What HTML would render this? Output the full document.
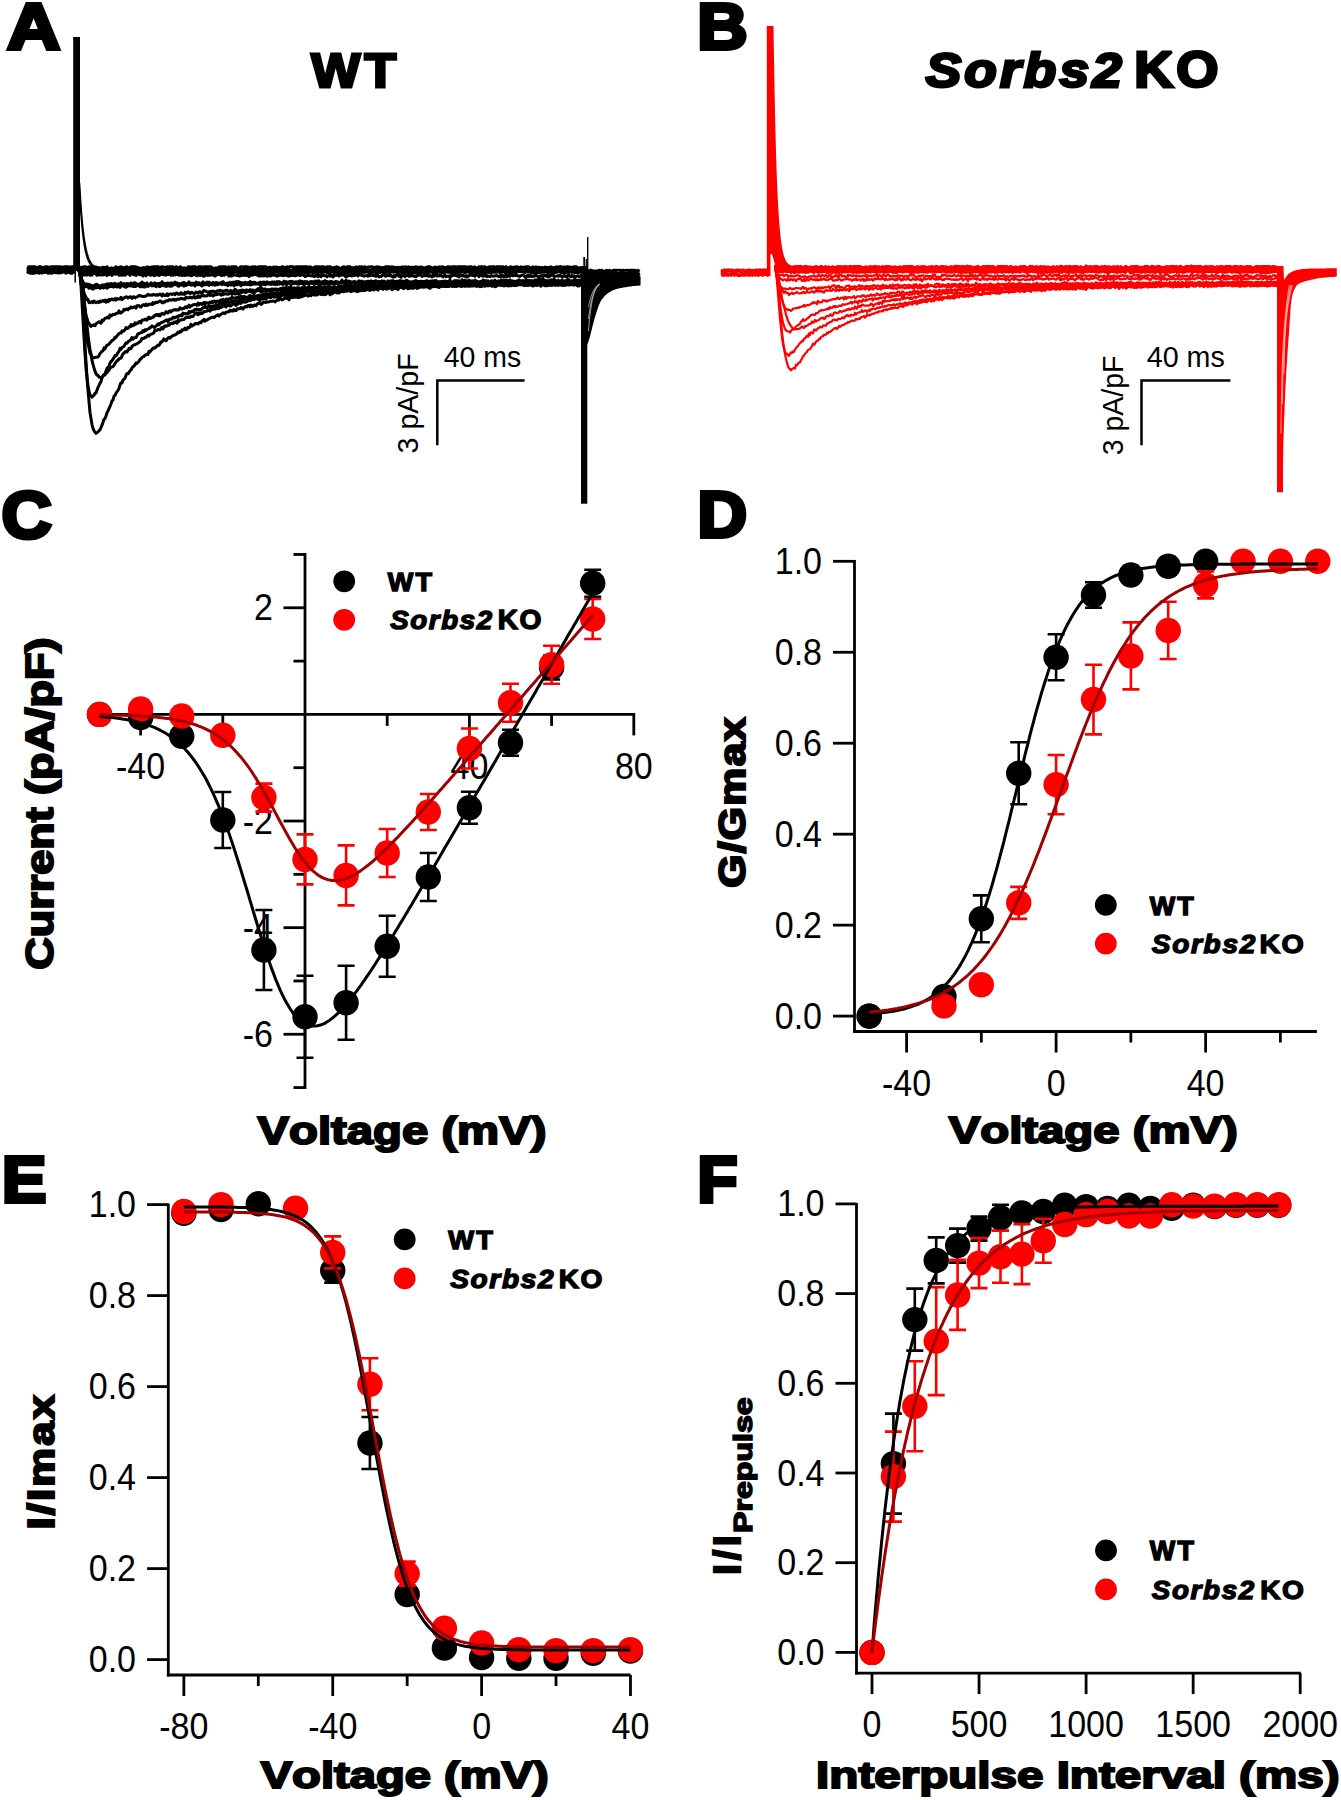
<!DOCTYPE html>
<html><head><meta charset="utf-8"><title>Figure</title>
<style>
html,body{margin:0;padding:0;background:#fff;}
svg{display:block;}
text{font-family:"Liberation Sans",sans-serif;font-kerning:none;font-feature-settings:"kern" 0;}
</style></head><body>
<svg width="1341" height="1800" viewBox="0 0 1341 1800">
<rect width="1341" height="1800" fill="#fff"/>
<text transform="matrix(0.7378,0.0000,0.0000,0.6555,6.9627,49.4000)" font-size="100" font-weight="bold" font-style="normal" fill="#000" stroke="#000" stroke-width="6.039" stroke-linejoin="miter" stroke-miterlimit="2.5">A</text>
<text transform="matrix(0.6969,0.0000,0.0000,0.6555,697.1383,49.4000)" font-size="100" font-weight="bold" font-style="normal" fill="#000" stroke="#000" stroke-width="6.214" stroke-linejoin="miter" stroke-miterlimit="2.5">B</text>
<text transform="matrix(0.6959,0.0000,0.0000,0.6723,1.4456,538.0434)" font-size="100" font-weight="bold" font-style="normal" fill="#000" stroke="#000" stroke-width="6.140" stroke-linejoin="miter" stroke-miterlimit="2.5">C</text>
<text transform="matrix(0.6865,0.0000,0.0000,0.6541,697.4079,537.4000)" font-size="100" font-weight="bold" font-style="normal" fill="#000" stroke="#000" stroke-width="6.268" stroke-linejoin="miter" stroke-miterlimit="2.5">D</text>
<text transform="matrix(0.6648,0.0000,0.0000,0.6541,1.9526,1201.9000)" font-size="100" font-weight="bold" font-style="normal" fill="#000" stroke="#000" stroke-width="6.369" stroke-linejoin="miter" stroke-miterlimit="2.5">E</text>
<text transform="matrix(0.6544,0.0000,0.0000,0.6541,697.6223,1201.9000)" font-size="100" font-weight="bold" font-style="normal" fill="#000" stroke="#000" stroke-width="6.420" stroke-linejoin="miter" stroke-miterlimit="2.5">F</text>
<text transform="matrix(0.5188,0.0000,0.0000,0.4898,311.3493,86.5000)" font-size="100" font-weight="bold" font-style="normal" fill="#000" stroke="#000" stroke-width="5.951" stroke-linejoin="miter" stroke-miterlimit="2.5" letter-spacing="8.00">WT</text>
<text transform="matrix(0.5317,0.0000,0.0000,0.4780,925.6510,87.0332)" font-size="100" font-weight="bold" font-style="italic" fill="#000" stroke="#000" stroke-width="5.951" stroke-linejoin="miter" stroke-miterlimit="2.5" letter-spacing="6.00">Sorbs2</text>
<text transform="matrix(0.5426,0.0000,0.0000,0.4958,1134.2701,87.0159)" font-size="100" font-weight="bold" font-style="normal" fill="#000" stroke="#000" stroke-width="5.784" stroke-linejoin="miter" stroke-miterlimit="2.5" letter-spacing="5.00">KO</text>
<path d="M27.0 266.8 L28.5 267.1 L30.0 266.6 L31.5 266.5 L33.0 266.5 L34.5 266.5 L36.0 266.9 L37.5 268.0 L39.0 266.5 L40.5 266.5 L42.0 267.2 L43.5 267.1 L45.0 266.9 L46.5 266.5 L48.0 266.8 L49.5 267.4 L51.0 266.5 L52.5 266.5 L54.0 266.5 L55.5 266.5 L57.0 266.5 L58.5 266.6 L60.0 266.5 L61.5 267.0 L63.0 266.9 L64.5 266.6 L66.0 266.5 L67.5 266.5 L69.0 266.8 L70.5 266.9 L72.0 266.5 L73.5 266.5 L75.0 266.5" fill="none" stroke="#000" stroke-width="2.6" stroke-linejoin="round"/>
<path d="M27.0 267.7 L28.5 269.4 L30.0 267.7 L31.5 268.4 L33.0 269.2 L34.5 267.9 L36.0 268.3 L37.5 268.5 L39.0 268.5 L40.5 267.3 L42.0 268.5 L43.5 269.6 L45.0 267.0 L46.5 269.2 L48.0 268.5 L49.5 267.8 L51.0 270.2 L52.5 269.1 L54.0 267.3 L55.5 268.5 L57.0 268.9 L58.5 268.2 L60.0 269.0 L61.5 268.3 L63.0 269.0 L64.5 269.7 L66.0 267.8 L67.5 268.6 L69.0 268.0 L70.5 268.5 L72.0 267.3 L73.5 267.9 L75.0 268.2" fill="none" stroke="#000" stroke-width="2.6" stroke-linejoin="round"/>
<path d="M27.0 270.8 L28.5 271.0 L30.0 268.8 L31.5 269.3 L33.0 270.6 L34.5 268.2 L36.0 269.6 L37.5 269.9 L39.0 271.1 L40.5 270.6 L42.0 269.7 L43.5 269.7 L45.0 269.8 L46.5 271.4 L48.0 269.6 L49.5 269.7 L51.0 270.3 L52.5 269.9 L54.0 269.8 L55.5 269.0 L57.0 270.0 L58.5 269.6 L60.0 271.0 L61.5 270.6 L63.0 270.0 L64.5 270.6 L66.0 269.7 L67.5 270.9 L69.0 270.0 L70.5 270.5 L72.0 268.8 L73.5 270.3 L75.0 268.5" fill="none" stroke="#000" stroke-width="2.6" stroke-linejoin="round"/>
<path d="M27.0 269.8 L28.5 271.3 L30.0 270.8 L31.5 271.7 L33.0 273.5 L34.5 270.9 L36.0 271.0 L37.5 271.8 L39.0 272.0 L40.5 271.4 L42.0 271.4 L43.5 272.2 L45.0 272.1 L46.5 270.7 L48.0 271.5 L49.5 271.6 L51.0 270.7 L52.5 271.8 L54.0 270.8 L55.5 272.5 L57.0 271.8 L58.5 271.7 L60.0 271.1 L61.5 271.5 L63.0 269.8 L64.5 270.6 L66.0 271.9 L67.5 269.7 L69.0 272.4 L70.5 270.0 L72.0 272.3 L73.5 270.8 L75.0 272.3" fill="none" stroke="#000" stroke-width="2.6" stroke-linejoin="round"/>
<path d="M27.0 273.3 L28.5 271.8 L30.0 273.5 L31.5 273.5 L33.0 273.1 L34.5 273.0 L36.0 273.1 L37.5 272.3 L39.0 273.5 L40.5 272.7 L42.0 273.2 L43.5 272.5 L45.0 272.6 L46.5 272.1 L48.0 273.5 L49.5 273.1 L51.0 273.5 L52.5 273.2 L54.0 272.6 L55.5 272.9 L57.0 272.7 L58.5 273.2 L60.0 272.9 L61.5 272.9 L63.0 272.0 L64.5 272.5 L66.0 273.5 L67.5 272.6 L69.0 272.3 L70.5 273.5 L72.0 273.5 L73.5 271.9 L75.0 273.0" fill="none" stroke="#000" stroke-width="2.6" stroke-linejoin="round"/>
<rect x="73.2" y="37" width="6.8" height="234" fill="#000"/>
<line x1="75.20" y1="265.00" x2="75.20" y2="282.50" stroke="#000" stroke-width="1.5" stroke-linecap="butt"/>
<path d="M79.5 183.0 L80.0 192.0 L80.5 200.0 L81.0 207.2 L81.5 213.7 L82.0 219.5 L82.5 224.7 L83.0 229.3 L83.5 233.5 L84.0 237.3 L84.5 240.7 L85.0 243.7 L85.5 246.4 L86.0 248.8 L86.5 251.0 L87.0 253.0 L87.5 254.7 L88.0 256.3 L88.5 257.7 L89.0 259.0 L89.5 260.1 L90.0 261.1 L90.5 262.0 L91.0 262.9 L91.5 263.6 L92.0 264.3 L92.5 264.8 L93.0 265.4 L93.5 265.9 L94.0 266.3 L94.5 266.7 L95.0 267.0 L95.5 267.3 L96.0 267.6 L96.5 267.8 L97.0 268.1 L97.5 268.3 L98.0 268.4 L98.5 268.6 L99.0 268.7 L99.5 268.9" fill="none" stroke="#000" stroke-width="1.6" stroke-linejoin="round"/>
<path d="M79.5 189.0 L80.0 198.3 L80.5 206.5 L81.0 213.8 L81.5 220.3 L82.0 226.0 L82.5 231.0 L83.0 235.5 L83.5 239.5 L84.0 243.0 L84.5 246.1 L85.0 248.8 L85.5 251.3 L86.0 253.4 L86.5 255.3 L87.0 257.0 L87.5 258.5 L88.0 259.8 L88.5 261.0 L89.0 262.0 L89.5 262.9 L90.0 263.7 L90.5 264.5 L91.0 265.1 L91.5 265.7 L92.0 266.2 L92.5 266.6 L93.0 267.0 L93.5 267.3 L94.0 267.6 L94.5 267.9 L95.0 268.2 L95.5 268.4 L96.0 268.6 L96.5 268.7 L97.0 268.9 L97.5 269.0 L98.0 269.1 L98.5 269.2 L99.0 269.3 L99.5 269.4" fill="none" stroke="#000" stroke-width="1.6" stroke-linejoin="round"/>
<path d="M79.0 269.6 L80.0 271.9 L81.0 281.2 L82.0 293.1 L83.0 309.1 L84.0 326.3 L85.0 345.1 L86.0 361.6 L87.0 377.3 L88.0 390.2 L89.0 401.5 L90.0 412.5 L91.0 418.5 L92.0 424.6 L93.0 428.3 L94.0 430.6 L95.0 432.1 L96.0 433.4 L97.0 432.6 L98.0 431.8 L99.0 430.7 L100.0 429.8 L101.0 427.5 L102.0 425.2 L103.0 422.2 L104.0 419.3 L105.0 418.5 L106.0 416.0 L107.0 412.8 L108.0 410.8 L109.0 408.6 L110.0 406.3 L111.0 404.0 L112.0 400.8 L113.0 400.1 L114.0 396.0 L115.0 395.4 L116.0 393.2 L117.0 391.6 L118.0 390.4 L119.0 388.3 L120.0 384.8 L121.0 382.7 L122.0 382.9 L123.0 380.0 L124.0 379.2 L125.0 378.3 L126.0 375.2 L127.0 373.5 L128.0 373.8 L129.0 372.4 L130.0 370.9 L131.0 369.9 L132.0 368.1 L133.0 366.4 L134.0 366.2 L135.0 364.6 L136.0 363.0 L137.0 363.5 L138.0 362.1 L139.0 361.4 L140.0 359.4 L141.0 358.7 L142.0 357.5 L143.0 356.7 L144.0 356.5 L145.0 355.0 L146.0 354.9 L147.0 354.0 L148.0 354.4 L149.0 351.2 L150.0 351.9 L151.0 350.5 L152.0 349.7 L153.0 347.9 L154.0 347.9 L155.0 348.0 L156.0 346.7 L157.0 346.1 L158.0 345.1 L159.0 345.4 L160.0 343.9 L161.0 341.7 L162.0 342.0 L163.0 340.5 L164.0 338.9 L165.0 340.2 L166.0 340.8 L167.0 339.3 L168.0 337.8 L169.0 337.4 L170.0 338.2 L171.0 336.9 L172.0 336.3 L173.0 335.6 L174.0 335.1 L175.0 335.1 L176.0 334.3 L177.0 333.5 L178.0 332.1 L179.0 332.6 L180.0 331.3 L181.0 332.0 L182.0 329.8 L183.0 330.1 L184.0 329.6 L185.0 328.2 L186.0 329.8 L187.0 329.2 L188.0 327.3 L189.0 327.7 L190.0 327.0 L191.0 324.4 L192.0 325.9 L193.0 325.2 L194.0 324.9 L195.0 323.6 L196.0 323.7 L197.0 323.4 L198.0 323.9 L199.0 322.8 L200.0 322.2 L201.0 322.8 L202.0 321.0 L203.0 320.7 L204.0 319.3 L205.0 321.2 L206.0 320.4 L207.0 320.0 L208.0 319.4 L209.0 318.6 L210.0 318.3 L211.0 317.6 L212.0 317.3 L213.0 317.1 L214.0 317.7 L215.0 316.7 L216.0 315.9 L217.0 315.2 L218.0 314.8 L219.0 316.0 L220.0 314.9 L221.0 314.3 L222.0 313.7 L223.0 312.8 L224.0 313.2 L225.0 313.5 L226.0 312.3 L227.0 312.1 L228.0 311.8 L229.0 311.7 L230.0 310.2 L231.0 310.9 L232.0 310.2 L233.0 311.1 L234.0 309.6 L235.0 310.3 L236.0 310.7 L237.0 309.1 L238.0 308.6 L239.0 308.9 L240.0 308.5 L241.0 307.5 L242.0 308.3 L243.0 309.1 L244.0 307.2 L245.0 307.0 L246.0 306.2 L247.0 306.9 L248.0 305.5 L249.0 305.4 L250.0 306.8 L251.0 305.0 L252.0 306.2 L253.0 306.3 L254.0 305.1 L255.0 305.1 L256.0 305.9 L257.0 304.1 L258.0 303.6 L259.0 302.9 L260.0 303.6 L261.0 304.4 L262.0 303.8 L263.0 302.3 L264.0 302.1 L265.0 302.2 L266.0 302.5 L267.0 302.0 L268.0 302.1 L269.0 301.9 L270.0 301.3 L271.0 301.3 L272.0 301.3 L273.0 300.9 L274.0 301.1 L275.0 301.9 L276.0 300.8 L277.0 300.3 L278.0 298.9 L279.0 300.1 L280.0 298.3 L281.0 298.5 L282.0 299.9 L283.0 299.7 L284.0 298.9 L285.0 297.6 L286.0 298.4 L287.0 298.0 L288.0 298.8 L289.0 299.8 L290.0 298.2 L291.0 297.3 L292.0 296.9 L293.0 297.5 L294.0 297.3 L295.0 296.5 L296.0 297.2 L297.0 296.2 L298.0 297.6 L299.0 297.5 L300.0 297.3 L301.0 296.1 L302.0 296.7 L303.0 296.1 L304.0 295.7 L305.0 295.6 L306.0 294.8 L307.0 294.6 L308.0 296.1 L309.0 295.2 L310.0 295.4 L311.0 295.8 L312.0 293.8 L313.0 294.3 L314.0 294.9 L315.0 294.9 L316.0 294.3 L317.0 295.1 L318.0 294.4 L319.0 293.3 L320.0 293.4 L321.0 294.5 L322.0 294.2 L323.0 292.4 L324.0 294.6 L325.0 293.9 L326.0 294.4 L327.0 293.0 L328.0 293.0 L329.0 292.3 L330.0 294.8 L331.0 292.8 L332.0 293.9 L333.0 292.3 L334.0 292.7 L335.0 291.3 L336.0 292.2 L337.0 293.0 L338.0 291.4 L339.0 292.9 L340.0 292.3 L341.0 291.2 L342.0 291.5 L343.0 291.5 L344.0 291.7 L345.0 291.2 L346.0 291.0 L347.0 291.2 L348.0 290.7 L349.0 290.4 L350.0 291.2 L351.0 291.7 L352.0 290.0 L353.0 291.0 L354.0 290.4 L355.0 290.1 L356.0 291.3 L357.0 290.3 L358.0 291.6 L359.0 290.0 L360.0 290.7 L361.0 290.2 L362.0 289.8 L363.0 290.7 L364.0 290.1 L365.0 290.5 L366.0 290.0 L367.0 289.2 L368.0 289.8 L369.0 289.9 L370.0 290.4 L371.0 289.1 L372.0 289.6 L373.0 288.4 L374.0 290.0 L375.0 288.7 L376.0 288.1 L377.0 289.3 L378.0 290.1 L379.0 288.2 L380.0 288.4 L381.0 288.6 L382.0 288.3 L383.0 289.3 L384.0 288.4 L385.0 288.4 L386.0 289.2 L387.0 288.3 L388.0 289.0 L389.0 288.0 L390.0 287.8 L391.0 287.3 L392.0 289.8 L393.0 288.2 L394.0 288.6 L395.0 288.4 L396.0 288.4 L397.0 288.3 L398.0 289.6 L399.0 287.5 L400.0 287.0 L401.0 287.4 L402.0 287.1 L403.0 288.5 L404.0 288.5 L405.0 287.2 L406.0 286.9 L407.0 287.6 L408.0 288.8 L409.0 285.8 L410.0 288.1 L411.0 286.9 L412.0 288.3 L413.0 286.8 L414.0 287.3 L415.0 286.4 L416.0 286.8 L417.0 288.4 L418.0 288.0 L419.0 287.1 L420.0 286.7 L421.0 286.0 L422.0 287.0 L423.0 287.2 L424.0 287.1 L425.0 287.1 L426.0 286.3 L427.0 287.0 L428.0 287.0 L429.0 287.9 L430.0 288.3 L431.0 286.8 L432.0 286.4 L433.0 286.8 L434.0 286.4 L435.0 286.3 L436.0 286.7 L437.0 286.0 L438.0 287.1 L439.0 286.6 L440.0 286.8 L441.0 286.5 L442.0 286.1 L443.0 285.9 L444.0 286.4 L445.0 286.1 L446.0 286.6 L447.0 286.5 L448.0 285.5 L449.0 286.4 L450.0 285.4 L451.0 285.9 L452.0 286.1 L453.0 284.8 L454.0 286.3 L455.0 286.4 L456.0 286.1 L457.0 285.9 L458.0 285.9 L459.0 285.5 L460.0 285.9 L461.0 285.7 L462.0 286.1 L463.0 285.2 L464.0 286.2 L465.0 286.1 L466.0 285.9 L467.0 285.7 L468.0 286.3 L469.0 284.8 L470.0 286.2 L471.0 286.0 L472.0 286.1 L473.0 286.1 L474.0 285.4 L475.0 285.6 L476.0 286.2 L477.0 286.1 L478.0 285.9 L479.0 284.7 L480.0 286.1 L481.0 286.5 L482.0 286.4 L483.0 285.8 L484.0 284.5 L485.0 286.3 L486.0 285.5 L487.0 283.8 L488.0 285.8 L489.0 284.5 L490.0 284.6 L491.0 285.1 L492.0 286.4 L493.0 285.2 L494.0 285.6 L495.0 286.7 L496.0 286.5 L497.0 285.3 L498.0 285.2 L499.0 284.5 L500.0 284.9 L501.0 285.6 L502.0 285.6 L503.0 285.4 L504.0 286.0 L505.0 284.7 L506.0 285.2 L507.0 285.8 L508.0 285.7 L509.0 286.0 L510.0 285.5 L511.0 285.0 L512.0 285.4 L513.0 284.5 L514.0 284.0 L515.0 285.6 L516.0 285.1 L517.0 285.3 L518.0 283.9 L519.0 284.8 L520.0 284.7 L521.0 284.5 L522.0 283.5 L523.0 284.8 L524.0 285.7 L525.0 285.3 L526.0 284.6 L527.0 285.0 L528.0 285.5 L529.0 283.1 L530.0 284.9 L531.0 285.3 L532.0 285.4 L533.0 286.1 L534.0 285.7 L535.0 285.1 L536.0 285.1 L537.0 285.5 L538.0 284.5 L539.0 284.9 L540.0 285.5 L541.0 286.2 L542.0 284.7 L543.0 284.8 L544.0 285.0 L545.0 285.8 L546.0 284.8 L547.0 285.8 L548.0 284.1 L549.0 284.7 L550.0 284.6 L551.0 285.3 L552.0 285.5 L553.0 283.7 L554.0 284.1 L555.0 285.0 L556.0 284.3 L557.0 283.7 L558.0 285.4 L559.0 285.1 L560.0 285.0 L561.0 284.4 L562.0 285.4 L563.0 284.5 L564.0 285.4 L565.0 284.0 L566.0 284.1 L567.0 284.8 L568.0 284.1 L569.0 285.1 L570.0 284.8 L571.0 284.0 L572.0 284.7 L573.0 284.4 L574.0 285.2 L575.0 284.1 L576.0 284.3 L577.0 285.4 L578.0 286.1 L579.0 286.0 L580.0 284.6 L581.0 284.7 L582.0 285.6" fill="none" stroke="#000" stroke-width="3" stroke-linejoin="round"/>
<path d="M79.0 269.9 L80.0 274.0 L81.0 285.8 L82.0 302.3 L83.0 319.9 L84.0 337.4 L85.0 353.6 L86.0 368.3 L87.0 377.6 L88.0 385.7 L89.0 391.2 L90.0 394.9 L91.0 396.0 L92.0 397.2 L93.0 395.9 L94.0 395.3 L95.0 393.3 L96.0 393.0 L97.0 390.1 L98.0 387.4 L99.0 385.4 L100.0 383.2 L101.0 381.6 L102.0 377.7 L103.0 375.9 L104.0 374.2 L105.0 374.2 L106.0 371.1 L107.0 368.4 L108.0 367.2 L109.0 366.4 L110.0 363.1 L111.0 361.4 L112.0 360.9 L113.0 359.0 L114.0 357.7 L115.0 355.5 L116.0 355.9 L117.0 354.5 L118.0 352.5 L119.0 351.4 L120.0 348.4 L121.0 349.2 L122.0 347.6 L123.0 347.0 L124.0 346.3 L125.0 344.6 L126.0 342.8 L127.0 343.3 L128.0 341.7 L129.0 341.2 L130.0 340.2 L131.0 339.6 L132.0 337.5 L133.0 339.2 L134.0 337.8 L135.0 337.7 L136.0 337.7 L137.0 335.6 L138.0 333.7 L139.0 333.7 L140.0 332.9 L141.0 332.7 L142.0 332.5 L143.0 330.5 L144.0 331.6 L145.0 329.7 L146.0 330.4 L147.0 329.6 L148.0 328.9 L149.0 328.6 L150.0 327.7 L151.0 327.2 L152.0 325.9 L153.0 326.6 L154.0 327.4 L155.0 327.0 L156.0 326.1 L157.0 325.2 L158.0 323.8 L159.0 324.8 L160.0 323.3 L161.0 322.9 L162.0 322.3 L163.0 322.1 L164.0 321.3 L165.0 321.1 L166.0 320.0 L167.0 320.1 L168.0 321.6 L169.0 319.5 L170.0 319.0 L171.0 319.2 L172.0 318.9 L173.0 317.3 L174.0 317.5 L175.0 318.0 L176.0 317.1 L177.0 316.7 L178.0 317.3 L179.0 315.4 L180.0 315.6 L181.0 314.8 L182.0 315.9 L183.0 313.1 L184.0 313.7 L185.0 313.5 L186.0 314.0 L187.0 313.6 L188.0 313.9 L189.0 311.5 L190.0 312.8 L191.0 311.7 L192.0 311.2 L193.0 311.7 L194.0 310.4 L195.0 309.3 L196.0 310.2 L197.0 309.1 L198.0 309.4 L199.0 309.9 L200.0 309.5 L201.0 310.2 L202.0 308.6 L203.0 307.4 L204.0 307.7 L205.0 307.3 L206.0 306.9 L207.0 307.8 L208.0 306.7 L209.0 305.6 L210.0 307.2 L211.0 306.4 L212.0 306.4 L213.0 306.0 L214.0 306.2 L215.0 305.5 L216.0 306.1 L217.0 305.3 L218.0 305.0 L219.0 304.8 L220.0 303.3 L221.0 304.0 L222.0 303.7 L223.0 303.8 L224.0 302.5 L225.0 304.4 L226.0 303.1 L227.0 302.0 L228.0 301.4 L229.0 302.2 L230.0 302.1 L231.0 301.5 L232.0 301.9 L233.0 301.1 L234.0 301.8 L235.0 300.7 L236.0 301.0 L237.0 301.5 L238.0 302.4 L239.0 299.7 L240.0 299.9 L241.0 299.5 L242.0 300.5 L243.0 298.9 L244.0 299.2 L245.0 299.4 L246.0 298.5 L247.0 298.4 L248.0 298.5 L249.0 297.2 L250.0 297.5 L251.0 298.1 L252.0 298.3 L253.0 297.9 L254.0 296.7 L255.0 297.4 L256.0 298.2 L257.0 297.8 L258.0 297.2 L259.0 296.5 L260.0 297.4 L261.0 296.4 L262.0 295.9 L263.0 296.0 L264.0 297.4 L265.0 296.4 L266.0 296.9 L267.0 295.7 L268.0 296.5 L269.0 295.3 L270.0 295.5 L271.0 297.2 L272.0 295.9 L273.0 294.9 L274.0 295.0 L275.0 295.2 L276.0 295.7 L277.0 294.4 L278.0 293.4 L279.0 294.3 L280.0 294.3 L281.0 294.3 L282.0 295.0 L283.0 294.2 L284.0 294.4 L285.0 293.0 L286.0 294.2 L287.0 295.0 L288.0 294.0 L289.0 293.5 L290.0 293.3 L291.0 294.3 L292.0 292.3 L293.0 292.8 L294.0 293.1 L295.0 293.2 L296.0 292.3 L297.0 292.7 L298.0 292.2 L299.0 292.4 L300.0 292.1 L301.0 291.3 L302.0 292.0 L303.0 292.5 L304.0 291.1 L305.0 291.5 L306.0 292.1 L307.0 290.8 L308.0 291.6 L309.0 290.6 L310.0 292.1 L311.0 292.8 L312.0 292.5 L313.0 290.9 L314.0 291.4 L315.0 290.9 L316.0 290.8 L317.0 291.8 L318.0 289.7 L319.0 291.3 L320.0 290.4 L321.0 291.3 L322.0 290.4 L323.0 289.7 L324.0 290.3 L325.0 290.6 L326.0 290.0 L327.0 290.3 L328.0 289.5 L329.0 288.3 L330.0 290.3 L331.0 290.1 L332.0 289.7 L333.0 289.5 L334.0 290.1 L335.0 289.0 L336.0 288.8 L337.0 289.1 L338.0 290.0 L339.0 288.1 L340.0 289.9 L341.0 288.5 L342.0 288.1 L343.0 289.7 L344.0 288.7 L345.0 287.8 L346.0 288.4 L347.0 289.3 L348.0 289.4 L349.0 288.2 L350.0 288.7 L351.0 288.9 L352.0 287.9 L353.0 288.5 L354.0 288.2 L355.0 287.8 L356.0 287.7 L357.0 288.1 L358.0 288.0 L359.0 287.5 L360.0 287.6 L361.0 288.6 L362.0 287.9 L363.0 288.4 L364.0 288.5 L365.0 288.0 L366.0 289.2 L367.0 287.0 L368.0 288.1 L369.0 287.2 L370.0 288.7 L371.0 288.5 L372.0 285.9 L373.0 286.6 L374.0 287.7 L375.0 287.7 L376.0 287.6 L377.0 287.0 L378.0 287.4 L379.0 287.5 L380.0 286.9 L381.0 287.6 L382.0 285.3 L383.0 287.3 L384.0 286.1 L385.0 287.4 L386.0 286.6 L387.0 286.1 L388.0 286.9 L389.0 286.0 L390.0 285.9 L391.0 285.4 L392.0 286.5 L393.0 286.8 L394.0 287.1 L395.0 286.3 L396.0 287.1 L397.0 286.3 L398.0 286.2 L399.0 286.6 L400.0 286.9 L401.0 285.9 L402.0 286.0 L403.0 286.0 L404.0 286.1 L405.0 285.4 L406.0 286.7 L407.0 285.7 L408.0 286.3 L409.0 285.3 L410.0 286.1 L411.0 286.1 L412.0 285.5 L413.0 287.2 L414.0 286.0 L415.0 287.0 L416.0 286.4 L417.0 285.2 L418.0 285.4 L419.0 285.9 L420.0 285.6 L421.0 285.6 L422.0 285.3 L423.0 284.3 L424.0 285.3 L425.0 283.9 L426.0 285.7 L427.0 284.9 L428.0 284.9 L429.0 285.2 L430.0 285.5 L431.0 284.3 L432.0 284.1 L433.0 284.5 L434.0 283.8 L435.0 284.5 L436.0 286.3 L437.0 284.4 L438.0 285.6 L439.0 284.2 L440.0 285.3 L441.0 284.9 L442.0 285.0 L443.0 285.4 L444.0 286.2 L445.0 285.1 L446.0 285.1 L447.0 284.3 L448.0 285.3 L449.0 284.7 L450.0 285.5 L451.0 284.8 L452.0 286.1 L453.0 283.4 L454.0 284.6 L455.0 285.4 L456.0 284.5 L457.0 284.2 L458.0 284.6 L459.0 283.8 L460.0 284.8 L461.0 286.4 L462.0 285.5 L463.0 283.9 L464.0 284.0 L465.0 284.3 L466.0 285.3 L467.0 284.0 L468.0 284.1 L469.0 285.2 L470.0 285.1 L471.0 284.3 L472.0 283.7 L473.0 283.4 L474.0 284.0 L475.0 282.9 L476.0 285.0 L477.0 284.0 L478.0 284.7 L479.0 285.7 L480.0 285.2 L481.0 283.6 L482.0 285.0 L483.0 285.1 L484.0 283.8 L485.0 283.6 L486.0 284.2 L487.0 283.2 L488.0 285.3 L489.0 282.6 L490.0 283.5 L491.0 284.0 L492.0 284.1 L493.0 284.3 L494.0 284.4 L495.0 284.0 L496.0 285.0 L497.0 282.7 L498.0 284.1 L499.0 283.6 L500.0 284.2 L501.0 284.3 L502.0 283.5 L503.0 283.6 L504.0 284.6 L505.0 284.3 L506.0 283.6 L507.0 285.5 L508.0 285.6 L509.0 283.0 L510.0 284.2 L511.0 285.8 L512.0 284.5 L513.0 284.1 L514.0 283.8 L515.0 283.6 L516.0 283.8 L517.0 283.5 L518.0 284.4 L519.0 283.6 L520.0 283.6 L521.0 283.1 L522.0 283.9 L523.0 283.3 L524.0 283.7 L525.0 284.6 L526.0 284.1 L527.0 284.2 L528.0 284.1 L529.0 283.9 L530.0 283.7 L531.0 283.6 L532.0 284.3 L533.0 283.0 L534.0 284.7 L535.0 283.8 L536.0 283.2 L537.0 283.4 L538.0 283.3 L539.0 283.9 L540.0 283.2 L541.0 284.5 L542.0 283.2 L543.0 282.1 L544.0 283.2 L545.0 282.3 L546.0 283.7 L547.0 284.4 L548.0 284.1 L549.0 282.7 L550.0 283.1 L551.0 284.9 L552.0 283.9 L553.0 283.6 L554.0 284.4 L555.0 285.3 L556.0 284.5 L557.0 283.7 L558.0 283.9 L559.0 284.0 L560.0 283.2 L561.0 282.8 L562.0 283.6 L563.0 282.9 L564.0 283.5 L565.0 283.6 L566.0 285.2 L567.0 283.0 L568.0 283.5 L569.0 283.4 L570.0 283.8 L571.0 284.3 L572.0 283.2 L573.0 282.9 L574.0 282.4 L575.0 282.9 L576.0 283.9 L577.0 283.5 L578.0 282.8 L579.0 283.2 L580.0 283.5 L581.0 283.8 L582.0 283.1" fill="none" stroke="#000" stroke-width="3" stroke-linejoin="round"/>
<path d="M79.0 269.8 L80.0 270.7 L81.0 274.8 L82.0 282.6 L83.0 287.5 L84.0 297.7 L85.0 307.6 L86.0 316.7 L87.0 325.6 L88.0 334.8 L89.0 342.6 L90.0 349.5 L91.0 354.2 L92.0 360.5 L93.0 364.3 L94.0 367.9 L95.0 371.2 L96.0 373.6 L97.0 375.3 L98.0 375.3 L99.0 377.0 L100.0 377.4 L101.0 377.4 L102.0 377.3 L103.0 375.7 L104.0 375.0 L105.0 375.0 L106.0 372.5 L107.0 372.7 L108.0 371.1 L109.0 370.1 L110.0 368.1 L111.0 367.5 L112.0 367.0 L113.0 366.4 L114.0 365.4 L115.0 363.5 L116.0 362.2 L117.0 360.7 L118.0 360.4 L119.0 358.9 L120.0 358.4 L121.0 358.2 L122.0 355.9 L123.0 353.9 L124.0 353.3 L125.0 351.9 L126.0 351.2 L127.0 352.0 L128.0 350.4 L129.0 348.3 L130.0 348.9 L131.0 348.5 L132.0 346.5 L133.0 345.5 L134.0 345.0 L135.0 344.6 L136.0 344.1 L137.0 343.8 L138.0 343.1 L139.0 342.3 L140.0 341.7 L141.0 340.6 L142.0 338.4 L143.0 338.7 L144.0 338.3 L145.0 337.2 L146.0 337.5 L147.0 336.0 L148.0 335.0 L149.0 336.1 L150.0 334.9 L151.0 334.0 L152.0 334.0 L153.0 333.5 L154.0 332.4 L155.0 329.9 L156.0 330.7 L157.0 330.3 L158.0 329.4 L159.0 329.7 L160.0 329.9 L161.0 328.2 L162.0 327.3 L163.0 329.0 L164.0 326.8 L165.0 325.8 L166.0 326.3 L167.0 326.0 L168.0 324.7 L169.0 325.3 L170.0 324.0 L171.0 323.2 L172.0 323.6 L173.0 323.6 L174.0 322.1 L175.0 322.4 L176.0 321.7 L177.0 323.3 L178.0 320.4 L179.0 321.5 L180.0 320.1 L181.0 319.7 L182.0 319.9 L183.0 319.6 L184.0 319.5 L185.0 318.4 L186.0 317.4 L187.0 317.1 L188.0 317.5 L189.0 317.2 L190.0 317.4 L191.0 316.3 L192.0 316.4 L193.0 316.4 L194.0 315.1 L195.0 313.6 L196.0 313.5 L197.0 313.0 L198.0 314.8 L199.0 312.8 L200.0 313.9 L201.0 313.1 L202.0 313.6 L203.0 312.8 L204.0 311.7 L205.0 311.4 L206.0 311.3 L207.0 311.0 L208.0 310.2 L209.0 310.3 L210.0 311.2 L211.0 308.6 L212.0 309.7 L213.0 308.6 L214.0 309.1 L215.0 309.2 L216.0 308.3 L217.0 308.7 L218.0 306.7 L219.0 308.4 L220.0 306.9 L221.0 307.5 L222.0 307.0 L223.0 304.8 L224.0 305.8 L225.0 306.2 L226.0 306.9 L227.0 305.8 L228.0 305.6 L229.0 304.1 L230.0 305.9 L231.0 305.9 L232.0 304.5 L233.0 304.1 L234.0 302.9 L235.0 304.4 L236.0 305.5 L237.0 303.9 L238.0 304.0 L239.0 303.3 L240.0 302.0 L241.0 303.4 L242.0 301.4 L243.0 302.0 L244.0 302.1 L245.0 302.3 L246.0 301.8 L247.0 301.6 L248.0 300.6 L249.0 300.0 L250.0 300.8 L251.0 300.1 L252.0 299.5 L253.0 299.3 L254.0 299.7 L255.0 298.5 L256.0 298.7 L257.0 298.3 L258.0 299.4 L259.0 299.4 L260.0 300.4 L261.0 297.8 L262.0 298.2 L263.0 299.1 L264.0 298.2 L265.0 297.9 L266.0 299.2 L267.0 297.6 L268.0 296.9 L269.0 296.6 L270.0 297.6 L271.0 297.4 L272.0 296.1 L273.0 296.2 L274.0 297.2 L275.0 297.0 L276.0 296.0 L277.0 296.8 L278.0 296.6 L279.0 294.8 L280.0 295.7 L281.0 296.1 L282.0 295.3 L283.0 294.0 L284.0 295.2 L285.0 295.8 L286.0 296.3 L287.0 293.5 L288.0 296.7 L289.0 294.0 L290.0 295.3 L291.0 295.4 L292.0 295.1 L293.0 294.4 L294.0 293.4 L295.0 294.5 L296.0 293.4 L297.0 292.1 L298.0 295.7 L299.0 294.1 L300.0 294.8 L301.0 292.7 L302.0 294.3 L303.0 294.3 L304.0 294.1 L305.0 292.9 L306.0 292.0 L307.0 292.6 L308.0 291.1 L309.0 291.3 L310.0 292.5 L311.0 291.6 L312.0 292.1 L313.0 292.1 L314.0 293.4 L315.0 292.9 L316.0 291.8 L317.0 292.6 L318.0 291.1 L319.0 291.3 L320.0 292.1 L321.0 290.5 L322.0 291.1 L323.0 290.3 L324.0 291.2 L325.0 292.2 L326.0 290.4 L327.0 291.0 L328.0 290.2 L329.0 289.9 L330.0 289.8 L331.0 291.6 L332.0 292.1 L333.0 290.7 L334.0 289.8 L335.0 290.7 L336.0 289.9 L337.0 290.7 L338.0 290.2 L339.0 290.2 L340.0 290.3 L341.0 289.4 L342.0 289.5 L343.0 288.5 L344.0 289.3 L345.0 288.5 L346.0 289.4 L347.0 288.7 L348.0 289.4 L349.0 289.6 L350.0 288.2 L351.0 288.6 L352.0 288.4 L353.0 289.5 L354.0 290.1 L355.0 289.5 L356.0 288.6 L357.0 289.8 L358.0 287.6 L359.0 289.7 L360.0 288.1 L361.0 286.6 L362.0 290.3 L363.0 289.5 L364.0 287.6 L365.0 288.4 L366.0 288.1 L367.0 288.3 L368.0 287.1 L369.0 287.6 L370.0 288.3 L371.0 288.1 L372.0 288.8 L373.0 287.9 L374.0 289.5 L375.0 287.3 L376.0 287.9 L377.0 286.3 L378.0 286.7 L379.0 288.5 L380.0 286.9 L381.0 287.8 L382.0 287.4 L383.0 286.6 L384.0 287.1 L385.0 286.9 L386.0 286.9 L387.0 287.7 L388.0 287.6 L389.0 286.7 L390.0 286.4 L391.0 287.2 L392.0 286.9 L393.0 287.7 L394.0 288.8 L395.0 287.4 L396.0 286.8 L397.0 286.7 L398.0 286.1 L399.0 286.1 L400.0 286.0 L401.0 286.3 L402.0 286.3 L403.0 287.1 L404.0 286.2 L405.0 286.3 L406.0 285.6 L407.0 287.6 L408.0 286.7 L409.0 287.6 L410.0 286.9 L411.0 287.3 L412.0 286.1 L413.0 286.7 L414.0 288.1 L415.0 285.3 L416.0 286.9 L417.0 287.2 L418.0 286.3 L419.0 286.5 L420.0 286.9 L421.0 285.5 L422.0 286.2 L423.0 285.3 L424.0 285.4 L425.0 285.4 L426.0 285.7 L427.0 285.9 L428.0 286.0 L429.0 284.7 L430.0 287.1 L431.0 286.5 L432.0 286.1 L433.0 285.3 L434.0 285.5 L435.0 285.9 L436.0 285.8 L437.0 284.3 L438.0 286.0 L439.0 287.5 L440.0 284.1 L441.0 286.1 L442.0 285.6 L443.0 285.2 L444.0 286.3 L445.0 284.4 L446.0 285.4 L447.0 286.3 L448.0 285.1 L449.0 284.9 L450.0 285.2 L451.0 284.8 L452.0 286.2 L453.0 284.4 L454.0 285.7 L455.0 284.2 L456.0 285.5 L457.0 284.9 L458.0 283.1 L459.0 285.0 L460.0 284.2 L461.0 284.6 L462.0 286.0 L463.0 284.1 L464.0 284.1 L465.0 285.9 L466.0 284.9 L467.0 285.9 L468.0 285.0 L469.0 284.1 L470.0 284.7 L471.0 285.6 L472.0 285.4 L473.0 284.7 L474.0 284.7 L475.0 284.6 L476.0 284.2 L477.0 286.0 L478.0 284.6 L479.0 283.8 L480.0 284.2 L481.0 285.1 L482.0 285.0 L483.0 284.4 L484.0 284.0 L485.0 284.5 L486.0 283.3 L487.0 283.5 L488.0 285.0 L489.0 284.1 L490.0 284.7 L491.0 285.3 L492.0 284.9 L493.0 284.4 L494.0 285.9 L495.0 284.8 L496.0 284.1 L497.0 284.8 L498.0 284.6 L499.0 283.7 L500.0 284.3 L501.0 284.1 L502.0 282.8 L503.0 284.1 L504.0 284.0 L505.0 283.9 L506.0 283.0 L507.0 283.9 L508.0 284.1 L509.0 284.2 L510.0 283.3 L511.0 284.6 L512.0 283.3 L513.0 284.0 L514.0 285.0 L515.0 283.6 L516.0 283.7 L517.0 284.8 L518.0 283.8 L519.0 283.8 L520.0 284.2 L521.0 284.8 L522.0 282.4 L523.0 283.4 L524.0 283.3 L525.0 283.2 L526.0 283.4 L527.0 283.4 L528.0 284.2 L529.0 283.3 L530.0 284.0 L531.0 284.2 L532.0 283.4 L533.0 284.0 L534.0 285.1 L535.0 284.1 L536.0 283.4 L537.0 283.8 L538.0 283.2 L539.0 284.0 L540.0 284.5 L541.0 283.2 L542.0 283.7 L543.0 284.6 L544.0 283.4 L545.0 283.9 L546.0 283.1 L547.0 283.2 L548.0 283.4 L549.0 285.3 L550.0 283.5 L551.0 283.4 L552.0 283.3 L553.0 283.6 L554.0 284.2 L555.0 283.8 L556.0 285.1 L557.0 283.9 L558.0 284.7 L559.0 283.9 L560.0 284.1 L561.0 282.7 L562.0 283.6 L563.0 283.6 L564.0 283.5 L565.0 282.1 L566.0 284.3 L567.0 283.4 L568.0 283.3 L569.0 283.4 L570.0 283.5 L571.0 283.9 L572.0 282.7 L573.0 282.9 L574.0 283.8 L575.0 283.7 L576.0 283.3 L577.0 283.2 L578.0 283.0 L579.0 283.5 L580.0 284.4 L581.0 282.8 L582.0 284.6" fill="none" stroke="#000" stroke-width="3" stroke-linejoin="round"/>
<path d="M79.0 270.6 L80.0 272.9 L81.0 280.0 L82.0 287.7 L83.0 298.4 L84.0 309.9 L85.0 321.0 L86.0 330.3 L87.0 337.9 L88.0 344.6 L89.0 347.9 L90.0 353.3 L91.0 354.5 L92.0 356.7 L93.0 357.8 L94.0 357.7 L95.0 357.4 L96.0 357.2 L97.0 357.2 L98.0 356.8 L99.0 355.7 L100.0 353.5 L101.0 352.5 L102.0 351.2 L103.0 350.9 L104.0 347.9 L105.0 349.0 L106.0 346.6 L107.0 345.2 L108.0 344.8 L109.0 344.2 L110.0 342.6 L111.0 342.0 L112.0 340.4 L113.0 340.1 L114.0 339.2 L115.0 337.3 L116.0 337.5 L117.0 335.8 L118.0 334.9 L119.0 333.4 L120.0 333.1 L121.0 333.1 L122.0 330.9 L123.0 331.5 L124.0 330.6 L125.0 329.9 L126.0 327.6 L127.0 328.4 L128.0 328.3 L129.0 326.8 L130.0 326.8 L131.0 324.5 L132.0 326.1 L133.0 324.7 L134.0 325.2 L135.0 322.8 L136.0 324.1 L137.0 323.0 L138.0 323.3 L139.0 321.6 L140.0 321.4 L141.0 322.9 L142.0 320.3 L143.0 320.0 L144.0 319.9 L145.0 319.0 L146.0 320.1 L147.0 320.1 L148.0 318.0 L149.0 317.0 L150.0 318.6 L151.0 318.2 L152.0 317.6 L153.0 317.5 L154.0 315.8 L155.0 315.9 L156.0 314.7 L157.0 314.4 L158.0 315.7 L159.0 314.3 L160.0 316.0 L161.0 314.1 L162.0 313.3 L163.0 314.0 L164.0 314.4 L165.0 313.2 L166.0 311.7 L167.0 312.6 L168.0 313.0 L169.0 311.4 L170.0 310.9 L171.0 311.9 L172.0 311.0 L173.0 309.9 L174.0 310.1 L175.0 309.6 L176.0 310.0 L177.0 309.7 L178.0 310.1 L179.0 309.6 L180.0 307.7 L181.0 308.9 L182.0 309.0 L183.0 308.4 L184.0 308.6 L185.0 307.2 L186.0 306.7 L187.0 307.8 L188.0 306.2 L189.0 305.2 L190.0 307.2 L191.0 305.7 L192.0 305.8 L193.0 304.8 L194.0 304.6 L195.0 304.5 L196.0 304.9 L197.0 305.2 L198.0 303.1 L199.0 305.0 L200.0 303.5 L201.0 303.4 L202.0 304.4 L203.0 303.7 L204.0 302.4 L205.0 304.6 L206.0 302.5 L207.0 303.1 L208.0 302.9 L209.0 303.5 L210.0 302.0 L211.0 302.9 L212.0 301.5 L213.0 302.6 L214.0 301.1 L215.0 301.2 L216.0 302.6 L217.0 301.3 L218.0 301.0 L219.0 302.3 L220.0 300.8 L221.0 299.8 L222.0 300.8 L223.0 299.3 L224.0 300.7 L225.0 300.6 L226.0 299.2 L227.0 299.0 L228.0 299.4 L229.0 299.1 L230.0 298.3 L231.0 299.2 L232.0 297.2 L233.0 298.2 L234.0 298.1 L235.0 298.0 L236.0 298.3 L237.0 297.1 L238.0 298.2 L239.0 297.5 L240.0 297.0 L241.0 296.4 L242.0 296.4 L243.0 297.3 L244.0 296.3 L245.0 296.8 L246.0 297.4 L247.0 297.3 L248.0 297.5 L249.0 296.1 L250.0 295.4 L251.0 296.7 L252.0 296.1 L253.0 296.6 L254.0 295.6 L255.0 296.4 L256.0 296.0 L257.0 295.8 L258.0 295.5 L259.0 295.3 L260.0 295.1 L261.0 295.0 L262.0 295.4 L263.0 294.2 L264.0 295.7 L265.0 294.3 L266.0 294.9 L267.0 294.1 L268.0 293.8 L269.0 295.3 L270.0 293.6 L271.0 292.8 L272.0 293.1 L273.0 293.3 L274.0 294.9 L275.0 293.4 L276.0 293.8 L277.0 292.4 L278.0 293.2 L279.0 293.3 L280.0 294.0 L281.0 292.2 L282.0 293.0 L283.0 292.7 L284.0 291.7 L285.0 292.3 L286.0 292.0 L287.0 290.5 L288.0 292.4 L289.0 292.3 L290.0 291.5 L291.0 290.8 L292.0 292.7 L293.0 291.8 L294.0 292.2 L295.0 292.4 L296.0 290.9 L297.0 291.8 L298.0 291.0 L299.0 291.0 L300.0 290.9 L301.0 290.9 L302.0 291.6 L303.0 290.8 L304.0 290.5 L305.0 290.4 L306.0 290.7 L307.0 289.8 L308.0 290.0 L309.0 290.2 L310.0 289.8 L311.0 290.0 L312.0 289.6 L313.0 291.4 L314.0 290.8 L315.0 290.1 L316.0 289.7 L317.0 291.2 L318.0 289.8 L319.0 289.5 L320.0 289.7 L321.0 289.6 L322.0 290.3 L323.0 289.3 L324.0 290.7 L325.0 288.5 L326.0 289.6 L327.0 288.3 L328.0 290.2 L329.0 288.7 L330.0 288.8 L331.0 289.4 L332.0 289.6 L333.0 287.9 L334.0 288.3 L335.0 287.6 L336.0 288.6 L337.0 288.3 L338.0 288.1 L339.0 287.8 L340.0 288.0 L341.0 287.7 L342.0 288.5 L343.0 289.1 L344.0 286.7 L345.0 287.9 L346.0 287.6 L347.0 288.2 L348.0 287.1 L349.0 287.6 L350.0 287.0 L351.0 288.1 L352.0 287.7 L353.0 287.4 L354.0 287.8 L355.0 287.3 L356.0 286.3 L357.0 287.8 L358.0 287.5 L359.0 287.1 L360.0 287.9 L361.0 288.0 L362.0 286.3 L363.0 286.5 L364.0 288.1 L365.0 288.0 L366.0 286.4 L367.0 286.1 L368.0 286.4 L369.0 286.4 L370.0 285.6 L371.0 286.7 L372.0 285.8 L373.0 285.8 L374.0 287.2 L375.0 286.1 L376.0 286.4 L377.0 286.9 L378.0 287.0 L379.0 286.1 L380.0 286.4 L381.0 285.7 L382.0 287.5 L383.0 286.7 L384.0 285.4 L385.0 286.1 L386.0 286.6 L387.0 286.4 L388.0 287.3 L389.0 287.0 L390.0 285.6 L391.0 285.9 L392.0 285.0 L393.0 286.0 L394.0 285.9 L395.0 287.7 L396.0 285.8 L397.0 284.3 L398.0 285.2 L399.0 285.7 L400.0 284.7 L401.0 285.0 L402.0 285.3 L403.0 285.8 L404.0 285.4 L405.0 284.8 L406.0 286.0 L407.0 285.0 L408.0 285.0 L409.0 284.4 L410.0 284.8 L411.0 285.7 L412.0 284.1 L413.0 285.2 L414.0 285.7 L415.0 284.9 L416.0 285.3 L417.0 284.3 L418.0 286.0 L419.0 285.8 L420.0 285.2 L421.0 283.8 L422.0 284.2 L423.0 285.6 L424.0 286.1 L425.0 285.1 L426.0 285.7 L427.0 284.4 L428.0 284.7 L429.0 284.8 L430.0 285.0 L431.0 283.7 L432.0 285.4 L433.0 285.6 L434.0 283.9 L435.0 283.7 L436.0 284.9 L437.0 284.1 L438.0 282.9 L439.0 285.1 L440.0 284.6 L441.0 284.2 L442.0 285.9 L443.0 284.5 L444.0 283.9 L445.0 284.5 L446.0 283.7 L447.0 283.8 L448.0 284.6 L449.0 283.9 L450.0 284.0 L451.0 285.4 L452.0 284.9 L453.0 284.8 L454.0 284.6 L455.0 284.5 L456.0 285.2 L457.0 284.1 L458.0 285.4 L459.0 283.4 L460.0 283.9 L461.0 283.1 L462.0 283.8 L463.0 284.4 L464.0 285.0 L465.0 283.5 L466.0 284.0 L467.0 283.7 L468.0 283.4 L469.0 283.1 L470.0 284.0 L471.0 282.7 L472.0 284.0 L473.0 283.9 L474.0 283.4 L475.0 283.1 L476.0 282.8 L477.0 285.1 L478.0 282.8 L479.0 284.9 L480.0 284.2 L481.0 283.5 L482.0 282.9 L483.0 284.4 L484.0 284.9 L485.0 283.0 L486.0 283.4 L487.0 284.4 L488.0 283.9 L489.0 285.0 L490.0 283.2 L491.0 284.0 L492.0 282.7 L493.0 285.0 L494.0 283.0 L495.0 282.0 L496.0 283.4 L497.0 283.4 L498.0 284.8 L499.0 283.2 L500.0 283.4 L501.0 283.9 L502.0 284.5 L503.0 283.4 L504.0 284.1 L505.0 283.8 L506.0 283.2 L507.0 283.4 L508.0 283.4 L509.0 282.7 L510.0 284.2 L511.0 282.3 L512.0 284.1 L513.0 284.0 L514.0 283.2 L515.0 282.7 L516.0 283.1 L517.0 283.6 L518.0 283.8 L519.0 283.4 L520.0 283.9 L521.0 282.8 L522.0 283.4 L523.0 282.1 L524.0 283.7 L525.0 283.3 L526.0 282.9 L527.0 284.0 L528.0 283.6 L529.0 281.1 L530.0 283.1 L531.0 282.1 L532.0 283.8 L533.0 284.8 L534.0 282.7 L535.0 283.1 L536.0 282.9 L537.0 283.3 L538.0 283.5 L539.0 283.9 L540.0 282.3 L541.0 284.1 L542.0 282.3 L543.0 283.2 L544.0 283.8 L545.0 283.5 L546.0 282.3 L547.0 282.5 L548.0 282.6 L549.0 282.9 L550.0 283.7 L551.0 282.0 L552.0 283.2 L553.0 283.3 L554.0 283.3 L555.0 283.2 L556.0 283.9 L557.0 283.2 L558.0 283.5 L559.0 283.2 L560.0 284.1 L561.0 281.5 L562.0 283.7 L563.0 282.6 L564.0 282.6 L565.0 282.1 L566.0 281.5 L567.0 282.5 L568.0 282.3 L569.0 283.1 L570.0 281.7 L571.0 283.8 L572.0 282.9 L573.0 282.6 L574.0 282.2 L575.0 282.2 L576.0 281.9 L577.0 282.3 L578.0 282.7 L579.0 282.6 L580.0 281.7 L581.0 282.5 L582.0 282.1" fill="none" stroke="#000" stroke-width="3" stroke-linejoin="round"/>
<path d="M79.0 270.1 L80.0 275.0 L81.0 280.3 L82.0 287.7 L83.0 295.1 L84.0 302.8 L85.0 309.0 L86.0 315.8 L87.0 318.5 L88.0 321.8 L89.0 323.2 L90.0 324.9 L91.0 326.4 L92.0 325.2 L93.0 325.5 L94.0 324.9 L95.0 325.7 L96.0 323.8 L97.0 323.2 L98.0 322.4 L99.0 321.8 L100.0 322.5 L101.0 323.3 L102.0 320.1 L103.0 320.9 L104.0 319.8 L105.0 318.2 L106.0 318.2 L107.0 317.7 L108.0 316.8 L109.0 318.1 L110.0 314.9 L111.0 316.0 L112.0 315.5 L113.0 314.3 L114.0 314.4 L115.0 314.5 L116.0 313.5 L117.0 313.3 L118.0 313.1 L119.0 310.8 L120.0 312.9 L121.0 313.0 L122.0 311.8 L123.0 311.4 L124.0 309.4 L125.0 310.0 L126.0 309.2 L127.0 309.0 L128.0 309.8 L129.0 308.2 L130.0 308.4 L131.0 306.9 L132.0 307.8 L133.0 307.7 L134.0 306.9 L135.0 306.7 L136.0 308.2 L137.0 305.8 L138.0 305.7 L139.0 305.6 L140.0 306.8 L141.0 307.2 L142.0 305.7 L143.0 304.8 L144.0 304.7 L145.0 305.6 L146.0 304.0 L147.0 305.4 L148.0 305.2 L149.0 304.1 L150.0 304.3 L151.0 304.1 L152.0 304.5 L153.0 302.5 L154.0 303.9 L155.0 302.6 L156.0 302.2 L157.0 302.6 L158.0 302.2 L159.0 301.5 L160.0 300.9 L161.0 301.2 L162.0 302.7 L163.0 302.9 L164.0 301.8 L165.0 302.0 L166.0 300.7 L167.0 300.8 L168.0 300.9 L169.0 299.8 L170.0 299.7 L171.0 300.3 L172.0 299.9 L173.0 299.2 L174.0 300.1 L175.0 299.5 L176.0 300.2 L177.0 299.4 L178.0 299.0 L179.0 299.2 L180.0 298.9 L181.0 298.4 L182.0 298.4 L183.0 299.1 L184.0 298.9 L185.0 299.2 L186.0 297.0 L187.0 297.8 L188.0 297.7 L189.0 297.9 L190.0 297.4 L191.0 297.2 L192.0 298.0 L193.0 297.5 L194.0 296.4 L195.0 298.0 L196.0 297.7 L197.0 296.5 L198.0 297.3 L199.0 296.1 L200.0 297.3 L201.0 296.3 L202.0 295.7 L203.0 295.9 L204.0 295.5 L205.0 296.1 L206.0 296.0 L207.0 295.8 L208.0 295.2 L209.0 293.0 L210.0 295.5 L211.0 294.0 L212.0 295.4 L213.0 295.9 L214.0 295.2 L215.0 294.6 L216.0 294.7 L217.0 294.6 L218.0 294.2 L219.0 294.1 L220.0 293.8 L221.0 295.2 L222.0 294.2 L223.0 294.8 L224.0 293.9 L225.0 294.0 L226.0 293.7 L227.0 294.1 L228.0 294.3 L229.0 293.8 L230.0 293.0 L231.0 292.9 L232.0 294.5 L233.0 293.0 L234.0 292.9 L235.0 294.1 L236.0 293.7 L237.0 293.3 L238.0 292.5 L239.0 294.4 L240.0 292.9 L241.0 292.9 L242.0 292.3 L243.0 291.4 L244.0 291.4 L245.0 292.5 L246.0 292.4 L247.0 291.9 L248.0 291.2 L249.0 290.9 L250.0 291.6 L251.0 290.7 L252.0 292.3 L253.0 292.4 L254.0 293.5 L255.0 292.1 L256.0 291.0 L257.0 290.7 L258.0 288.8 L259.0 290.7 L260.0 291.0 L261.0 291.7 L262.0 291.4 L263.0 291.3 L264.0 290.9 L265.0 291.2 L266.0 291.7 L267.0 289.8 L268.0 290.2 L269.0 289.5 L270.0 291.5 L271.0 291.2 L272.0 290.8 L273.0 289.3 L274.0 290.2 L275.0 289.9 L276.0 290.0 L277.0 289.8 L278.0 290.2 L279.0 289.5 L280.0 290.3 L281.0 289.8 L282.0 289.4 L283.0 289.5 L284.0 289.2 L285.0 290.0 L286.0 289.2 L287.0 289.5 L288.0 289.0 L289.0 288.2 L290.0 289.8 L291.0 288.3 L292.0 289.5 L293.0 289.3 L294.0 287.7 L295.0 288.2 L296.0 288.4 L297.0 288.2 L298.0 287.9 L299.0 289.1 L300.0 288.4 L301.0 288.8 L302.0 288.2 L303.0 288.6 L304.0 287.8 L305.0 288.3 L306.0 288.7 L307.0 288.2 L308.0 287.8 L309.0 287.3 L310.0 288.2 L311.0 288.2 L312.0 287.8 L313.0 287.4 L314.0 288.2 L315.0 289.5 L316.0 287.5 L317.0 287.9 L318.0 287.9 L319.0 285.8 L320.0 287.6 L321.0 287.0 L322.0 288.4 L323.0 287.2 L324.0 286.8 L325.0 287.2 L326.0 287.4 L327.0 286.9 L328.0 287.2 L329.0 286.2 L330.0 287.0 L331.0 287.6 L332.0 288.4 L333.0 287.5 L334.0 287.1 L335.0 287.7 L336.0 287.6 L337.0 288.0 L338.0 287.5 L339.0 286.6 L340.0 286.9 L341.0 286.8 L342.0 286.8 L343.0 286.7 L344.0 286.0 L345.0 285.0 L346.0 286.0 L347.0 285.0 L348.0 286.4 L349.0 286.3 L350.0 285.1 L351.0 286.7 L352.0 286.8 L353.0 286.3 L354.0 287.3 L355.0 287.4 L356.0 285.2 L357.0 286.8 L358.0 286.3 L359.0 286.3 L360.0 286.6 L361.0 285.4 L362.0 285.4 L363.0 285.2 L364.0 285.3 L365.0 285.7 L366.0 284.7 L367.0 285.0 L368.0 286.1 L369.0 285.6 L370.0 285.9 L371.0 284.2 L372.0 285.0 L373.0 285.1 L374.0 285.5 L375.0 285.0 L376.0 286.1 L377.0 285.3 L378.0 285.3 L379.0 285.3 L380.0 285.8 L381.0 284.9 L382.0 286.0 L383.0 285.5 L384.0 285.3 L385.0 285.2 L386.0 285.5 L387.0 285.8 L388.0 285.7 L389.0 285.3 L390.0 285.6 L391.0 285.0 L392.0 285.8 L393.0 284.9 L394.0 283.4 L395.0 285.8 L396.0 284.9 L397.0 284.0 L398.0 284.6 L399.0 284.1 L400.0 286.2 L401.0 285.0 L402.0 283.6 L403.0 285.0 L404.0 284.3 L405.0 285.9 L406.0 283.8 L407.0 283.0 L408.0 284.5 L409.0 284.2 L410.0 284.2 L411.0 282.9 L412.0 284.7 L413.0 285.5 L414.0 283.0 L415.0 285.1 L416.0 283.9 L417.0 285.9 L418.0 284.6 L419.0 284.1 L420.0 285.0 L421.0 284.6 L422.0 283.8 L423.0 284.6 L424.0 283.8 L425.0 282.8 L426.0 285.5 L427.0 283.8 L428.0 283.6 L429.0 284.3 L430.0 282.9 L431.0 283.0 L432.0 283.6 L433.0 283.6 L434.0 284.0 L435.0 284.7 L436.0 283.5 L437.0 284.2 L438.0 284.2 L439.0 283.0 L440.0 283.9 L441.0 283.1 L442.0 284.5 L443.0 284.0 L444.0 283.7 L445.0 282.7 L446.0 283.7 L447.0 283.1 L448.0 284.1 L449.0 283.5 L450.0 283.0 L451.0 284.2 L452.0 284.1 L453.0 283.1 L454.0 284.3 L455.0 283.3 L456.0 283.3 L457.0 283.6 L458.0 282.9 L459.0 283.1 L460.0 283.3 L461.0 284.5 L462.0 284.4 L463.0 283.2 L464.0 284.5 L465.0 283.3 L466.0 283.6 L467.0 283.9 L468.0 283.5 L469.0 285.0 L470.0 283.4 L471.0 282.4 L472.0 284.1 L473.0 282.9 L474.0 283.0 L475.0 281.1 L476.0 283.9 L477.0 283.7 L478.0 283.7 L479.0 283.8 L480.0 284.3 L481.0 283.0 L482.0 283.7 L483.0 282.5 L484.0 282.8 L485.0 283.8 L486.0 283.3 L487.0 282.1 L488.0 283.2 L489.0 282.8 L490.0 282.4 L491.0 283.2 L492.0 282.6 L493.0 281.8 L494.0 282.1 L495.0 284.1 L496.0 281.8 L497.0 283.0 L498.0 283.3 L499.0 283.3 L500.0 282.0 L501.0 282.6 L502.0 282.9 L503.0 283.3 L504.0 282.3 L505.0 281.9 L506.0 283.4 L507.0 283.5 L508.0 283.0 L509.0 282.3 L510.0 283.0 L511.0 282.8 L512.0 283.3 L513.0 281.8 L514.0 282.7 L515.0 282.5 L516.0 281.8 L517.0 282.8 L518.0 282.6 L519.0 282.3 L520.0 282.9 L521.0 281.6 L522.0 282.5 L523.0 282.8 L524.0 282.7 L525.0 283.3 L526.0 281.7 L527.0 281.4 L528.0 282.7 L529.0 282.8 L530.0 283.9 L531.0 282.9 L532.0 281.8 L533.0 283.0 L534.0 281.8 L535.0 281.4 L536.0 284.2 L537.0 282.6 L538.0 282.9 L539.0 282.8 L540.0 283.6 L541.0 282.6 L542.0 283.2 L543.0 281.6 L544.0 281.4 L545.0 283.3 L546.0 283.3 L547.0 282.7 L548.0 282.4 L549.0 282.4 L550.0 281.8 L551.0 283.3 L552.0 282.7 L553.0 282.6 L554.0 282.5 L555.0 283.0 L556.0 282.6 L557.0 282.7 L558.0 281.4 L559.0 282.5 L560.0 283.7 L561.0 281.8 L562.0 282.1 L563.0 282.8 L564.0 282.8 L565.0 282.6 L566.0 281.0 L567.0 282.5 L568.0 281.3 L569.0 281.5 L570.0 282.5 L571.0 281.9 L572.0 282.7 L573.0 284.3 L574.0 282.6 L575.0 282.6 L576.0 281.4 L577.0 281.6 L578.0 281.3 L579.0 281.7 L580.0 281.3 L581.0 281.6 L582.0 281.9" fill="none" stroke="#000" stroke-width="3" stroke-linejoin="round"/>
<path d="M79.0 269.3 L80.0 272.5 L81.0 277.0 L82.0 283.2 L83.0 287.7 L84.0 292.4 L85.0 295.6 L86.0 297.1 L87.0 299.6 L88.0 299.4 L89.0 302.8 L90.0 302.6 L91.0 302.0 L92.0 301.5 L93.0 302.7 L94.0 301.1 L95.0 301.8 L96.0 302.8 L97.0 302.2 L98.0 301.7 L99.0 302.5 L100.0 301.0 L101.0 301.7 L102.0 301.0 L103.0 300.6 L104.0 301.4 L105.0 300.2 L106.0 302.1 L107.0 300.2 L108.0 301.8 L109.0 299.5 L110.0 300.5 L111.0 299.1 L112.0 298.9 L113.0 299.8 L114.0 300.0 L115.0 298.5 L116.0 300.1 L117.0 298.5 L118.0 299.1 L119.0 299.1 L120.0 299.1 L121.0 297.3 L122.0 299.6 L123.0 298.7 L124.0 297.9 L125.0 297.4 L126.0 296.8 L127.0 296.9 L128.0 298.1 L129.0 297.4 L130.0 296.7 L131.0 297.0 L132.0 298.4 L133.0 297.0 L134.0 296.7 L135.0 297.9 L136.0 297.2 L137.0 296.8 L138.0 296.3 L139.0 295.5 L140.0 295.7 L141.0 296.1 L142.0 296.2 L143.0 296.5 L144.0 296.5 L145.0 296.2 L146.0 296.1 L147.0 295.2 L148.0 294.3 L149.0 295.3 L150.0 294.9 L151.0 295.1 L152.0 295.2 L153.0 294.5 L154.0 294.5 L155.0 295.1 L156.0 295.2 L157.0 294.6 L158.0 295.3 L159.0 294.7 L160.0 294.1 L161.0 294.8 L162.0 296.0 L163.0 294.1 L164.0 295.3 L165.0 295.4 L166.0 295.4 L167.0 293.7 L168.0 295.7 L169.0 294.3 L170.0 293.9 L171.0 293.9 L172.0 294.4 L173.0 294.0 L174.0 293.7 L175.0 294.7 L176.0 293.2 L177.0 292.9 L178.0 294.2 L179.0 294.0 L180.0 294.2 L181.0 292.7 L182.0 294.1 L183.0 293.6 L184.0 294.5 L185.0 292.3 L186.0 293.3 L187.0 292.9 L188.0 291.9 L189.0 292.5 L190.0 293.7 L191.0 292.5 L192.0 292.3 L193.0 293.3 L194.0 293.4 L195.0 293.3 L196.0 292.0 L197.0 292.5 L198.0 293.2 L199.0 292.0 L200.0 291.8 L201.0 292.9 L202.0 293.4 L203.0 291.4 L204.0 290.3 L205.0 291.1 L206.0 291.3 L207.0 291.9 L208.0 292.4 L209.0 291.8 L210.0 291.4 L211.0 291.9 L212.0 291.1 L213.0 291.7 L214.0 291.2 L215.0 293.5 L216.0 292.2 L217.0 290.9 L218.0 290.8 L219.0 291.1 L220.0 290.2 L221.0 290.8 L222.0 290.8 L223.0 291.9 L224.0 290.9 L225.0 290.6 L226.0 290.2 L227.0 290.3 L228.0 291.0 L229.0 290.9 L230.0 291.8 L231.0 290.5 L232.0 291.6 L233.0 291.0 L234.0 290.8 L235.0 289.3 L236.0 289.8 L237.0 291.2 L238.0 291.6 L239.0 290.7 L240.0 291.1 L241.0 290.2 L242.0 290.2 L243.0 290.0 L244.0 291.1 L245.0 290.6 L246.0 290.1 L247.0 290.0 L248.0 290.6 L249.0 290.4 L250.0 289.6 L251.0 291.3 L252.0 290.3 L253.0 290.0 L254.0 291.0 L255.0 290.7 L256.0 289.9 L257.0 290.3 L258.0 289.1 L259.0 289.4 L260.0 288.2 L261.0 290.6 L262.0 288.4 L263.0 290.1 L264.0 289.1 L265.0 288.9 L266.0 289.4 L267.0 289.7 L268.0 289.9 L269.0 290.7 L270.0 289.7 L271.0 290.0 L272.0 288.9 L273.0 289.8 L274.0 289.4 L275.0 288.9 L276.0 289.2 L277.0 289.1 L278.0 289.3 L279.0 289.4 L280.0 288.7 L281.0 288.5 L282.0 289.5 L283.0 287.8 L284.0 288.5 L285.0 290.0 L286.0 287.0 L287.0 288.4 L288.0 289.3 L289.0 287.6 L290.0 290.6 L291.0 286.9 L292.0 289.7 L293.0 289.8 L294.0 289.3 L295.0 288.4 L296.0 288.8 L297.0 287.9 L298.0 289.1 L299.0 287.7 L300.0 288.3 L301.0 289.1 L302.0 287.6 L303.0 288.1 L304.0 288.4 L305.0 287.4 L306.0 289.1 L307.0 288.5 L308.0 287.1 L309.0 288.1 L310.0 287.6 L311.0 287.7 L312.0 288.1 L313.0 287.6 L314.0 288.7 L315.0 287.5 L316.0 288.7 L317.0 287.9 L318.0 288.5 L319.0 287.5 L320.0 287.5 L321.0 287.0 L322.0 288.2 L323.0 288.4 L324.0 289.2 L325.0 288.6 L326.0 287.9 L327.0 287.5 L328.0 287.9 L329.0 287.6 L330.0 288.6 L331.0 288.2 L332.0 286.9 L333.0 287.0 L334.0 288.4 L335.0 287.7 L336.0 287.3 L337.0 288.2 L338.0 287.1 L339.0 287.1 L340.0 287.0 L341.0 285.9 L342.0 287.9 L343.0 286.4 L344.0 286.8 L345.0 286.7 L346.0 287.7 L347.0 287.1 L348.0 287.1 L349.0 285.9 L350.0 287.0 L351.0 286.0 L352.0 287.2 L353.0 287.2 L354.0 286.9 L355.0 288.4 L356.0 287.3 L357.0 287.3 L358.0 286.9 L359.0 286.7 L360.0 287.5 L361.0 287.5 L362.0 285.8 L363.0 287.5 L364.0 287.1 L365.0 287.4 L366.0 287.0 L367.0 285.8 L368.0 285.8 L369.0 287.9 L370.0 286.7 L371.0 285.5 L372.0 286.8 L373.0 286.2 L374.0 285.2 L375.0 284.8 L376.0 285.3 L377.0 286.6 L378.0 286.3 L379.0 286.2 L380.0 286.5 L381.0 286.7 L382.0 284.8 L383.0 286.1 L384.0 285.7 L385.0 285.4 L386.0 285.8 L387.0 286.1 L388.0 286.0 L389.0 285.1 L390.0 285.8 L391.0 287.5 L392.0 285.3 L393.0 284.9 L394.0 286.2 L395.0 286.4 L396.0 286.3 L397.0 285.2 L398.0 286.6 L399.0 285.4 L400.0 285.1 L401.0 285.4 L402.0 285.8 L403.0 286.3 L404.0 286.2 L405.0 285.8 L406.0 286.4 L407.0 285.8 L408.0 286.4 L409.0 284.7 L410.0 284.6 L411.0 286.2 L412.0 284.7 L413.0 285.4 L414.0 285.5 L415.0 285.2 L416.0 285.2 L417.0 286.5 L418.0 283.8 L419.0 286.1 L420.0 287.1 L421.0 285.5 L422.0 285.4 L423.0 285.9 L424.0 286.7 L425.0 284.6 L426.0 285.4 L427.0 285.2 L428.0 285.7 L429.0 285.4 L430.0 285.8 L431.0 285.0 L432.0 285.3 L433.0 284.8 L434.0 284.8 L435.0 285.1 L436.0 285.1 L437.0 284.3 L438.0 286.2 L439.0 285.0 L440.0 284.1 L441.0 285.9 L442.0 284.5 L443.0 285.4 L444.0 285.0 L445.0 285.2 L446.0 285.1 L447.0 284.6 L448.0 285.0 L449.0 286.4 L450.0 283.4 L451.0 285.0 L452.0 285.2 L453.0 284.1 L454.0 283.9 L455.0 286.4 L456.0 284.6 L457.0 286.3 L458.0 285.2 L459.0 284.8 L460.0 285.1 L461.0 285.2 L462.0 285.5 L463.0 285.0 L464.0 284.8 L465.0 284.8 L466.0 285.6 L467.0 285.2 L468.0 283.9 L469.0 284.2 L470.0 284.8 L471.0 284.1 L472.0 284.3 L473.0 283.9 L474.0 284.3 L475.0 284.8 L476.0 285.2 L477.0 284.5 L478.0 285.9 L479.0 284.4 L480.0 286.7 L481.0 285.1 L482.0 284.7 L483.0 284.0 L484.0 282.4 L485.0 284.2 L486.0 284.5 L487.0 285.7 L488.0 283.3 L489.0 285.6 L490.0 284.1 L491.0 284.8 L492.0 282.5 L493.0 284.3 L494.0 284.0 L495.0 284.7 L496.0 284.2 L497.0 283.4 L498.0 284.8 L499.0 284.6 L500.0 284.5 L501.0 284.8 L502.0 284.9 L503.0 284.1 L504.0 283.1 L505.0 283.1 L506.0 285.0 L507.0 284.5 L508.0 284.1 L509.0 283.7 L510.0 284.0 L511.0 284.0 L512.0 283.7 L513.0 283.4 L514.0 285.4 L515.0 284.1 L516.0 283.5 L517.0 283.0 L518.0 283.4 L519.0 284.4 L520.0 284.4 L521.0 283.7 L522.0 283.8 L523.0 283.6 L524.0 283.0 L525.0 284.7 L526.0 284.0 L527.0 285.5 L528.0 283.2 L529.0 283.6 L530.0 284.3 L531.0 283.5 L532.0 282.7 L533.0 283.0 L534.0 283.7 L535.0 283.9 L536.0 283.6 L537.0 284.3 L538.0 284.3 L539.0 283.8 L540.0 283.6 L541.0 283.4 L542.0 283.9 L543.0 284.2 L544.0 283.6 L545.0 283.8 L546.0 283.3 L547.0 282.5 L548.0 282.8 L549.0 284.0 L550.0 283.8 L551.0 284.5 L552.0 283.5 L553.0 284.0 L554.0 284.3 L555.0 284.1 L556.0 282.9 L557.0 283.2 L558.0 283.4 L559.0 282.6 L560.0 283.7 L561.0 284.0 L562.0 283.0 L563.0 284.7 L564.0 283.1 L565.0 283.1 L566.0 283.1 L567.0 282.7 L568.0 283.5 L569.0 283.2 L570.0 284.4 L571.0 283.6 L572.0 283.6 L573.0 283.0 L574.0 282.2 L575.0 283.1 L576.0 282.5 L577.0 283.8 L578.0 283.1 L579.0 284.3 L580.0 283.6 L581.0 283.7 L582.0 283.2" fill="none" stroke="#000" stroke-width="3" stroke-linejoin="round"/>
<path d="M79.0 270.1 L80.0 274.8 L81.0 279.0 L82.0 281.2 L83.0 284.3 L84.0 287.3 L85.0 286.3 L86.0 286.7 L87.0 286.7 L88.0 286.3 L89.0 288.3 L90.0 287.5 L91.0 287.7 L92.0 288.8 L93.0 289.2 L94.0 286.8 L95.0 288.1 L96.0 287.8 L97.0 287.6 L98.0 287.6 L99.0 287.2 L100.0 288.3 L101.0 287.6 L102.0 287.4 L103.0 288.0 L104.0 287.7 L105.0 287.4 L106.0 287.2 L107.0 288.2 L108.0 287.3 L109.0 286.8 L110.0 286.3 L111.0 286.6 L112.0 286.1 L113.0 286.9 L114.0 286.9 L115.0 285.3 L116.0 286.7 L117.0 287.1 L118.0 286.7 L119.0 285.9 L120.0 287.5 L121.0 286.1 L122.0 285.7 L123.0 285.7 L124.0 286.4 L125.0 287.1 L126.0 287.2 L127.0 286.5 L128.0 285.5 L129.0 285.9 L130.0 285.7 L131.0 286.1 L132.0 285.0 L133.0 286.3 L134.0 286.6 L135.0 286.1 L136.0 286.5 L137.0 285.5 L138.0 285.1 L139.0 285.6 L140.0 286.8 L141.0 286.7 L142.0 285.7 L143.0 286.8 L144.0 285.7 L145.0 287.0 L146.0 286.2 L147.0 285.6 L148.0 286.4 L149.0 285.3 L150.0 285.1 L151.0 284.8 L152.0 285.9 L153.0 285.7 L154.0 285.7 L155.0 285.4 L156.0 286.7 L157.0 285.4 L158.0 285.1 L159.0 286.5 L160.0 286.6 L161.0 285.8 L162.0 284.3 L163.0 285.1 L164.0 285.9 L165.0 285.5 L166.0 286.5 L167.0 284.5 L168.0 285.9 L169.0 285.0 L170.0 286.3 L171.0 285.3 L172.0 286.1 L173.0 284.9 L174.0 284.3 L175.0 284.5 L176.0 284.8 L177.0 284.5 L178.0 286.1 L179.0 286.2 L180.0 285.4 L181.0 284.5 L182.0 285.1 L183.0 284.7 L184.0 286.1 L185.0 285.3 L186.0 285.4 L187.0 284.8 L188.0 283.6 L189.0 284.5 L190.0 284.2 L191.0 285.3 L192.0 285.1 L193.0 284.4 L194.0 284.7 L195.0 286.0 L196.0 284.2 L197.0 284.3 L198.0 284.7 L199.0 284.4 L200.0 284.6 L201.0 285.2 L202.0 286.0 L203.0 283.6 L204.0 284.8 L205.0 284.8 L206.0 284.7 L207.0 284.6 L208.0 284.5 L209.0 285.4 L210.0 284.4 L211.0 284.6 L212.0 284.7 L213.0 284.7 L214.0 284.5 L215.0 285.3 L216.0 284.6 L217.0 284.7 L218.0 284.5 L219.0 283.9 L220.0 284.0 L221.0 283.8 L222.0 284.7 L223.0 284.0 L224.0 283.7 L225.0 284.6 L226.0 284.8 L227.0 283.2 L228.0 285.6 L229.0 284.4 L230.0 284.3 L231.0 285.1 L232.0 284.4 L233.0 283.9 L234.0 285.9 L235.0 283.6 L236.0 284.3 L237.0 284.9 L238.0 283.5 L239.0 284.2 L240.0 284.5 L241.0 285.9 L242.0 283.6 L243.0 284.2 L244.0 284.7 L245.0 284.3 L246.0 283.4 L247.0 284.5 L248.0 284.2 L249.0 284.5 L250.0 284.9 L251.0 284.8 L252.0 284.4 L253.0 284.3 L254.0 283.3 L255.0 284.0 L256.0 284.2 L257.0 283.8 L258.0 284.1 L259.0 283.5 L260.0 285.1 L261.0 285.5 L262.0 283.7 L263.0 284.3 L264.0 283.8 L265.0 284.8 L266.0 284.3 L267.0 284.0 L268.0 283.8 L269.0 284.0 L270.0 283.2 L271.0 284.4 L272.0 283.4 L273.0 284.2 L274.0 283.9 L275.0 284.6 L276.0 283.8 L277.0 284.5 L278.0 283.2 L279.0 284.2 L280.0 283.6 L281.0 283.9 L282.0 283.8 L283.0 284.4 L284.0 282.3 L285.0 284.0 L286.0 282.7 L287.0 284.6 L288.0 282.3 L289.0 283.0 L290.0 282.5 L291.0 284.8 L292.0 282.8 L293.0 283.7 L294.0 283.3 L295.0 282.4 L296.0 283.4 L297.0 284.1 L298.0 283.5 L299.0 284.2 L300.0 283.3 L301.0 283.6 L302.0 283.3 L303.0 283.8 L304.0 284.9 L305.0 283.8 L306.0 283.6 L307.0 283.1 L308.0 283.0 L309.0 284.5 L310.0 282.7 L311.0 282.8 L312.0 283.4 L313.0 283.1 L314.0 284.8 L315.0 281.8 L316.0 283.7 L317.0 283.9 L318.0 282.6 L319.0 282.9 L320.0 283.7 L321.0 284.5 L322.0 282.7 L323.0 282.2 L324.0 284.0 L325.0 284.4 L326.0 283.1 L327.0 281.7 L328.0 284.3 L329.0 283.1 L330.0 284.1 L331.0 283.2 L332.0 283.0 L333.0 282.9 L334.0 284.3 L335.0 284.2 L336.0 281.7 L337.0 282.5 L338.0 284.4 L339.0 282.9 L340.0 282.2 L341.0 283.2 L342.0 283.1 L343.0 283.1 L344.0 282.8 L345.0 282.9 L346.0 282.8 L347.0 283.3 L348.0 282.5 L349.0 282.9 L350.0 283.0 L351.0 284.0 L352.0 283.3 L353.0 283.0 L354.0 283.4 L355.0 283.3 L356.0 283.8 L357.0 283.4 L358.0 284.3 L359.0 283.9 L360.0 283.0 L361.0 282.7 L362.0 283.6 L363.0 283.3 L364.0 282.9 L365.0 281.9 L366.0 281.7 L367.0 283.2 L368.0 283.5 L369.0 283.5 L370.0 282.0 L371.0 283.6 L372.0 282.5 L373.0 283.2 L374.0 283.2 L375.0 282.3 L376.0 282.4 L377.0 281.4 L378.0 282.2 L379.0 281.6 L380.0 283.1 L381.0 282.9 L382.0 283.4 L383.0 283.0 L384.0 282.3 L385.0 283.0 L386.0 282.5 L387.0 283.2 L388.0 283.0 L389.0 282.1 L390.0 282.7 L391.0 282.8 L392.0 282.5 L393.0 283.3 L394.0 283.9 L395.0 282.4 L396.0 282.4 L397.0 281.1 L398.0 282.6 L399.0 282.4 L400.0 281.1 L401.0 282.9 L402.0 283.1 L403.0 282.1 L404.0 282.4 L405.0 281.9 L406.0 283.1 L407.0 281.5 L408.0 282.4 L409.0 284.0 L410.0 282.6 L411.0 282.9 L412.0 282.5 L413.0 281.7 L414.0 282.5 L415.0 282.8 L416.0 281.8 L417.0 282.8 L418.0 283.4 L419.0 283.3 L420.0 281.4 L421.0 281.8 L422.0 281.4 L423.0 283.2 L424.0 282.9 L425.0 283.0 L426.0 281.8 L427.0 281.6 L428.0 282.5 L429.0 282.5 L430.0 281.8 L431.0 282.5 L432.0 282.9 L433.0 282.6 L434.0 281.7 L435.0 280.9 L436.0 282.2 L437.0 282.5 L438.0 282.2 L439.0 282.1 L440.0 281.9 L441.0 282.9 L442.0 282.3 L443.0 282.4 L444.0 281.6 L445.0 281.9 L446.0 282.4 L447.0 281.6 L448.0 281.4 L449.0 282.1 L450.0 283.1 L451.0 282.4 L452.0 283.3 L453.0 282.2 L454.0 282.0 L455.0 281.3 L456.0 281.8 L457.0 283.2 L458.0 282.5 L459.0 282.7 L460.0 282.7 L461.0 282.2 L462.0 282.1 L463.0 282.3 L464.0 282.7 L465.0 282.5 L466.0 282.5 L467.0 282.3 L468.0 281.6 L469.0 282.0 L470.0 281.5 L471.0 282.8 L472.0 280.7 L473.0 282.0 L474.0 283.8 L475.0 281.9 L476.0 281.3 L477.0 282.1 L478.0 283.0 L479.0 282.0 L480.0 282.5 L481.0 282.1 L482.0 281.8 L483.0 284.3 L484.0 282.1 L485.0 281.7 L486.0 281.7 L487.0 282.3 L488.0 282.3 L489.0 282.6 L490.0 282.1 L491.0 281.0 L492.0 282.4 L493.0 281.8 L494.0 281.8 L495.0 280.9 L496.0 281.6 L497.0 281.5 L498.0 281.9 L499.0 280.9 L500.0 282.0 L501.0 282.0 L502.0 281.2 L503.0 281.5 L504.0 281.3 L505.0 282.6 L506.0 280.1 L507.0 281.7 L508.0 280.7 L509.0 281.6 L510.0 282.5 L511.0 281.4 L512.0 282.0 L513.0 281.3 L514.0 283.2 L515.0 282.5 L516.0 282.6 L517.0 280.9 L518.0 281.1 L519.0 282.6 L520.0 281.7 L521.0 281.6 L522.0 282.0 L523.0 280.9 L524.0 282.3 L525.0 281.8 L526.0 282.1 L527.0 281.3 L528.0 282.1 L529.0 281.3 L530.0 282.4 L531.0 282.6 L532.0 282.4 L533.0 282.1 L534.0 282.2 L535.0 279.8 L536.0 282.3 L537.0 281.5 L538.0 281.8 L539.0 281.5 L540.0 280.7 L541.0 281.3 L542.0 282.2 L543.0 282.7 L544.0 281.3 L545.0 281.0 L546.0 282.7 L547.0 281.1 L548.0 283.1 L549.0 281.7 L550.0 281.0 L551.0 282.3 L552.0 282.8 L553.0 280.6 L554.0 282.7 L555.0 281.4 L556.0 282.7 L557.0 281.3 L558.0 280.5 L559.0 282.0 L560.0 282.2 L561.0 283.1 L562.0 282.8 L563.0 282.1 L564.0 281.4 L565.0 281.2 L566.0 281.4 L567.0 281.0 L568.0 281.4 L569.0 279.8 L570.0 281.7 L571.0 281.5 L572.0 283.3 L573.0 282.1 L574.0 281.2 L575.0 281.9 L576.0 280.7 L577.0 281.1 L578.0 280.2 L579.0 282.5 L580.0 281.9 L581.0 280.7 L582.0 281.4" fill="none" stroke="#000" stroke-width="3" stroke-linejoin="round"/>
<path d="M79.0 270.7 L80.0 274.4 L81.0 277.9 L82.0 279.8 L83.0 281.8 L84.0 283.5 L85.0 284.8 L86.0 284.0 L87.0 284.0 L88.0 285.7 L89.0 284.3 L90.0 285.7 L91.0 285.2 L92.0 285.6 L93.0 286.2 L94.0 285.4 L95.0 285.5 L96.0 284.2 L97.0 284.4 L98.0 285.3 L99.0 285.9 L100.0 285.8 L101.0 286.4 L102.0 285.0 L103.0 284.9 L104.0 285.4 L105.0 284.7 L106.0 284.6 L107.0 283.9 L108.0 285.3 L109.0 283.8 L110.0 284.9 L111.0 283.5 L112.0 285.3 L113.0 283.8 L114.0 285.1 L115.0 283.3 L116.0 284.1 L117.0 285.2 L118.0 283.8 L119.0 284.4 L120.0 284.0 L121.0 282.7 L122.0 284.5 L123.0 284.6 L124.0 283.5 L125.0 284.6 L126.0 283.7 L127.0 283.5 L128.0 284.2 L129.0 283.7 L130.0 285.7 L131.0 283.0 L132.0 284.6 L133.0 284.8 L134.0 282.7 L135.0 282.8 L136.0 284.4 L137.0 283.7 L138.0 284.3 L139.0 284.8 L140.0 283.7 L141.0 283.2 L142.0 282.0 L143.0 284.0 L144.0 283.2 L145.0 284.1 L146.0 284.0 L147.0 282.9 L148.0 285.0 L149.0 284.6 L150.0 284.4 L151.0 282.9 L152.0 283.5 L153.0 283.4 L154.0 283.4 L155.0 282.9 L156.0 284.0 L157.0 283.8 L158.0 283.9 L159.0 283.3 L160.0 284.5 L161.0 283.7 L162.0 281.7 L163.0 283.1 L164.0 283.5 L165.0 284.2 L166.0 283.3 L167.0 283.4 L168.0 283.0 L169.0 284.0 L170.0 283.2 L171.0 283.0 L172.0 282.9 L173.0 283.8 L174.0 283.1 L175.0 282.2 L176.0 283.8 L177.0 282.9 L178.0 283.6 L179.0 283.6 L180.0 284.2 L181.0 284.1 L182.0 282.9 L183.0 283.2 L184.0 282.4 L185.0 284.5 L186.0 283.6 L187.0 284.2 L188.0 283.0 L189.0 281.8 L190.0 284.3 L191.0 283.3 L192.0 283.3 L193.0 283.2 L194.0 283.6 L195.0 283.5 L196.0 282.0 L197.0 283.9 L198.0 282.7 L199.0 282.8 L200.0 284.3 L201.0 283.7 L202.0 282.8 L203.0 281.8 L204.0 283.2 L205.0 283.4 L206.0 283.0 L207.0 282.1 L208.0 282.4 L209.0 282.1 L210.0 283.1 L211.0 283.5 L212.0 283.7 L213.0 282.4 L214.0 283.1 L215.0 283.3 L216.0 282.6 L217.0 282.8 L218.0 284.4 L219.0 283.0 L220.0 283.5 L221.0 282.6 L222.0 282.9 L223.0 281.6 L224.0 282.8 L225.0 283.7 L226.0 284.3 L227.0 283.6 L228.0 283.3 L229.0 282.8 L230.0 282.3 L231.0 282.6 L232.0 283.2 L233.0 282.2 L234.0 283.4 L235.0 282.0 L236.0 281.5 L237.0 282.0 L238.0 281.5 L239.0 281.7 L240.0 283.5 L241.0 282.5 L242.0 282.8 L243.0 283.4 L244.0 283.5 L245.0 282.3 L246.0 283.5 L247.0 282.9 L248.0 282.6 L249.0 282.9 L250.0 281.6 L251.0 282.0 L252.0 282.5 L253.0 283.0 L254.0 282.3 L255.0 282.4 L256.0 283.2 L257.0 283.5 L258.0 283.0 L259.0 283.4 L260.0 282.2 L261.0 282.3 L262.0 282.7 L263.0 282.2 L264.0 282.1 L265.0 283.6 L266.0 282.3 L267.0 281.7 L268.0 282.8 L269.0 283.7 L270.0 282.4 L271.0 283.2 L272.0 282.1 L273.0 282.0 L274.0 281.9 L275.0 282.3 L276.0 283.6 L277.0 281.5 L278.0 283.5 L279.0 281.6 L280.0 282.1 L281.0 282.9 L282.0 282.7 L283.0 282.5 L284.0 281.1 L285.0 282.5 L286.0 281.5 L287.0 284.0 L288.0 282.1 L289.0 282.4 L290.0 281.4 L291.0 281.9 L292.0 281.3 L293.0 282.9 L294.0 282.0 L295.0 282.6 L296.0 281.7 L297.0 281.8 L298.0 283.1 L299.0 281.5 L300.0 280.9 L301.0 282.4 L302.0 281.3 L303.0 281.8 L304.0 282.8 L305.0 281.5 L306.0 282.7 L307.0 281.6 L308.0 283.1 L309.0 283.0 L310.0 281.7 L311.0 281.9 L312.0 281.5 L313.0 282.2 L314.0 282.8 L315.0 281.0 L316.0 282.7 L317.0 281.1 L318.0 281.4 L319.0 280.8 L320.0 283.5 L321.0 282.0 L322.0 282.2 L323.0 281.5 L324.0 282.7 L325.0 280.5 L326.0 282.0 L327.0 283.5 L328.0 281.7 L329.0 281.9 L330.0 282.4 L331.0 281.4 L332.0 281.9 L333.0 282.6 L334.0 282.0 L335.0 282.2 L336.0 281.6 L337.0 282.1 L338.0 281.9 L339.0 282.9 L340.0 282.4 L341.0 281.7 L342.0 280.1 L343.0 282.3 L344.0 282.4 L345.0 281.2 L346.0 280.4 L347.0 281.0 L348.0 282.5 L349.0 281.1 L350.0 281.5 L351.0 281.9 L352.0 282.6 L353.0 281.8 L354.0 281.7 L355.0 281.4 L356.0 282.9 L357.0 282.5 L358.0 281.7 L359.0 280.8 L360.0 281.2 L361.0 282.1 L362.0 281.2 L363.0 282.3 L364.0 282.0 L365.0 281.9 L366.0 282.1 L367.0 282.0 L368.0 281.1 L369.0 281.4 L370.0 283.3 L371.0 280.8 L372.0 281.3 L373.0 282.4 L374.0 281.5 L375.0 281.1 L376.0 280.7 L377.0 282.0 L378.0 282.3 L379.0 282.6 L380.0 281.6 L381.0 282.3 L382.0 280.9 L383.0 281.7 L384.0 281.1 L385.0 281.7 L386.0 282.1 L387.0 282.3 L388.0 280.9 L389.0 282.4 L390.0 281.2 L391.0 280.8 L392.0 281.4 L393.0 280.5 L394.0 281.5 L395.0 281.7 L396.0 281.4 L397.0 281.9 L398.0 281.3 L399.0 281.5 L400.0 280.5 L401.0 281.5 L402.0 280.9 L403.0 281.1 L404.0 281.4 L405.0 281.6 L406.0 280.3 L407.0 280.3 L408.0 281.2 L409.0 281.8 L410.0 281.7 L411.0 282.0 L412.0 282.3 L413.0 281.7 L414.0 281.4 L415.0 280.7 L416.0 280.7 L417.0 281.1 L418.0 281.6 L419.0 281.5 L420.0 281.4 L421.0 281.2 L422.0 281.8 L423.0 281.5 L424.0 281.5 L425.0 281.5 L426.0 280.9 L427.0 280.6 L428.0 281.7 L429.0 281.6 L430.0 281.2 L431.0 281.0 L432.0 282.9 L433.0 280.8 L434.0 281.1 L435.0 281.5 L436.0 280.5 L437.0 281.3 L438.0 282.5 L439.0 281.9 L440.0 281.7 L441.0 281.7 L442.0 281.3 L443.0 281.9 L444.0 281.1 L445.0 280.9 L446.0 281.3 L447.0 281.8 L448.0 281.4 L449.0 281.7 L450.0 279.8 L451.0 282.0 L452.0 282.8 L453.0 282.1 L454.0 281.0 L455.0 280.6 L456.0 281.4 L457.0 280.5 L458.0 281.7 L459.0 280.8 L460.0 281.8 L461.0 282.1 L462.0 279.7 L463.0 281.3 L464.0 280.6 L465.0 280.1 L466.0 280.7 L467.0 281.0 L468.0 281.8 L469.0 280.0 L470.0 281.8 L471.0 282.5 L472.0 281.5 L473.0 281.5 L474.0 281.1 L475.0 280.2 L476.0 281.4 L477.0 281.3 L478.0 281.6 L479.0 282.8 L480.0 281.6 L481.0 281.3 L482.0 282.1 L483.0 280.1 L484.0 280.2 L485.0 280.8 L486.0 280.6 L487.0 281.5 L488.0 280.8 L489.0 282.2 L490.0 282.1 L491.0 281.5 L492.0 280.7 L493.0 281.4 L494.0 281.5 L495.0 280.2 L496.0 281.2 L497.0 281.5 L498.0 281.1 L499.0 282.1 L500.0 281.8 L501.0 280.4 L502.0 281.0 L503.0 280.3 L504.0 281.3 L505.0 280.3 L506.0 281.6 L507.0 281.2 L508.0 281.6 L509.0 280.8 L510.0 279.9 L511.0 282.1 L512.0 280.8 L513.0 281.8 L514.0 281.2 L515.0 281.3 L516.0 282.2 L517.0 281.1 L518.0 281.8 L519.0 279.8 L520.0 281.5 L521.0 280.7 L522.0 280.8 L523.0 280.8 L524.0 281.1 L525.0 282.0 L526.0 279.5 L527.0 280.9 L528.0 280.3 L529.0 281.6 L530.0 280.5 L531.0 281.1 L532.0 280.5 L533.0 281.3 L534.0 281.5 L535.0 280.5 L536.0 280.8 L537.0 279.8 L538.0 281.0 L539.0 281.4 L540.0 280.4 L541.0 281.5 L542.0 279.3 L543.0 279.5 L544.0 279.8 L545.0 280.4 L546.0 280.8 L547.0 280.7 L548.0 280.7 L549.0 281.2 L550.0 280.4 L551.0 279.8 L552.0 279.8 L553.0 282.2 L554.0 279.1 L555.0 280.6 L556.0 281.7 L557.0 281.0 L558.0 280.1 L559.0 280.7 L560.0 281.3 L561.0 281.5 L562.0 280.0 L563.0 281.2 L564.0 280.8 L565.0 281.4 L566.0 281.6 L567.0 280.4 L568.0 279.6 L569.0 280.9 L570.0 281.9 L571.0 281.1 L572.0 280.8 L573.0 282.3 L574.0 279.9 L575.0 281.2 L576.0 280.2 L577.0 280.6 L578.0 280.7 L579.0 281.7 L580.0 279.9 L581.0 280.2 L582.0 279.5" fill="none" stroke="#000" stroke-width="3" stroke-linejoin="round"/>
<path d="M79.0 270.3 L80.0 273.2 L81.0 274.7 L82.0 273.7 L83.0 274.2 L84.0 275.2 L85.0 274.4 L86.0 274.9 L87.0 274.9 L88.0 274.2 L89.0 273.4 L90.0 275.2 L91.0 274.6 L92.0 275.2 L93.0 273.1 L94.0 273.4 L95.0 273.0 L96.0 273.9 L97.0 275.3 L98.0 275.0 L99.0 274.5 L100.0 274.7 L101.0 275.1 L102.0 274.4 L103.0 274.9 L104.0 274.7 L105.0 273.1 L106.0 274.3 L107.0 275.6 L108.0 274.3 L109.0 274.5 L110.0 274.2 L111.0 274.3 L112.0 275.4 L113.0 274.5 L114.0 273.9 L115.0 272.5 L116.0 274.3 L117.0 273.3 L118.0 273.4 L119.0 275.2 L120.0 275.2 L121.0 273.3 L122.0 275.3 L123.0 275.0 L124.0 274.2 L125.0 275.2 L126.0 273.6 L127.0 273.9 L128.0 273.7 L129.0 274.0 L130.0 275.3 L131.0 273.8 L132.0 273.9 L133.0 274.1 L134.0 274.9 L135.0 274.5 L136.0 275.4 L137.0 274.3 L138.0 273.9 L139.0 274.4 L140.0 274.8 L141.0 274.1 L142.0 275.0 L143.0 276.1 L144.0 274.4 L145.0 274.8 L146.0 275.8 L147.0 274.4 L148.0 274.2 L149.0 274.1 L150.0 275.1 L151.0 275.2 L152.0 274.7 L153.0 274.9 L154.0 275.7 L155.0 275.5 L156.0 273.9 L157.0 274.8 L158.0 274.9 L159.0 275.4 L160.0 274.7 L161.0 274.4 L162.0 274.6 L163.0 273.6 L164.0 274.9 L165.0 274.5 L166.0 275.2 L167.0 274.2 L168.0 274.6 L169.0 274.2 L170.0 274.2 L171.0 275.4 L172.0 274.6 L173.0 275.2 L174.0 274.1 L175.0 275.0 L176.0 273.7 L177.0 274.6 L178.0 274.6 L179.0 275.3 L180.0 275.1 L181.0 274.8 L182.0 275.5 L183.0 275.1 L184.0 275.3 L185.0 275.5 L186.0 274.9 L187.0 274.8 L188.0 275.2 L189.0 274.7 L190.0 275.2 L191.0 275.8 L192.0 275.6 L193.0 274.7 L194.0 274.1 L195.0 275.0 L196.0 274.9 L197.0 275.8 L198.0 274.7 L199.0 274.9 L200.0 275.5 L201.0 274.7 L202.0 274.9 L203.0 276.2 L204.0 276.1 L205.0 275.5 L206.0 275.2 L207.0 274.4 L208.0 275.4 L209.0 275.1 L210.0 275.2 L211.0 274.7 L212.0 275.1 L213.0 274.9 L214.0 275.3 L215.0 276.1 L216.0 275.3 L217.0 273.9 L218.0 274.4 L219.0 274.0 L220.0 274.5 L221.0 275.5 L222.0 275.4 L223.0 274.7 L224.0 275.3 L225.0 274.6 L226.0 274.1 L227.0 274.1 L228.0 274.5 L229.0 276.1 L230.0 274.2 L231.0 276.0 L232.0 276.1 L233.0 275.0 L234.0 275.1 L235.0 274.7 L236.0 275.1 L237.0 275.6 L238.0 275.2 L239.0 275.9 L240.0 276.0 L241.0 275.4 L242.0 275.4 L243.0 275.1 L244.0 275.4 L245.0 274.4 L246.0 275.5 L247.0 275.3 L248.0 274.6 L249.0 276.7 L250.0 274.5 L251.0 274.6 L252.0 275.4 L253.0 273.9 L254.0 274.7 L255.0 274.1 L256.0 274.5 L257.0 275.1 L258.0 275.4 L259.0 276.0 L260.0 275.8 L261.0 276.1 L262.0 275.6 L263.0 274.9 L264.0 276.0 L265.0 274.9 L266.0 274.8 L267.0 276.3 L268.0 275.8 L269.0 275.4 L270.0 275.8 L271.0 275.9 L272.0 274.3 L273.0 275.2 L274.0 274.4 L275.0 275.4 L276.0 274.8 L277.0 276.2 L278.0 275.6 L279.0 274.7 L280.0 275.3 L281.0 274.4 L282.0 275.3 L283.0 275.7 L284.0 275.5 L285.0 274.0 L286.0 275.1 L287.0 275.7 L288.0 275.5 L289.0 276.1 L290.0 274.4 L291.0 275.7 L292.0 274.9 L293.0 275.5 L294.0 275.6 L295.0 275.8 L296.0 274.9 L297.0 275.5 L298.0 274.5 L299.0 274.4 L300.0 275.7 L301.0 275.3 L302.0 274.2 L303.0 274.8 L304.0 275.4 L305.0 276.5 L306.0 276.1 L307.0 275.9 L308.0 274.1 L309.0 275.3 L310.0 275.7 L311.0 275.7 L312.0 275.7 L313.0 275.2 L314.0 276.6 L315.0 276.4 L316.0 275.3 L317.0 274.7 L318.0 276.8 L319.0 275.0 L320.0 276.2 L321.0 276.7 L322.0 274.8 L323.0 275.6 L324.0 275.2 L325.0 275.8 L326.0 275.6 L327.0 276.8 L328.0 275.8 L329.0 275.4 L330.0 276.2 L331.0 275.2 L332.0 275.2 L333.0 277.0 L334.0 274.9 L335.0 275.1 L336.0 275.5 L337.0 274.7 L338.0 274.0 L339.0 276.2 L340.0 274.9 L341.0 275.1 L342.0 275.2 L343.0 274.8 L344.0 274.7 L345.0 275.6 L346.0 277.2 L347.0 276.0 L348.0 276.0 L349.0 274.4 L350.0 275.5 L351.0 274.7 L352.0 276.0 L353.0 275.3 L354.0 275.5 L355.0 275.4 L356.0 275.1 L357.0 274.4 L358.0 275.9 L359.0 274.5 L360.0 274.7 L361.0 275.3 L362.0 275.0 L363.0 275.7 L364.0 276.2 L365.0 275.7 L366.0 275.7 L367.0 275.6 L368.0 276.1 L369.0 274.2 L370.0 275.8 L371.0 274.9 L372.0 274.7 L373.0 275.6 L374.0 275.3 L375.0 276.0 L376.0 276.3 L377.0 273.9 L378.0 275.5 L379.0 276.9 L380.0 276.2 L381.0 276.6 L382.0 275.6 L383.0 274.6 L384.0 274.8 L385.0 276.1 L386.0 276.3 L387.0 275.1 L388.0 275.4 L389.0 275.8 L390.0 274.4 L391.0 275.4 L392.0 276.7 L393.0 277.1 L394.0 275.5 L395.0 276.9 L396.0 275.2 L397.0 275.0 L398.0 274.0 L399.0 276.3 L400.0 275.4 L401.0 277.3 L402.0 275.9 L403.0 275.8 L404.0 274.4 L405.0 276.7 L406.0 275.4 L407.0 275.5 L408.0 274.1 L409.0 276.3 L410.0 276.3 L411.0 275.2 L412.0 275.7 L413.0 275.9 L414.0 276.3 L415.0 275.7 L416.0 276.9 L417.0 275.5 L418.0 275.2 L419.0 275.3 L420.0 273.9 L421.0 275.1 L422.0 276.4 L423.0 275.9 L424.0 275.1 L425.0 275.9 L426.0 274.3 L427.0 275.5 L428.0 276.1 L429.0 276.2 L430.0 275.1 L431.0 276.3 L432.0 277.0 L433.0 275.4 L434.0 276.2 L435.0 274.6 L436.0 274.3 L437.0 276.1 L438.0 275.7 L439.0 275.9 L440.0 275.3 L441.0 275.5 L442.0 276.3 L443.0 276.9 L444.0 275.6 L445.0 274.6 L446.0 276.6 L447.0 276.2 L448.0 276.2 L449.0 275.9 L450.0 277.4 L451.0 275.8 L452.0 276.1 L453.0 274.4 L454.0 275.3 L455.0 275.3 L456.0 275.7 L457.0 276.0 L458.0 275.2 L459.0 277.0 L460.0 275.0 L461.0 275.4 L462.0 275.9 L463.0 274.9 L464.0 276.2 L465.0 276.2 L466.0 275.6 L467.0 277.1 L468.0 275.8 L469.0 276.0 L470.0 275.1 L471.0 274.6 L472.0 275.3 L473.0 275.6 L474.0 275.5 L475.0 276.3 L476.0 274.1 L477.0 275.0 L478.0 274.5 L479.0 276.7 L480.0 275.4 L481.0 275.4 L482.0 275.0 L483.0 276.4 L484.0 275.5 L485.0 276.0 L486.0 274.4 L487.0 276.6 L488.0 276.1 L489.0 276.2 L490.0 276.7 L491.0 275.7 L492.0 275.7 L493.0 276.3 L494.0 276.1 L495.0 275.7 L496.0 275.9 L497.0 275.5 L498.0 276.3 L499.0 276.5 L500.0 275.9 L501.0 277.2 L502.0 274.8 L503.0 275.7 L504.0 277.1 L505.0 275.6 L506.0 274.7 L507.0 276.8 L508.0 276.2 L509.0 275.0 L510.0 276.4 L511.0 275.2 L512.0 274.9 L513.0 275.8 L514.0 275.5 L515.0 275.1 L516.0 275.6 L517.0 275.2 L518.0 275.9 L519.0 275.9 L520.0 276.4 L521.0 275.6 L522.0 275.0 L523.0 275.0 L524.0 275.7 L525.0 277.0 L526.0 276.5 L527.0 275.5 L528.0 276.6 L529.0 275.1 L530.0 276.6 L531.0 275.6 L532.0 276.5 L533.0 276.4 L534.0 275.7 L535.0 276.1 L536.0 275.2 L537.0 275.9 L538.0 276.7 L539.0 278.8 L540.0 276.4 L541.0 276.0 L542.0 275.2 L543.0 276.7 L544.0 274.8 L545.0 275.4 L546.0 276.2 L547.0 275.1 L548.0 277.0 L549.0 276.7 L550.0 275.6 L551.0 275.6 L552.0 275.0 L553.0 275.0 L554.0 276.3 L555.0 276.4 L556.0 276.2 L557.0 276.1 L558.0 275.6 L559.0 276.2 L560.0 274.9 L561.0 276.0 L562.0 277.0 L563.0 276.9 L564.0 275.7 L565.0 275.7 L566.0 276.9 L567.0 277.2 L568.0 274.9 L569.0 275.7 L570.0 276.2 L571.0 276.8 L572.0 275.4 L573.0 276.4 L574.0 275.8 L575.0 277.7 L576.0 276.3 L577.0 275.9 L578.0 275.8 L579.0 276.7 L580.0 276.5 L581.0 275.2 L582.0 276.2" fill="none" stroke="#000" stroke-width="3" stroke-linejoin="round"/>
<path d="M79.0 269.0 L80.0 270.4 L81.0 270.8 L82.0 271.2 L83.0 271.8 L84.0 271.7 L85.0 272.8 L86.0 273.0 L87.0 272.3 L88.0 271.7 L89.0 273.0 L90.0 271.0 L91.0 271.1 L92.0 273.0 L93.0 272.9 L94.0 273.1 L95.0 272.3 L96.0 271.6 L97.0 272.1 L98.0 272.9 L99.0 271.9 L100.0 272.0 L101.0 271.5 L102.0 271.6 L103.0 273.0 L104.0 272.8 L105.0 271.6 L106.0 271.7 L107.0 272.0 L108.0 272.8 L109.0 271.6 L110.0 272.3 L111.0 270.9 L112.0 271.5 L113.0 272.7 L114.0 273.1 L115.0 271.6 L116.0 271.9 L117.0 273.0 L118.0 272.1 L119.0 272.0 L120.0 272.8 L121.0 272.6 L122.0 273.2 L123.0 273.0 L124.0 272.0 L125.0 272.3 L126.0 272.4 L127.0 271.5 L128.0 271.7 L129.0 273.1 L130.0 271.3 L131.0 273.1 L132.0 272.6 L133.0 272.3 L134.0 272.8 L135.0 272.7 L136.0 273.2 L137.0 272.1 L138.0 272.2 L139.0 272.2 L140.0 273.7 L141.0 273.1 L142.0 271.7 L143.0 272.2 L144.0 271.9 L145.0 272.4 L146.0 272.5 L147.0 274.0 L148.0 271.1 L149.0 273.1 L150.0 272.7 L151.0 271.9 L152.0 272.3 L153.0 272.0 L154.0 272.4 L155.0 273.1 L156.0 271.3 L157.0 273.3 L158.0 272.1 L159.0 273.4 L160.0 272.7 L161.0 273.2 L162.0 272.8 L163.0 273.1 L164.0 272.4 L165.0 271.8 L166.0 272.8 L167.0 272.9 L168.0 273.8 L169.0 270.9 L170.0 272.2 L171.0 273.1 L172.0 271.5 L173.0 272.2 L174.0 273.8 L175.0 273.3 L176.0 271.7 L177.0 273.3 L178.0 273.2 L179.0 272.9 L180.0 272.6 L181.0 272.5 L182.0 271.7 L183.0 272.0 L184.0 272.9 L185.0 272.4 L186.0 273.6 L187.0 272.1 L188.0 270.6 L189.0 272.1 L190.0 272.5 L191.0 272.6 L192.0 272.4 L193.0 271.8 L194.0 273.4 L195.0 271.9 L196.0 272.8 L197.0 272.1 L198.0 271.5 L199.0 273.3 L200.0 270.6 L201.0 271.7 L202.0 272.6 L203.0 272.1 L204.0 272.8 L205.0 272.2 L206.0 272.0 L207.0 273.8 L208.0 272.2 L209.0 272.2 L210.0 271.6 L211.0 271.8 L212.0 272.8 L213.0 272.7 L214.0 272.3 L215.0 271.8 L216.0 272.8 L217.0 271.1 L218.0 272.1 L219.0 272.1 L220.0 271.7 L221.0 272.4 L222.0 271.8 L223.0 271.7 L224.0 273.6 L225.0 272.8 L226.0 273.1 L227.0 272.3 L228.0 273.0 L229.0 272.8 L230.0 273.1 L231.0 274.0 L232.0 272.1 L233.0 272.5 L234.0 272.3 L235.0 269.8 L236.0 271.3 L237.0 272.3 L238.0 272.7 L239.0 271.9 L240.0 273.1 L241.0 273.2 L242.0 272.0 L243.0 273.3 L244.0 273.5 L245.0 272.6 L246.0 271.6 L247.0 273.3 L248.0 272.2 L249.0 272.0 L250.0 272.4 L251.0 271.9 L252.0 273.0 L253.0 272.8 L254.0 273.1 L255.0 272.7 L256.0 271.7 L257.0 272.2 L258.0 272.9 L259.0 272.0 L260.0 274.3 L261.0 272.1 L262.0 271.9 L263.0 273.1 L264.0 272.8 L265.0 272.2 L266.0 272.1 L267.0 272.6 L268.0 272.8 L269.0 272.8 L270.0 272.1 L271.0 272.6 L272.0 272.9 L273.0 272.8 L274.0 270.1 L275.0 271.6 L276.0 271.7 L277.0 272.1 L278.0 272.4 L279.0 272.9 L280.0 272.7 L281.0 272.2 L282.0 272.3 L283.0 273.5 L284.0 271.8 L285.0 272.5 L286.0 273.3 L287.0 272.5 L288.0 270.8 L289.0 272.5 L290.0 272.0 L291.0 272.2 L292.0 273.0 L293.0 272.6 L294.0 272.1 L295.0 272.9 L296.0 272.5 L297.0 272.3 L298.0 272.4 L299.0 272.4 L300.0 272.0 L301.0 271.9 L302.0 272.2 L303.0 271.6 L304.0 271.3 L305.0 273.1 L306.0 272.1 L307.0 272.2 L308.0 272.1 L309.0 272.2 L310.0 272.2 L311.0 272.3 L312.0 271.7 L313.0 272.9 L314.0 271.7 L315.0 272.9 L316.0 270.9 L317.0 271.5 L318.0 272.9 L319.0 272.1 L320.0 271.7 L321.0 272.5 L322.0 271.5 L323.0 272.3 L324.0 270.7 L325.0 271.9 L326.0 271.8 L327.0 272.6 L328.0 272.8 L329.0 271.6 L330.0 273.3 L331.0 271.8 L332.0 270.8 L333.0 270.5 L334.0 273.3 L335.0 272.1 L336.0 271.7 L337.0 271.7 L338.0 271.4 L339.0 273.1 L340.0 272.1 L341.0 273.5 L342.0 272.1 L343.0 270.6 L344.0 272.8 L345.0 271.9 L346.0 272.0 L347.0 273.3 L348.0 272.0 L349.0 273.0 L350.0 272.2 L351.0 271.7 L352.0 272.5 L353.0 271.8 L354.0 273.0 L355.0 272.9 L356.0 272.2 L357.0 272.6 L358.0 272.6 L359.0 272.0 L360.0 272.8 L361.0 272.0 L362.0 272.6 L363.0 271.5 L364.0 272.2 L365.0 272.5 L366.0 271.6 L367.0 271.9 L368.0 271.8 L369.0 272.7 L370.0 271.7 L371.0 272.5 L372.0 273.2 L373.0 272.4 L374.0 271.0 L375.0 272.3 L376.0 272.9 L377.0 272.0 L378.0 272.9 L379.0 272.6 L380.0 272.5 L381.0 272.0 L382.0 271.8 L383.0 272.0 L384.0 272.2 L385.0 272.5 L386.0 272.5 L387.0 272.0 L388.0 272.2 L389.0 272.4 L390.0 271.0 L391.0 271.6 L392.0 271.6 L393.0 272.0 L394.0 272.0 L395.0 272.0 L396.0 271.6 L397.0 272.6 L398.0 272.4 L399.0 271.0 L400.0 272.2 L401.0 271.4 L402.0 273.3 L403.0 271.8 L404.0 271.9 L405.0 272.2 L406.0 272.0 L407.0 272.1 L408.0 273.2 L409.0 272.3 L410.0 272.7 L411.0 272.9 L412.0 271.5 L413.0 273.3 L414.0 272.6 L415.0 272.8 L416.0 271.5 L417.0 272.7 L418.0 272.4 L419.0 271.8 L420.0 273.7 L421.0 272.5 L422.0 272.0 L423.0 272.3 L424.0 272.8 L425.0 272.9 L426.0 272.5 L427.0 273.0 L428.0 273.2 L429.0 271.3 L430.0 271.8 L431.0 271.5 L432.0 272.2 L433.0 273.1 L434.0 272.6 L435.0 271.4 L436.0 271.9 L437.0 272.9 L438.0 271.8 L439.0 272.1 L440.0 272.3 L441.0 270.9 L442.0 272.7 L443.0 272.4 L444.0 272.5 L445.0 271.4 L446.0 271.6 L447.0 271.7 L448.0 272.3 L449.0 272.2 L450.0 272.2 L451.0 273.4 L452.0 273.0 L453.0 271.6 L454.0 271.7 L455.0 273.3 L456.0 271.9 L457.0 273.1 L458.0 273.2 L459.0 271.7 L460.0 271.9 L461.0 272.2 L462.0 271.5 L463.0 271.4 L464.0 271.8 L465.0 272.7 L466.0 271.8 L467.0 272.0 L468.0 271.8 L469.0 271.2 L470.0 273.2 L471.0 270.5 L472.0 271.7 L473.0 272.5 L474.0 271.1 L475.0 272.5 L476.0 273.0 L477.0 271.5 L478.0 272.3 L479.0 271.3 L480.0 272.5 L481.0 272.2 L482.0 272.3 L483.0 273.1 L484.0 272.4 L485.0 273.0 L486.0 272.5 L487.0 271.3 L488.0 272.3 L489.0 272.4 L490.0 271.1 L491.0 273.0 L492.0 272.1 L493.0 272.4 L494.0 271.5 L495.0 272.1 L496.0 272.3 L497.0 271.9 L498.0 272.1 L499.0 270.6 L500.0 273.0 L501.0 271.3 L502.0 270.6 L503.0 271.4 L504.0 271.5 L505.0 272.5 L506.0 271.4 L507.0 272.3 L508.0 271.4 L509.0 273.6 L510.0 272.5 L511.0 273.5 L512.0 271.4 L513.0 272.5 L514.0 271.4 L515.0 272.5 L516.0 272.6 L517.0 271.0 L518.0 271.3 L519.0 271.3 L520.0 271.0 L521.0 271.6 L522.0 271.4 L523.0 271.1 L524.0 272.1 L525.0 272.5 L526.0 271.2 L527.0 271.7 L528.0 272.1 L529.0 271.9 L530.0 271.6 L531.0 272.6 L532.0 272.7 L533.0 272.5 L534.0 271.9 L535.0 273.5 L536.0 273.3 L537.0 271.8 L538.0 272.0 L539.0 272.9 L540.0 271.5 L541.0 272.3 L542.0 272.1 L543.0 271.6 L544.0 271.9 L545.0 271.0 L546.0 271.7 L547.0 270.7 L548.0 273.6 L549.0 273.1 L550.0 272.9 L551.0 272.3 L552.0 272.7 L553.0 272.9 L554.0 272.8 L555.0 272.7 L556.0 271.4 L557.0 272.3 L558.0 271.7 L559.0 271.2 L560.0 271.2 L561.0 272.3 L562.0 272.8 L563.0 271.1 L564.0 273.3 L565.0 273.1 L566.0 271.8 L567.0 271.7 L568.0 272.0 L569.0 272.7 L570.0 271.8 L571.0 271.3 L572.0 272.3 L573.0 270.6 L574.0 272.1 L575.0 272.8 L576.0 272.2 L577.0 272.6 L578.0 272.4 L579.0 272.5 L580.0 272.1 L581.0 271.4 L582.0 271.9" fill="none" stroke="#000" stroke-width="3" stroke-linejoin="round"/>
<path d="M79.0 269.9 L80.0 271.0 L81.0 271.4 L82.0 270.7 L83.0 269.9 L84.0 270.0 L85.0 270.4 L86.0 271.5 L87.0 270.7 L88.0 270.5 L89.0 270.0 L90.0 271.1 L91.0 270.7 L92.0 270.5 L93.0 270.6 L94.0 271.7 L95.0 270.4 L96.0 271.7 L97.0 271.4 L98.0 270.5 L99.0 271.1 L100.0 270.4 L101.0 269.9 L102.0 270.3 L103.0 269.9 L104.0 270.8 L105.0 270.5 L106.0 270.9 L107.0 271.1 L108.0 268.3 L109.0 270.7 L110.0 269.2 L111.0 270.6 L112.0 269.9 L113.0 270.6 L114.0 271.4 L115.0 269.3 L116.0 270.6 L117.0 270.4 L118.0 269.2 L119.0 270.9 L120.0 270.5 L121.0 270.1 L122.0 270.0 L123.0 272.7 L124.0 270.2 L125.0 269.2 L126.0 269.8 L127.0 270.2 L128.0 270.2 L129.0 270.4 L130.0 269.7 L131.0 270.8 L132.0 270.1 L133.0 269.5 L134.0 269.9 L135.0 270.2 L136.0 271.1 L137.0 270.8 L138.0 270.2 L139.0 270.5 L140.0 270.6 L141.0 271.9 L142.0 270.0 L143.0 270.8 L144.0 271.0 L145.0 269.8 L146.0 270.6 L147.0 270.6 L148.0 270.1 L149.0 270.8 L150.0 271.2 L151.0 271.2 L152.0 270.3 L153.0 270.6 L154.0 272.1 L155.0 269.7 L156.0 270.6 L157.0 271.1 L158.0 270.6 L159.0 270.9 L160.0 270.6 L161.0 271.0 L162.0 271.3 L163.0 270.3 L164.0 270.6 L165.0 270.4 L166.0 270.2 L167.0 270.4 L168.0 269.6 L169.0 271.0 L170.0 271.6 L171.0 271.6 L172.0 271.3 L173.0 269.8 L174.0 271.5 L175.0 269.9 L176.0 270.4 L177.0 271.7 L178.0 269.7 L179.0 271.0 L180.0 270.6 L181.0 270.3 L182.0 269.8 L183.0 270.7 L184.0 270.1 L185.0 271.2 L186.0 271.3 L187.0 269.5 L188.0 270.1 L189.0 270.2 L190.0 269.6 L191.0 269.6 L192.0 270.5 L193.0 270.3 L194.0 269.3 L195.0 270.0 L196.0 270.8 L197.0 269.6 L198.0 269.8 L199.0 271.5 L200.0 271.3 L201.0 269.3 L202.0 269.5 L203.0 270.7 L204.0 269.6 L205.0 270.2 L206.0 270.1 L207.0 270.8 L208.0 268.6 L209.0 268.9 L210.0 269.6 L211.0 271.1 L212.0 270.3 L213.0 269.2 L214.0 270.8 L215.0 270.9 L216.0 270.2 L217.0 270.2 L218.0 270.7 L219.0 271.3 L220.0 270.5 L221.0 270.8 L222.0 270.4 L223.0 270.1 L224.0 269.8 L225.0 270.6 L226.0 270.2 L227.0 270.2 L228.0 271.1 L229.0 270.7 L230.0 271.0 L231.0 269.3 L232.0 270.8 L233.0 270.0 L234.0 269.8 L235.0 269.8 L236.0 271.2 L237.0 271.0 L238.0 269.9 L239.0 269.6 L240.0 270.4 L241.0 270.1 L242.0 271.6 L243.0 269.4 L244.0 269.1 L245.0 270.2 L246.0 270.4 L247.0 270.5 L248.0 270.9 L249.0 271.8 L250.0 270.2 L251.0 270.0 L252.0 269.2 L253.0 270.6 L254.0 271.0 L255.0 270.2 L256.0 271.2 L257.0 270.4 L258.0 271.4 L259.0 270.6 L260.0 269.6 L261.0 269.9 L262.0 269.3 L263.0 269.2 L264.0 270.6 L265.0 271.0 L266.0 271.8 L267.0 270.3 L268.0 270.2 L269.0 269.6 L270.0 271.1 L271.0 270.7 L272.0 270.0 L273.0 270.9 L274.0 270.8 L275.0 269.1 L276.0 270.9 L277.0 270.5 L278.0 270.1 L279.0 270.1 L280.0 271.6 L281.0 271.5 L282.0 271.7 L283.0 269.6 L284.0 269.9 L285.0 271.0 L286.0 269.5 L287.0 269.9 L288.0 269.1 L289.0 271.7 L290.0 271.1 L291.0 270.7 L292.0 270.5 L293.0 270.1 L294.0 270.1 L295.0 270.8 L296.0 269.9 L297.0 271.2 L298.0 270.0 L299.0 269.8 L300.0 271.3 L301.0 270.3 L302.0 270.8 L303.0 270.1 L304.0 268.8 L305.0 270.7 L306.0 269.4 L307.0 271.1 L308.0 269.3 L309.0 269.1 L310.0 270.6 L311.0 270.7 L312.0 270.4 L313.0 269.5 L314.0 271.0 L315.0 269.3 L316.0 270.0 L317.0 269.8 L318.0 270.1 L319.0 271.0 L320.0 269.9 L321.0 270.8 L322.0 270.8 L323.0 269.2 L324.0 269.5 L325.0 270.1 L326.0 269.9 L327.0 270.6 L328.0 269.0 L329.0 270.9 L330.0 270.9 L331.0 270.2 L332.0 269.4 L333.0 270.4 L334.0 270.0 L335.0 270.7 L336.0 270.3 L337.0 270.9 L338.0 270.0 L339.0 271.4 L340.0 268.7 L341.0 269.6 L342.0 270.7 L343.0 269.3 L344.0 270.9 L345.0 269.5 L346.0 270.4 L347.0 269.7 L348.0 270.0 L349.0 270.5 L350.0 270.3 L351.0 270.1 L352.0 271.9 L353.0 270.3 L354.0 269.7 L355.0 271.0 L356.0 270.9 L357.0 271.2 L358.0 271.6 L359.0 269.7 L360.0 271.1 L361.0 271.1 L362.0 270.3 L363.0 270.5 L364.0 268.2 L365.0 269.9 L366.0 271.6 L367.0 269.1 L368.0 270.0 L369.0 270.5 L370.0 270.7 L371.0 271.5 L372.0 269.1 L373.0 270.4 L374.0 270.9 L375.0 269.4 L376.0 270.3 L377.0 271.7 L378.0 271.3 L379.0 270.7 L380.0 268.5 L381.0 270.2 L382.0 270.6 L383.0 270.1 L384.0 270.3 L385.0 272.5 L386.0 270.2 L387.0 269.7 L388.0 270.5 L389.0 270.1 L390.0 270.1 L391.0 270.3 L392.0 270.9 L393.0 270.5 L394.0 269.5 L395.0 270.2 L396.0 270.7 L397.0 270.0 L398.0 271.1 L399.0 270.9 L400.0 269.6 L401.0 270.5 L402.0 271.7 L403.0 271.4 L404.0 270.3 L405.0 271.0 L406.0 269.9 L407.0 269.3 L408.0 270.7 L409.0 270.5 L410.0 270.7 L411.0 270.3 L412.0 270.5 L413.0 270.0 L414.0 270.7 L415.0 270.9 L416.0 270.3 L417.0 270.9 L418.0 269.1 L419.0 269.8 L420.0 271.3 L421.0 271.5 L422.0 270.5 L423.0 270.2 L424.0 269.4 L425.0 270.6 L426.0 270.9 L427.0 269.3 L428.0 270.7 L429.0 270.7 L430.0 270.6 L431.0 269.5 L432.0 270.7 L433.0 269.3 L434.0 271.4 L435.0 270.4 L436.0 269.5 L437.0 271.3 L438.0 271.1 L439.0 269.9 L440.0 271.9 L441.0 269.6 L442.0 270.5 L443.0 271.1 L444.0 268.7 L445.0 271.0 L446.0 270.3 L447.0 270.3 L448.0 269.6 L449.0 270.5 L450.0 269.5 L451.0 269.6 L452.0 270.0 L453.0 269.4 L454.0 271.4 L455.0 269.4 L456.0 269.8 L457.0 270.1 L458.0 270.3 L459.0 270.9 L460.0 270.9 L461.0 270.1 L462.0 270.0 L463.0 270.3 L464.0 270.9 L465.0 270.8 L466.0 269.9 L467.0 268.9 L468.0 271.8 L469.0 271.0 L470.0 270.5 L471.0 270.5 L472.0 269.9 L473.0 269.6 L474.0 270.1 L475.0 270.1 L476.0 269.9 L477.0 269.3 L478.0 270.1 L479.0 270.7 L480.0 269.9 L481.0 270.3 L482.0 268.8 L483.0 270.1 L484.0 270.2 L485.0 269.4 L486.0 269.1 L487.0 270.6 L488.0 269.7 L489.0 270.6 L490.0 270.0 L491.0 270.7 L492.0 270.1 L493.0 269.2 L494.0 270.2 L495.0 270.1 L496.0 270.8 L497.0 270.0 L498.0 270.0 L499.0 270.9 L500.0 271.1 L501.0 270.8 L502.0 271.0 L503.0 270.6 L504.0 270.8 L505.0 270.9 L506.0 270.6 L507.0 270.3 L508.0 270.4 L509.0 272.0 L510.0 270.3 L511.0 270.1 L512.0 270.0 L513.0 270.3 L514.0 270.5 L515.0 269.5 L516.0 268.9 L517.0 270.5 L518.0 269.2 L519.0 270.5 L520.0 270.4 L521.0 271.1 L522.0 271.5 L523.0 270.5 L524.0 269.9 L525.0 269.5 L526.0 269.7 L527.0 270.3 L528.0 268.8 L529.0 270.3 L530.0 270.3 L531.0 270.7 L532.0 270.0 L533.0 270.3 L534.0 269.8 L535.0 270.0 L536.0 269.0 L537.0 270.4 L538.0 271.4 L539.0 270.4 L540.0 270.5 L541.0 269.6 L542.0 271.3 L543.0 269.7 L544.0 270.8 L545.0 270.3 L546.0 269.6 L547.0 271.0 L548.0 270.3 L549.0 270.4 L550.0 270.6 L551.0 270.3 L552.0 270.0 L553.0 270.6 L554.0 270.0 L555.0 270.3 L556.0 269.8 L557.0 269.2 L558.0 269.8 L559.0 269.9 L560.0 270.3 L561.0 271.1 L562.0 269.1 L563.0 270.4 L564.0 268.7 L565.0 269.5 L566.0 269.9 L567.0 268.7 L568.0 269.0 L569.0 270.4 L570.0 270.3 L571.0 270.2 L572.0 269.7 L573.0 271.8 L574.0 270.2 L575.0 269.7 L576.0 271.4 L577.0 270.7 L578.0 270.0 L579.0 271.1 L580.0 270.4 L581.0 270.7 L582.0 270.4" fill="none" stroke="#000" stroke-width="3" stroke-linejoin="round"/>
<path d="M80.0 266.5 L81.5 267.7 L83.0 266.9 L84.5 266.5 L86.0 266.5 L87.5 267.7 L89.0 266.5 L90.5 266.8 L92.0 267.4 L93.5 266.9 L95.0 266.5 L96.5 267.4 L98.0 267.6 L99.5 267.6 L101.0 268.3 L102.5 267.1 L104.0 267.5 L105.5 268.2 L107.0 266.5 L108.5 268.4 L110.0 268.4 L111.5 267.5 L113.0 268.5 L114.5 267.6 L116.0 266.5 L117.5 267.8 L119.0 267.1 L120.5 267.2 L122.0 266.9 L123.5 268.0 L125.0 267.3 L126.5 266.5 L128.0 267.2 L129.5 267.5 L131.0 266.5 L132.5 266.5 L134.0 266.5 L135.5 266.5 L137.0 267.1 L138.5 267.7 L140.0 268.5 L141.5 267.9 L143.0 267.7 L144.5 267.8 L146.0 268.0 L147.5 266.5 L149.0 267.4 L150.5 267.1 L152.0 266.7 L153.5 266.5 L155.0 266.5 L156.5 266.6 L158.0 266.5 L159.5 267.3 L161.0 266.8 L162.5 266.9 L164.0 267.1 L165.5 267.5 L167.0 266.5 L168.5 266.7 L170.0 266.5 L171.5 266.5 L173.0 266.5 L174.5 268.2 L176.0 266.5 L177.5 267.2 L179.0 268.1 L180.5 266.5 L182.0 268.3 L183.5 268.5 L185.0 267.7 L186.5 268.9 L188.0 267.4 L189.5 266.5 L191.0 267.3 L192.5 266.5 L194.0 266.5 L195.5 266.5 L197.0 268.9 L198.5 266.5 L200.0 266.8 L201.5 266.5 L203.0 266.9 L204.5 266.6 L206.0 266.5 L207.5 266.5 L209.0 266.5 L210.5 266.5 L212.0 267.1 L213.5 268.7 L215.0 267.8 L216.5 268.5 L218.0 267.2 L219.5 266.7 L221.0 266.5 L222.5 266.8 L224.0 266.5 L225.5 266.5 L227.0 268.3 L228.5 267.1 L230.0 267.8 L231.5 266.5 L233.0 266.5 L234.5 266.5 L236.0 266.5 L237.5 267.9 L239.0 268.6 L240.5 266.5 L242.0 266.5 L243.5 266.7 L245.0 266.5 L246.5 266.5 L248.0 266.9 L249.5 267.1 L251.0 267.2 L252.5 266.5 L254.0 266.7 L255.5 266.5 L257.0 267.6 L258.5 266.5 L260.0 266.6 L261.5 266.5 L263.0 266.5 L264.5 266.5 L266.0 266.5 L267.5 268.4 L269.0 267.1 L270.5 267.1 L272.0 268.7 L273.5 266.7 L275.0 267.3 L276.5 266.8 L278.0 267.9 L279.5 267.3 L281.0 267.1 L282.5 266.6 L284.0 267.1 L285.5 267.9 L287.0 266.5 L288.5 266.7 L290.0 266.5 L291.5 266.6 L293.0 266.5 L294.5 267.5 L296.0 266.5 L297.5 266.6 L299.0 266.5 L300.5 266.5 L302.0 266.5 L303.5 266.5 L305.0 266.5 L306.5 266.5 L308.0 266.8 L309.5 266.9 L311.0 266.7 L312.5 268.8 L314.0 267.2 L315.5 266.5 L317.0 266.5 L318.5 266.5 L320.0 266.7 L321.5 266.5 L323.0 266.5 L324.5 268.3 L326.0 266.9 L327.5 266.5 L329.0 266.6 L330.5 266.6 L332.0 268.1 L333.5 267.3 L335.0 267.8 L336.5 266.5 L338.0 267.1 L339.5 267.8 L341.0 268.6 L342.5 266.9 L344.0 266.5 L345.5 267.4 L347.0 266.5 L348.5 266.5 L350.0 266.5 L351.5 267.8 L353.0 267.9 L354.5 267.5 L356.0 266.5 L357.5 269.1 L359.0 266.5 L360.5 266.8 L362.0 266.5 L363.5 268.0 L365.0 267.2 L366.5 267.6 L368.0 266.9 L369.5 266.8 L371.0 267.0 L372.5 266.5 L374.0 267.7 L375.5 267.7 L377.0 266.5 L378.5 266.8 L380.0 267.1 L381.5 268.2 L383.0 267.2 L384.5 266.9 L386.0 266.5 L387.5 266.5 L389.0 266.5 L390.5 266.9 L392.0 266.6 L393.5 266.9 L395.0 267.5 L396.5 267.2 L398.0 267.1 L399.5 267.4 L401.0 267.0 L402.5 266.8 L404.0 267.3 L405.5 266.5 L407.0 268.0 L408.5 266.5 L410.0 267.6 L411.5 266.9 L413.0 267.8 L414.5 266.9 L416.0 266.5 L417.5 267.8 L419.0 267.0 L420.5 267.0 L422.0 266.9 L423.5 267.7 L425.0 267.6 L426.5 267.1 L428.0 266.5 L429.5 266.5 L431.0 266.9 L432.5 268.5 L434.0 267.2 L435.5 266.8 L437.0 267.9 L438.5 266.7 L440.0 266.8 L441.5 267.0 L443.0 266.5 L444.5 267.7 L446.0 267.2 L447.5 266.6 L449.0 266.5 L450.5 267.0 L452.0 268.1 L453.5 266.5 L455.0 266.5 L456.5 267.2 L458.0 266.5 L459.5 266.5 L461.0 266.5 L462.5 266.5 L464.0 266.6 L465.5 266.5 L467.0 267.1 L468.5 266.7 L470.0 266.5 L471.5 266.5 L473.0 267.4 L474.5 267.7 L476.0 267.7 L477.5 267.5 L479.0 266.5 L480.5 266.5 L482.0 266.6 L483.5 267.0 L485.0 266.5 L486.5 268.1 L488.0 267.1 L489.5 266.5 L491.0 267.0 L492.5 266.5 L494.0 266.5 L495.5 267.3 L497.0 266.5 L498.5 266.5 L500.0 266.5 L501.5 266.8 L503.0 266.5 L504.5 268.0 L506.0 266.5 L507.5 268.4 L509.0 267.7 L510.5 266.5 L512.0 267.0 L513.5 267.9 L515.0 266.7 L516.5 266.5 L518.0 267.0 L519.5 268.6 L521.0 266.5 L522.5 267.4 L524.0 266.9 L525.5 266.8 L527.0 266.5 L528.5 266.6 L530.0 267.8 L531.5 267.4 L533.0 266.5 L534.5 268.3 L536.0 266.5 L537.5 267.5 L539.0 267.0 L540.5 267.9 L542.0 267.2 L543.5 267.8 L545.0 266.8 L546.5 267.7 L548.0 267.2 L549.5 268.8 L551.0 266.5 L552.5 267.9 L554.0 267.3 L555.5 267.0 L557.0 266.5 L558.5 267.3 L560.0 266.5 L561.5 266.5 L563.0 267.5 L564.5 266.5 L566.0 268.2 L567.5 266.6 L569.0 267.1 L570.5 266.9 L572.0 267.2 L573.5 266.6 L575.0 266.5 L576.5 266.8 L578.0 267.8 L579.5 267.9 L581.0 268.0" fill="none" stroke="#000" stroke-width="2.6" stroke-linejoin="round"/>
<path d="M80.0 268.8 L81.5 268.3 L83.0 267.0 L84.5 269.1 L86.0 269.3 L87.5 268.1 L89.0 269.2 L90.5 269.7 L92.0 268.6 L93.5 269.5 L95.0 268.8 L96.5 266.9 L98.0 268.1 L99.5 268.1 L101.0 269.0 L102.5 267.7 L104.0 268.1 L105.5 267.6 L107.0 268.5 L108.5 268.6 L110.0 269.4 L111.5 269.2 L113.0 268.7 L114.5 268.7 L116.0 268.6 L117.5 268.6 L119.0 269.9 L120.5 266.5 L122.0 268.3 L123.5 268.8 L125.0 269.5 L126.5 267.5 L128.0 268.8 L129.5 269.3 L131.0 268.1 L132.5 266.8 L134.0 268.2 L135.5 267.4 L137.0 269.1 L138.5 267.7 L140.0 270.1 L141.5 268.6 L143.0 267.8 L144.5 268.0 L146.0 267.5 L147.5 268.9 L149.0 269.8 L150.5 268.3 L152.0 269.3 L153.5 267.7 L155.0 268.8 L156.5 270.6 L158.0 267.2 L159.5 269.6 L161.0 269.6 L162.5 266.8 L164.0 267.2 L165.5 267.6 L167.0 269.4 L168.5 268.1 L170.0 268.4 L171.5 269.1 L173.0 268.6 L174.5 268.7 L176.0 268.2 L177.5 269.5 L179.0 267.8 L180.5 270.0 L182.0 268.2 L183.5 267.8 L185.0 269.1 L186.5 268.9 L188.0 266.7 L189.5 268.7 L191.0 267.3 L192.5 267.8 L194.0 269.2 L195.5 267.7 L197.0 268.8 L198.5 268.2 L200.0 270.2 L201.5 268.4 L203.0 267.4 L204.5 267.5 L206.0 267.7 L207.5 268.6 L209.0 268.5 L210.5 269.4 L212.0 268.6 L213.5 268.6 L215.0 268.8 L216.5 268.4 L218.0 268.8 L219.5 269.2 L221.0 269.2 L222.5 268.0 L224.0 266.9 L225.5 267.8 L227.0 268.7 L228.5 266.5 L230.0 268.1 L231.5 268.9 L233.0 268.0 L234.5 267.5 L236.0 270.1 L237.5 269.7 L239.0 268.3 L240.5 269.7 L242.0 269.7 L243.5 267.5 L245.0 270.9 L246.5 267.6 L248.0 268.2 L249.5 267.5 L251.0 268.6 L252.5 267.3 L254.0 268.5 L255.5 269.5 L257.0 268.7 L258.5 268.2 L260.0 269.9 L261.5 267.7 L263.0 269.4 L264.5 268.2 L266.0 268.7 L267.5 268.5 L269.0 268.6 L270.5 268.4 L272.0 267.8 L273.5 268.0 L275.0 268.9 L276.5 268.4 L278.0 267.4 L279.5 267.8 L281.0 267.9 L282.5 268.4 L284.0 268.6 L285.5 268.6 L287.0 267.9 L288.5 268.5 L290.0 267.2 L291.5 266.5 L293.0 268.4 L294.5 267.0 L296.0 267.6 L297.5 267.4 L299.0 269.0 L300.5 267.4 L302.0 268.7 L303.5 268.0 L305.0 267.4 L306.5 267.0 L308.0 268.9 L309.5 268.8 L311.0 269.2 L312.5 270.1 L314.0 268.7 L315.5 268.7 L317.0 268.3 L318.5 268.5 L320.0 268.1 L321.5 267.6 L323.0 270.2 L324.5 266.8 L326.0 268.7 L327.5 268.8 L329.0 268.6 L330.5 267.6 L332.0 268.3 L333.5 268.0 L335.0 267.5 L336.5 268.4 L338.0 268.1 L339.5 267.9 L341.0 269.1 L342.5 267.5 L344.0 268.8 L345.5 267.9 L347.0 268.8 L348.5 268.5 L350.0 268.7 L351.5 267.6 L353.0 267.7 L354.5 267.7 L356.0 268.6 L357.5 269.1 L359.0 269.4 L360.5 268.0 L362.0 268.5 L363.5 267.0 L365.0 266.5 L366.5 267.6 L368.0 267.8 L369.5 267.0 L371.0 266.8 L372.5 268.9 L374.0 267.7 L375.5 266.9 L377.0 270.5 L378.5 268.6 L380.0 268.1 L381.5 269.0 L383.0 267.7 L384.5 269.8 L386.0 267.0 L387.5 267.2 L389.0 268.3 L390.5 267.7 L392.0 269.7 L393.5 267.0 L395.0 267.8 L396.5 268.6 L398.0 268.9 L399.5 269.3 L401.0 268.7 L402.5 270.4 L404.0 268.0 L405.5 268.6 L407.0 269.2 L408.5 268.1 L410.0 268.1 L411.5 268.0 L413.0 267.8 L414.5 267.4 L416.0 267.9 L417.5 267.0 L419.0 268.7 L420.5 267.0 L422.0 270.3 L423.5 269.9 L425.0 269.4 L426.5 268.2 L428.0 267.9 L429.5 269.5 L431.0 268.6 L432.5 268.9 L434.0 267.7 L435.5 269.3 L437.0 267.7 L438.5 268.5 L440.0 266.8 L441.5 267.8 L443.0 268.8 L444.5 268.0 L446.0 268.0 L447.5 269.1 L449.0 268.3 L450.5 269.5 L452.0 266.5 L453.5 268.9 L455.0 268.8 L456.5 267.0 L458.0 267.2 L459.5 269.2 L461.0 267.4 L462.5 267.8 L464.0 268.9 L465.5 268.1 L467.0 268.8 L468.5 267.6 L470.0 268.7 L471.5 269.4 L473.0 268.7 L474.5 266.5 L476.0 269.0 L477.5 268.4 L479.0 267.6 L480.5 269.6 L482.0 266.8 L483.5 270.1 L485.0 267.8 L486.5 269.8 L488.0 268.3 L489.5 267.2 L491.0 268.5 L492.5 268.7 L494.0 268.9 L495.5 269.3 L497.0 267.6 L498.5 268.8 L500.0 269.0 L501.5 268.1 L503.0 267.5 L504.5 267.5 L506.0 269.1 L507.5 269.1 L509.0 267.6 L510.5 267.2 L512.0 269.5 L513.5 267.0 L515.0 268.5 L516.5 267.7 L518.0 266.8 L519.5 268.5 L521.0 268.2 L522.5 269.7 L524.0 270.4 L525.5 268.2 L527.0 269.3 L528.5 269.3 L530.0 267.9 L531.5 267.6 L533.0 269.8 L534.5 268.1 L536.0 268.4 L537.5 268.1 L539.0 268.3 L540.5 267.8 L542.0 269.1 L543.5 269.5 L545.0 268.0 L546.5 267.1 L548.0 268.4 L549.5 267.1 L551.0 267.8 L552.5 269.5 L554.0 270.5 L555.5 268.7 L557.0 267.4 L558.5 269.1 L560.0 266.5 L561.5 267.8 L563.0 269.7 L564.5 269.1 L566.0 267.1 L567.5 266.9 L569.0 269.1 L570.5 268.3 L572.0 267.9 L573.5 268.8 L575.0 267.9 L576.5 266.7 L578.0 269.1 L579.5 267.8 L581.0 267.5" fill="none" stroke="#000" stroke-width="2.6" stroke-linejoin="round"/>
<path d="M80.0 268.8 L81.5 270.2 L83.0 269.3 L84.5 270.6 L86.0 269.8 L87.5 271.0 L89.0 269.7 L90.5 269.4 L92.0 268.3 L93.5 269.0 L95.0 270.7 L96.5 272.0 L98.0 268.9 L99.5 269.1 L101.0 270.3 L102.5 270.4 L104.0 269.4 L105.5 270.1 L107.0 268.6 L108.5 269.8 L110.0 270.8 L111.5 271.5 L113.0 269.9 L114.5 269.8 L116.0 270.4 L117.5 271.0 L119.0 270.5 L120.5 269.3 L122.0 270.3 L123.5 270.9 L125.0 269.4 L126.5 268.8 L128.0 270.5 L129.5 270.3 L131.0 270.9 L132.5 270.1 L134.0 269.4 L135.5 269.6 L137.0 269.1 L138.5 269.2 L140.0 269.5 L141.5 269.6 L143.0 271.0 L144.5 268.9 L146.0 270.0 L147.5 269.5 L149.0 271.4 L150.5 270.3 L152.0 269.7 L153.5 270.8 L155.0 270.1 L156.5 269.6 L158.0 271.4 L159.5 270.7 L161.0 271.6 L162.5 271.1 L164.0 270.7 L165.5 270.1 L167.0 269.1 L168.5 270.7 L170.0 270.1 L171.5 270.6 L173.0 270.0 L174.5 269.4 L176.0 269.1 L177.5 270.7 L179.0 271.2 L180.5 269.8 L182.0 270.4 L183.5 271.3 L185.0 269.3 L186.5 269.7 L188.0 269.0 L189.5 271.1 L191.0 270.3 L192.5 269.6 L194.0 268.5 L195.5 269.9 L197.0 270.9 L198.5 269.8 L200.0 269.7 L201.5 270.6 L203.0 268.9 L204.5 270.1 L206.0 270.6 L207.5 269.3 L209.0 269.3 L210.5 270.3 L212.0 269.9 L213.5 269.8 L215.0 270.2 L216.5 270.2 L218.0 269.2 L219.5 269.4 L221.0 270.4 L222.5 271.0 L224.0 271.2 L225.5 269.3 L227.0 271.0 L228.5 270.7 L230.0 270.0 L231.5 270.5 L233.0 270.8 L234.5 271.6 L236.0 269.1 L237.5 270.6 L239.0 269.9 L240.5 269.9 L242.0 271.1 L243.5 270.8 L245.0 269.1 L246.5 269.8 L248.0 270.2 L249.5 268.8 L251.0 270.8 L252.5 270.0 L254.0 270.2 L255.5 270.3 L257.0 271.6 L258.5 270.1 L260.0 269.7 L261.5 271.6 L263.0 269.6 L264.5 269.6 L266.0 268.8 L267.5 271.0 L269.0 270.3 L270.5 270.5 L272.0 270.2 L273.5 269.9 L275.0 269.3 L276.5 269.3 L278.0 270.4 L279.5 270.2 L281.0 271.5 L282.5 269.4 L284.0 269.6 L285.5 269.1 L287.0 271.3 L288.5 268.9 L290.0 270.7 L291.5 271.3 L293.0 269.9 L294.5 270.7 L296.0 268.1 L297.5 269.7 L299.0 268.6 L300.5 270.2 L302.0 270.1 L303.5 269.4 L305.0 270.9 L306.5 270.4 L308.0 269.6 L309.5 269.6 L311.0 268.7 L312.5 269.9 L314.0 271.9 L315.5 269.4 L317.0 270.4 L318.5 269.6 L320.0 270.8 L321.5 270.4 L323.0 269.8 L324.5 268.5 L326.0 269.6 L327.5 271.1 L329.0 269.8 L330.5 270.6 L332.0 269.6 L333.5 268.4 L335.0 270.4 L336.5 270.3 L338.0 269.5 L339.5 269.7 L341.0 270.3 L342.5 269.5 L344.0 270.4 L345.5 269.9 L347.0 267.9 L348.5 269.9 L350.0 269.5 L351.5 269.3 L353.0 270.4 L354.5 269.6 L356.0 270.5 L357.5 271.0 L359.0 270.2 L360.5 268.7 L362.0 269.4 L363.5 270.9 L365.0 269.8 L366.5 269.3 L368.0 270.0 L369.5 270.5 L371.0 270.3 L372.5 270.6 L374.0 269.3 L375.5 269.8 L377.0 269.8 L378.5 270.0 L380.0 268.2 L381.5 269.8 L383.0 268.9 L384.5 271.3 L386.0 271.4 L387.5 271.5 L389.0 270.8 L390.5 269.6 L392.0 270.9 L393.5 269.9 L395.0 270.6 L396.5 269.2 L398.0 269.5 L399.5 270.5 L401.0 271.6 L402.5 270.0 L404.0 272.0 L405.5 272.0 L407.0 268.9 L408.5 270.0 L410.0 269.2 L411.5 269.9 L413.0 269.6 L414.5 270.0 L416.0 270.9 L417.5 270.9 L419.0 270.3 L420.5 270.1 L422.0 270.2 L423.5 270.2 L425.0 270.6 L426.5 270.1 L428.0 270.5 L429.5 268.9 L431.0 270.8 L432.5 271.6 L434.0 270.2 L435.5 268.8 L437.0 271.3 L438.5 269.8 L440.0 267.4 L441.5 269.9 L443.0 270.6 L444.5 270.4 L446.0 271.2 L447.5 270.6 L449.0 270.2 L450.5 268.3 L452.0 269.1 L453.5 270.2 L455.0 270.7 L456.5 269.1 L458.0 269.5 L459.5 270.5 L461.0 268.4 L462.5 268.3 L464.0 269.9 L465.5 270.3 L467.0 269.6 L468.5 268.0 L470.0 270.1 L471.5 268.9 L473.0 270.6 L474.5 270.0 L476.0 270.3 L477.5 270.6 L479.0 269.6 L480.5 270.8 L482.0 271.2 L483.5 270.4 L485.0 271.2 L486.5 269.5 L488.0 270.9 L489.5 270.3 L491.0 269.2 L492.5 270.0 L494.0 269.6 L495.5 269.6 L497.0 270.1 L498.5 271.0 L500.0 269.8 L501.5 270.2 L503.0 268.7 L504.5 270.2 L506.0 271.1 L507.5 270.8 L509.0 270.5 L510.5 269.6 L512.0 269.2 L513.5 270.0 L515.0 268.9 L516.5 269.0 L518.0 270.9 L519.5 269.2 L521.0 271.7 L522.5 268.8 L524.0 270.4 L525.5 269.0 L527.0 270.2 L528.5 269.1 L530.0 270.1 L531.5 269.9 L533.0 269.7 L534.5 270.5 L536.0 271.4 L537.5 269.5 L539.0 270.8 L540.5 270.1 L542.0 270.0 L543.5 272.0 L545.0 268.1 L546.5 269.4 L548.0 268.4 L549.5 269.8 L551.0 269.9 L552.5 272.0 L554.0 270.4 L555.5 271.7 L557.0 271.2 L558.5 269.7 L560.0 270.5 L561.5 271.5 L563.0 270.2 L564.5 270.2 L566.0 270.5 L567.5 268.7 L569.0 269.3 L570.5 270.4 L572.0 270.5 L573.5 269.2 L575.0 269.8 L576.5 269.9 L578.0 269.9 L579.5 270.7 L581.0 270.2" fill="none" stroke="#000" stroke-width="2.6" stroke-linejoin="round"/>
<path d="M80.0 271.8 L81.5 270.4 L83.0 270.7 L84.5 272.0 L86.0 270.3 L87.5 271.9 L89.0 271.1 L90.5 271.0 L92.0 272.0 L93.5 271.1 L95.0 270.9 L96.5 271.1 L98.0 271.7 L99.5 272.0 L101.0 269.8 L102.5 271.7 L104.0 271.5 L105.5 272.0 L107.0 271.4 L108.5 269.5 L110.0 272.0 L111.5 270.7 L113.0 271.6 L114.5 270.5 L116.0 270.7 L117.5 271.2 L119.0 272.0 L120.5 272.0 L122.0 271.1 L123.5 272.0 L125.0 271.3 L126.5 271.8 L128.0 271.8 L129.5 272.0 L131.0 271.1 L132.5 271.6 L134.0 271.9 L135.5 271.8 L137.0 271.0 L138.5 272.0 L140.0 271.3 L141.5 272.0 L143.0 271.9 L144.5 272.0 L146.0 269.7 L147.5 272.0 L149.0 271.5 L150.5 270.6 L152.0 271.8 L153.5 272.0 L155.0 272.0 L156.5 270.6 L158.0 271.3 L159.5 272.0 L161.0 270.4 L162.5 271.5 L164.0 271.4 L165.5 272.0 L167.0 271.4 L168.5 272.0 L170.0 271.1 L171.5 271.0 L173.0 272.0 L174.5 272.0 L176.0 270.1 L177.5 272.0 L179.0 272.0 L180.5 271.1 L182.0 271.9 L183.5 271.9 L185.0 271.2 L186.5 271.1 L188.0 271.1 L189.5 271.4 L191.0 270.5 L192.5 271.6 L194.0 270.3 L195.5 271.7 L197.0 271.6 L198.5 270.7 L200.0 272.0 L201.5 272.0 L203.0 272.0 L204.5 270.4 L206.0 272.0 L207.5 271.9 L209.0 271.6 L210.5 271.1 L212.0 271.7 L213.5 272.0 L215.0 272.0 L216.5 271.3 L218.0 271.1 L219.5 271.3 L221.0 272.0 L222.5 272.0 L224.0 270.7 L225.5 271.7 L227.0 271.3 L228.5 271.0 L230.0 272.0 L231.5 272.0 L233.0 270.4 L234.5 270.7 L236.0 272.0 L237.5 272.0 L239.0 272.0 L240.5 271.2 L242.0 271.3 L243.5 272.0 L245.0 271.2 L246.5 270.7 L248.0 271.7 L249.5 272.0 L251.0 270.7 L252.5 272.0 L254.0 272.0 L255.5 270.9 L257.0 271.7 L258.5 271.6 L260.0 272.0 L261.5 272.0 L263.0 270.5 L264.5 270.5 L266.0 272.0 L267.5 271.8 L269.0 272.0 L270.5 272.0 L272.0 272.0 L273.5 270.6 L275.0 272.0 L276.5 270.9 L278.0 272.0 L279.5 272.0 L281.0 270.4 L282.5 272.0 L284.0 271.4 L285.5 271.4 L287.0 271.7 L288.5 270.7 L290.0 270.8 L291.5 272.0 L293.0 272.0 L294.5 271.2 L296.0 270.4 L297.5 272.0 L299.0 272.0 L300.5 272.0 L302.0 270.8 L303.5 271.2 L305.0 271.9 L306.5 270.8 L308.0 272.0 L309.5 271.8 L311.0 272.0 L312.5 270.8 L314.0 270.9 L315.5 271.0 L317.0 271.9 L318.5 271.4 L320.0 271.4 L321.5 271.9 L323.0 271.9 L324.5 272.0 L326.0 271.5 L327.5 270.8 L329.0 271.7 L330.5 272.0 L332.0 271.2 L333.5 271.7 L335.0 271.4 L336.5 272.0 L338.0 271.9 L339.5 271.0 L341.0 271.5 L342.5 272.0 L344.0 272.0 L345.5 272.0 L347.0 272.0 L348.5 271.4 L350.0 271.3 L351.5 272.0 L353.0 270.6 L354.5 271.6 L356.0 270.0 L357.5 271.3 L359.0 271.0 L360.5 270.6 L362.0 272.0 L363.5 271.0 L365.0 271.3 L366.5 271.4 L368.0 271.0 L369.5 272.0 L371.0 271.2 L372.5 271.8 L374.0 270.5 L375.5 271.3 L377.0 271.4 L378.5 271.4 L380.0 271.2 L381.5 271.8 L383.0 272.0 L384.5 271.6 L386.0 271.5 L387.5 271.3 L389.0 272.0 L390.5 272.0 L392.0 272.0 L393.5 272.0 L395.0 271.0 L396.5 271.5 L398.0 271.9 L399.5 271.8 L401.0 270.9 L402.5 271.0 L404.0 272.0 L405.5 271.9 L407.0 269.8 L408.5 271.8 L410.0 272.0 L411.5 271.1 L413.0 271.9 L414.5 270.4 L416.0 272.0 L417.5 270.7 L419.0 270.6 L420.5 271.4 L422.0 272.0 L423.5 271.1 L425.0 270.6 L426.5 272.0 L428.0 271.9 L429.5 272.0 L431.0 270.6 L432.5 270.3 L434.0 271.4 L435.5 272.0 L437.0 272.0 L438.5 272.0 L440.0 270.4 L441.5 270.9 L443.0 271.6 L444.5 272.0 L446.0 272.0 L447.5 271.3 L449.0 270.8 L450.5 272.0 L452.0 272.0 L453.5 272.0 L455.0 271.5 L456.5 272.0 L458.0 270.6 L459.5 271.2 L461.0 271.1 L462.5 271.3 L464.0 270.9 L465.5 271.2 L467.0 271.6 L468.5 271.3 L470.0 272.0 L471.5 271.6 L473.0 271.7 L474.5 272.0 L476.0 272.0 L477.5 271.8 L479.0 271.7 L480.5 271.7 L482.0 272.0 L483.5 271.0 L485.0 272.0 L486.5 272.0 L488.0 272.0 L489.5 271.2 L491.0 270.3 L492.5 271.3 L494.0 271.8 L495.5 272.0 L497.0 271.5 L498.5 271.4 L500.0 272.0 L501.5 271.1 L503.0 272.0 L504.5 272.0 L506.0 270.5 L507.5 271.9 L509.0 271.2 L510.5 270.8 L512.0 270.0 L513.5 270.3 L515.0 272.0 L516.5 271.3 L518.0 271.9 L519.5 270.7 L521.0 271.4 L522.5 271.4 L524.0 270.3 L525.5 270.2 L527.0 272.0 L528.5 271.8 L530.0 270.9 L531.5 271.6 L533.0 272.0 L534.5 272.0 L536.0 270.9 L537.5 272.0 L539.0 272.0 L540.5 271.7 L542.0 272.0 L543.5 269.4 L545.0 272.0 L546.5 271.7 L548.0 270.0 L549.5 272.0 L551.0 272.0 L552.5 272.0 L554.0 272.0 L555.5 271.6 L557.0 271.0 L558.5 271.3 L560.0 271.6 L561.5 272.0 L563.0 271.2 L564.5 271.7 L566.0 272.0 L567.5 272.0 L569.0 272.0 L570.5 272.0 L572.0 270.7 L573.5 271.2 L575.0 270.5 L576.5 270.6 L578.0 272.0 L579.5 270.8 L581.0 270.7" fill="none" stroke="#000" stroke-width="2.6" stroke-linejoin="round"/>
<rect x="581" y="266" width="6.3" height="237.7" fill="#000"/>
<line x1="587.70" y1="237.00" x2="587.70" y2="270.00" stroke="#000" stroke-width="1.4" stroke-linecap="butt"/>
<line x1="584.20" y1="257.00" x2="584.20" y2="270.00" stroke="#000" stroke-width="1.8" stroke-linecap="butt"/>
<line x1="586.30" y1="259.00" x2="586.30" y2="270.00" stroke="#000" stroke-width="1.2" stroke-linecap="butt"/>
<path d="M587.0 270.0 L588.5 271.0 L590.0 270.0 L591.5 270.0 L593.0 271.1 L594.5 270.7 L596.0 270.7 L597.5 271.1 L599.0 270.0 L600.5 270.5 L602.0 270.0 L603.5 271.2 L605.0 271.0 L606.5 270.0 L608.0 271.5 L609.5 270.0 L611.0 271.3 L612.5 270.5 L614.0 270.0 L615.5 270.0 L617.0 270.0 L618.5 270.3 L620.0 270.0 L621.5 270.8 L623.0 270.0 L624.5 270.3 L626.0 270.3 L627.5 270.0 L629.0 270.5 L630.5 270.0 L632.0 270.0 L633.5 270.0 L635.0 270.1 L636.5 271.1 L638.0 270.0 L639.5 271.6" fill="none" stroke="#000" stroke-width="2.6" stroke-linejoin="round"/>
<path d="M587.0 273.4 L588.5 273.1 L590.0 273.3 L591.5 272.4 L593.0 271.6 L594.5 272.7 L596.0 273.0 L597.5 272.3 L599.0 271.9 L600.5 270.7 L602.0 272.7 L603.5 272.4 L605.0 271.0 L606.5 272.2 L608.0 272.8 L609.5 272.0 L611.0 272.8 L612.5 272.8 L614.0 270.8 L615.5 271.8 L617.0 272.5 L618.5 272.9 L620.0 273.4 L621.5 270.4 L623.0 272.1 L624.5 272.8 L626.0 273.2 L627.5 273.6 L629.0 271.3 L630.5 271.8 L632.0 271.2 L633.5 272.8 L635.0 270.9 L636.5 273.2 L638.0 272.9 L639.5 272.5" fill="none" stroke="#000" stroke-width="2.6" stroke-linejoin="round"/>
<path d="M587.0 272.0 L588.5 273.4 L590.0 274.6 L591.5 272.7 L593.0 273.7 L594.5 273.9 L596.0 274.7 L597.5 274.2 L599.0 274.2 L600.5 273.6 L602.0 274.0 L603.5 273.8 L605.0 274.6 L606.5 273.8 L608.0 274.9 L609.5 272.4 L611.0 275.0 L612.5 273.8 L614.0 275.0 L615.5 274.0 L617.0 274.7 L618.5 275.3 L620.0 273.5 L621.5 274.0 L623.0 273.8 L624.5 274.1 L626.0 272.5 L627.5 273.8 L629.0 273.7 L630.5 273.3 L632.0 273.8 L633.5 272.6 L635.0 275.2 L636.5 274.4 L638.0 275.6 L639.5 273.2" fill="none" stroke="#000" stroke-width="2.6" stroke-linejoin="round"/>
<path d="M587.0 274.8 L588.5 276.1 L590.0 274.3 L591.5 276.0 L593.0 275.2 L594.5 275.5 L596.0 276.0 L597.5 275.8 L599.0 277.5 L600.5 276.4 L602.0 274.6 L603.5 276.7 L605.0 274.6 L606.5 275.9 L608.0 274.7 L609.5 275.1 L611.0 277.0 L612.5 275.3 L614.0 275.2 L615.5 275.3 L617.0 275.5 L618.5 277.1 L620.0 274.7 L621.5 274.7 L623.0 276.3 L624.5 274.4 L626.0 275.5 L627.5 276.8 L629.0 275.8 L630.5 275.4 L632.0 275.2 L633.5 275.0 L635.0 275.3 L636.5 275.9 L638.0 276.9 L639.5 276.7" fill="none" stroke="#000" stroke-width="2.6" stroke-linejoin="round"/>
<path d="M587.0 277.1 L588.5 277.0 L590.0 278.3 L591.5 276.0 L593.0 277.2 L594.5 277.3 L596.0 276.6 L597.5 276.7 L599.0 277.9 L600.5 276.2 L602.0 276.8 L603.5 277.1 L605.0 277.7 L606.5 276.4 L608.0 278.6 L609.5 277.3 L611.0 277.4 L612.5 277.3 L614.0 277.0 L615.5 276.7 L617.0 278.6 L618.5 277.8 L620.0 277.5 L621.5 278.5 L623.0 277.0 L624.5 278.2 L626.0 277.6 L627.5 276.8 L629.0 278.3 L630.5 276.3 L632.0 278.2 L633.5 276.8 L635.0 278.0 L636.5 278.8 L638.0 278.1 L639.5 277.1" fill="none" stroke="#000" stroke-width="2.6" stroke-linejoin="round"/>
<path d="M587.0 279.4 L588.5 279.1 L590.0 278.4 L591.5 278.5 L593.0 279.5 L594.5 279.9 L596.0 277.9 L597.5 279.4 L599.0 279.9 L600.5 279.5 L602.0 278.6 L603.5 280.4 L605.0 278.4 L606.5 280.0 L608.0 280.9 L609.5 277.6 L611.0 279.7 L612.5 279.7 L614.0 279.6 L615.5 278.8 L617.0 279.2 L618.5 278.2 L620.0 279.6 L621.5 279.9 L623.0 278.8 L624.5 278.6 L626.0 279.0 L627.5 279.4 L629.0 279.5 L630.5 279.3 L632.0 279.5 L633.5 278.3 L635.0 277.0 L636.5 280.0 L638.0 280.7 L639.5 278.2" fill="none" stroke="#000" stroke-width="2.6" stroke-linejoin="round"/>
<path d="M587.0 280.7 L588.5 281.5 L590.0 282.1 L591.5 281.8 L593.0 282.4 L594.5 281.2 L596.0 281.6 L597.5 281.6 L599.0 280.9 L600.5 282.3 L602.0 281.8 L603.5 282.1 L605.0 280.9 L606.5 282.2 L608.0 280.3 L609.5 281.6 L611.0 279.0 L612.5 280.4 L614.0 281.9 L615.5 280.9 L617.0 281.4 L618.5 279.8 L620.0 282.6 L621.5 281.8 L623.0 281.2 L624.5 281.6 L626.0 281.6 L627.5 282.5 L629.0 281.5 L630.5 280.0 L632.0 281.0 L633.5 282.4 L635.0 281.8 L636.5 280.9 L638.0 281.8 L639.5 281.4" fill="none" stroke="#000" stroke-width="2.6" stroke-linejoin="round"/>
<path d="M587.0 283.5 L588.5 281.7 L590.0 282.3 L591.5 283.5 L593.0 282.9 L594.5 283.4 L596.0 283.5 L597.5 282.8 L599.0 283.3 L600.5 282.6 L602.0 282.6 L603.5 283.0 L605.0 281.8 L606.5 281.3 L608.0 283.5 L609.5 283.0 L611.0 283.5 L612.5 283.2 L614.0 283.2 L615.5 283.5 L617.0 283.5 L618.5 282.1 L620.0 283.5 L621.5 282.3 L623.0 283.3 L624.5 283.5 L626.0 283.2 L627.5 283.5 L629.0 282.8 L630.5 283.5 L632.0 283.2 L633.5 283.5 L635.0 282.4 L636.5 282.3 L638.0 283.4 L639.5 281.7" fill="none" stroke="#000" stroke-width="2.6" stroke-linejoin="round"/>
<path d="M587 270 L587 341 L587.3 345.0 L587.5 344.5 L587.7 343.9 L587.9 343.2 L588.2 342.4 L588.5 341.3 L588.9 340.1 L589.3 338.7 L589.8 336.9 L590.4 334.7 L591.1 332.1 L591.8 329.2 L592.6 326.1 L593.4 323.0 L594.2 319.9 L595.0 317.0 L595.8 314.5 L596.5 312.2 L597.2 310.1 L597.9 308.1 L598.5 306.2 L599.2 304.4 L600.0 302.7 L600.8 301.1 L601.8 299.6 L602.9 298.2 L604.0 296.8 L605.2 295.6 L606.4 294.4 L607.8 293.3 L609.2 292.3 L610.7 291.4 L612.2 290.6 L613.9 289.9 L615.6 289.2 L617.5 288.7 L619.5 288.3 L621.4 287.9 L623.4 287.5 L625.3 287.2 L627.1 286.9 L628.9 286.6 L630.9 286.4 L632.8 286.1 L634.7 286.0 L636.5 285.8 L638.1 285.7 L639.5 285.6 L640.5 285.5 L640.5 276 Z" fill="#000"/>
<path d="M588.5 331.0 L589.0 325.1 L589.5 319.9 L590.0 315.4 L590.5 311.3 L591.0 307.8 L591.5 304.6 L592.0 301.8 L592.5 299.4 L593.0 297.2 L593.5 295.3 L594.0 293.6 L594.5 292.2 L595.0 290.8 L595.5 289.7 L596.0 288.7 L596.5 287.8 L597.0 287.0 L597.5 286.3 L598.0 285.7 L598.5 285.1 L599.0 284.6 L599.5 284.2" fill="none" stroke="#fff" stroke-width="0.6" stroke-linejoin="round"/>
<path d="M588.5 319.0 L589.0 315.0 L589.5 311.4 L590.0 308.2 L590.5 305.4 L591.0 302.8 L591.5 300.5 L592.0 298.5 L592.5 296.6 L593.0 295.0 L593.5 293.5 L594.0 292.2 L594.5 291.0 L595.0 290.0 L595.5 289.0 L596.0 288.2 L596.5 287.4 L597.0 286.7 L597.5 286.1 L598.0 285.6 L598.5 285.1 L599.0 284.7 L599.5 284.3" fill="none" stroke="#fff" stroke-width="0.6" stroke-linejoin="round"/>
<path d="M588.5 307.0 L589.0 304.5 L589.5 302.3 L590.0 300.3 L590.5 298.4 L591.0 296.8 L591.5 295.3 L592.0 293.9 L592.5 292.7 L593.0 291.6 L593.5 290.6 L594.0 289.7 L594.5 288.8 L595.0 288.1 L595.5 287.4 L596.0 286.8 L596.5 286.2 L597.0 285.7 L597.5 285.3 L598.0 284.9 L598.5 284.5 L599.0 284.2 L599.5 283.9" fill="none" stroke="#fff" stroke-width="0.6" stroke-linejoin="round"/>
<path d="M721.0 269.8 L722.5 270.6 L724.0 269.8 L725.5 269.8 L727.0 269.8 L728.5 270.1 L730.0 269.8 L731.5 270.1 L733.0 269.8 L734.5 271.6 L736.0 269.8 L737.5 269.8 L739.0 270.1 L740.5 270.0 L742.0 270.1 L743.5 269.8 L745.0 271.0 L746.5 270.0 L748.0 270.0 L749.5 269.8 L751.0 270.4 L752.5 270.0 L754.0 271.2 L755.5 269.8 L757.0 269.8 L758.5 270.1 L760.0 269.8 L761.5 270.4 L763.0 269.8 L764.5 269.9 L766.0 269.8 L767.5 270.0 L769.0 269.8" fill="none" stroke="#ff0000" stroke-width="2.6" stroke-linejoin="round"/>
<path d="M721.0 271.0 L722.5 271.7 L724.0 271.2 L725.5 271.9 L727.0 271.5 L728.5 269.8 L730.0 271.7 L731.5 273.0 L733.0 272.0 L734.5 272.3 L736.0 272.1 L737.5 271.3 L739.0 270.6 L740.5 272.5 L742.0 272.7 L743.5 272.2 L745.0 272.1 L746.5 272.1 L748.0 271.7 L749.5 272.0 L751.0 271.8 L752.5 272.0 L754.0 270.9 L755.5 271.2 L757.0 272.2 L758.5 271.5 L760.0 269.8 L761.5 271.9 L763.0 269.8 L764.5 273.4 L766.0 272.4 L767.5 272.3 L769.0 271.2" fill="none" stroke="#ff0000" stroke-width="2.6" stroke-linejoin="round"/>
<path d="M721.0 272.5 L722.5 273.3 L724.0 273.5 L725.5 272.8 L727.0 273.6 L728.5 274.1 L730.0 274.0 L731.5 272.6 L733.0 271.6 L734.5 273.5 L736.0 272.9 L737.5 273.9 L739.0 274.9 L740.5 274.9 L742.0 273.7 L743.5 274.4 L745.0 274.9 L746.5 273.5 L748.0 273.7 L749.5 274.2 L751.0 273.5 L752.5 273.1 L754.0 272.8 L755.5 273.5 L757.0 273.0 L758.5 274.2 L760.0 273.2 L761.5 274.8 L763.0 274.5 L764.5 272.4 L766.0 274.4 L767.5 273.1 L769.0 274.7" fill="none" stroke="#ff0000" stroke-width="2.6" stroke-linejoin="round"/>
<path d="M721.0 275.6 L722.5 275.2 L724.0 275.6 L725.5 274.7 L727.0 275.5 L728.5 275.6 L730.0 275.1 L731.5 275.6 L733.0 274.4 L734.5 275.6 L736.0 274.2 L737.5 275.6 L739.0 275.6 L740.5 275.6 L742.0 274.8 L743.5 275.6 L745.0 275.0 L746.5 275.4 L748.0 274.6 L749.5 275.6 L751.0 274.8 L752.5 275.6 L754.0 274.4 L755.5 275.5 L757.0 274.9 L758.5 275.6 L760.0 275.0 L761.5 274.5 L763.0 275.6 L764.5 274.2 L766.0 274.4 L767.5 275.6 L769.0 273.7" fill="none" stroke="#ff0000" stroke-width="2.6" stroke-linejoin="round"/>
<path d="M766.8 276 L766.8 26 L773.5 26 L773.5 26.0 L773.9 52.7 L774.3 76.5 L774.7 97.7 L775.1 116.5 L775.5 133.2 L775.9 148.0 L776.3 161.2 L776.7 173.0 L777.1 183.4 L777.5 192.7 L777.9 200.9 L778.3 208.3 L778.7 214.8 L779.1 220.6 L779.5 225.7 L779.9 230.3 L780.3 234.4 L780.7 238.0 L781.1 241.2 L781.5 244.1 L781.9 246.6 L782.3 248.9 L782.7 250.9 L783.1 252.7 L783.5 254.3 L783.9 255.7 L784.3 256.9 L784.7 258.1 L785.1 259.1 L785.5 259.9 L785.9 260.7 L786.3 261.4 L786.7 262.0 L787.1 262.6 L787.5 263.1 L787.9 263.5 L788.3 263.9 L788.7 264.2 L789.1 264.5 L789.5 264.8 L789.9 265.1 L790.3 265.3 L790.7 265.5 L791.1 265.6 L791.5 265.8 L791.9 265.9 L792.3 266.0 L792.7 266.1 L793.1 266.2 L793.5 266.3 L793.9 266.4 L794.3 266.5 L794.7 266.5 L795.1 266.6 L795.5 266.6 L795.9 266.7 L796.3 266.7 L796.7 266.7 L797.1 266.8 L797.5 266.8 L797.9 266.8 L798.3 266.8 L798.7 266.9 L799.1 266.9 L799.5 266.9 L799.9 266.9 L800 268 L776 268 L772 254 L770.5 254 L770.5 276 Z" fill="#ff0000"/>
<path d="M775.0 267.0 L776.0 270.0 L777.0 276.2 L778.0 286.3 L779.0 297.8 L780.0 308.9 L781.0 320.6 L782.0 331.8 L783.0 341.0 L784.0 348.3 L785.0 354.1 L786.0 358.9 L787.0 362.9 L788.0 366.4 L789.0 368.2 L790.0 369.0 L791.0 370.2 L792.0 369.0 L793.0 368.6 L794.0 367.9 L795.0 368.5 L796.0 364.7 L797.0 365.1 L798.0 363.9 L799.0 362.3 L800.0 362.4 L801.0 360.2 L802.0 358.6 L803.0 356.1 L804.0 355.7 L805.0 353.8 L806.0 352.8 L807.0 351.7 L808.0 350.0 L809.0 349.6 L810.0 349.1 L811.0 347.6 L812.0 346.0 L813.0 343.6 L814.0 344.6 L815.0 343.6 L816.0 341.8 L817.0 340.8 L818.0 340.6 L819.0 338.8 L820.0 339.1 L821.0 337.1 L822.0 336.4 L823.0 336.3 L824.0 334.6 L825.0 334.9 L826.0 334.6 L827.0 332.7 L828.0 333.5 L829.0 331.9 L830.0 332.0 L831.0 331.2 L832.0 330.2 L833.0 329.6 L834.0 328.3 L835.0 328.4 L836.0 327.8 L837.0 328.9 L838.0 327.9 L839.0 325.9 L840.0 326.8 L841.0 326.0 L842.0 325.1 L843.0 325.2 L844.0 324.9 L845.0 323.6 L846.0 323.3 L847.0 323.2 L848.0 322.0 L849.0 322.4 L850.0 321.8 L851.0 321.0 L852.0 320.5 L853.0 320.8 L854.0 320.8 L855.0 320.1 L856.0 318.9 L857.0 319.6 L858.0 318.8 L859.0 318.7 L860.0 318.8 L861.0 317.0 L862.0 317.2 L863.0 316.6 L864.0 316.0 L865.0 317.6 L866.0 316.5 L867.0 314.4 L868.0 315.5 L869.0 314.6 L870.0 315.4 L871.0 314.4 L872.0 313.9 L873.0 313.8 L874.0 313.6 L875.0 313.1 L876.0 312.6 L877.0 312.4 L878.0 312.5 L879.0 311.2 L880.0 311.6 L881.0 311.3 L882.0 310.8 L883.0 311.3 L884.0 309.7 L885.0 310.0 L886.0 309.4 L887.0 310.1 L888.0 309.2 L889.0 309.2 L890.0 309.2 L891.0 307.7 L892.0 308.8 L893.0 307.7 L894.0 307.8 L895.0 307.7 L896.0 308.0 L897.0 307.7 L898.0 308.2 L899.0 306.9 L900.0 306.2 L901.0 306.0 L902.0 306.5 L903.0 306.9 L904.0 305.9 L905.0 305.1 L906.0 305.4 L907.0 305.2 L908.0 304.8 L909.0 304.1 L910.0 302.7 L911.0 303.8 L912.0 304.7 L913.0 303.9 L914.0 302.2 L915.0 303.4 L916.0 302.0 L917.0 304.3 L918.0 303.0 L919.0 301.9 L920.0 303.0 L921.0 301.8 L922.0 302.5 L923.0 301.9 L924.0 301.0 L925.0 302.0 L926.0 300.5 L927.0 302.1 L928.0 301.1 L929.0 300.2 L930.0 299.5 L931.0 301.6 L932.0 301.3 L933.0 299.4 L934.0 301.1 L935.0 300.0 L936.0 299.6 L937.0 299.5 L938.0 299.3 L939.0 300.2 L940.0 299.2 L941.0 297.8 L942.0 300.2 L943.0 299.3 L944.0 297.9 L945.0 298.2 L946.0 297.7 L947.0 298.2 L948.0 298.3 L949.0 298.0 L950.0 297.3 L951.0 297.1 L952.0 298.0 L953.0 297.3 L954.0 298.7 L955.0 296.6 L956.0 297.5 L957.0 296.9 L958.0 296.2 L959.0 297.5 L960.0 296.5 L961.0 295.8 L962.0 296.0 L963.0 296.8 L964.0 295.2 L965.0 296.8 L966.0 296.2 L967.0 295.5 L968.0 296.4 L969.0 296.6 L970.0 295.7 L971.0 295.3 L972.0 296.3 L973.0 296.0 L974.0 294.3 L975.0 294.7 L976.0 294.5 L977.0 294.3 L978.0 293.5 L979.0 295.0 L980.0 294.3 L981.0 294.3 L982.0 295.0 L983.0 293.6 L984.0 293.9 L985.0 294.0 L986.0 293.4 L987.0 293.6 L988.0 294.0 L989.0 293.4 L990.0 294.2 L991.0 292.8 L992.0 293.3 L993.0 292.2 L994.0 292.9 L995.0 292.5 L996.0 293.7 L997.0 293.3 L998.0 293.0 L999.0 293.8 L1000.0 293.5 L1001.0 292.9 L1002.0 291.9 L1003.0 291.3 L1004.0 292.2 L1005.0 291.9 L1006.0 291.6 L1007.0 291.8 L1008.0 290.8 L1009.0 292.8 L1010.0 291.0 L1011.0 291.3 L1012.0 292.0 L1013.0 290.5 L1014.0 292.1 L1015.0 292.0 L1016.0 291.2 L1017.0 290.6 L1018.0 290.9 L1019.0 289.9 L1020.0 292.0 L1021.0 291.1 L1022.0 290.5 L1023.0 290.3 L1024.0 291.2 L1025.0 291.8 L1026.0 289.9 L1027.0 290.3 L1028.0 289.4 L1029.0 291.0 L1030.0 290.6 L1031.0 291.9 L1032.0 290.3 L1033.0 290.0 L1034.0 289.8 L1035.0 290.8 L1036.0 289.1 L1037.0 290.6 L1038.0 290.2 L1039.0 289.7 L1040.0 289.3 L1041.0 290.6 L1042.0 291.1 L1043.0 289.5 L1044.0 290.1 L1045.0 290.8 L1046.0 289.2 L1047.0 289.4 L1048.0 288.7 L1049.0 289.4 L1050.0 289.4 L1051.0 289.1 L1052.0 288.9 L1053.0 288.3 L1054.0 288.4 L1055.0 288.6 L1056.0 289.6 L1057.0 288.8 L1058.0 288.5 L1059.0 289.5 L1060.0 289.4 L1061.0 288.5 L1062.0 288.5 L1063.0 289.3 L1064.0 289.1 L1065.0 288.2 L1066.0 288.9 L1067.0 288.7 L1068.0 289.4 L1069.0 288.1 L1070.0 289.2 L1071.0 288.9 L1072.0 287.9 L1073.0 289.2 L1074.0 289.1 L1075.0 287.5 L1076.0 289.7 L1077.0 287.6 L1078.0 287.7 L1079.0 288.1 L1080.0 288.8 L1081.0 288.6 L1082.0 288.1 L1083.0 289.1 L1084.0 288.4 L1085.0 289.0 L1086.0 289.9 L1087.0 288.1 L1088.0 286.3 L1089.0 287.6 L1090.0 287.2 L1091.0 287.9 L1092.0 287.9 L1093.0 287.0 L1094.0 287.0 L1095.0 287.6 L1096.0 287.6 L1097.0 286.0 L1098.0 288.3 L1099.0 287.7 L1100.0 287.6 L1101.0 287.8 L1102.0 286.9 L1103.0 287.5 L1104.0 288.2 L1105.0 288.2 L1106.0 287.8 L1107.0 287.3 L1108.0 286.9 L1109.0 288.3 L1110.0 287.7 L1111.0 287.1 L1112.0 285.8 L1113.0 286.7 L1114.0 286.0 L1115.0 288.1 L1116.0 287.3 L1117.0 286.7 L1118.0 287.0 L1119.0 288.9 L1120.0 288.0 L1121.0 286.2 L1122.0 287.0 L1123.0 286.2 L1124.0 285.9 L1125.0 287.1 L1126.0 288.6 L1127.0 288.0 L1128.0 287.0 L1129.0 286.7 L1130.0 287.1 L1131.0 287.6 L1132.0 285.9 L1133.0 285.6 L1134.0 288.1 L1135.0 287.0 L1136.0 287.9 L1137.0 286.9 L1138.0 287.8 L1139.0 286.3 L1140.0 287.1 L1141.0 287.8 L1142.0 287.4 L1143.0 286.4 L1144.0 287.3 L1145.0 286.2 L1146.0 285.6 L1147.0 287.0 L1148.0 287.6 L1149.0 287.2 L1150.0 285.7 L1151.0 287.1 L1152.0 287.0 L1153.0 286.2 L1154.0 284.8 L1155.0 287.2 L1156.0 287.1 L1157.0 286.8 L1158.0 285.2 L1159.0 285.4 L1160.0 287.1 L1161.0 286.9 L1162.0 286.7 L1163.0 286.2 L1164.0 286.6 L1165.0 285.9 L1166.0 286.1 L1167.0 285.7 L1168.0 286.5 L1169.0 286.0 L1170.0 286.9 L1171.0 286.7 L1172.0 285.7 L1173.0 287.5 L1174.0 285.4 L1175.0 286.5 L1176.0 286.9 L1177.0 287.1 L1178.0 284.6 L1179.0 286.8 L1180.0 287.0 L1181.0 287.1 L1182.0 284.6 L1183.0 285.6 L1184.0 286.0 L1185.0 285.8 L1186.0 287.0 L1187.0 285.6 L1188.0 286.9 L1189.0 286.4 L1190.0 285.0 L1191.0 285.3 L1192.0 285.7 L1193.0 286.1 L1194.0 286.7 L1195.0 285.8 L1196.0 286.6 L1197.0 284.8 L1198.0 283.8 L1199.0 285.7 L1200.0 286.2 L1201.0 285.7 L1202.0 285.2 L1203.0 286.2 L1204.0 287.2 L1205.0 285.8 L1206.0 285.4 L1207.0 285.3 L1208.0 287.2 L1209.0 285.8 L1210.0 286.3 L1211.0 286.7 L1212.0 286.6 L1213.0 285.2 L1214.0 286.5 L1215.0 286.4 L1216.0 286.1 L1217.0 286.5 L1218.0 285.4 L1219.0 285.7 L1220.0 285.4 L1221.0 286.3 L1222.0 285.3 L1223.0 286.0 L1224.0 284.9 L1225.0 285.6 L1226.0 285.4 L1227.0 285.6 L1228.0 285.8 L1229.0 285.5 L1230.0 285.5 L1231.0 284.2 L1232.0 286.4 L1233.0 285.2 L1234.0 285.5 L1235.0 285.1 L1236.0 286.3 L1237.0 285.0 L1238.0 286.0 L1239.0 286.4 L1240.0 286.8 L1241.0 286.4 L1242.0 286.0 L1243.0 284.7 L1244.0 286.5 L1245.0 286.4 L1246.0 286.2 L1247.0 286.1 L1248.0 285.6 L1249.0 285.2 L1250.0 286.3 L1251.0 286.4 L1252.0 284.8 L1253.0 286.2 L1254.0 285.7 L1255.0 286.1 L1256.0 285.7 L1257.0 286.3 L1258.0 286.2 L1259.0 286.1 L1260.0 284.5 L1261.0 286.1 L1262.0 285.5 L1263.0 284.7 L1264.0 286.0 L1265.0 284.5 L1266.0 286.1 L1267.0 286.6 L1268.0 285.1 L1269.0 286.1 L1270.0 285.8 L1271.0 285.9 L1272.0 284.5 L1273.0 285.9 L1274.0 285.5 L1275.0 285.9 L1276.0 285.4 L1277.0 286.2 L1278.0 285.6" fill="none" stroke="#ff0000" stroke-width="2.2" stroke-linejoin="round"/>
<path d="M775.0 267.0 L776.0 272.8 L777.0 281.1 L778.0 293.8 L779.0 306.1 L780.0 318.4 L781.0 328.0 L782.0 337.3 L783.0 344.1 L784.0 347.9 L785.0 351.8 L786.0 353.6 L787.0 353.7 L788.0 355.2 L789.0 355.8 L790.0 354.1 L791.0 352.4 L792.0 352.9 L793.0 351.3 L794.0 351.9 L795.0 349.4 L796.0 348.2 L797.0 346.6 L798.0 346.0 L799.0 344.3 L800.0 342.9 L801.0 342.4 L802.0 340.8 L803.0 341.3 L804.0 338.6 L805.0 338.3 L806.0 337.0 L807.0 335.6 L808.0 336.9 L809.0 333.4 L810.0 335.1 L811.0 332.3 L812.0 332.6 L813.0 333.4 L814.0 329.7 L815.0 329.5 L816.0 330.7 L817.0 329.3 L818.0 328.2 L819.0 328.0 L820.0 326.8 L821.0 327.0 L822.0 327.4 L823.0 325.5 L824.0 325.4 L825.0 325.6 L826.0 325.7 L827.0 323.4 L828.0 323.6 L829.0 322.5 L830.0 322.0 L831.0 321.8 L832.0 321.2 L833.0 320.0 L834.0 319.4 L835.0 319.9 L836.0 320.1 L837.0 320.5 L838.0 318.9 L839.0 318.8 L840.0 319.0 L841.0 318.7 L842.0 317.7 L843.0 317.4 L844.0 318.4 L845.0 316.6 L846.0 316.1 L847.0 315.0 L848.0 316.1 L849.0 315.3 L850.0 316.5 L851.0 314.7 L852.0 315.2 L853.0 315.0 L854.0 315.2 L855.0 312.8 L856.0 314.5 L857.0 313.2 L858.0 312.8 L859.0 312.4 L860.0 312.1 L861.0 311.8 L862.0 310.2 L863.0 311.9 L864.0 311.3 L865.0 310.4 L866.0 310.7 L867.0 312.1 L868.0 310.6 L869.0 309.8 L870.0 311.0 L871.0 309.0 L872.0 309.2 L873.0 308.7 L874.0 308.7 L875.0 309.1 L876.0 308.8 L877.0 307.7 L878.0 307.9 L879.0 307.8 L880.0 307.2 L881.0 307.3 L882.0 306.6 L883.0 306.4 L884.0 306.7 L885.0 305.8 L886.0 306.5 L887.0 305.9 L888.0 305.2 L889.0 305.2 L890.0 305.1 L891.0 305.2 L892.0 305.2 L893.0 304.7 L894.0 304.1 L895.0 305.5 L896.0 304.9 L897.0 304.2 L898.0 304.6 L899.0 304.0 L900.0 303.4 L901.0 303.5 L902.0 305.0 L903.0 303.7 L904.0 303.6 L905.0 302.4 L906.0 303.0 L907.0 303.9 L908.0 302.5 L909.0 302.8 L910.0 302.7 L911.0 302.2 L912.0 302.6 L913.0 301.6 L914.0 301.6 L915.0 300.7 L916.0 302.7 L917.0 301.0 L918.0 300.7 L919.0 301.4 L920.0 300.0 L921.0 300.2 L922.0 299.5 L923.0 299.9 L924.0 299.5 L925.0 300.0 L926.0 299.4 L927.0 298.9 L928.0 299.0 L929.0 299.0 L930.0 298.6 L931.0 299.4 L932.0 299.1 L933.0 298.6 L934.0 297.6 L935.0 298.6 L936.0 297.2 L937.0 298.1 L938.0 297.9 L939.0 297.3 L940.0 297.1 L941.0 297.0 L942.0 298.8 L943.0 297.1 L944.0 297.0 L945.0 297.7 L946.0 297.2 L947.0 297.5 L948.0 295.8 L949.0 295.8 L950.0 298.7 L951.0 296.3 L952.0 296.0 L953.0 296.2 L954.0 296.7 L955.0 295.1 L956.0 296.0 L957.0 295.6 L958.0 296.0 L959.0 295.6 L960.0 295.0 L961.0 294.7 L962.0 293.5 L963.0 295.7 L964.0 294.0 L965.0 294.6 L966.0 295.9 L967.0 294.4 L968.0 295.0 L969.0 294.3 L970.0 294.8 L971.0 294.3 L972.0 293.8 L973.0 295.0 L974.0 293.8 L975.0 293.0 L976.0 293.6 L977.0 294.1 L978.0 292.9 L979.0 294.1 L980.0 294.0 L981.0 294.8 L982.0 292.9 L983.0 293.7 L984.0 292.0 L985.0 292.8 L986.0 293.0 L987.0 293.2 L988.0 292.8 L989.0 292.7 L990.0 292.2 L991.0 292.3 L992.0 292.7 L993.0 292.8 L994.0 292.8 L995.0 292.9 L996.0 293.0 L997.0 290.9 L998.0 291.7 L999.0 291.9 L1000.0 291.5 L1001.0 292.5 L1002.0 292.3 L1003.0 291.6 L1004.0 291.7 L1005.0 292.4 L1006.0 291.2 L1007.0 291.2 L1008.0 292.0 L1009.0 291.6 L1010.0 292.2 L1011.0 291.4 L1012.0 291.6 L1013.0 290.7 L1014.0 290.3 L1015.0 290.9 L1016.0 289.0 L1017.0 291.0 L1018.0 291.4 L1019.0 290.7 L1020.0 290.4 L1021.0 291.3 L1022.0 290.4 L1023.0 291.1 L1024.0 291.8 L1025.0 290.8 L1026.0 290.9 L1027.0 290.5 L1028.0 290.3 L1029.0 290.3 L1030.0 290.1 L1031.0 290.7 L1032.0 288.8 L1033.0 289.7 L1034.0 290.2 L1035.0 289.2 L1036.0 289.6 L1037.0 289.2 L1038.0 289.9 L1039.0 290.1 L1040.0 290.5 L1041.0 289.8 L1042.0 288.9 L1043.0 289.5 L1044.0 289.7 L1045.0 290.2 L1046.0 287.8 L1047.0 289.4 L1048.0 287.9 L1049.0 289.5 L1050.0 289.3 L1051.0 289.3 L1052.0 289.5 L1053.0 289.1 L1054.0 288.4 L1055.0 289.0 L1056.0 289.6 L1057.0 288.6 L1058.0 288.7 L1059.0 287.8 L1060.0 289.4 L1061.0 288.2 L1062.0 288.0 L1063.0 288.2 L1064.0 287.8 L1065.0 288.2 L1066.0 289.2 L1067.0 288.8 L1068.0 289.2 L1069.0 289.2 L1070.0 287.6 L1071.0 288.5 L1072.0 289.1 L1073.0 289.6 L1074.0 287.1 L1075.0 287.0 L1076.0 288.3 L1077.0 287.7 L1078.0 287.2 L1079.0 288.1 L1080.0 287.3 L1081.0 286.3 L1082.0 287.7 L1083.0 287.8 L1084.0 288.1 L1085.0 288.3 L1086.0 287.7 L1087.0 287.4 L1088.0 287.1 L1089.0 286.4 L1090.0 287.2 L1091.0 288.1 L1092.0 287.9 L1093.0 288.8 L1094.0 287.3 L1095.0 286.1 L1096.0 287.9 L1097.0 288.0 L1098.0 286.5 L1099.0 286.1 L1100.0 287.3 L1101.0 287.6 L1102.0 286.4 L1103.0 286.9 L1104.0 286.6 L1105.0 286.3 L1106.0 286.1 L1107.0 287.1 L1108.0 286.7 L1109.0 286.5 L1110.0 285.2 L1111.0 288.1 L1112.0 286.2 L1113.0 286.7 L1114.0 286.0 L1115.0 287.0 L1116.0 285.7 L1117.0 286.8 L1118.0 286.6 L1119.0 287.3 L1120.0 285.9 L1121.0 286.2 L1122.0 286.5 L1123.0 288.0 L1124.0 285.6 L1125.0 286.7 L1126.0 286.1 L1127.0 286.7 L1128.0 286.9 L1129.0 286.5 L1130.0 286.6 L1131.0 286.6 L1132.0 286.0 L1133.0 286.2 L1134.0 285.2 L1135.0 286.1 L1136.0 285.8 L1137.0 286.1 L1138.0 286.7 L1139.0 286.5 L1140.0 286.5 L1141.0 286.9 L1142.0 284.6 L1143.0 286.4 L1144.0 286.1 L1145.0 286.0 L1146.0 285.2 L1147.0 286.4 L1148.0 286.8 L1149.0 286.7 L1150.0 286.0 L1151.0 286.4 L1152.0 286.6 L1153.0 287.2 L1154.0 286.8 L1155.0 286.0 L1156.0 286.0 L1157.0 286.0 L1158.0 286.0 L1159.0 285.5 L1160.0 286.4 L1161.0 285.4 L1162.0 285.3 L1163.0 286.0 L1164.0 285.4 L1165.0 285.6 L1166.0 284.4 L1167.0 286.3 L1168.0 285.7 L1169.0 285.6 L1170.0 286.0 L1171.0 285.8 L1172.0 285.2 L1173.0 287.0 L1174.0 285.3 L1175.0 286.3 L1176.0 286.8 L1177.0 285.2 L1178.0 285.6 L1179.0 285.0 L1180.0 286.2 L1181.0 285.3 L1182.0 284.8 L1183.0 286.4 L1184.0 286.1 L1185.0 284.9 L1186.0 286.2 L1187.0 285.6 L1188.0 287.2 L1189.0 286.6 L1190.0 285.0 L1191.0 285.2 L1192.0 284.8 L1193.0 285.5 L1194.0 285.4 L1195.0 285.8 L1196.0 285.4 L1197.0 284.3 L1198.0 284.8 L1199.0 286.2 L1200.0 286.1 L1201.0 285.2 L1202.0 285.2 L1203.0 285.1 L1204.0 285.2 L1205.0 284.1 L1206.0 285.8 L1207.0 284.8 L1208.0 285.3 L1209.0 283.5 L1210.0 285.3 L1211.0 286.1 L1212.0 283.7 L1213.0 286.2 L1214.0 285.4 L1215.0 284.6 L1216.0 284.0 L1217.0 285.9 L1218.0 285.3 L1219.0 285.5 L1220.0 284.9 L1221.0 284.5 L1222.0 285.6 L1223.0 284.4 L1224.0 285.6 L1225.0 283.9 L1226.0 284.4 L1227.0 284.0 L1228.0 285.9 L1229.0 283.8 L1230.0 284.2 L1231.0 285.4 L1232.0 285.1 L1233.0 286.4 L1234.0 286.2 L1235.0 285.3 L1236.0 285.4 L1237.0 283.7 L1238.0 284.3 L1239.0 284.7 L1240.0 284.8 L1241.0 284.0 L1242.0 284.2 L1243.0 284.3 L1244.0 285.6 L1245.0 285.1 L1246.0 284.6 L1247.0 284.6 L1248.0 285.0 L1249.0 284.4 L1250.0 284.6 L1251.0 283.7 L1252.0 285.2 L1253.0 285.4 L1254.0 285.0 L1255.0 285.1 L1256.0 285.0 L1257.0 286.1 L1258.0 284.9 L1259.0 283.9 L1260.0 284.0 L1261.0 285.2 L1262.0 285.4 L1263.0 285.2 L1264.0 285.3 L1265.0 284.8 L1266.0 283.7 L1267.0 284.2 L1268.0 283.5 L1269.0 284.4 L1270.0 283.8 L1271.0 284.7 L1272.0 284.5 L1273.0 283.4 L1274.0 285.1 L1275.0 285.2 L1276.0 283.7 L1277.0 284.7 L1278.0 285.1" fill="none" stroke="#ff0000" stroke-width="2.2" stroke-linejoin="round"/>
<path d="M775.0 266.3 L776.0 269.6 L777.0 272.3 L778.0 277.0 L779.0 281.2 L780.0 286.3 L781.0 292.3 L782.0 297.8 L783.0 302.5 L784.0 306.7 L785.0 310.6 L786.0 314.6 L787.0 317.6 L788.0 320.8 L789.0 322.9 L790.0 324.6 L791.0 326.1 L792.0 327.3 L793.0 329.0 L794.0 329.4 L795.0 328.5 L796.0 329.4 L797.0 329.0 L798.0 329.0 L799.0 328.8 L800.0 328.3 L801.0 327.5 L802.0 326.3 L803.0 327.7 L804.0 327.9 L805.0 326.1 L806.0 326.5 L807.0 325.4 L808.0 325.4 L809.0 324.1 L810.0 324.0 L811.0 323.6 L812.0 321.5 L813.0 322.8 L814.0 322.0 L815.0 320.0 L816.0 321.6 L817.0 320.6 L818.0 320.3 L819.0 320.0 L820.0 319.0 L821.0 318.1 L822.0 318.1 L823.0 317.7 L824.0 319.1 L825.0 318.4 L826.0 316.5 L827.0 316.1 L828.0 316.2 L829.0 316.0 L830.0 314.8 L831.0 314.3 L832.0 315.9 L833.0 314.9 L834.0 312.8 L835.0 312.4 L836.0 312.7 L837.0 313.1 L838.0 313.0 L839.0 312.1 L840.0 310.9 L841.0 311.8 L842.0 311.8 L843.0 311.1 L844.0 310.5 L845.0 310.9 L846.0 310.2 L847.0 309.2 L848.0 309.8 L849.0 308.6 L850.0 309.8 L851.0 309.2 L852.0 308.0 L853.0 308.6 L854.0 309.0 L855.0 306.5 L856.0 307.6 L857.0 308.6 L858.0 306.1 L859.0 306.9 L860.0 305.8 L861.0 306.5 L862.0 304.6 L863.0 305.0 L864.0 305.5 L865.0 305.7 L866.0 305.7 L867.0 305.5 L868.0 305.8 L869.0 305.3 L870.0 305.1 L871.0 303.7 L872.0 304.1 L873.0 306.1 L874.0 305.3 L875.0 304.1 L876.0 303.9 L877.0 303.9 L878.0 302.7 L879.0 304.2 L880.0 302.4 L881.0 302.4 L882.0 303.8 L883.0 300.7 L884.0 302.2 L885.0 300.5 L886.0 301.1 L887.0 301.3 L888.0 301.0 L889.0 301.2 L890.0 300.3 L891.0 300.6 L892.0 299.7 L893.0 300.1 L894.0 299.3 L895.0 300.5 L896.0 299.0 L897.0 300.2 L898.0 299.3 L899.0 299.2 L900.0 300.1 L901.0 299.2 L902.0 297.7 L903.0 299.2 L904.0 296.7 L905.0 298.7 L906.0 298.1 L907.0 297.3 L908.0 298.2 L909.0 297.8 L910.0 299.2 L911.0 297.4 L912.0 298.9 L913.0 298.4 L914.0 296.9 L915.0 296.6 L916.0 298.0 L917.0 296.8 L918.0 296.9 L919.0 296.5 L920.0 295.7 L921.0 296.2 L922.0 295.6 L923.0 295.1 L924.0 295.8 L925.0 297.2 L926.0 296.9 L927.0 295.7 L928.0 295.7 L929.0 295.8 L930.0 296.3 L931.0 295.5 L932.0 294.8 L933.0 294.7 L934.0 295.7 L935.0 296.6 L936.0 294.3 L937.0 293.2 L938.0 295.0 L939.0 294.3 L940.0 294.4 L941.0 295.0 L942.0 294.1 L943.0 293.0 L944.0 292.5 L945.0 293.7 L946.0 292.9 L947.0 293.8 L948.0 292.6 L949.0 293.1 L950.0 292.3 L951.0 292.9 L952.0 292.8 L953.0 293.4 L954.0 293.9 L955.0 292.7 L956.0 292.1 L957.0 294.0 L958.0 292.8 L959.0 292.9 L960.0 292.8 L961.0 293.3 L962.0 292.9 L963.0 292.6 L964.0 292.6 L965.0 291.4 L966.0 291.5 L967.0 291.8 L968.0 291.8 L969.0 291.7 L970.0 291.8 L971.0 291.5 L972.0 291.1 L973.0 290.2 L974.0 291.9 L975.0 291.6 L976.0 290.5 L977.0 291.4 L978.0 291.3 L979.0 291.0 L980.0 289.6 L981.0 289.9 L982.0 290.3 L983.0 291.8 L984.0 290.0 L985.0 290.3 L986.0 289.7 L987.0 290.0 L988.0 290.6 L989.0 288.8 L990.0 288.2 L991.0 290.6 L992.0 290.1 L993.0 289.6 L994.0 290.6 L995.0 290.6 L996.0 288.4 L997.0 289.6 L998.0 290.5 L999.0 289.2 L1000.0 289.4 L1001.0 290.2 L1002.0 289.3 L1003.0 288.6 L1004.0 288.9 L1005.0 288.4 L1006.0 289.6 L1007.0 288.0 L1008.0 289.8 L1009.0 287.9 L1010.0 289.1 L1011.0 287.9 L1012.0 288.7 L1013.0 289.6 L1014.0 289.6 L1015.0 289.7 L1016.0 288.7 L1017.0 288.7 L1018.0 288.8 L1019.0 289.0 L1020.0 288.2 L1021.0 289.2 L1022.0 288.7 L1023.0 289.2 L1024.0 288.7 L1025.0 288.8 L1026.0 287.7 L1027.0 287.9 L1028.0 287.2 L1029.0 287.9 L1030.0 287.9 L1031.0 288.6 L1032.0 287.1 L1033.0 290.2 L1034.0 287.8 L1035.0 288.7 L1036.0 288.5 L1037.0 286.0 L1038.0 287.5 L1039.0 288.7 L1040.0 285.9 L1041.0 288.1 L1042.0 286.9 L1043.0 287.2 L1044.0 287.6 L1045.0 286.1 L1046.0 287.6 L1047.0 286.9 L1048.0 286.8 L1049.0 287.8 L1050.0 289.7 L1051.0 287.5 L1052.0 287.6 L1053.0 287.1 L1054.0 286.6 L1055.0 287.3 L1056.0 288.1 L1057.0 287.2 L1058.0 287.6 L1059.0 286.8 L1060.0 288.7 L1061.0 285.7 L1062.0 287.3 L1063.0 287.2 L1064.0 287.0 L1065.0 286.0 L1066.0 285.9 L1067.0 286.5 L1068.0 286.7 L1069.0 285.8 L1070.0 285.9 L1071.0 287.0 L1072.0 287.3 L1073.0 286.1 L1074.0 286.0 L1075.0 286.0 L1076.0 288.2 L1077.0 286.7 L1078.0 286.3 L1079.0 287.1 L1080.0 287.9 L1081.0 287.1 L1082.0 285.3 L1083.0 286.2 L1084.0 285.9 L1085.0 285.9 L1086.0 285.3 L1087.0 285.9 L1088.0 285.4 L1089.0 286.3 L1090.0 286.1 L1091.0 285.0 L1092.0 284.8 L1093.0 285.7 L1094.0 286.4 L1095.0 286.3 L1096.0 285.9 L1097.0 283.6 L1098.0 285.5 L1099.0 285.3 L1100.0 285.6 L1101.0 284.9 L1102.0 285.5 L1103.0 285.3 L1104.0 287.6 L1105.0 286.2 L1106.0 285.6 L1107.0 285.6 L1108.0 285.6 L1109.0 285.8 L1110.0 285.3 L1111.0 285.6 L1112.0 286.3 L1113.0 286.1 L1114.0 285.7 L1115.0 286.4 L1116.0 285.6 L1117.0 284.8 L1118.0 284.2 L1119.0 284.9 L1120.0 285.4 L1121.0 285.7 L1122.0 286.1 L1123.0 285.0 L1124.0 284.8 L1125.0 285.9 L1126.0 286.1 L1127.0 285.0 L1128.0 285.5 L1129.0 286.2 L1130.0 285.5 L1131.0 285.2 L1132.0 283.7 L1133.0 286.1 L1134.0 285.6 L1135.0 285.2 L1136.0 284.8 L1137.0 284.3 L1138.0 285.0 L1139.0 285.0 L1140.0 285.8 L1141.0 284.2 L1142.0 286.1 L1143.0 285.1 L1144.0 285.9 L1145.0 284.3 L1146.0 285.2 L1147.0 285.8 L1148.0 285.0 L1149.0 283.9 L1150.0 284.7 L1151.0 285.3 L1152.0 283.9 L1153.0 283.9 L1154.0 285.0 L1155.0 284.2 L1156.0 285.3 L1157.0 284.0 L1158.0 283.5 L1159.0 284.3 L1160.0 285.8 L1161.0 284.2 L1162.0 284.8 L1163.0 284.9 L1164.0 284.1 L1165.0 285.5 L1166.0 284.9 L1167.0 285.0 L1168.0 283.5 L1169.0 283.5 L1170.0 282.7 L1171.0 284.5 L1172.0 284.5 L1173.0 285.2 L1174.0 285.7 L1175.0 284.4 L1176.0 284.4 L1177.0 284.9 L1178.0 285.7 L1179.0 284.0 L1180.0 285.0 L1181.0 284.4 L1182.0 284.3 L1183.0 285.1 L1184.0 284.0 L1185.0 283.8 L1186.0 285.0 L1187.0 284.5 L1188.0 284.3 L1189.0 284.4 L1190.0 284.8 L1191.0 284.2 L1192.0 285.0 L1193.0 284.7 L1194.0 285.5 L1195.0 285.3 L1196.0 285.0 L1197.0 284.3 L1198.0 284.5 L1199.0 284.0 L1200.0 286.4 L1201.0 284.2 L1202.0 284.8 L1203.0 285.3 L1204.0 283.4 L1205.0 283.8 L1206.0 284.1 L1207.0 283.6 L1208.0 283.4 L1209.0 283.9 L1210.0 285.2 L1211.0 284.8 L1212.0 284.3 L1213.0 284.3 L1214.0 283.1 L1215.0 284.8 L1216.0 284.6 L1217.0 283.5 L1218.0 284.4 L1219.0 284.1 L1220.0 283.9 L1221.0 283.5 L1222.0 283.7 L1223.0 283.5 L1224.0 284.5 L1225.0 284.4 L1226.0 284.4 L1227.0 284.1 L1228.0 283.9 L1229.0 285.6 L1230.0 282.9 L1231.0 285.0 L1232.0 284.4 L1233.0 284.2 L1234.0 283.8 L1235.0 284.0 L1236.0 283.3 L1237.0 283.1 L1238.0 284.0 L1239.0 282.9 L1240.0 284.7 L1241.0 284.9 L1242.0 281.7 L1243.0 283.0 L1244.0 284.3 L1245.0 284.2 L1246.0 284.1 L1247.0 284.4 L1248.0 284.6 L1249.0 284.7 L1250.0 285.3 L1251.0 284.1 L1252.0 284.6 L1253.0 282.9 L1254.0 283.9 L1255.0 283.2 L1256.0 285.0 L1257.0 285.6 L1258.0 284.4 L1259.0 283.1 L1260.0 283.9 L1261.0 284.0 L1262.0 284.1 L1263.0 284.7 L1264.0 284.6 L1265.0 282.1 L1266.0 284.9 L1267.0 283.6 L1268.0 283.6 L1269.0 284.9 L1270.0 283.8 L1271.0 283.0 L1272.0 283.0 L1273.0 284.0 L1274.0 284.6 L1275.0 285.0 L1276.0 283.8 L1277.0 283.6 L1278.0 285.1" fill="none" stroke="#ff0000" stroke-width="2.2" stroke-linejoin="round"/>
<path d="M775.0 266.2 L776.0 272.1 L777.0 278.0 L778.0 286.6 L779.0 295.5 L780.0 304.5 L781.0 311.5 L782.0 317.5 L783.0 322.6 L784.0 325.8 L785.0 328.9 L786.0 330.4 L787.0 331.1 L788.0 331.5 L789.0 331.5 L790.0 332.6 L791.0 330.8 L792.0 329.8 L793.0 329.2 L794.0 329.1 L795.0 327.6 L796.0 326.7 L797.0 325.8 L798.0 325.2 L799.0 324.5 L800.0 323.7 L801.0 321.4 L802.0 321.0 L803.0 319.2 L804.0 320.8 L805.0 320.4 L806.0 319.8 L807.0 318.4 L808.0 318.4 L809.0 317.0 L810.0 316.4 L811.0 314.8 L812.0 314.8 L813.0 314.4 L814.0 315.0 L815.0 315.0 L816.0 313.1 L817.0 313.2 L818.0 312.7 L819.0 311.6 L820.0 310.5 L821.0 310.8 L822.0 309.9 L823.0 310.3 L824.0 310.1 L825.0 309.7 L826.0 309.4 L827.0 309.5 L828.0 308.2 L829.0 309.2 L830.0 307.1 L831.0 308.0 L832.0 307.9 L833.0 306.8 L834.0 306.0 L835.0 307.3 L836.0 306.1 L837.0 306.8 L838.0 306.6 L839.0 305.8 L840.0 305.5 L841.0 306.0 L842.0 305.3 L843.0 304.1 L844.0 304.7 L845.0 304.7 L846.0 304.3 L847.0 304.0 L848.0 303.6 L849.0 303.4 L850.0 302.6 L851.0 302.0 L852.0 303.6 L853.0 302.2 L854.0 302.6 L855.0 301.2 L856.0 302.1 L857.0 301.3 L858.0 303.7 L859.0 300.8 L860.0 300.6 L861.0 301.8 L862.0 301.7 L863.0 299.3 L864.0 300.7 L865.0 301.0 L866.0 299.4 L867.0 300.5 L868.0 299.5 L869.0 299.0 L870.0 299.3 L871.0 299.1 L872.0 298.3 L873.0 300.6 L874.0 298.6 L875.0 298.2 L876.0 299.2 L877.0 298.4 L878.0 299.2 L879.0 298.0 L880.0 298.2 L881.0 297.9 L882.0 297.8 L883.0 297.4 L884.0 297.4 L885.0 298.5 L886.0 296.7 L887.0 296.6 L888.0 296.6 L889.0 297.1 L890.0 296.9 L891.0 297.1 L892.0 295.4 L893.0 296.4 L894.0 296.0 L895.0 295.8 L896.0 296.0 L897.0 294.4 L898.0 295.8 L899.0 295.6 L900.0 294.4 L901.0 295.2 L902.0 296.2 L903.0 294.7 L904.0 295.3 L905.0 294.6 L906.0 294.1 L907.0 293.9 L908.0 294.2 L909.0 295.2 L910.0 294.8 L911.0 293.6 L912.0 294.7 L913.0 293.8 L914.0 293.3 L915.0 294.0 L916.0 293.0 L917.0 292.4 L918.0 294.3 L919.0 292.0 L920.0 293.6 L921.0 292.0 L922.0 293.0 L923.0 292.8 L924.0 292.5 L925.0 291.2 L926.0 292.6 L927.0 292.5 L928.0 291.8 L929.0 292.3 L930.0 293.0 L931.0 291.7 L932.0 292.3 L933.0 291.2 L934.0 292.2 L935.0 292.3 L936.0 293.5 L937.0 292.3 L938.0 291.9 L939.0 292.5 L940.0 290.8 L941.0 292.1 L942.0 290.9 L943.0 290.8 L944.0 291.9 L945.0 291.2 L946.0 291.9 L947.0 289.9 L948.0 291.0 L949.0 290.4 L950.0 290.5 L951.0 289.3 L952.0 291.2 L953.0 290.6 L954.0 289.7 L955.0 289.4 L956.0 289.7 L957.0 291.2 L958.0 290.1 L959.0 289.8 L960.0 290.3 L961.0 289.9 L962.0 290.0 L963.0 290.3 L964.0 290.0 L965.0 290.3 L966.0 288.8 L967.0 289.6 L968.0 289.3 L969.0 289.5 L970.0 289.4 L971.0 288.9 L972.0 289.0 L973.0 289.9 L974.0 288.8 L975.0 288.2 L976.0 289.5 L977.0 289.7 L978.0 288.7 L979.0 289.0 L980.0 288.3 L981.0 288.6 L982.0 289.5 L983.0 289.2 L984.0 288.7 L985.0 288.4 L986.0 287.4 L987.0 288.7 L988.0 288.7 L989.0 289.1 L990.0 289.7 L991.0 288.5 L992.0 288.9 L993.0 287.4 L994.0 289.0 L995.0 288.7 L996.0 289.0 L997.0 288.5 L998.0 288.3 L999.0 288.9 L1000.0 287.4 L1001.0 288.3 L1002.0 288.5 L1003.0 287.2 L1004.0 286.9 L1005.0 288.0 L1006.0 287.7 L1007.0 288.0 L1008.0 288.0 L1009.0 287.0 L1010.0 287.7 L1011.0 288.2 L1012.0 287.1 L1013.0 287.1 L1014.0 286.5 L1015.0 287.8 L1016.0 288.6 L1017.0 286.3 L1018.0 287.7 L1019.0 287.7 L1020.0 286.7 L1021.0 286.8 L1022.0 286.3 L1023.0 286.4 L1024.0 287.1 L1025.0 287.4 L1026.0 287.0 L1027.0 287.4 L1028.0 287.0 L1029.0 286.0 L1030.0 287.7 L1031.0 287.5 L1032.0 286.2 L1033.0 287.9 L1034.0 286.9 L1035.0 286.7 L1036.0 287.9 L1037.0 284.8 L1038.0 285.4 L1039.0 287.0 L1040.0 286.3 L1041.0 285.8 L1042.0 287.4 L1043.0 286.7 L1044.0 285.5 L1045.0 285.8 L1046.0 286.8 L1047.0 287.5 L1048.0 284.9 L1049.0 286.4 L1050.0 285.9 L1051.0 284.9 L1052.0 286.0 L1053.0 285.0 L1054.0 285.7 L1055.0 287.1 L1056.0 286.4 L1057.0 286.5 L1058.0 286.4 L1059.0 286.2 L1060.0 286.6 L1061.0 285.1 L1062.0 285.6 L1063.0 286.4 L1064.0 285.3 L1065.0 285.5 L1066.0 286.6 L1067.0 286.8 L1068.0 285.3 L1069.0 285.2 L1070.0 286.1 L1071.0 285.9 L1072.0 285.2 L1073.0 286.0 L1074.0 286.0 L1075.0 285.6 L1076.0 287.6 L1077.0 286.5 L1078.0 286.1 L1079.0 286.2 L1080.0 287.5 L1081.0 286.2 L1082.0 285.0 L1083.0 285.7 L1084.0 285.5 L1085.0 285.0 L1086.0 285.6 L1087.0 285.5 L1088.0 285.3 L1089.0 285.0 L1090.0 285.9 L1091.0 284.2 L1092.0 285.8 L1093.0 285.3 L1094.0 285.4 L1095.0 283.6 L1096.0 286.4 L1097.0 284.0 L1098.0 284.6 L1099.0 285.6 L1100.0 284.7 L1101.0 284.8 L1102.0 283.6 L1103.0 284.8 L1104.0 285.2 L1105.0 285.5 L1106.0 284.8 L1107.0 285.2 L1108.0 285.3 L1109.0 284.5 L1110.0 284.5 L1111.0 286.3 L1112.0 284.4 L1113.0 285.8 L1114.0 285.0 L1115.0 285.9 L1116.0 284.5 L1117.0 285.2 L1118.0 285.1 L1119.0 284.7 L1120.0 285.1 L1121.0 284.3 L1122.0 284.8 L1123.0 284.5 L1124.0 285.3 L1125.0 284.7 L1126.0 283.8 L1127.0 284.5 L1128.0 284.7 L1129.0 284.1 L1130.0 285.6 L1131.0 285.0 L1132.0 285.3 L1133.0 284.2 L1134.0 284.4 L1135.0 285.4 L1136.0 283.7 L1137.0 284.9 L1138.0 284.7 L1139.0 284.3 L1140.0 284.7 L1141.0 283.9 L1142.0 284.7 L1143.0 283.7 L1144.0 283.7 L1145.0 285.5 L1146.0 284.1 L1147.0 283.1 L1148.0 285.2 L1149.0 284.0 L1150.0 282.1 L1151.0 284.5 L1152.0 285.1 L1153.0 284.7 L1154.0 285.7 L1155.0 284.4 L1156.0 284.9 L1157.0 283.7 L1158.0 284.5 L1159.0 285.5 L1160.0 284.8 L1161.0 284.5 L1162.0 283.0 L1163.0 284.1 L1164.0 283.5 L1165.0 284.9 L1166.0 283.9 L1167.0 284.6 L1168.0 283.7 L1169.0 285.6 L1170.0 283.5 L1171.0 284.4 L1172.0 286.1 L1173.0 284.5 L1174.0 283.7 L1175.0 284.7 L1176.0 285.0 L1177.0 284.9 L1178.0 282.9 L1179.0 284.4 L1180.0 282.8 L1181.0 285.6 L1182.0 284.3 L1183.0 283.9 L1184.0 284.7 L1185.0 284.6 L1186.0 283.4 L1187.0 285.3 L1188.0 284.0 L1189.0 283.0 L1190.0 285.2 L1191.0 285.2 L1192.0 285.0 L1193.0 284.5 L1194.0 283.5 L1195.0 284.8 L1196.0 285.4 L1197.0 284.7 L1198.0 285.2 L1199.0 283.6 L1200.0 284.8 L1201.0 284.8 L1202.0 283.1 L1203.0 283.0 L1204.0 283.6 L1205.0 284.2 L1206.0 284.4 L1207.0 283.9 L1208.0 284.0 L1209.0 284.0 L1210.0 284.1 L1211.0 284.5 L1212.0 284.4 L1213.0 284.0 L1214.0 284.2 L1215.0 283.7 L1216.0 284.6 L1217.0 283.7 L1218.0 285.2 L1219.0 284.0 L1220.0 284.2 L1221.0 283.5 L1222.0 283.8 L1223.0 284.1 L1224.0 284.0 L1225.0 283.6 L1226.0 283.2 L1227.0 284.0 L1228.0 284.1 L1229.0 284.4 L1230.0 284.8 L1231.0 283.8 L1232.0 282.6 L1233.0 283.9 L1234.0 282.7 L1235.0 283.1 L1236.0 284.7 L1237.0 284.3 L1238.0 283.5 L1239.0 283.5 L1240.0 283.9 L1241.0 282.7 L1242.0 284.3 L1243.0 283.7 L1244.0 285.2 L1245.0 283.2 L1246.0 284.6 L1247.0 283.4 L1248.0 284.6 L1249.0 283.2 L1250.0 284.4 L1251.0 283.6 L1252.0 283.3 L1253.0 283.8 L1254.0 284.2 L1255.0 284.2 L1256.0 285.0 L1257.0 284.4 L1258.0 282.0 L1259.0 283.6 L1260.0 282.5 L1261.0 283.6 L1262.0 284.3 L1263.0 282.9 L1264.0 283.0 L1265.0 283.9 L1266.0 283.6 L1267.0 284.9 L1268.0 284.1 L1269.0 284.2 L1270.0 285.1 L1271.0 283.5 L1272.0 283.8 L1273.0 283.1 L1274.0 284.0 L1275.0 284.5 L1276.0 284.8 L1277.0 283.8 L1278.0 283.3" fill="none" stroke="#ff0000" stroke-width="2.2" stroke-linejoin="round"/>
<path d="M775.0 266.0 L776.0 269.9 L777.0 276.1 L778.0 282.8 L779.0 286.0 L780.0 291.4 L781.0 298.3 L782.0 299.8 L783.0 304.0 L784.0 305.0 L785.0 307.9 L786.0 309.0 L787.0 309.2 L788.0 310.1 L789.0 309.7 L790.0 310.1 L791.0 310.9 L792.0 310.2 L793.0 308.8 L794.0 308.4 L795.0 308.5 L796.0 308.2 L797.0 308.1 L798.0 307.3 L799.0 307.8 L800.0 307.1 L801.0 306.9 L802.0 306.4 L803.0 306.5 L804.0 304.9 L805.0 306.5 L806.0 305.4 L807.0 305.2 L808.0 305.0 L809.0 305.1 L810.0 304.6 L811.0 304.0 L812.0 303.4 L813.0 302.1 L814.0 303.2 L815.0 302.6 L816.0 302.4 L817.0 304.1 L818.0 300.9 L819.0 302.0 L820.0 302.6 L821.0 302.2 L822.0 302.2 L823.0 300.3 L824.0 300.3 L825.0 301.2 L826.0 300.4 L827.0 301.7 L828.0 300.5 L829.0 300.3 L830.0 300.3 L831.0 299.6 L832.0 299.7 L833.0 299.0 L834.0 299.3 L835.0 298.9 L836.0 299.2 L837.0 297.9 L838.0 297.7 L839.0 299.0 L840.0 298.7 L841.0 297.7 L842.0 298.1 L843.0 297.4 L844.0 299.4 L845.0 296.8 L846.0 298.9 L847.0 297.1 L848.0 297.8 L849.0 297.2 L850.0 297.0 L851.0 297.8 L852.0 297.6 L853.0 296.7 L854.0 296.2 L855.0 298.2 L856.0 297.6 L857.0 296.6 L858.0 296.2 L859.0 296.5 L860.0 296.3 L861.0 296.9 L862.0 295.3 L863.0 295.9 L864.0 295.3 L865.0 296.6 L866.0 296.9 L867.0 295.5 L868.0 295.8 L869.0 296.3 L870.0 295.0 L871.0 294.5 L872.0 295.8 L873.0 295.3 L874.0 294.7 L875.0 295.8 L876.0 294.9 L877.0 293.4 L878.0 294.8 L879.0 294.4 L880.0 295.7 L881.0 294.3 L882.0 294.1 L883.0 294.4 L884.0 294.2 L885.0 293.0 L886.0 294.0 L887.0 293.6 L888.0 294.7 L889.0 295.3 L890.0 292.8 L891.0 292.8 L892.0 292.9 L893.0 292.9 L894.0 292.8 L895.0 293.3 L896.0 293.9 L897.0 292.2 L898.0 291.9 L899.0 291.6 L900.0 293.6 L901.0 293.7 L902.0 291.7 L903.0 291.5 L904.0 292.7 L905.0 293.3 L906.0 293.2 L907.0 292.5 L908.0 292.8 L909.0 292.5 L910.0 291.8 L911.0 293.5 L912.0 292.1 L913.0 291.2 L914.0 291.6 L915.0 290.8 L916.0 291.8 L917.0 292.5 L918.0 290.8 L919.0 292.4 L920.0 293.0 L921.0 291.8 L922.0 290.6 L923.0 290.8 L924.0 291.1 L925.0 290.4 L926.0 290.3 L927.0 291.0 L928.0 291.0 L929.0 291.5 L930.0 290.1 L931.0 292.2 L932.0 291.6 L933.0 291.4 L934.0 290.3 L935.0 291.9 L936.0 290.4 L937.0 291.9 L938.0 291.3 L939.0 289.9 L940.0 290.1 L941.0 291.7 L942.0 291.0 L943.0 290.2 L944.0 290.4 L945.0 290.3 L946.0 289.6 L947.0 289.9 L948.0 289.6 L949.0 289.7 L950.0 290.3 L951.0 289.2 L952.0 290.3 L953.0 289.9 L954.0 290.3 L955.0 290.3 L956.0 290.5 L957.0 290.0 L958.0 290.0 L959.0 289.4 L960.0 289.8 L961.0 288.8 L962.0 289.2 L963.0 289.8 L964.0 289.2 L965.0 289.5 L966.0 288.4 L967.0 290.1 L968.0 288.7 L969.0 289.3 L970.0 289.0 L971.0 289.6 L972.0 288.7 L973.0 288.2 L974.0 287.5 L975.0 288.6 L976.0 287.9 L977.0 289.1 L978.0 289.7 L979.0 287.1 L980.0 287.7 L981.0 288.8 L982.0 289.4 L983.0 288.7 L984.0 288.7 L985.0 288.7 L986.0 288.8 L987.0 289.5 L988.0 288.7 L989.0 287.4 L990.0 287.9 L991.0 288.3 L992.0 287.6 L993.0 287.9 L994.0 287.7 L995.0 287.5 L996.0 288.5 L997.0 287.7 L998.0 287.1 L999.0 287.4 L1000.0 287.9 L1001.0 289.3 L1002.0 287.9 L1003.0 288.8 L1004.0 288.0 L1005.0 286.2 L1006.0 287.9 L1007.0 287.0 L1008.0 286.6 L1009.0 286.8 L1010.0 288.8 L1011.0 286.4 L1012.0 287.0 L1013.0 288.2 L1014.0 287.8 L1015.0 286.1 L1016.0 287.2 L1017.0 286.9 L1018.0 287.1 L1019.0 287.7 L1020.0 286.8 L1021.0 286.9 L1022.0 288.1 L1023.0 285.8 L1024.0 286.8 L1025.0 287.4 L1026.0 286.1 L1027.0 286.5 L1028.0 286.0 L1029.0 287.0 L1030.0 286.4 L1031.0 287.4 L1032.0 287.5 L1033.0 286.8 L1034.0 286.5 L1035.0 286.9 L1036.0 286.8 L1037.0 285.8 L1038.0 287.4 L1039.0 286.8 L1040.0 287.2 L1041.0 285.6 L1042.0 287.2 L1043.0 288.0 L1044.0 286.9 L1045.0 285.4 L1046.0 286.5 L1047.0 286.4 L1048.0 286.5 L1049.0 286.2 L1050.0 286.7 L1051.0 286.0 L1052.0 286.5 L1053.0 285.8 L1054.0 286.3 L1055.0 286.9 L1056.0 285.8 L1057.0 286.6 L1058.0 285.5 L1059.0 285.9 L1060.0 285.9 L1061.0 287.0 L1062.0 285.5 L1063.0 286.9 L1064.0 285.0 L1065.0 285.9 L1066.0 286.6 L1067.0 286.4 L1068.0 285.2 L1069.0 285.0 L1070.0 286.5 L1071.0 285.0 L1072.0 286.2 L1073.0 285.4 L1074.0 285.8 L1075.0 287.4 L1076.0 286.8 L1077.0 286.3 L1078.0 284.7 L1079.0 285.9 L1080.0 285.7 L1081.0 285.6 L1082.0 286.6 L1083.0 284.4 L1084.0 285.8 L1085.0 285.6 L1086.0 285.0 L1087.0 286.7 L1088.0 284.6 L1089.0 285.5 L1090.0 285.5 L1091.0 283.9 L1092.0 284.4 L1093.0 284.7 L1094.0 285.9 L1095.0 286.0 L1096.0 285.8 L1097.0 285.5 L1098.0 283.7 L1099.0 285.4 L1100.0 284.9 L1101.0 286.1 L1102.0 286.2 L1103.0 286.8 L1104.0 285.7 L1105.0 285.8 L1106.0 284.4 L1107.0 285.2 L1108.0 284.2 L1109.0 285.7 L1110.0 284.2 L1111.0 284.9 L1112.0 284.5 L1113.0 284.7 L1114.0 285.3 L1115.0 284.6 L1116.0 285.1 L1117.0 284.3 L1118.0 285.9 L1119.0 284.5 L1120.0 285.6 L1121.0 286.4 L1122.0 283.2 L1123.0 284.2 L1124.0 284.7 L1125.0 285.7 L1126.0 284.5 L1127.0 285.1 L1128.0 284.3 L1129.0 285.2 L1130.0 283.9 L1131.0 285.3 L1132.0 282.6 L1133.0 283.4 L1134.0 286.0 L1135.0 284.8 L1136.0 284.0 L1137.0 286.2 L1138.0 285.4 L1139.0 285.4 L1140.0 284.3 L1141.0 285.1 L1142.0 285.0 L1143.0 283.4 L1144.0 285.0 L1145.0 284.4 L1146.0 285.5 L1147.0 285.5 L1148.0 284.1 L1149.0 284.1 L1150.0 284.6 L1151.0 284.9 L1152.0 284.2 L1153.0 284.4 L1154.0 284.9 L1155.0 284.7 L1156.0 285.2 L1157.0 284.6 L1158.0 283.8 L1159.0 283.1 L1160.0 284.9 L1161.0 284.1 L1162.0 284.1 L1163.0 284.1 L1164.0 283.2 L1165.0 284.0 L1166.0 282.4 L1167.0 284.0 L1168.0 283.6 L1169.0 285.6 L1170.0 284.6 L1171.0 284.1 L1172.0 284.3 L1173.0 284.7 L1174.0 283.7 L1175.0 284.0 L1176.0 283.9 L1177.0 285.9 L1178.0 284.2 L1179.0 282.7 L1180.0 284.7 L1181.0 286.0 L1182.0 283.4 L1183.0 286.6 L1184.0 284.0 L1185.0 284.8 L1186.0 283.7 L1187.0 283.9 L1188.0 283.2 L1189.0 283.3 L1190.0 282.5 L1191.0 284.8 L1192.0 283.2 L1193.0 284.3 L1194.0 284.2 L1195.0 283.5 L1196.0 284.0 L1197.0 283.9 L1198.0 283.6 L1199.0 284.0 L1200.0 284.0 L1201.0 283.2 L1202.0 283.0 L1203.0 283.3 L1204.0 284.0 L1205.0 284.9 L1206.0 284.9 L1207.0 284.1 L1208.0 284.5 L1209.0 283.9 L1210.0 284.6 L1211.0 283.9 L1212.0 284.1 L1213.0 283.6 L1214.0 283.8 L1215.0 285.2 L1216.0 282.9 L1217.0 283.8 L1218.0 283.3 L1219.0 284.5 L1220.0 285.1 L1221.0 283.5 L1222.0 281.7 L1223.0 284.2 L1224.0 284.2 L1225.0 282.5 L1226.0 283.5 L1227.0 283.7 L1228.0 282.0 L1229.0 284.2 L1230.0 284.0 L1231.0 283.8 L1232.0 282.9 L1233.0 283.1 L1234.0 283.2 L1235.0 284.0 L1236.0 282.9 L1237.0 284.7 L1238.0 283.9 L1239.0 282.0 L1240.0 284.8 L1241.0 283.7 L1242.0 283.2 L1243.0 283.7 L1244.0 282.2 L1245.0 283.7 L1246.0 281.8 L1247.0 282.8 L1248.0 284.5 L1249.0 284.5 L1250.0 283.3 L1251.0 282.8 L1252.0 284.2 L1253.0 283.5 L1254.0 283.7 L1255.0 284.0 L1256.0 282.7 L1257.0 284.1 L1258.0 281.9 L1259.0 284.5 L1260.0 282.3 L1261.0 283.0 L1262.0 283.0 L1263.0 284.0 L1264.0 284.0 L1265.0 283.7 L1266.0 283.8 L1267.0 283.8 L1268.0 283.4 L1269.0 282.0 L1270.0 281.7 L1271.0 281.7 L1272.0 283.4 L1273.0 283.2 L1274.0 283.3 L1275.0 283.5 L1276.0 283.2 L1277.0 282.6 L1278.0 282.3" fill="none" stroke="#ff0000" stroke-width="2.2" stroke-linejoin="round"/>
<path d="M775.0 265.1 L776.0 272.0 L777.0 276.0 L778.0 278.5 L779.0 282.8 L780.0 286.2 L781.0 289.3 L782.0 289.4 L783.0 291.2 L784.0 292.8 L785.0 291.3 L786.0 292.4 L787.0 293.2 L788.0 292.9 L789.0 295.0 L790.0 294.1 L791.0 293.6 L792.0 292.7 L793.0 294.0 L794.0 293.8 L795.0 292.8 L796.0 292.8 L797.0 292.0 L798.0 292.9 L799.0 293.5 L800.0 293.5 L801.0 293.1 L802.0 293.2 L803.0 292.1 L804.0 292.0 L805.0 293.2 L806.0 292.5 L807.0 291.5 L808.0 292.4 L809.0 292.6 L810.0 292.4 L811.0 291.9 L812.0 291.3 L813.0 291.9 L814.0 292.8 L815.0 291.6 L816.0 290.9 L817.0 291.6 L818.0 290.4 L819.0 291.4 L820.0 290.9 L821.0 291.8 L822.0 291.1 L823.0 291.7 L824.0 292.6 L825.0 290.7 L826.0 290.1 L827.0 291.0 L828.0 290.6 L829.0 290.7 L830.0 290.1 L831.0 290.9 L832.0 290.4 L833.0 288.8 L834.0 290.1 L835.0 290.5 L836.0 291.0 L837.0 289.7 L838.0 289.5 L839.0 290.9 L840.0 289.5 L841.0 290.0 L842.0 290.2 L843.0 290.4 L844.0 289.8 L845.0 288.9 L846.0 290.4 L847.0 289.3 L848.0 289.2 L849.0 291.0 L850.0 290.1 L851.0 288.7 L852.0 289.1 L853.0 289.2 L854.0 288.8 L855.0 287.9 L856.0 289.8 L857.0 289.8 L858.0 289.3 L859.0 288.8 L860.0 289.2 L861.0 289.5 L862.0 288.2 L863.0 288.7 L864.0 288.5 L865.0 289.4 L866.0 289.0 L867.0 287.9 L868.0 288.3 L869.0 290.0 L870.0 288.0 L871.0 288.8 L872.0 288.2 L873.0 289.5 L874.0 288.5 L875.0 288.2 L876.0 287.7 L877.0 288.3 L878.0 289.0 L879.0 288.9 L880.0 287.4 L881.0 289.5 L882.0 288.1 L883.0 287.5 L884.0 288.3 L885.0 287.8 L886.0 287.8 L887.0 287.7 L888.0 288.1 L889.0 287.7 L890.0 286.8 L891.0 288.4 L892.0 287.6 L893.0 288.8 L894.0 288.3 L895.0 288.4 L896.0 288.0 L897.0 288.8 L898.0 287.6 L899.0 287.1 L900.0 288.0 L901.0 285.8 L902.0 287.4 L903.0 287.8 L904.0 287.4 L905.0 288.5 L906.0 288.1 L907.0 287.7 L908.0 287.3 L909.0 288.3 L910.0 287.0 L911.0 287.2 L912.0 288.0 L913.0 287.9 L914.0 288.9 L915.0 287.2 L916.0 286.0 L917.0 287.8 L918.0 288.2 L919.0 287.1 L920.0 288.4 L921.0 288.5 L922.0 286.7 L923.0 286.8 L924.0 286.2 L925.0 287.5 L926.0 287.6 L927.0 287.5 L928.0 286.2 L929.0 286.5 L930.0 286.0 L931.0 285.8 L932.0 286.0 L933.0 285.8 L934.0 286.8 L935.0 287.2 L936.0 287.3 L937.0 286.8 L938.0 286.3 L939.0 286.8 L940.0 287.2 L941.0 286.5 L942.0 286.8 L943.0 286.5 L944.0 286.3 L945.0 286.7 L946.0 285.8 L947.0 287.4 L948.0 285.5 L949.0 286.9 L950.0 285.6 L951.0 287.6 L952.0 287.1 L953.0 285.9 L954.0 286.2 L955.0 285.6 L956.0 286.4 L957.0 286.7 L958.0 288.2 L959.0 285.4 L960.0 287.3 L961.0 285.9 L962.0 286.5 L963.0 286.9 L964.0 286.7 L965.0 286.6 L966.0 286.1 L967.0 286.2 L968.0 286.3 L969.0 287.0 L970.0 285.1 L971.0 285.8 L972.0 285.2 L973.0 285.4 L974.0 285.5 L975.0 286.9 L976.0 287.6 L977.0 287.0 L978.0 285.2 L979.0 286.0 L980.0 285.2 L981.0 286.3 L982.0 286.9 L983.0 286.3 L984.0 286.5 L985.0 285.8 L986.0 284.5 L987.0 284.4 L988.0 285.8 L989.0 286.2 L990.0 286.7 L991.0 285.5 L992.0 285.8 L993.0 285.9 L994.0 286.5 L995.0 285.7 L996.0 284.9 L997.0 286.5 L998.0 286.0 L999.0 285.9 L1000.0 284.7 L1001.0 285.6 L1002.0 284.4 L1003.0 284.1 L1004.0 285.4 L1005.0 285.2 L1006.0 285.9 L1007.0 286.6 L1008.0 285.5 L1009.0 286.8 L1010.0 285.0 L1011.0 286.0 L1012.0 284.5 L1013.0 285.5 L1014.0 285.2 L1015.0 285.2 L1016.0 285.8 L1017.0 284.0 L1018.0 285.4 L1019.0 284.7 L1020.0 285.4 L1021.0 285.6 L1022.0 285.0 L1023.0 285.0 L1024.0 284.4 L1025.0 285.6 L1026.0 284.7 L1027.0 285.5 L1028.0 284.2 L1029.0 286.2 L1030.0 284.4 L1031.0 286.0 L1032.0 284.8 L1033.0 285.5 L1034.0 285.0 L1035.0 285.6 L1036.0 285.1 L1037.0 286.0 L1038.0 285.5 L1039.0 285.5 L1040.0 286.2 L1041.0 284.5 L1042.0 285.9 L1043.0 285.0 L1044.0 283.9 L1045.0 285.3 L1046.0 284.8 L1047.0 286.1 L1048.0 284.6 L1049.0 284.9 L1050.0 285.0 L1051.0 283.5 L1052.0 285.2 L1053.0 284.1 L1054.0 285.8 L1055.0 286.0 L1056.0 284.8 L1057.0 283.6 L1058.0 284.9 L1059.0 284.9 L1060.0 285.3 L1061.0 284.5 L1062.0 283.9 L1063.0 284.6 L1064.0 284.0 L1065.0 286.0 L1066.0 284.2 L1067.0 284.2 L1068.0 284.6 L1069.0 283.7 L1070.0 284.3 L1071.0 284.5 L1072.0 284.2 L1073.0 284.4 L1074.0 285.5 L1075.0 284.9 L1076.0 283.6 L1077.0 284.2 L1078.0 285.1 L1079.0 284.0 L1080.0 284.6 L1081.0 284.5 L1082.0 284.9 L1083.0 284.3 L1084.0 284.3 L1085.0 283.8 L1086.0 284.7 L1087.0 283.7 L1088.0 285.6 L1089.0 284.4 L1090.0 284.2 L1091.0 284.9 L1092.0 284.3 L1093.0 284.4 L1094.0 284.3 L1095.0 283.8 L1096.0 283.6 L1097.0 283.8 L1098.0 285.1 L1099.0 283.8 L1100.0 284.0 L1101.0 283.9 L1102.0 284.7 L1103.0 285.7 L1104.0 283.6 L1105.0 284.6 L1106.0 284.3 L1107.0 284.0 L1108.0 284.5 L1109.0 283.3 L1110.0 284.8 L1111.0 284.3 L1112.0 283.4 L1113.0 285.3 L1114.0 284.7 L1115.0 284.9 L1116.0 283.1 L1117.0 283.9 L1118.0 283.7 L1119.0 284.5 L1120.0 285.0 L1121.0 282.7 L1122.0 284.0 L1123.0 283.9 L1124.0 284.7 L1125.0 284.0 L1126.0 283.1 L1127.0 283.8 L1128.0 283.2 L1129.0 283.4 L1130.0 284.0 L1131.0 283.6 L1132.0 284.1 L1133.0 282.8 L1134.0 285.6 L1135.0 284.8 L1136.0 284.4 L1137.0 283.0 L1138.0 282.3 L1139.0 283.2 L1140.0 283.7 L1141.0 285.4 L1142.0 284.8 L1143.0 283.5 L1144.0 284.7 L1145.0 284.7 L1146.0 283.8 L1147.0 284.7 L1148.0 284.0 L1149.0 283.3 L1150.0 282.9 L1151.0 283.7 L1152.0 284.5 L1153.0 282.8 L1154.0 282.6 L1155.0 284.1 L1156.0 281.8 L1157.0 285.0 L1158.0 283.4 L1159.0 284.2 L1160.0 285.0 L1161.0 282.6 L1162.0 282.9 L1163.0 285.3 L1164.0 283.4 L1165.0 283.5 L1166.0 283.8 L1167.0 284.4 L1168.0 284.6 L1169.0 283.7 L1170.0 283.3 L1171.0 283.6 L1172.0 283.8 L1173.0 284.5 L1174.0 283.7 L1175.0 284.9 L1176.0 282.9 L1177.0 283.9 L1178.0 284.8 L1179.0 284.4 L1180.0 283.7 L1181.0 282.9 L1182.0 283.0 L1183.0 283.4 L1184.0 283.7 L1185.0 283.3 L1186.0 282.4 L1187.0 282.9 L1188.0 283.8 L1189.0 284.0 L1190.0 282.4 L1191.0 283.2 L1192.0 282.2 L1193.0 283.0 L1194.0 285.9 L1195.0 283.4 L1196.0 283.1 L1197.0 283.0 L1198.0 282.5 L1199.0 282.0 L1200.0 283.3 L1201.0 283.1 L1202.0 284.4 L1203.0 282.2 L1204.0 283.6 L1205.0 284.3 L1206.0 281.9 L1207.0 283.8 L1208.0 282.1 L1209.0 283.7 L1210.0 284.3 L1211.0 283.3 L1212.0 283.5 L1213.0 282.8 L1214.0 283.5 L1215.0 284.1 L1216.0 283.1 L1217.0 283.1 L1218.0 283.5 L1219.0 283.8 L1220.0 282.0 L1221.0 283.2 L1222.0 282.7 L1223.0 283.5 L1224.0 283.9 L1225.0 283.4 L1226.0 284.1 L1227.0 282.5 L1228.0 282.9 L1229.0 282.4 L1230.0 283.2 L1231.0 283.2 L1232.0 283.0 L1233.0 282.3 L1234.0 283.1 L1235.0 282.8 L1236.0 283.5 L1237.0 282.9 L1238.0 283.9 L1239.0 283.3 L1240.0 281.7 L1241.0 282.9 L1242.0 282.0 L1243.0 283.8 L1244.0 284.1 L1245.0 283.0 L1246.0 283.4 L1247.0 282.0 L1248.0 281.4 L1249.0 282.6 L1250.0 282.8 L1251.0 281.9 L1252.0 283.1 L1253.0 283.2 L1254.0 283.5 L1255.0 284.1 L1256.0 283.6 L1257.0 282.7 L1258.0 283.0 L1259.0 283.4 L1260.0 282.2 L1261.0 283.9 L1262.0 283.6 L1263.0 282.8 L1264.0 282.5 L1265.0 285.7 L1266.0 283.5 L1267.0 283.6 L1268.0 284.2 L1269.0 283.6 L1270.0 283.1 L1271.0 283.4 L1272.0 282.2 L1273.0 283.4 L1274.0 281.8 L1275.0 283.2 L1276.0 283.3 L1277.0 281.7 L1278.0 284.2" fill="none" stroke="#ff0000" stroke-width="2.2" stroke-linejoin="round"/>
<path d="M775.0 265.7 L776.0 272.2 L777.0 275.3 L778.0 279.6 L779.0 281.7 L780.0 286.2 L781.0 286.7 L782.0 288.3 L783.0 288.3 L784.0 288.7 L785.0 288.7 L786.0 288.6 L787.0 289.3 L788.0 289.0 L789.0 288.8 L790.0 287.9 L791.0 288.7 L792.0 289.3 L793.0 288.5 L794.0 289.0 L795.0 288.6 L796.0 288.0 L797.0 288.0 L798.0 288.1 L799.0 288.3 L800.0 288.3 L801.0 289.2 L802.0 287.6 L803.0 286.9 L804.0 288.8 L805.0 287.9 L806.0 288.1 L807.0 290.0 L808.0 289.2 L809.0 288.5 L810.0 288.7 L811.0 288.1 L812.0 288.6 L813.0 287.5 L814.0 287.3 L815.0 287.5 L816.0 288.9 L817.0 288.9 L818.0 287.3 L819.0 288.5 L820.0 287.5 L821.0 288.4 L822.0 287.3 L823.0 288.2 L824.0 287.4 L825.0 287.2 L826.0 287.4 L827.0 287.5 L828.0 286.9 L829.0 286.3 L830.0 288.5 L831.0 287.0 L832.0 285.9 L833.0 285.5 L834.0 285.1 L835.0 286.7 L836.0 288.1 L837.0 285.9 L838.0 286.8 L839.0 285.7 L840.0 287.8 L841.0 287.2 L842.0 287.1 L843.0 287.8 L844.0 288.0 L845.0 287.6 L846.0 286.4 L847.0 285.8 L848.0 286.0 L849.0 285.4 L850.0 288.0 L851.0 286.5 L852.0 286.7 L853.0 286.7 L854.0 288.0 L855.0 286.1 L856.0 287.4 L857.0 286.7 L858.0 286.4 L859.0 285.1 L860.0 287.1 L861.0 285.9 L862.0 286.1 L863.0 286.5 L864.0 286.4 L865.0 287.1 L866.0 285.8 L867.0 286.4 L868.0 286.4 L869.0 286.2 L870.0 286.7 L871.0 286.0 L872.0 287.0 L873.0 285.6 L874.0 285.1 L875.0 286.1 L876.0 286.9 L877.0 285.7 L878.0 285.6 L879.0 285.8 L880.0 286.1 L881.0 285.8 L882.0 286.2 L883.0 284.7 L884.0 287.0 L885.0 286.3 L886.0 285.3 L887.0 286.8 L888.0 286.2 L889.0 286.9 L890.0 285.0 L891.0 287.0 L892.0 285.8 L893.0 284.3 L894.0 286.3 L895.0 285.5 L896.0 285.0 L897.0 285.5 L898.0 284.3 L899.0 286.1 L900.0 285.5 L901.0 285.4 L902.0 286.6 L903.0 285.6 L904.0 285.1 L905.0 284.8 L906.0 285.5 L907.0 286.3 L908.0 285.1 L909.0 284.7 L910.0 286.1 L911.0 285.5 L912.0 285.4 L913.0 286.9 L914.0 284.5 L915.0 285.5 L916.0 284.1 L917.0 285.1 L918.0 285.7 L919.0 286.1 L920.0 284.4 L921.0 285.9 L922.0 285.8 L923.0 285.2 L924.0 287.0 L925.0 285.2 L926.0 284.6 L927.0 285.5 L928.0 283.8 L929.0 286.3 L930.0 285.8 L931.0 284.8 L932.0 285.5 L933.0 285.5 L934.0 286.5 L935.0 284.6 L936.0 284.1 L937.0 283.6 L938.0 284.8 L939.0 283.9 L940.0 284.9 L941.0 285.3 L942.0 284.6 L943.0 284.3 L944.0 285.8 L945.0 284.8 L946.0 285.1 L947.0 285.6 L948.0 283.9 L949.0 284.2 L950.0 286.7 L951.0 284.7 L952.0 284.1 L953.0 284.6 L954.0 284.4 L955.0 283.9 L956.0 284.5 L957.0 284.7 L958.0 284.7 L959.0 285.1 L960.0 283.5 L961.0 283.6 L962.0 285.3 L963.0 284.4 L964.0 285.5 L965.0 284.9 L966.0 283.6 L967.0 285.0 L968.0 283.9 L969.0 284.8 L970.0 285.5 L971.0 286.1 L972.0 284.5 L973.0 285.1 L974.0 284.8 L975.0 285.1 L976.0 282.7 L977.0 284.2 L978.0 284.7 L979.0 284.8 L980.0 283.9 L981.0 285.1 L982.0 285.2 L983.0 284.5 L984.0 284.3 L985.0 284.2 L986.0 284.5 L987.0 285.2 L988.0 285.5 L989.0 284.0 L990.0 283.7 L991.0 283.8 L992.0 285.0 L993.0 284.5 L994.0 284.5 L995.0 284.7 L996.0 284.6 L997.0 284.2 L998.0 283.5 L999.0 283.8 L1000.0 284.3 L1001.0 284.5 L1002.0 284.0 L1003.0 283.9 L1004.0 285.2 L1005.0 283.9 L1006.0 284.3 L1007.0 283.9 L1008.0 283.5 L1009.0 283.1 L1010.0 283.8 L1011.0 283.5 L1012.0 284.7 L1013.0 283.3 L1014.0 283.8 L1015.0 284.6 L1016.0 284.0 L1017.0 284.4 L1018.0 284.7 L1019.0 282.9 L1020.0 283.7 L1021.0 283.3 L1022.0 285.0 L1023.0 283.9 L1024.0 284.4 L1025.0 285.2 L1026.0 283.7 L1027.0 284.0 L1028.0 284.3 L1029.0 283.8 L1030.0 284.8 L1031.0 284.5 L1032.0 284.6 L1033.0 283.9 L1034.0 283.7 L1035.0 283.6 L1036.0 283.6 L1037.0 282.7 L1038.0 284.1 L1039.0 284.4 L1040.0 283.8 L1041.0 283.5 L1042.0 283.9 L1043.0 284.0 L1044.0 284.0 L1045.0 285.1 L1046.0 283.2 L1047.0 284.0 L1048.0 284.3 L1049.0 283.8 L1050.0 283.6 L1051.0 283.0 L1052.0 283.3 L1053.0 284.2 L1054.0 284.7 L1055.0 283.2 L1056.0 284.0 L1057.0 284.1 L1058.0 284.4 L1059.0 283.8 L1060.0 284.0 L1061.0 284.3 L1062.0 282.8 L1063.0 283.7 L1064.0 282.4 L1065.0 282.2 L1066.0 283.0 L1067.0 282.5 L1068.0 283.9 L1069.0 284.3 L1070.0 283.4 L1071.0 283.5 L1072.0 283.4 L1073.0 283.4 L1074.0 283.6 L1075.0 283.8 L1076.0 283.2 L1077.0 283.0 L1078.0 283.1 L1079.0 284.1 L1080.0 283.2 L1081.0 284.5 L1082.0 283.3 L1083.0 284.4 L1084.0 282.6 L1085.0 283.0 L1086.0 283.8 L1087.0 283.8 L1088.0 283.3 L1089.0 284.9 L1090.0 283.5 L1091.0 283.6 L1092.0 283.0 L1093.0 284.6 L1094.0 284.0 L1095.0 283.7 L1096.0 282.2 L1097.0 283.6 L1098.0 283.0 L1099.0 283.6 L1100.0 284.0 L1101.0 282.8 L1102.0 283.5 L1103.0 283.9 L1104.0 283.4 L1105.0 283.1 L1106.0 282.5 L1107.0 282.8 L1108.0 282.4 L1109.0 284.0 L1110.0 283.3 L1111.0 282.4 L1112.0 283.2 L1113.0 282.3 L1114.0 280.9 L1115.0 284.1 L1116.0 284.0 L1117.0 282.2 L1118.0 282.7 L1119.0 283.3 L1120.0 282.9 L1121.0 282.6 L1122.0 282.8 L1123.0 283.0 L1124.0 282.8 L1125.0 283.3 L1126.0 283.0 L1127.0 282.6 L1128.0 283.1 L1129.0 281.9 L1130.0 284.1 L1131.0 281.9 L1132.0 283.0 L1133.0 283.3 L1134.0 283.4 L1135.0 283.3 L1136.0 283.9 L1137.0 282.3 L1138.0 283.0 L1139.0 283.1 L1140.0 282.7 L1141.0 282.6 L1142.0 283.9 L1143.0 282.5 L1144.0 282.7 L1145.0 282.8 L1146.0 282.8 L1147.0 283.1 L1148.0 282.8 L1149.0 283.2 L1150.0 283.1 L1151.0 283.3 L1152.0 283.9 L1153.0 282.4 L1154.0 284.1 L1155.0 282.6 L1156.0 283.4 L1157.0 283.0 L1158.0 282.7 L1159.0 281.5 L1160.0 284.0 L1161.0 282.4 L1162.0 282.3 L1163.0 283.6 L1164.0 282.9 L1165.0 284.2 L1166.0 284.0 L1167.0 283.4 L1168.0 283.0 L1169.0 283.4 L1170.0 281.9 L1171.0 283.0 L1172.0 282.9 L1173.0 282.5 L1174.0 283.0 L1175.0 281.8 L1176.0 283.4 L1177.0 283.7 L1178.0 281.9 L1179.0 282.9 L1180.0 283.9 L1181.0 283.1 L1182.0 282.0 L1183.0 282.1 L1184.0 283.3 L1185.0 284.0 L1186.0 282.0 L1187.0 282.8 L1188.0 282.2 L1189.0 282.5 L1190.0 282.9 L1191.0 282.7 L1192.0 282.2 L1193.0 284.2 L1194.0 282.6 L1195.0 282.6 L1196.0 283.5 L1197.0 282.7 L1198.0 282.5 L1199.0 283.3 L1200.0 281.9 L1201.0 283.2 L1202.0 283.4 L1203.0 283.1 L1204.0 282.5 L1205.0 282.6 L1206.0 281.4 L1207.0 282.5 L1208.0 282.8 L1209.0 283.2 L1210.0 282.7 L1211.0 282.3 L1212.0 282.0 L1213.0 282.6 L1214.0 282.7 L1215.0 283.4 L1216.0 282.6 L1217.0 282.2 L1218.0 282.5 L1219.0 282.2 L1220.0 282.4 L1221.0 281.0 L1222.0 281.4 L1223.0 281.7 L1224.0 282.9 L1225.0 282.5 L1226.0 282.6 L1227.0 283.3 L1228.0 281.8 L1229.0 283.3 L1230.0 282.8 L1231.0 282.0 L1232.0 283.5 L1233.0 281.5 L1234.0 281.7 L1235.0 282.3 L1236.0 282.8 L1237.0 282.3 L1238.0 281.0 L1239.0 282.3 L1240.0 282.4 L1241.0 284.2 L1242.0 283.4 L1243.0 282.5 L1244.0 281.7 L1245.0 282.7 L1246.0 281.6 L1247.0 282.6 L1248.0 282.7 L1249.0 282.1 L1250.0 282.6 L1251.0 282.2 L1252.0 282.0 L1253.0 283.5 L1254.0 282.8 L1255.0 282.2 L1256.0 281.8 L1257.0 282.5 L1258.0 282.8 L1259.0 283.0 L1260.0 283.4 L1261.0 282.7 L1262.0 281.6 L1263.0 283.8 L1264.0 283.1 L1265.0 282.9 L1266.0 283.3 L1267.0 281.3 L1268.0 282.1 L1269.0 282.0 L1270.0 283.1 L1271.0 281.5 L1272.0 282.1 L1273.0 283.4 L1274.0 282.7 L1275.0 282.0 L1276.0 283.6 L1277.0 281.4 L1278.0 282.6" fill="none" stroke="#ff0000" stroke-width="2.2" stroke-linejoin="round"/>
<path d="M775.0 266.4 L776.0 271.5 L777.0 274.0 L778.0 275.8 L779.0 277.9 L780.0 277.7 L781.0 279.5 L782.0 279.3 L783.0 280.4 L784.0 279.5 L785.0 279.4 L786.0 280.2 L787.0 280.8 L788.0 278.6 L789.0 280.1 L790.0 280.4 L791.0 279.0 L792.0 279.4 L793.0 280.4 L794.0 279.4 L795.0 279.5 L796.0 281.1 L797.0 279.3 L798.0 279.3 L799.0 278.3 L800.0 279.2 L801.0 279.1 L802.0 281.1 L803.0 280.7 L804.0 279.0 L805.0 281.2 L806.0 280.4 L807.0 279.7 L808.0 280.4 L809.0 280.1 L810.0 279.3 L811.0 278.6 L812.0 279.2 L813.0 279.8 L814.0 279.6 L815.0 279.3 L816.0 280.5 L817.0 279.1 L818.0 280.4 L819.0 279.5 L820.0 279.9 L821.0 279.0 L822.0 279.8 L823.0 279.2 L824.0 278.5 L825.0 279.7 L826.0 279.7 L827.0 280.3 L828.0 279.9 L829.0 279.0 L830.0 279.3 L831.0 278.0 L832.0 278.9 L833.0 280.6 L834.0 280.7 L835.0 280.2 L836.0 279.9 L837.0 280.1 L838.0 280.0 L839.0 278.5 L840.0 279.1 L841.0 280.5 L842.0 280.5 L843.0 279.8 L844.0 279.4 L845.0 279.4 L846.0 279.3 L847.0 279.0 L848.0 278.3 L849.0 279.7 L850.0 279.3 L851.0 279.5 L852.0 280.8 L853.0 280.0 L854.0 279.1 L855.0 280.0 L856.0 278.5 L857.0 280.3 L858.0 279.8 L859.0 279.4 L860.0 280.0 L861.0 280.6 L862.0 279.2 L863.0 278.9 L864.0 281.0 L865.0 279.5 L866.0 280.6 L867.0 279.1 L868.0 279.8 L869.0 279.1 L870.0 280.0 L871.0 279.3 L872.0 279.0 L873.0 280.6 L874.0 279.7 L875.0 278.1 L876.0 279.3 L877.0 278.8 L878.0 278.6 L879.0 279.1 L880.0 279.1 L881.0 279.5 L882.0 278.9 L883.0 278.2 L884.0 279.1 L885.0 280.1 L886.0 278.5 L887.0 279.9 L888.0 279.8 L889.0 279.1 L890.0 279.6 L891.0 278.9 L892.0 279.1 L893.0 278.7 L894.0 279.7 L895.0 280.4 L896.0 278.9 L897.0 280.2 L898.0 277.9 L899.0 278.8 L900.0 278.7 L901.0 280.6 L902.0 279.0 L903.0 279.9 L904.0 278.0 L905.0 279.5 L906.0 279.8 L907.0 279.3 L908.0 277.5 L909.0 279.5 L910.0 279.9 L911.0 280.3 L912.0 279.6 L913.0 278.2 L914.0 279.2 L915.0 280.0 L916.0 278.8 L917.0 279.7 L918.0 279.0 L919.0 279.4 L920.0 279.9 L921.0 278.8 L922.0 281.3 L923.0 279.4 L924.0 279.5 L925.0 278.8 L926.0 279.3 L927.0 279.1 L928.0 278.3 L929.0 278.2 L930.0 279.5 L931.0 279.2 L932.0 277.4 L933.0 277.8 L934.0 279.1 L935.0 279.2 L936.0 279.7 L937.0 278.4 L938.0 279.7 L939.0 279.0 L940.0 278.9 L941.0 279.2 L942.0 279.9 L943.0 279.6 L944.0 279.9 L945.0 278.8 L946.0 279.0 L947.0 278.4 L948.0 278.8 L949.0 279.0 L950.0 278.9 L951.0 279.7 L952.0 279.5 L953.0 279.8 L954.0 279.3 L955.0 280.0 L956.0 279.3 L957.0 279.9 L958.0 279.6 L959.0 279.7 L960.0 279.2 L961.0 278.3 L962.0 278.2 L963.0 280.6 L964.0 279.5 L965.0 279.5 L966.0 279.1 L967.0 278.9 L968.0 281.2 L969.0 278.4 L970.0 279.1 L971.0 279.1 L972.0 278.4 L973.0 278.3 L974.0 278.7 L975.0 278.9 L976.0 278.8 L977.0 279.7 L978.0 278.3 L979.0 279.4 L980.0 280.2 L981.0 279.8 L982.0 278.3 L983.0 277.1 L984.0 279.7 L985.0 279.5 L986.0 278.7 L987.0 280.0 L988.0 278.8 L989.0 279.2 L990.0 278.4 L991.0 279.3 L992.0 278.8 L993.0 278.8 L994.0 279.9 L995.0 279.3 L996.0 278.1 L997.0 279.6 L998.0 279.7 L999.0 278.5 L1000.0 278.8 L1001.0 279.1 L1002.0 278.9 L1003.0 279.2 L1004.0 279.5 L1005.0 278.7 L1006.0 280.5 L1007.0 278.6 L1008.0 278.7 L1009.0 280.5 L1010.0 280.7 L1011.0 279.1 L1012.0 278.9 L1013.0 278.3 L1014.0 279.9 L1015.0 279.2 L1016.0 278.5 L1017.0 279.3 L1018.0 280.0 L1019.0 279.5 L1020.0 280.6 L1021.0 279.9 L1022.0 279.4 L1023.0 279.0 L1024.0 279.4 L1025.0 279.9 L1026.0 279.6 L1027.0 279.8 L1028.0 279.2 L1029.0 279.6 L1030.0 279.9 L1031.0 278.9 L1032.0 278.1 L1033.0 280.2 L1034.0 279.4 L1035.0 278.7 L1036.0 279.2 L1037.0 278.8 L1038.0 277.8 L1039.0 278.9 L1040.0 278.0 L1041.0 279.1 L1042.0 278.9 L1043.0 279.8 L1044.0 278.9 L1045.0 279.3 L1046.0 278.8 L1047.0 278.7 L1048.0 278.0 L1049.0 279.7 L1050.0 279.1 L1051.0 278.6 L1052.0 279.1 L1053.0 278.7 L1054.0 278.5 L1055.0 279.2 L1056.0 279.8 L1057.0 278.8 L1058.0 278.0 L1059.0 278.5 L1060.0 280.2 L1061.0 278.4 L1062.0 279.8 L1063.0 278.8 L1064.0 279.5 L1065.0 278.9 L1066.0 277.9 L1067.0 278.7 L1068.0 280.4 L1069.0 278.9 L1070.0 279.3 L1071.0 278.7 L1072.0 278.9 L1073.0 279.2 L1074.0 279.3 L1075.0 280.5 L1076.0 278.9 L1077.0 278.8 L1078.0 278.5 L1079.0 278.0 L1080.0 277.8 L1081.0 279.4 L1082.0 277.6 L1083.0 279.9 L1084.0 279.5 L1085.0 278.7 L1086.0 278.1 L1087.0 278.9 L1088.0 278.9 L1089.0 279.7 L1090.0 278.4 L1091.0 278.6 L1092.0 278.9 L1093.0 278.7 L1094.0 278.5 L1095.0 277.7 L1096.0 277.8 L1097.0 278.4 L1098.0 278.7 L1099.0 279.6 L1100.0 280.5 L1101.0 280.1 L1102.0 279.2 L1103.0 280.2 L1104.0 278.8 L1105.0 278.5 L1106.0 280.5 L1107.0 278.1 L1108.0 278.6 L1109.0 278.7 L1110.0 279.9 L1111.0 278.5 L1112.0 279.4 L1113.0 278.6 L1114.0 278.0 L1115.0 279.0 L1116.0 279.0 L1117.0 278.1 L1118.0 278.3 L1119.0 278.3 L1120.0 279.5 L1121.0 279.2 L1122.0 279.0 L1123.0 279.2 L1124.0 278.5 L1125.0 279.2 L1126.0 278.4 L1127.0 277.9 L1128.0 278.4 L1129.0 279.0 L1130.0 278.9 L1131.0 279.6 L1132.0 277.7 L1133.0 278.7 L1134.0 279.1 L1135.0 278.2 L1136.0 279.0 L1137.0 278.5 L1138.0 278.0 L1139.0 279.6 L1140.0 277.9 L1141.0 279.5 L1142.0 278.5 L1143.0 278.2 L1144.0 278.2 L1145.0 278.3 L1146.0 278.2 L1147.0 279.0 L1148.0 277.5 L1149.0 279.7 L1150.0 279.4 L1151.0 279.8 L1152.0 278.1 L1153.0 277.2 L1154.0 278.4 L1155.0 278.7 L1156.0 279.0 L1157.0 278.4 L1158.0 278.7 L1159.0 278.9 L1160.0 277.7 L1161.0 280.1 L1162.0 278.0 L1163.0 279.0 L1164.0 279.5 L1165.0 278.2 L1166.0 278.8 L1167.0 279.9 L1168.0 278.6 L1169.0 279.5 L1170.0 279.0 L1171.0 278.9 L1172.0 279.3 L1173.0 278.6 L1174.0 278.6 L1175.0 279.4 L1176.0 279.0 L1177.0 279.1 L1178.0 277.9 L1179.0 278.8 L1180.0 279.6 L1181.0 279.4 L1182.0 279.0 L1183.0 278.4 L1184.0 278.3 L1185.0 279.1 L1186.0 279.8 L1187.0 278.8 L1188.0 279.7 L1189.0 278.5 L1190.0 279.6 L1191.0 278.1 L1192.0 278.9 L1193.0 278.0 L1194.0 279.2 L1195.0 279.1 L1196.0 278.1 L1197.0 278.2 L1198.0 278.4 L1199.0 277.7 L1200.0 278.1 L1201.0 278.1 L1202.0 279.3 L1203.0 279.7 L1204.0 278.4 L1205.0 278.5 L1206.0 278.9 L1207.0 278.4 L1208.0 278.5 L1209.0 279.3 L1210.0 278.9 L1211.0 278.7 L1212.0 278.3 L1213.0 279.7 L1214.0 278.3 L1215.0 278.8 L1216.0 278.0 L1217.0 278.3 L1218.0 278.8 L1219.0 278.4 L1220.0 279.1 L1221.0 278.8 L1222.0 277.7 L1223.0 277.1 L1224.0 279.4 L1225.0 278.3 L1226.0 279.7 L1227.0 278.7 L1228.0 278.2 L1229.0 279.1 L1230.0 278.5 L1231.0 278.7 L1232.0 278.0 L1233.0 279.1 L1234.0 279.5 L1235.0 278.3 L1236.0 279.9 L1237.0 278.3 L1238.0 278.9 L1239.0 277.5 L1240.0 277.3 L1241.0 280.1 L1242.0 279.7 L1243.0 279.5 L1244.0 277.5 L1245.0 278.8 L1246.0 279.0 L1247.0 278.7 L1248.0 278.9 L1249.0 278.0 L1250.0 278.6 L1251.0 277.9 L1252.0 278.4 L1253.0 278.9 L1254.0 278.1 L1255.0 278.5 L1256.0 278.4 L1257.0 278.7 L1258.0 279.3 L1259.0 278.8 L1260.0 278.9 L1261.0 277.6 L1262.0 278.4 L1263.0 279.2 L1264.0 278.0 L1265.0 278.3 L1266.0 278.0 L1267.0 279.6 L1268.0 278.3 L1269.0 278.1 L1270.0 279.1 L1271.0 279.4 L1272.0 279.0 L1273.0 279.3 L1274.0 278.8 L1275.0 278.5 L1276.0 278.3 L1277.0 278.3 L1278.0 278.2" fill="none" stroke="#ff0000" stroke-width="2.2" stroke-linejoin="round"/>
<path d="M775.0 266.8 L776.0 270.8 L777.0 273.3 L778.0 274.9 L779.0 275.1 L780.0 274.6 L781.0 275.2 L782.0 275.1 L783.0 274.6 L784.0 276.0 L785.0 275.1 L786.0 275.1 L787.0 275.2 L788.0 276.6 L789.0 275.8 L790.0 276.7 L791.0 275.9 L792.0 275.7 L793.0 276.4 L794.0 276.4 L795.0 276.1 L796.0 275.3 L797.0 275.7 L798.0 275.2 L799.0 275.8 L800.0 276.1 L801.0 277.0 L802.0 277.0 L803.0 276.5 L804.0 276.7 L805.0 276.2 L806.0 277.9 L807.0 277.1 L808.0 277.9 L809.0 276.3 L810.0 276.3 L811.0 276.7 L812.0 276.1 L813.0 276.2 L814.0 275.3 L815.0 276.7 L816.0 276.1 L817.0 276.6 L818.0 275.8 L819.0 274.8 L820.0 276.4 L821.0 276.8 L822.0 275.1 L823.0 275.3 L824.0 275.8 L825.0 275.8 L826.0 274.8 L827.0 277.2 L828.0 276.7 L829.0 275.6 L830.0 274.7 L831.0 276.3 L832.0 277.4 L833.0 276.6 L834.0 276.8 L835.0 275.3 L836.0 276.2 L837.0 275.0 L838.0 277.4 L839.0 276.4 L840.0 274.5 L841.0 274.7 L842.0 276.3 L843.0 276.1 L844.0 275.8 L845.0 276.4 L846.0 277.4 L847.0 276.3 L848.0 274.7 L849.0 275.9 L850.0 275.1 L851.0 275.4 L852.0 276.2 L853.0 275.9 L854.0 275.3 L855.0 276.0 L856.0 275.4 L857.0 276.4 L858.0 275.8 L859.0 276.3 L860.0 275.8 L861.0 276.5 L862.0 275.9 L863.0 276.0 L864.0 275.6 L865.0 276.1 L866.0 274.8 L867.0 277.9 L868.0 275.5 L869.0 276.1 L870.0 275.7 L871.0 275.7 L872.0 276.3 L873.0 275.6 L874.0 275.7 L875.0 275.0 L876.0 275.3 L877.0 275.2 L878.0 277.3 L879.0 275.1 L880.0 275.2 L881.0 276.1 L882.0 277.0 L883.0 274.8 L884.0 274.9 L885.0 276.1 L886.0 276.2 L887.0 275.0 L888.0 274.7 L889.0 275.3 L890.0 276.5 L891.0 276.0 L892.0 276.5 L893.0 275.9 L894.0 276.0 L895.0 276.4 L896.0 275.9 L897.0 276.2 L898.0 275.3 L899.0 275.6 L900.0 276.3 L901.0 275.8 L902.0 275.5 L903.0 276.4 L904.0 276.4 L905.0 276.0 L906.0 275.5 L907.0 276.6 L908.0 277.7 L909.0 275.4 L910.0 274.9 L911.0 275.4 L912.0 275.3 L913.0 275.1 L914.0 275.2 L915.0 276.6 L916.0 276.6 L917.0 277.0 L918.0 276.5 L919.0 275.6 L920.0 276.7 L921.0 275.6 L922.0 275.7 L923.0 275.2 L924.0 276.8 L925.0 276.7 L926.0 275.7 L927.0 275.8 L928.0 276.0 L929.0 276.1 L930.0 276.6 L931.0 276.0 L932.0 276.3 L933.0 274.9 L934.0 275.8 L935.0 274.7 L936.0 277.2 L937.0 277.0 L938.0 276.5 L939.0 276.8 L940.0 277.4 L941.0 276.6 L942.0 274.9 L943.0 275.8 L944.0 274.3 L945.0 275.4 L946.0 275.1 L947.0 276.0 L948.0 276.3 L949.0 275.3 L950.0 275.8 L951.0 276.2 L952.0 275.9 L953.0 275.9 L954.0 274.3 L955.0 275.7 L956.0 276.5 L957.0 276.2 L958.0 274.9 L959.0 275.8 L960.0 276.2 L961.0 275.3 L962.0 276.4 L963.0 275.4 L964.0 275.7 L965.0 275.9 L966.0 277.5 L967.0 275.8 L968.0 275.6 L969.0 276.5 L970.0 275.6 L971.0 276.1 L972.0 274.4 L973.0 276.2 L974.0 276.0 L975.0 275.1 L976.0 276.9 L977.0 275.8 L978.0 275.8 L979.0 275.1 L980.0 274.8 L981.0 275.6 L982.0 274.9 L983.0 276.3 L984.0 276.6 L985.0 275.5 L986.0 274.8 L987.0 275.7 L988.0 275.2 L989.0 276.1 L990.0 276.1 L991.0 275.7 L992.0 276.0 L993.0 276.7 L994.0 277.2 L995.0 275.6 L996.0 276.5 L997.0 275.8 L998.0 275.2 L999.0 276.9 L1000.0 276.2 L1001.0 276.1 L1002.0 276.2 L1003.0 275.9 L1004.0 275.2 L1005.0 277.2 L1006.0 276.6 L1007.0 276.2 L1008.0 276.6 L1009.0 276.9 L1010.0 275.8 L1011.0 276.4 L1012.0 275.7 L1013.0 276.4 L1014.0 275.8 L1015.0 277.7 L1016.0 275.7 L1017.0 276.3 L1018.0 276.3 L1019.0 275.7 L1020.0 276.6 L1021.0 275.9 L1022.0 275.7 L1023.0 276.0 L1024.0 275.4 L1025.0 276.8 L1026.0 276.4 L1027.0 276.7 L1028.0 275.0 L1029.0 276.2 L1030.0 275.4 L1031.0 276.0 L1032.0 276.9 L1033.0 276.2 L1034.0 275.8 L1035.0 276.8 L1036.0 276.7 L1037.0 277.3 L1038.0 274.7 L1039.0 276.2 L1040.0 275.7 L1041.0 275.4 L1042.0 276.1 L1043.0 275.2 L1044.0 274.4 L1045.0 275.3 L1046.0 275.8 L1047.0 277.3 L1048.0 275.5 L1049.0 275.2 L1050.0 274.6 L1051.0 275.7 L1052.0 275.8 L1053.0 276.1 L1054.0 275.0 L1055.0 275.4 L1056.0 274.4 L1057.0 276.1 L1058.0 274.9 L1059.0 274.0 L1060.0 276.8 L1061.0 276.3 L1062.0 276.2 L1063.0 276.2 L1064.0 275.2 L1065.0 276.7 L1066.0 275.2 L1067.0 277.3 L1068.0 276.1 L1069.0 274.7 L1070.0 276.6 L1071.0 277.4 L1072.0 275.8 L1073.0 276.7 L1074.0 275.8 L1075.0 275.5 L1076.0 274.2 L1077.0 276.8 L1078.0 275.7 L1079.0 276.2 L1080.0 275.2 L1081.0 275.3 L1082.0 276.8 L1083.0 275.7 L1084.0 275.7 L1085.0 275.1 L1086.0 276.1 L1087.0 276.5 L1088.0 275.7 L1089.0 275.8 L1090.0 275.1 L1091.0 277.0 L1092.0 275.5 L1093.0 275.9 L1094.0 277.2 L1095.0 275.8 L1096.0 274.9 L1097.0 275.3 L1098.0 275.7 L1099.0 277.2 L1100.0 276.1 L1101.0 275.8 L1102.0 276.6 L1103.0 276.9 L1104.0 275.4 L1105.0 277.0 L1106.0 276.6 L1107.0 276.3 L1108.0 274.3 L1109.0 276.1 L1110.0 277.0 L1111.0 275.8 L1112.0 277.6 L1113.0 276.0 L1114.0 275.3 L1115.0 276.4 L1116.0 276.2 L1117.0 276.6 L1118.0 275.8 L1119.0 276.9 L1120.0 275.6 L1121.0 276.1 L1122.0 275.1 L1123.0 275.4 L1124.0 276.1 L1125.0 275.5 L1126.0 275.7 L1127.0 275.8 L1128.0 276.2 L1129.0 276.5 L1130.0 276.5 L1131.0 276.7 L1132.0 276.1 L1133.0 275.6 L1134.0 274.9 L1135.0 275.7 L1136.0 275.4 L1137.0 274.7 L1138.0 277.1 L1139.0 274.7 L1140.0 276.2 L1141.0 276.4 L1142.0 275.8 L1143.0 277.8 L1144.0 276.0 L1145.0 275.4 L1146.0 277.2 L1147.0 275.4 L1148.0 275.0 L1149.0 275.3 L1150.0 275.5 L1151.0 276.0 L1152.0 276.2 L1153.0 274.9 L1154.0 276.2 L1155.0 277.6 L1156.0 275.5 L1157.0 275.9 L1158.0 276.5 L1159.0 276.8 L1160.0 275.5 L1161.0 275.3 L1162.0 275.3 L1163.0 276.8 L1164.0 276.6 L1165.0 274.4 L1166.0 274.5 L1167.0 275.1 L1168.0 274.9 L1169.0 276.3 L1170.0 276.1 L1171.0 277.4 L1172.0 276.5 L1173.0 276.1 L1174.0 276.8 L1175.0 275.4 L1176.0 275.0 L1177.0 276.0 L1178.0 276.7 L1179.0 274.8 L1180.0 276.6 L1181.0 276.6 L1182.0 275.6 L1183.0 276.1 L1184.0 275.8 L1185.0 276.0 L1186.0 276.6 L1187.0 275.4 L1188.0 276.7 L1189.0 276.6 L1190.0 276.6 L1191.0 274.6 L1192.0 274.7 L1193.0 276.5 L1194.0 275.6 L1195.0 275.5 L1196.0 275.4 L1197.0 275.0 L1198.0 275.8 L1199.0 275.5 L1200.0 275.5 L1201.0 276.3 L1202.0 275.1 L1203.0 276.8 L1204.0 274.4 L1205.0 277.8 L1206.0 275.0 L1207.0 276.4 L1208.0 276.6 L1209.0 276.0 L1210.0 276.5 L1211.0 275.9 L1212.0 274.7 L1213.0 276.2 L1214.0 276.8 L1215.0 275.6 L1216.0 274.8 L1217.0 275.6 L1218.0 276.2 L1219.0 276.2 L1220.0 276.8 L1221.0 276.4 L1222.0 276.3 L1223.0 274.6 L1224.0 277.6 L1225.0 276.0 L1226.0 276.6 L1227.0 275.7 L1228.0 275.9 L1229.0 276.0 L1230.0 277.1 L1231.0 277.1 L1232.0 276.4 L1233.0 277.4 L1234.0 275.7 L1235.0 276.4 L1236.0 275.7 L1237.0 276.9 L1238.0 276.0 L1239.0 276.7 L1240.0 277.2 L1241.0 274.5 L1242.0 277.5 L1243.0 276.2 L1244.0 275.8 L1245.0 274.6 L1246.0 275.8 L1247.0 274.3 L1248.0 276.1 L1249.0 275.9 L1250.0 277.3 L1251.0 275.8 L1252.0 276.8 L1253.0 276.8 L1254.0 277.5 L1255.0 275.8 L1256.0 276.5 L1257.0 274.9 L1258.0 275.2 L1259.0 275.8 L1260.0 276.0 L1261.0 275.1 L1262.0 275.7 L1263.0 276.5 L1264.0 275.7 L1265.0 275.9 L1266.0 275.4 L1267.0 277.0 L1268.0 277.3 L1269.0 276.1 L1270.0 275.9 L1271.0 277.2 L1272.0 276.3 L1273.0 275.5 L1274.0 275.0 L1275.0 275.6 L1276.0 277.6 L1277.0 275.6 L1278.0 278.1" fill="none" stroke="#ff0000" stroke-width="2.2" stroke-linejoin="round"/>
<path d="M775.0 266.5 L776.0 269.2 L777.0 271.6 L778.0 271.2 L779.0 272.0 L780.0 271.1 L781.0 271.0 L782.0 271.4 L783.0 272.1 L784.0 271.5 L785.0 270.6 L786.0 272.3 L787.0 271.9 L788.0 271.8 L789.0 271.6 L790.0 270.4 L791.0 273.1 L792.0 271.7 L793.0 272.4 L794.0 273.0 L795.0 272.8 L796.0 272.1 L797.0 272.0 L798.0 272.2 L799.0 272.6 L800.0 272.4 L801.0 271.7 L802.0 272.3 L803.0 272.3 L804.0 272.5 L805.0 272.1 L806.0 273.0 L807.0 272.1 L808.0 272.6 L809.0 272.0 L810.0 271.6 L811.0 271.3 L812.0 271.9 L813.0 272.4 L814.0 272.9 L815.0 271.9 L816.0 271.6 L817.0 271.6 L818.0 272.9 L819.0 272.1 L820.0 271.6 L821.0 272.5 L822.0 271.1 L823.0 272.1 L824.0 272.0 L825.0 271.9 L826.0 271.2 L827.0 272.7 L828.0 273.2 L829.0 271.0 L830.0 272.1 L831.0 272.5 L832.0 273.6 L833.0 271.7 L834.0 271.3 L835.0 272.0 L836.0 273.4 L837.0 272.0 L838.0 272.2 L839.0 273.3 L840.0 270.5 L841.0 270.4 L842.0 272.7 L843.0 272.6 L844.0 271.0 L845.0 272.4 L846.0 272.0 L847.0 272.2 L848.0 271.4 L849.0 271.7 L850.0 271.4 L851.0 272.0 L852.0 271.8 L853.0 273.2 L854.0 272.5 L855.0 270.9 L856.0 272.3 L857.0 273.0 L858.0 272.2 L859.0 272.8 L860.0 272.0 L861.0 272.5 L862.0 271.3 L863.0 272.6 L864.0 271.0 L865.0 272.9 L866.0 270.9 L867.0 270.5 L868.0 272.4 L869.0 271.9 L870.0 272.1 L871.0 272.3 L872.0 272.0 L873.0 271.4 L874.0 272.2 L875.0 272.2 L876.0 272.4 L877.0 273.4 L878.0 271.5 L879.0 272.0 L880.0 272.4 L881.0 271.7 L882.0 271.1 L883.0 271.6 L884.0 272.8 L885.0 271.8 L886.0 272.4 L887.0 271.5 L888.0 272.3 L889.0 271.5 L890.0 271.4 L891.0 272.1 L892.0 272.0 L893.0 273.1 L894.0 270.8 L895.0 272.4 L896.0 273.2 L897.0 273.0 L898.0 271.7 L899.0 271.5 L900.0 271.6 L901.0 272.2 L902.0 272.1 L903.0 272.3 L904.0 272.4 L905.0 271.2 L906.0 271.2 L907.0 271.1 L908.0 271.0 L909.0 271.9 L910.0 272.2 L911.0 273.8 L912.0 272.4 L913.0 272.0 L914.0 273.0 L915.0 271.5 L916.0 272.2 L917.0 272.7 L918.0 272.6 L919.0 272.3 L920.0 271.7 L921.0 271.1 L922.0 271.9 L923.0 271.6 L924.0 272.5 L925.0 271.9 L926.0 272.4 L927.0 270.8 L928.0 272.7 L929.0 271.4 L930.0 270.9 L931.0 271.0 L932.0 271.5 L933.0 272.8 L934.0 272.5 L935.0 271.2 L936.0 272.1 L937.0 271.9 L938.0 270.9 L939.0 271.3 L940.0 270.5 L941.0 271.4 L942.0 270.1 L943.0 271.4 L944.0 271.3 L945.0 271.4 L946.0 271.4 L947.0 272.8 L948.0 271.8 L949.0 272.2 L950.0 272.5 L951.0 272.6 L952.0 272.5 L953.0 271.6 L954.0 271.2 L955.0 271.4 L956.0 271.7 L957.0 272.0 L958.0 271.9 L959.0 272.8 L960.0 271.9 L961.0 273.3 L962.0 272.7 L963.0 271.7 L964.0 272.6 L965.0 269.9 L966.0 273.0 L967.0 272.3 L968.0 272.3 L969.0 270.8 L970.0 273.8 L971.0 271.8 L972.0 271.9 L973.0 272.8 L974.0 271.9 L975.0 271.4 L976.0 272.5 L977.0 271.3 L978.0 272.5 L979.0 272.1 L980.0 272.8 L981.0 271.1 L982.0 272.9 L983.0 272.2 L984.0 273.4 L985.0 271.5 L986.0 273.3 L987.0 272.5 L988.0 272.6 L989.0 271.5 L990.0 272.4 L991.0 272.5 L992.0 271.4 L993.0 271.2 L994.0 271.4 L995.0 273.0 L996.0 272.1 L997.0 272.7 L998.0 272.2 L999.0 272.1 L1000.0 272.2 L1001.0 271.7 L1002.0 272.9 L1003.0 272.1 L1004.0 272.2 L1005.0 271.0 L1006.0 272.2 L1007.0 271.5 L1008.0 271.6 L1009.0 272.7 L1010.0 271.2 L1011.0 271.9 L1012.0 272.4 L1013.0 272.8 L1014.0 271.6 L1015.0 272.2 L1016.0 272.2 L1017.0 271.2 L1018.0 270.5 L1019.0 270.6 L1020.0 272.4 L1021.0 272.1 L1022.0 271.0 L1023.0 271.5 L1024.0 271.7 L1025.0 271.7 L1026.0 272.0 L1027.0 273.6 L1028.0 271.4 L1029.0 272.1 L1030.0 271.4 L1031.0 271.5 L1032.0 271.4 L1033.0 271.8 L1034.0 271.6 L1035.0 272.2 L1036.0 272.2 L1037.0 271.4 L1038.0 273.4 L1039.0 271.2 L1040.0 272.3 L1041.0 273.6 L1042.0 271.5 L1043.0 272.9 L1044.0 273.0 L1045.0 272.2 L1046.0 270.7 L1047.0 273.0 L1048.0 272.1 L1049.0 271.6 L1050.0 272.9 L1051.0 271.5 L1052.0 272.8 L1053.0 271.6 L1054.0 272.4 L1055.0 271.2 L1056.0 271.7 L1057.0 271.3 L1058.0 271.5 L1059.0 272.1 L1060.0 271.9 L1061.0 272.1 L1062.0 272.9 L1063.0 271.9 L1064.0 270.7 L1065.0 271.8 L1066.0 272.1 L1067.0 272.7 L1068.0 272.7 L1069.0 272.7 L1070.0 271.8 L1071.0 272.5 L1072.0 271.0 L1073.0 272.9 L1074.0 272.3 L1075.0 272.4 L1076.0 271.7 L1077.0 272.0 L1078.0 271.5 L1079.0 272.4 L1080.0 271.0 L1081.0 272.7 L1082.0 272.4 L1083.0 273.4 L1084.0 272.0 L1085.0 271.9 L1086.0 272.1 L1087.0 272.0 L1088.0 271.9 L1089.0 271.2 L1090.0 271.2 L1091.0 271.6 L1092.0 271.8 L1093.0 271.2 L1094.0 271.2 L1095.0 271.8 L1096.0 272.5 L1097.0 271.9 L1098.0 272.5 L1099.0 272.7 L1100.0 272.5 L1101.0 271.7 L1102.0 271.7 L1103.0 270.7 L1104.0 271.5 L1105.0 272.3 L1106.0 271.2 L1107.0 273.0 L1108.0 273.0 L1109.0 271.7 L1110.0 272.7 L1111.0 271.0 L1112.0 271.3 L1113.0 271.7 L1114.0 272.0 L1115.0 271.9 L1116.0 271.4 L1117.0 273.4 L1118.0 272.2 L1119.0 272.2 L1120.0 272.5 L1121.0 272.1 L1122.0 271.8 L1123.0 271.6 L1124.0 270.8 L1125.0 273.1 L1126.0 271.3 L1127.0 270.8 L1128.0 271.4 L1129.0 270.9 L1130.0 273.4 L1131.0 272.3 L1132.0 273.0 L1133.0 273.0 L1134.0 272.4 L1135.0 272.4 L1136.0 271.5 L1137.0 271.9 L1138.0 271.6 L1139.0 272.0 L1140.0 271.5 L1141.0 272.9 L1142.0 272.5 L1143.0 271.9 L1144.0 270.8 L1145.0 272.5 L1146.0 272.6 L1147.0 272.0 L1148.0 271.1 L1149.0 272.3 L1150.0 272.8 L1151.0 270.6 L1152.0 272.4 L1153.0 270.7 L1154.0 272.1 L1155.0 273.2 L1156.0 272.1 L1157.0 272.3 L1158.0 271.8 L1159.0 272.0 L1160.0 273.7 L1161.0 273.0 L1162.0 271.8 L1163.0 271.7 L1164.0 272.0 L1165.0 273.6 L1166.0 272.1 L1167.0 272.8 L1168.0 271.7 L1169.0 271.1 L1170.0 272.9 L1171.0 271.9 L1172.0 271.4 L1173.0 271.5 L1174.0 271.5 L1175.0 271.6 L1176.0 270.9 L1177.0 272.9 L1178.0 272.3 L1179.0 272.7 L1180.0 271.8 L1181.0 272.2 L1182.0 272.1 L1183.0 272.8 L1184.0 272.6 L1185.0 272.3 L1186.0 271.5 L1187.0 271.1 L1188.0 271.4 L1189.0 271.5 L1190.0 271.6 L1191.0 271.1 L1192.0 273.2 L1193.0 272.2 L1194.0 270.6 L1195.0 271.2 L1196.0 271.0 L1197.0 272.2 L1198.0 272.8 L1199.0 271.3 L1200.0 272.4 L1201.0 271.8 L1202.0 272.8 L1203.0 273.0 L1204.0 272.2 L1205.0 272.5 L1206.0 272.0 L1207.0 271.7 L1208.0 271.2 L1209.0 272.2 L1210.0 272.0 L1211.0 271.7 L1212.0 271.9 L1213.0 271.9 L1214.0 271.3 L1215.0 271.6 L1216.0 272.8 L1217.0 271.8 L1218.0 273.0 L1219.0 271.2 L1220.0 271.0 L1221.0 272.1 L1222.0 272.6 L1223.0 271.5 L1224.0 272.4 L1225.0 272.7 L1226.0 272.8 L1227.0 271.9 L1228.0 272.0 L1229.0 270.8 L1230.0 272.0 L1231.0 272.2 L1232.0 273.0 L1233.0 271.1 L1234.0 271.4 L1235.0 271.3 L1236.0 272.6 L1237.0 270.2 L1238.0 271.2 L1239.0 273.5 L1240.0 272.5 L1241.0 271.1 L1242.0 272.0 L1243.0 272.6 L1244.0 272.4 L1245.0 271.8 L1246.0 271.4 L1247.0 272.6 L1248.0 272.0 L1249.0 272.6 L1250.0 272.3 L1251.0 271.7 L1252.0 273.0 L1253.0 271.6 L1254.0 272.3 L1255.0 271.6 L1256.0 271.8 L1257.0 271.8 L1258.0 271.5 L1259.0 272.2 L1260.0 272.9 L1261.0 273.3 L1262.0 273.0 L1263.0 271.9 L1264.0 273.0 L1265.0 272.3 L1266.0 273.3 L1267.0 271.1 L1268.0 273.0 L1269.0 271.6 L1270.0 272.8 L1271.0 271.7 L1272.0 272.6 L1273.0 271.8 L1274.0 270.7 L1275.0 271.3 L1276.0 271.8 L1277.0 272.0 L1278.0 270.4" fill="none" stroke="#ff0000" stroke-width="2.2" stroke-linejoin="round"/>
<path d="M775.0 265.7 L776.0 267.7 L777.0 268.8 L778.0 269.4 L779.0 268.8 L780.0 268.4 L781.0 269.7 L782.0 269.2 L783.0 270.1 L784.0 269.1 L785.0 270.0 L786.0 268.9 L787.0 269.7 L788.0 269.6 L789.0 269.8 L790.0 268.8 L791.0 269.4 L792.0 268.9 L793.0 269.4 L794.0 269.9 L795.0 271.6 L796.0 269.5 L797.0 270.0 L798.0 269.6 L799.0 270.3 L800.0 269.8 L801.0 270.2 L802.0 269.8 L803.0 271.2 L804.0 270.5 L805.0 268.3 L806.0 269.7 L807.0 269.6 L808.0 268.0 L809.0 268.9 L810.0 269.2 L811.0 269.0 L812.0 269.6 L813.0 268.3 L814.0 270.1 L815.0 270.1 L816.0 269.8 L817.0 269.3 L818.0 269.5 L819.0 269.2 L820.0 270.3 L821.0 269.9 L822.0 270.9 L823.0 269.3 L824.0 270.6 L825.0 269.1 L826.0 269.4 L827.0 268.8 L828.0 269.9 L829.0 269.5 L830.0 270.0 L831.0 270.6 L832.0 269.5 L833.0 269.8 L834.0 270.2 L835.0 269.5 L836.0 269.2 L837.0 269.8 L838.0 269.9 L839.0 270.1 L840.0 270.1 L841.0 269.1 L842.0 269.9 L843.0 270.4 L844.0 269.2 L845.0 269.8 L846.0 269.1 L847.0 269.7 L848.0 270.8 L849.0 269.7 L850.0 268.9 L851.0 269.8 L852.0 269.7 L853.0 270.3 L854.0 268.6 L855.0 268.9 L856.0 269.5 L857.0 268.5 L858.0 270.4 L859.0 268.1 L860.0 269.0 L861.0 268.5 L862.0 269.1 L863.0 270.1 L864.0 270.0 L865.0 270.2 L866.0 270.0 L867.0 268.1 L868.0 269.8 L869.0 268.3 L870.0 269.2 L871.0 269.3 L872.0 269.2 L873.0 269.9 L874.0 269.0 L875.0 270.8 L876.0 270.0 L877.0 270.4 L878.0 270.1 L879.0 270.2 L880.0 269.5 L881.0 271.0 L882.0 268.8 L883.0 269.9 L884.0 269.6 L885.0 269.4 L886.0 269.8 L887.0 269.1 L888.0 270.2 L889.0 270.1 L890.0 269.7 L891.0 270.1 L892.0 268.9 L893.0 268.3 L894.0 269.2 L895.0 269.4 L896.0 271.3 L897.0 269.4 L898.0 270.3 L899.0 270.2 L900.0 271.1 L901.0 269.7 L902.0 270.0 L903.0 269.5 L904.0 269.0 L905.0 268.9 L906.0 269.0 L907.0 270.6 L908.0 269.8 L909.0 269.5 L910.0 269.6 L911.0 269.2 L912.0 269.6 L913.0 269.6 L914.0 270.1 L915.0 270.2 L916.0 268.5 L917.0 269.8 L918.0 270.6 L919.0 268.9 L920.0 269.4 L921.0 269.7 L922.0 270.4 L923.0 270.0 L924.0 269.4 L925.0 270.0 L926.0 270.3 L927.0 269.9 L928.0 270.9 L929.0 269.9 L930.0 268.9 L931.0 269.1 L932.0 269.5 L933.0 269.5 L934.0 270.0 L935.0 269.9 L936.0 270.8 L937.0 270.2 L938.0 270.7 L939.0 269.1 L940.0 269.3 L941.0 270.1 L942.0 269.7 L943.0 270.1 L944.0 269.8 L945.0 269.2 L946.0 270.8 L947.0 270.4 L948.0 268.5 L949.0 269.2 L950.0 269.6 L951.0 270.1 L952.0 269.6 L953.0 268.7 L954.0 270.2 L955.0 269.5 L956.0 270.5 L957.0 269.8 L958.0 270.3 L959.0 270.2 L960.0 270.2 L961.0 269.3 L962.0 270.3 L963.0 269.8 L964.0 268.8 L965.0 269.4 L966.0 269.4 L967.0 270.0 L968.0 270.1 L969.0 268.9 L970.0 270.1 L971.0 269.6 L972.0 268.9 L973.0 270.2 L974.0 269.1 L975.0 268.8 L976.0 270.2 L977.0 270.3 L978.0 269.2 L979.0 270.4 L980.0 270.3 L981.0 269.3 L982.0 271.0 L983.0 269.6 L984.0 269.8 L985.0 268.0 L986.0 270.1 L987.0 269.2 L988.0 270.0 L989.0 268.5 L990.0 270.5 L991.0 270.7 L992.0 271.0 L993.0 267.6 L994.0 270.1 L995.0 269.9 L996.0 267.5 L997.0 269.1 L998.0 269.6 L999.0 270.6 L1000.0 269.1 L1001.0 269.8 L1002.0 269.6 L1003.0 269.9 L1004.0 269.4 L1005.0 270.3 L1006.0 270.3 L1007.0 268.7 L1008.0 270.4 L1009.0 269.1 L1010.0 269.5 L1011.0 270.5 L1012.0 269.7 L1013.0 270.1 L1014.0 270.2 L1015.0 270.1 L1016.0 269.3 L1017.0 269.0 L1018.0 270.1 L1019.0 270.2 L1020.0 269.9 L1021.0 269.5 L1022.0 270.3 L1023.0 269.7 L1024.0 268.7 L1025.0 269.9 L1026.0 270.0 L1027.0 270.2 L1028.0 269.1 L1029.0 269.2 L1030.0 269.9 L1031.0 269.4 L1032.0 269.6 L1033.0 270.3 L1034.0 270.0 L1035.0 271.0 L1036.0 269.9 L1037.0 270.9 L1038.0 270.4 L1039.0 271.5 L1040.0 269.7 L1041.0 269.6 L1042.0 270.6 L1043.0 269.3 L1044.0 269.4 L1045.0 269.9 L1046.0 270.0 L1047.0 268.7 L1048.0 269.9 L1049.0 269.5 L1050.0 269.7 L1051.0 269.8 L1052.0 269.6 L1053.0 270.5 L1054.0 270.1 L1055.0 269.6 L1056.0 269.8 L1057.0 270.4 L1058.0 270.3 L1059.0 270.6 L1060.0 269.6 L1061.0 269.8 L1062.0 271.1 L1063.0 269.7 L1064.0 270.9 L1065.0 270.3 L1066.0 269.4 L1067.0 268.8 L1068.0 270.2 L1069.0 269.2 L1070.0 269.2 L1071.0 268.5 L1072.0 270.6 L1073.0 269.8 L1074.0 269.8 L1075.0 270.0 L1076.0 269.9 L1077.0 269.8 L1078.0 270.1 L1079.0 269.5 L1080.0 267.9 L1081.0 270.3 L1082.0 270.0 L1083.0 269.8 L1084.0 270.8 L1085.0 268.8 L1086.0 267.7 L1087.0 270.8 L1088.0 270.0 L1089.0 268.6 L1090.0 269.5 L1091.0 270.2 L1092.0 268.9 L1093.0 270.1 L1094.0 271.2 L1095.0 270.7 L1096.0 269.7 L1097.0 270.0 L1098.0 269.1 L1099.0 269.8 L1100.0 269.5 L1101.0 269.1 L1102.0 268.8 L1103.0 271.1 L1104.0 269.8 L1105.0 269.0 L1106.0 269.5 L1107.0 270.8 L1108.0 270.9 L1109.0 269.3 L1110.0 269.9 L1111.0 270.4 L1112.0 269.5 L1113.0 268.9 L1114.0 269.1 L1115.0 269.8 L1116.0 269.2 L1117.0 268.9 L1118.0 269.6 L1119.0 270.4 L1120.0 270.2 L1121.0 269.6 L1122.0 271.1 L1123.0 269.2 L1124.0 269.7 L1125.0 268.8 L1126.0 270.3 L1127.0 269.7 L1128.0 268.6 L1129.0 269.2 L1130.0 271.0 L1131.0 270.3 L1132.0 269.8 L1133.0 270.4 L1134.0 268.6 L1135.0 269.2 L1136.0 268.8 L1137.0 269.2 L1138.0 269.5 L1139.0 270.1 L1140.0 270.5 L1141.0 270.4 L1142.0 271.6 L1143.0 269.4 L1144.0 269.7 L1145.0 270.1 L1146.0 269.2 L1147.0 269.6 L1148.0 270.0 L1149.0 269.1 L1150.0 270.1 L1151.0 270.6 L1152.0 269.0 L1153.0 268.2 L1154.0 269.8 L1155.0 269.0 L1156.0 269.9 L1157.0 269.4 L1158.0 270.0 L1159.0 270.5 L1160.0 270.3 L1161.0 269.5 L1162.0 268.9 L1163.0 268.0 L1164.0 268.3 L1165.0 269.2 L1166.0 269.8 L1167.0 269.3 L1168.0 269.3 L1169.0 268.6 L1170.0 268.6 L1171.0 268.6 L1172.0 270.2 L1173.0 268.4 L1174.0 270.2 L1175.0 269.1 L1176.0 270.1 L1177.0 269.9 L1178.0 270.3 L1179.0 270.6 L1180.0 269.2 L1181.0 269.1 L1182.0 269.4 L1183.0 269.2 L1184.0 270.2 L1185.0 269.6 L1186.0 269.7 L1187.0 270.0 L1188.0 269.4 L1189.0 270.5 L1190.0 268.4 L1191.0 269.9 L1192.0 270.1 L1193.0 269.2 L1194.0 269.2 L1195.0 270.3 L1196.0 269.5 L1197.0 268.4 L1198.0 268.8 L1199.0 270.4 L1200.0 269.1 L1201.0 270.6 L1202.0 270.7 L1203.0 269.6 L1204.0 270.1 L1205.0 269.1 L1206.0 269.4 L1207.0 269.2 L1208.0 270.1 L1209.0 268.8 L1210.0 269.6 L1211.0 269.7 L1212.0 270.1 L1213.0 268.2 L1214.0 268.5 L1215.0 269.1 L1216.0 269.6 L1217.0 269.8 L1218.0 269.8 L1219.0 271.1 L1220.0 270.2 L1221.0 270.1 L1222.0 269.4 L1223.0 270.3 L1224.0 270.2 L1225.0 270.2 L1226.0 269.6 L1227.0 270.1 L1228.0 270.8 L1229.0 269.2 L1230.0 268.2 L1231.0 270.3 L1232.0 270.2 L1233.0 269.6 L1234.0 269.4 L1235.0 271.6 L1236.0 269.4 L1237.0 268.9 L1238.0 269.4 L1239.0 270.1 L1240.0 269.3 L1241.0 269.4 L1242.0 269.9 L1243.0 269.4 L1244.0 269.8 L1245.0 269.7 L1246.0 269.0 L1247.0 269.8 L1248.0 268.9 L1249.0 270.4 L1250.0 269.1 L1251.0 269.6 L1252.0 268.5 L1253.0 269.4 L1254.0 268.8 L1255.0 270.8 L1256.0 269.6 L1257.0 270.1 L1258.0 268.5 L1259.0 268.9 L1260.0 269.6 L1261.0 268.8 L1262.0 270.5 L1263.0 269.4 L1264.0 269.8 L1265.0 269.9 L1266.0 269.6 L1267.0 270.3 L1268.0 269.3 L1269.0 270.0 L1270.0 270.5 L1271.0 269.9 L1272.0 269.8 L1273.0 269.5 L1274.0 269.8 L1275.0 270.2 L1276.0 269.5 L1277.0 268.6 L1278.0 269.8" fill="none" stroke="#ff0000" stroke-width="2.2" stroke-linejoin="round"/>
<path d="M775.0 266.4 L776.0 267.5 L777.0 267.4 L778.0 268.5 L779.0 266.6 L780.0 266.8 L781.0 267.9 L782.0 266.8 L783.0 267.7 L784.0 267.5 L785.0 266.1 L786.0 267.9 L787.0 268.4 L788.0 267.6 L789.0 266.5 L790.0 268.0 L791.0 266.8 L792.0 267.4 L793.0 267.8 L794.0 267.0 L795.0 266.3 L796.0 267.4 L797.0 267.5 L798.0 266.9 L799.0 267.0 L800.0 268.0 L801.0 267.4 L802.0 267.2 L803.0 267.1 L804.0 267.6 L805.0 267.6 L806.0 267.4 L807.0 266.5 L808.0 267.2 L809.0 267.1 L810.0 267.5 L811.0 268.3 L812.0 268.1 L813.0 267.9 L814.0 267.6 L815.0 267.3 L816.0 267.7 L817.0 267.2 L818.0 267.3 L819.0 266.9 L820.0 267.5 L821.0 267.5 L822.0 268.8 L823.0 267.9 L824.0 267.2 L825.0 268.0 L826.0 267.2 L827.0 268.2 L828.0 268.0 L829.0 269.5 L830.0 266.8 L831.0 267.5 L832.0 267.4 L833.0 267.7 L834.0 268.0 L835.0 266.9 L836.0 267.0 L837.0 267.7 L838.0 268.2 L839.0 266.8 L840.0 266.5 L841.0 268.3 L842.0 268.1 L843.0 268.3 L844.0 266.9 L845.0 267.4 L846.0 267.7 L847.0 267.8 L848.0 267.4 L849.0 267.5 L850.0 268.2 L851.0 267.2 L852.0 267.2 L853.0 267.2 L854.0 267.2 L855.0 267.6 L856.0 267.4 L857.0 267.2 L858.0 268.5 L859.0 267.7 L860.0 267.3 L861.0 268.4 L862.0 267.2 L863.0 267.5 L864.0 267.5 L865.0 267.1 L866.0 267.3 L867.0 267.6 L868.0 266.6 L869.0 267.3 L870.0 267.7 L871.0 267.7 L872.0 267.7 L873.0 269.1 L874.0 268.0 L875.0 267.4 L876.0 267.5 L877.0 267.5 L878.0 267.8 L879.0 267.3 L880.0 268.6 L881.0 266.8 L882.0 268.0 L883.0 267.9 L884.0 266.8 L885.0 268.0 L886.0 267.9 L887.0 267.1 L888.0 269.1 L889.0 268.0 L890.0 267.3 L891.0 267.2 L892.0 267.1 L893.0 267.7 L894.0 267.6 L895.0 266.6 L896.0 266.9 L897.0 267.1 L898.0 267.3 L899.0 267.3 L900.0 267.1 L901.0 268.0 L902.0 268.2 L903.0 267.6 L904.0 266.1 L905.0 267.5 L906.0 267.9 L907.0 267.5 L908.0 267.7 L909.0 267.6 L910.0 266.6 L911.0 265.9 L912.0 268.0 L913.0 267.2 L914.0 267.8 L915.0 267.4 L916.0 267.5 L917.0 268.5 L918.0 266.8 L919.0 267.6 L920.0 266.8 L921.0 267.6 L922.0 267.9 L923.0 268.0 L924.0 267.7 L925.0 266.7 L926.0 267.7 L927.0 268.2 L928.0 268.2 L929.0 269.0 L930.0 267.9 L931.0 266.9 L932.0 267.2 L933.0 267.6 L934.0 268.3 L935.0 266.8 L936.0 268.2 L937.0 268.0 L938.0 267.0 L939.0 268.0 L940.0 267.1 L941.0 267.6 L942.0 267.4 L943.0 267.7 L944.0 266.8 L945.0 267.9 L946.0 266.1 L947.0 267.3 L948.0 267.2 L949.0 268.6 L950.0 267.9 L951.0 267.3 L952.0 267.0 L953.0 267.6 L954.0 267.2 L955.0 269.1 L956.0 265.7 L957.0 267.6 L958.0 266.0 L959.0 268.3 L960.0 267.1 L961.0 268.7 L962.0 267.2 L963.0 268.3 L964.0 267.7 L965.0 268.4 L966.0 267.6 L967.0 265.6 L968.0 267.1 L969.0 266.6 L970.0 268.2 L971.0 268.0 L972.0 267.6 L973.0 267.9 L974.0 267.7 L975.0 267.2 L976.0 268.9 L977.0 267.8 L978.0 267.5 L979.0 266.6 L980.0 267.2 L981.0 267.6 L982.0 267.5 L983.0 267.3 L984.0 267.6 L985.0 266.9 L986.0 267.6 L987.0 266.6 L988.0 267.0 L989.0 267.1 L990.0 268.2 L991.0 267.9 L992.0 267.7 L993.0 266.8 L994.0 267.3 L995.0 268.1 L996.0 268.4 L997.0 266.6 L998.0 267.3 L999.0 267.7 L1000.0 267.8 L1001.0 267.6 L1002.0 268.1 L1003.0 266.6 L1004.0 268.6 L1005.0 266.9 L1006.0 267.7 L1007.0 268.0 L1008.0 268.4 L1009.0 268.2 L1010.0 268.2 L1011.0 268.5 L1012.0 267.5 L1013.0 268.1 L1014.0 268.6 L1015.0 267.1 L1016.0 266.7 L1017.0 267.0 L1018.0 268.6 L1019.0 268.5 L1020.0 267.4 L1021.0 267.8 L1022.0 267.9 L1023.0 268.3 L1024.0 266.4 L1025.0 267.3 L1026.0 267.5 L1027.0 267.8 L1028.0 267.7 L1029.0 267.4 L1030.0 267.8 L1031.0 265.9 L1032.0 269.7 L1033.0 268.2 L1034.0 268.2 L1035.0 267.2 L1036.0 267.9 L1037.0 269.0 L1038.0 268.9 L1039.0 267.7 L1040.0 266.8 L1041.0 267.7 L1042.0 267.4 L1043.0 268.2 L1044.0 266.8 L1045.0 267.5 L1046.0 267.8 L1047.0 267.3 L1048.0 268.3 L1049.0 266.9 L1050.0 266.8 L1051.0 267.4 L1052.0 268.2 L1053.0 267.4 L1054.0 267.2 L1055.0 268.2 L1056.0 267.8 L1057.0 267.3 L1058.0 267.7 L1059.0 267.5 L1060.0 268.1 L1061.0 267.7 L1062.0 267.1 L1063.0 267.3 L1064.0 267.4 L1065.0 267.9 L1066.0 267.9 L1067.0 267.1 L1068.0 267.5 L1069.0 267.9 L1070.0 268.4 L1071.0 267.8 L1072.0 269.0 L1073.0 267.7 L1074.0 268.1 L1075.0 267.4 L1076.0 267.0 L1077.0 267.7 L1078.0 268.0 L1079.0 267.9 L1080.0 267.8 L1081.0 267.4 L1082.0 267.1 L1083.0 267.5 L1084.0 268.0 L1085.0 268.3 L1086.0 265.5 L1087.0 268.1 L1088.0 268.4 L1089.0 268.5 L1090.0 267.9 L1091.0 268.1 L1092.0 267.4 L1093.0 267.6 L1094.0 268.0 L1095.0 266.9 L1096.0 267.1 L1097.0 267.8 L1098.0 266.8 L1099.0 267.7 L1100.0 266.7 L1101.0 267.8 L1102.0 267.7 L1103.0 267.3 L1104.0 267.0 L1105.0 267.3 L1106.0 266.2 L1107.0 267.4 L1108.0 267.7 L1109.0 268.5 L1110.0 267.3 L1111.0 267.6 L1112.0 268.6 L1113.0 268.8 L1114.0 267.3 L1115.0 268.4 L1116.0 268.5 L1117.0 268.0 L1118.0 267.0 L1119.0 267.0 L1120.0 268.1 L1121.0 269.2 L1122.0 267.6 L1123.0 268.7 L1124.0 268.9 L1125.0 266.8 L1126.0 267.3 L1127.0 268.7 L1128.0 268.3 L1129.0 268.0 L1130.0 267.7 L1131.0 268.1 L1132.0 267.3 L1133.0 269.4 L1134.0 266.9 L1135.0 266.5 L1136.0 267.8 L1137.0 268.6 L1138.0 267.3 L1139.0 267.6 L1140.0 267.0 L1141.0 267.6 L1142.0 267.0 L1143.0 267.0 L1144.0 266.7 L1145.0 267.3 L1146.0 268.9 L1147.0 267.6 L1148.0 267.8 L1149.0 269.2 L1150.0 267.3 L1151.0 267.0 L1152.0 268.0 L1153.0 266.9 L1154.0 267.9 L1155.0 268.5 L1156.0 267.0 L1157.0 267.3 L1158.0 268.8 L1159.0 267.0 L1160.0 267.2 L1161.0 267.8 L1162.0 267.5 L1163.0 267.1 L1164.0 268.8 L1165.0 267.3 L1166.0 267.9 L1167.0 267.4 L1168.0 267.5 L1169.0 266.8 L1170.0 268.3 L1171.0 267.4 L1172.0 268.5 L1173.0 266.9 L1174.0 267.4 L1175.0 268.0 L1176.0 267.8 L1177.0 267.2 L1178.0 267.6 L1179.0 266.8 L1180.0 267.7 L1181.0 265.9 L1182.0 267.8 L1183.0 268.6 L1184.0 268.3 L1185.0 268.3 L1186.0 267.4 L1187.0 268.0 L1188.0 267.4 L1189.0 267.6 L1190.0 267.6 L1191.0 265.4 L1192.0 268.3 L1193.0 268.0 L1194.0 268.3 L1195.0 267.1 L1196.0 268.2 L1197.0 268.0 L1198.0 266.2 L1199.0 266.5 L1200.0 267.7 L1201.0 267.3 L1202.0 267.7 L1203.0 267.3 L1204.0 268.7 L1205.0 266.4 L1206.0 266.8 L1207.0 267.0 L1208.0 266.8 L1209.0 267.3 L1210.0 267.7 L1211.0 266.8 L1212.0 267.9 L1213.0 268.6 L1214.0 268.4 L1215.0 269.1 L1216.0 268.5 L1217.0 267.7 L1218.0 268.9 L1219.0 268.2 L1220.0 269.0 L1221.0 267.6 L1222.0 266.3 L1223.0 266.9 L1224.0 267.8 L1225.0 268.1 L1226.0 267.6 L1227.0 268.4 L1228.0 266.9 L1229.0 267.2 L1230.0 268.4 L1231.0 267.7 L1232.0 267.8 L1233.0 268.7 L1234.0 268.5 L1235.0 267.2 L1236.0 267.9 L1237.0 266.6 L1238.0 267.7 L1239.0 268.0 L1240.0 266.6 L1241.0 268.8 L1242.0 269.1 L1243.0 268.1 L1244.0 268.3 L1245.0 268.7 L1246.0 267.6 L1247.0 268.4 L1248.0 268.0 L1249.0 266.7 L1250.0 267.1 L1251.0 267.3 L1252.0 268.4 L1253.0 267.8 L1254.0 268.4 L1255.0 267.4 L1256.0 266.9 L1257.0 269.1 L1258.0 269.6 L1259.0 268.0 L1260.0 267.6 L1261.0 268.5 L1262.0 267.0 L1263.0 267.6 L1264.0 266.8 L1265.0 268.1 L1266.0 267.9 L1267.0 267.5 L1268.0 267.3 L1269.0 266.7 L1270.0 267.2 L1271.0 268.6 L1272.0 267.5 L1273.0 268.6 L1274.0 267.2 L1275.0 267.7 L1276.0 267.4 L1277.0 267.6 L1278.0 268.3" fill="none" stroke="#ff0000" stroke-width="2.2" stroke-linejoin="round"/>
<path d="M776.0 266.3 L777.5 267.2 L779.0 267.2 L780.5 266.6 L782.0 266.7 L783.5 266.4 L785.0 267.2 L786.5 266.7 L788.0 266.3 L789.5 266.7 L791.0 267.4 L792.5 266.9 L794.0 266.6 L795.5 266.8 L797.0 266.3 L798.5 266.3 L800.0 266.3 L801.5 266.4 L803.0 267.5 L804.5 266.3 L806.0 266.3 L807.5 267.4 L809.0 266.7 L810.5 266.7 L812.0 267.0 L813.5 267.2 L815.0 266.6 L816.5 266.3 L818.0 268.1 L819.5 266.7 L821.0 266.3 L822.5 266.8 L824.0 267.6 L825.5 266.3 L827.0 267.7 L828.5 266.5 L830.0 268.3 L831.5 267.2 L833.0 266.5 L834.5 267.7 L836.0 267.7 L837.5 266.3 L839.0 266.8 L840.5 266.3 L842.0 267.4 L843.5 266.3 L845.0 266.5 L846.5 266.3 L848.0 267.1 L849.5 266.3 L851.0 266.3 L852.5 266.8 L854.0 266.3 L855.5 266.3 L857.0 266.3 L858.5 266.3 L860.0 266.3 L861.5 266.9 L863.0 267.3 L864.5 267.3 L866.0 266.6 L867.5 267.7 L869.0 267.0 L870.5 267.4 L872.0 266.9 L873.5 266.6 L875.0 266.3 L876.5 266.3 L878.0 267.2 L879.5 266.5 L881.0 268.3 L882.5 266.3 L884.0 267.3 L885.5 266.3 L887.0 266.6 L888.5 266.3 L890.0 266.9 L891.5 266.6 L893.0 267.4 L894.5 266.7 L896.0 267.0 L897.5 267.7 L899.0 267.0 L900.5 266.5 L902.0 267.7 L903.5 266.5 L905.0 267.0 L906.5 266.3 L908.0 266.3 L909.5 266.3 L911.0 267.2 L912.5 266.3 L914.0 267.2 L915.5 268.2 L917.0 266.3 L918.5 267.4 L920.0 266.5 L921.5 267.0 L923.0 266.3 L924.5 266.6 L926.0 266.7 L927.5 267.8 L929.0 268.4 L930.5 266.9 L932.0 266.3 L933.5 268.5 L935.0 266.5 L936.5 266.6 L938.0 266.7 L939.5 267.0 L941.0 267.2 L942.5 266.3 L944.0 266.5 L945.5 268.2 L947.0 268.0 L948.5 267.0 L950.0 266.8 L951.5 266.4 L953.0 267.5 L954.5 266.3 L956.0 266.7 L957.5 266.3 L959.0 266.3 L960.5 266.6 L962.0 266.6 L963.5 266.3 L965.0 266.6 L966.5 266.7 L968.0 266.3 L969.5 266.3 L971.0 266.5 L972.5 267.2 L974.0 267.6 L975.5 266.8 L977.0 266.4 L978.5 266.6 L980.0 268.2 L981.5 267.4 L983.0 266.3 L984.5 266.6 L986.0 266.3 L987.5 266.3 L989.0 266.3 L990.5 266.6 L992.0 266.3 L993.5 266.3 L995.0 267.9 L996.5 267.5 L998.0 266.3 L999.5 266.3 L1001.0 266.3 L1002.5 266.3 L1004.0 266.3 L1005.5 266.4 L1007.0 266.3 L1008.5 267.3 L1010.0 266.6 L1011.5 266.3 L1013.0 268.1 L1014.5 267.2 L1016.0 266.7 L1017.5 268.2 L1019.0 267.7 L1020.5 266.3 L1022.0 266.9 L1023.5 266.3 L1025.0 266.3 L1026.5 268.2 L1028.0 267.9 L1029.5 266.3 L1031.0 267.0 L1032.5 266.3 L1034.0 267.5 L1035.5 266.6 L1037.0 266.4 L1038.5 267.7 L1040.0 266.6 L1041.5 266.4 L1043.0 267.4 L1044.5 266.4 L1046.0 267.4 L1047.5 266.6 L1049.0 267.3 L1050.5 267.2 L1052.0 267.3 L1053.5 266.3 L1055.0 268.2 L1056.5 266.5 L1058.0 268.1 L1059.5 266.3 L1061.0 266.4 L1062.5 266.4 L1064.0 267.6 L1065.5 266.3 L1067.0 267.0 L1068.5 266.3 L1070.0 266.3 L1071.5 266.8 L1073.0 266.5 L1074.5 266.3 L1076.0 267.0 L1077.5 266.3 L1079.0 268.3 L1080.5 266.5 L1082.0 268.6 L1083.5 267.2 L1085.0 267.0 L1086.5 266.3 L1088.0 266.5 L1089.5 267.0 L1091.0 266.3 L1092.5 267.5 L1094.0 266.3 L1095.5 266.4 L1097.0 266.3 L1098.5 267.0 L1100.0 267.3 L1101.5 266.9 L1103.0 266.9 L1104.5 266.3 L1106.0 266.7 L1107.5 267.7 L1109.0 266.3 L1110.5 267.1 L1112.0 267.2 L1113.5 266.4 L1115.0 266.8 L1116.5 266.8 L1118.0 266.3 L1119.5 268.7 L1121.0 266.3 L1122.5 268.1 L1124.0 267.5 L1125.5 266.3 L1127.0 266.8 L1128.5 267.5 L1130.0 267.3 L1131.5 266.3 L1133.0 266.8 L1134.5 266.3 L1136.0 266.3 L1137.5 266.4 L1139.0 266.8 L1140.5 268.0 L1142.0 266.9 L1143.5 267.5 L1145.0 266.3 L1146.5 266.3 L1148.0 266.3 L1149.5 268.1 L1151.0 266.3 L1152.5 266.3 L1154.0 266.5 L1155.5 267.7 L1157.0 266.3 L1158.5 266.4 L1160.0 266.3 L1161.5 267.9 L1163.0 267.2 L1164.5 266.9 L1166.0 266.6 L1167.5 266.4 L1169.0 266.7 L1170.5 266.3 L1172.0 266.3 L1173.5 266.3 L1175.0 266.6 L1176.5 266.3 L1178.0 267.4 L1179.5 266.3 L1181.0 267.1 L1182.5 267.1 L1184.0 267.7 L1185.5 266.4 L1187.0 266.3 L1188.5 266.3 L1190.0 267.6 L1191.5 266.3 L1193.0 266.3 L1194.5 266.3 L1196.0 266.6 L1197.5 266.4 L1199.0 266.3 L1200.5 266.3 L1202.0 267.5 L1203.5 267.9 L1205.0 266.5 L1206.5 266.3 L1208.0 267.8 L1209.5 266.5 L1211.0 266.3 L1212.5 266.5 L1214.0 267.2 L1215.5 268.0 L1217.0 266.3 L1218.5 267.1 L1220.0 266.3 L1221.5 267.6 L1223.0 266.8 L1224.5 266.8 L1226.0 266.3 L1227.5 266.3 L1229.0 266.3 L1230.5 266.3 L1232.0 267.4 L1233.5 266.6 L1235.0 266.4 L1236.5 266.3 L1238.0 266.6 L1239.5 266.8 L1241.0 266.3 L1242.5 266.7 L1244.0 266.7 L1245.5 266.6 L1247.0 266.3 L1248.5 266.5 L1250.0 266.3 L1251.5 266.9 L1253.0 267.8 L1254.5 267.4 L1256.0 266.3 L1257.5 266.3 L1259.0 266.3 L1260.5 266.9 L1262.0 266.3 L1263.5 266.3 L1265.0 266.3 L1266.5 266.3 L1268.0 266.3 L1269.5 266.3 L1271.0 267.7 L1272.5 266.3 L1274.0 266.3 L1275.5 267.1 L1277.0 266.3" fill="none" stroke="#ff0000" stroke-width="2.6" stroke-linejoin="round"/>
<path d="M776.0 268.2 L777.5 268.5 L779.0 268.3 L780.5 267.6 L782.0 269.1 L783.5 269.6 L785.0 267.4 L786.5 268.1 L788.0 269.1 L789.5 268.1 L791.0 267.4 L792.5 267.9 L794.0 269.0 L795.5 267.4 L797.0 268.5 L798.5 268.6 L800.0 267.7 L801.5 268.8 L803.0 268.9 L804.5 269.2 L806.0 269.1 L807.5 267.0 L809.0 269.1 L810.5 268.8 L812.0 269.2 L813.5 267.6 L815.0 269.1 L816.5 268.6 L818.0 267.3 L819.5 269.4 L821.0 267.6 L822.5 267.4 L824.0 268.7 L825.5 267.8 L827.0 268.6 L828.5 268.1 L830.0 268.6 L831.5 269.0 L833.0 268.3 L834.5 269.1 L836.0 269.0 L837.5 267.6 L839.0 269.1 L840.5 268.8 L842.0 268.4 L843.5 269.3 L845.0 269.8 L846.5 269.0 L848.0 267.0 L849.5 268.7 L851.0 268.2 L852.5 268.1 L854.0 268.6 L855.5 268.0 L857.0 269.7 L858.5 268.6 L860.0 268.3 L861.5 269.0 L863.0 269.0 L864.5 269.3 L866.0 268.9 L867.5 268.3 L869.0 268.4 L870.5 266.4 L872.0 267.0 L873.5 269.2 L875.0 268.0 L876.5 269.9 L878.0 269.9 L879.5 267.2 L881.0 268.6 L882.5 270.8 L884.0 267.6 L885.5 268.7 L887.0 268.1 L888.5 268.1 L890.0 268.1 L891.5 268.3 L893.0 269.0 L894.5 267.6 L896.0 268.8 L897.5 267.7 L899.0 268.8 L900.5 268.6 L902.0 267.6 L903.5 268.4 L905.0 267.7 L906.5 267.6 L908.0 269.3 L909.5 266.7 L911.0 268.8 L912.5 268.9 L914.0 267.8 L915.5 269.3 L917.0 269.1 L918.5 267.2 L920.0 268.8 L921.5 268.7 L923.0 267.7 L924.5 268.8 L926.0 269.0 L927.5 267.7 L929.0 266.6 L930.5 268.7 L932.0 267.7 L933.5 266.8 L935.0 268.0 L936.5 266.3 L938.0 268.0 L939.5 269.6 L941.0 266.3 L942.5 268.7 L944.0 267.5 L945.5 268.0 L947.0 267.5 L948.5 268.9 L950.0 268.3 L951.5 267.6 L953.0 267.2 L954.5 267.9 L956.0 269.3 L957.5 267.3 L959.0 268.7 L960.5 268.6 L962.0 266.6 L963.5 269.3 L965.0 268.3 L966.5 270.3 L968.0 269.8 L969.5 268.1 L971.0 268.2 L972.5 267.4 L974.0 267.1 L975.5 269.0 L977.0 268.1 L978.5 268.0 L980.0 268.2 L981.5 268.9 L983.0 269.1 L984.5 268.3 L986.0 268.1 L987.5 268.4 L989.0 270.1 L990.5 266.5 L992.0 267.3 L993.5 268.7 L995.0 268.4 L996.5 269.4 L998.0 269.5 L999.5 270.1 L1001.0 267.6 L1002.5 268.9 L1004.0 268.1 L1005.5 269.2 L1007.0 268.5 L1008.5 269.1 L1010.0 267.7 L1011.5 268.5 L1013.0 267.9 L1014.5 268.1 L1016.0 267.9 L1017.5 267.4 L1019.0 269.3 L1020.5 268.6 L1022.0 269.3 L1023.5 267.4 L1025.0 266.6 L1026.5 267.8 L1028.0 268.2 L1029.5 269.0 L1031.0 269.3 L1032.5 269.4 L1034.0 269.7 L1035.5 269.0 L1037.0 268.4 L1038.5 267.6 L1040.0 268.9 L1041.5 267.9 L1043.0 267.6 L1044.5 268.8 L1046.0 268.5 L1047.5 269.1 L1049.0 267.7 L1050.5 269.4 L1052.0 268.6 L1053.5 268.2 L1055.0 267.7 L1056.5 267.4 L1058.0 267.1 L1059.5 269.6 L1061.0 267.1 L1062.5 268.9 L1064.0 268.1 L1065.5 267.8 L1067.0 267.9 L1068.5 268.2 L1070.0 269.1 L1071.5 268.8 L1073.0 268.3 L1074.5 267.1 L1076.0 266.7 L1077.5 270.0 L1079.0 267.4 L1080.5 266.9 L1082.0 269.3 L1083.5 267.0 L1085.0 269.0 L1086.5 269.1 L1088.0 268.5 L1089.5 269.2 L1091.0 267.1 L1092.5 267.2 L1094.0 268.2 L1095.5 268.3 L1097.0 268.2 L1098.5 268.7 L1100.0 267.7 L1101.5 266.4 L1103.0 268.7 L1104.5 268.1 L1106.0 269.0 L1107.5 270.2 L1109.0 268.4 L1110.5 268.8 L1112.0 267.5 L1113.5 269.1 L1115.0 268.6 L1116.5 268.5 L1118.0 269.1 L1119.5 267.3 L1121.0 268.8 L1122.5 268.7 L1124.0 269.7 L1125.5 266.7 L1127.0 268.2 L1128.5 270.3 L1130.0 268.0 L1131.5 267.9 L1133.0 269.9 L1134.5 270.5 L1136.0 268.4 L1137.5 267.7 L1139.0 267.8 L1140.5 268.0 L1142.0 267.6 L1143.5 267.6 L1145.0 268.5 L1146.5 268.4 L1148.0 268.7 L1149.5 268.3 L1151.0 267.2 L1152.5 269.0 L1154.0 268.5 L1155.5 267.8 L1157.0 268.1 L1158.5 268.6 L1160.0 268.4 L1161.5 268.2 L1163.0 269.0 L1164.5 269.3 L1166.0 268.0 L1167.5 268.3 L1169.0 267.3 L1170.5 268.2 L1172.0 268.7 L1173.5 269.1 L1175.0 268.5 L1176.5 268.2 L1178.0 267.7 L1179.5 268.5 L1181.0 267.4 L1182.5 268.4 L1184.0 268.3 L1185.5 267.5 L1187.0 268.6 L1188.5 268.1 L1190.0 268.8 L1191.5 267.9 L1193.0 268.7 L1194.5 269.7 L1196.0 268.5 L1197.5 269.0 L1199.0 267.8 L1200.5 268.0 L1202.0 266.7 L1203.5 268.2 L1205.0 267.3 L1206.5 268.4 L1208.0 266.5 L1209.5 267.6 L1211.0 268.4 L1212.5 268.7 L1214.0 266.9 L1215.5 267.9 L1217.0 270.6 L1218.5 269.0 L1220.0 268.5 L1221.5 266.3 L1223.0 267.5 L1224.5 268.8 L1226.0 268.5 L1227.5 268.7 L1229.0 269.2 L1230.5 268.4 L1232.0 269.1 L1233.5 266.7 L1235.0 270.5 L1236.5 268.1 L1238.0 267.7 L1239.5 269.6 L1241.0 268.8 L1242.5 269.2 L1244.0 267.8 L1245.5 268.6 L1247.0 268.9 L1248.5 267.3 L1250.0 268.1 L1251.5 268.1 L1253.0 268.1 L1254.5 267.7 L1256.0 267.2 L1257.5 268.7 L1259.0 268.5 L1260.5 269.3 L1262.0 268.3 L1263.5 267.7 L1265.0 267.0 L1266.5 268.4 L1268.0 268.0 L1269.5 270.1 L1271.0 270.3 L1272.5 269.7 L1274.0 267.5 L1275.5 267.1 L1277.0 268.1" fill="none" stroke="#ff0000" stroke-width="2.6" stroke-linejoin="round"/>
<path d="M776.0 269.2 L777.5 271.3 L779.0 270.1 L780.5 269.7 L782.0 270.0 L783.5 271.1 L785.0 269.2 L786.5 270.4 L788.0 268.8 L789.5 269.8 L791.0 269.4 L792.5 270.3 L794.0 270.1 L795.5 271.1 L797.0 270.6 L798.5 269.5 L800.0 268.8 L801.5 269.3 L803.0 269.6 L804.5 269.8 L806.0 269.3 L807.5 271.0 L809.0 270.8 L810.5 269.8 L812.0 269.6 L813.5 269.8 L815.0 270.0 L816.5 270.0 L818.0 268.6 L819.5 269.6 L821.0 268.4 L822.5 270.0 L824.0 270.6 L825.5 269.1 L827.0 270.2 L828.5 269.5 L830.0 269.4 L831.5 271.7 L833.0 270.8 L834.5 270.4 L836.0 269.6 L837.5 270.4 L839.0 269.8 L840.5 270.4 L842.0 269.2 L843.5 269.9 L845.0 269.7 L846.5 268.8 L848.0 271.5 L849.5 270.7 L851.0 269.3 L852.5 268.7 L854.0 269.4 L855.5 269.3 L857.0 269.5 L858.5 268.7 L860.0 269.3 L861.5 270.1 L863.0 270.4 L864.5 268.3 L866.0 270.0 L867.5 269.1 L869.0 269.1 L870.5 269.7 L872.0 269.4 L873.5 270.6 L875.0 270.6 L876.5 269.7 L878.0 269.4 L879.5 271.6 L881.0 271.7 L882.5 270.3 L884.0 269.9 L885.5 270.9 L887.0 271.3 L888.5 269.5 L890.0 271.6 L891.5 269.9 L893.0 271.0 L894.5 269.5 L896.0 270.1 L897.5 269.6 L899.0 270.0 L900.5 270.9 L902.0 269.2 L903.5 269.7 L905.0 270.5 L906.5 269.6 L908.0 271.8 L909.5 268.7 L911.0 272.0 L912.5 269.4 L914.0 270.9 L915.5 271.4 L917.0 270.5 L918.5 268.8 L920.0 269.7 L921.5 270.1 L923.0 270.5 L924.5 270.9 L926.0 271.0 L927.5 271.3 L929.0 269.2 L930.5 270.9 L932.0 268.5 L933.5 270.1 L935.0 269.0 L936.5 268.4 L938.0 270.8 L939.5 270.0 L941.0 270.9 L942.5 268.6 L944.0 268.9 L945.5 269.9 L947.0 269.4 L948.5 270.1 L950.0 269.4 L951.5 269.7 L953.0 269.0 L954.5 271.1 L956.0 269.7 L957.5 268.9 L959.0 270.6 L960.5 270.4 L962.0 270.2 L963.5 270.2 L965.0 269.6 L966.5 269.9 L968.0 268.0 L969.5 268.6 L971.0 268.9 L972.5 270.3 L974.0 271.1 L975.5 269.9 L977.0 269.8 L978.5 271.0 L980.0 269.7 L981.5 270.6 L983.0 270.4 L984.5 268.8 L986.0 270.3 L987.5 270.2 L989.0 269.0 L990.5 269.1 L992.0 268.9 L993.5 271.2 L995.0 271.9 L996.5 270.6 L998.0 271.4 L999.5 268.8 L1001.0 271.3 L1002.5 271.8 L1004.0 271.4 L1005.5 269.2 L1007.0 271.0 L1008.5 269.9 L1010.0 271.0 L1011.5 269.4 L1013.0 270.0 L1014.5 269.5 L1016.0 270.4 L1017.5 269.9 L1019.0 271.0 L1020.5 270.7 L1022.0 270.4 L1023.5 270.0 L1025.0 269.7 L1026.5 270.0 L1028.0 270.7 L1029.5 270.1 L1031.0 270.3 L1032.5 270.0 L1034.0 269.9 L1035.5 269.4 L1037.0 268.3 L1038.5 270.5 L1040.0 270.5 L1041.5 269.1 L1043.0 271.7 L1044.5 269.0 L1046.0 270.9 L1047.5 270.2 L1049.0 270.3 L1050.5 271.0 L1052.0 270.8 L1053.5 270.0 L1055.0 269.1 L1056.5 268.9 L1058.0 270.2 L1059.5 271.4 L1061.0 270.8 L1062.5 270.0 L1064.0 270.3 L1065.5 270.6 L1067.0 271.5 L1068.5 269.3 L1070.0 270.7 L1071.5 270.3 L1073.0 269.3 L1074.5 269.1 L1076.0 271.1 L1077.5 270.3 L1079.0 269.8 L1080.5 270.1 L1082.0 270.9 L1083.5 270.1 L1085.0 271.4 L1086.5 269.8 L1088.0 269.3 L1089.5 269.9 L1091.0 269.2 L1092.5 269.7 L1094.0 271.1 L1095.5 271.5 L1097.0 270.6 L1098.5 270.2 L1100.0 269.2 L1101.5 269.1 L1103.0 270.3 L1104.5 270.2 L1106.0 269.5 L1107.5 269.6 L1109.0 271.4 L1110.5 270.9 L1112.0 270.1 L1113.5 270.2 L1115.0 271.2 L1116.5 270.3 L1118.0 270.2 L1119.5 268.6 L1121.0 268.5 L1122.5 268.3 L1124.0 268.0 L1125.5 270.0 L1127.0 270.3 L1128.5 269.2 L1130.0 270.4 L1131.5 270.4 L1133.0 269.9 L1134.5 268.7 L1136.0 271.3 L1137.5 271.2 L1139.0 269.5 L1140.5 271.7 L1142.0 270.0 L1143.5 269.3 L1145.0 269.6 L1146.5 268.3 L1148.0 269.7 L1149.5 268.6 L1151.0 271.0 L1152.5 270.3 L1154.0 268.8 L1155.5 270.5 L1157.0 268.5 L1158.5 270.1 L1160.0 270.4 L1161.5 270.1 L1163.0 269.0 L1164.5 269.9 L1166.0 269.8 L1167.5 270.1 L1169.0 271.3 L1170.5 271.5 L1172.0 271.4 L1173.5 269.4 L1175.0 269.3 L1176.5 270.0 L1178.0 270.4 L1179.5 268.2 L1181.0 269.5 L1182.5 271.6 L1184.0 268.9 L1185.5 269.3 L1187.0 269.4 L1188.5 270.4 L1190.0 269.9 L1191.5 269.7 L1193.0 268.6 L1194.5 270.6 L1196.0 270.0 L1197.5 269.4 L1199.0 270.0 L1200.5 270.7 L1202.0 268.7 L1203.5 268.6 L1205.0 269.1 L1206.5 269.2 L1208.0 267.3 L1209.5 269.5 L1211.0 271.0 L1212.5 269.7 L1214.0 270.9 L1215.5 267.4 L1217.0 269.9 L1218.5 271.3 L1220.0 271.4 L1221.5 269.6 L1223.0 269.3 L1224.5 270.3 L1226.0 268.9 L1227.5 269.7 L1229.0 268.5 L1230.5 270.1 L1232.0 270.0 L1233.5 271.5 L1235.0 270.3 L1236.5 269.4 L1238.0 269.9 L1239.5 268.8 L1241.0 270.0 L1242.5 269.8 L1244.0 270.4 L1245.5 270.8 L1247.0 268.2 L1248.5 270.3 L1250.0 270.7 L1251.5 268.9 L1253.0 271.7 L1254.5 269.4 L1256.0 272.0 L1257.5 270.7 L1259.0 270.9 L1260.5 270.2 L1262.0 270.9 L1263.5 269.1 L1265.0 269.3 L1266.5 268.2 L1268.0 270.5 L1269.5 269.4 L1271.0 270.7 L1272.5 270.5 L1274.0 268.8 L1275.5 270.6 L1277.0 270.2" fill="none" stroke="#ff0000" stroke-width="2.6" stroke-linejoin="round"/>
<path d="M776.0 271.9 L777.5 272.0 L779.0 271.7 L780.5 271.7 L782.0 272.0 L783.5 270.8 L785.0 270.6 L786.5 271.0 L788.0 272.0 L789.5 271.4 L791.0 272.0 L792.5 268.9 L794.0 271.1 L795.5 271.3 L797.0 271.9 L798.5 272.0 L800.0 271.5 L801.5 270.8 L803.0 272.0 L804.5 272.0 L806.0 269.4 L807.5 272.0 L809.0 272.0 L810.5 270.9 L812.0 271.3 L813.5 272.0 L815.0 271.7 L816.5 271.5 L818.0 270.6 L819.5 272.0 L821.0 271.1 L822.5 271.8 L824.0 271.2 L825.5 271.9 L827.0 272.0 L828.5 271.9 L830.0 272.0 L831.5 270.4 L833.0 272.0 L834.5 272.0 L836.0 271.1 L837.5 271.6 L839.0 269.2 L840.5 271.8 L842.0 271.3 L843.5 269.7 L845.0 272.0 L846.5 271.1 L848.0 271.9 L849.5 271.5 L851.0 272.0 L852.5 271.8 L854.0 271.4 L855.5 272.0 L857.0 272.0 L858.5 269.7 L860.0 271.7 L861.5 271.2 L863.0 270.7 L864.5 272.0 L866.0 272.0 L867.5 270.8 L869.0 270.7 L870.5 272.0 L872.0 271.1 L873.5 271.4 L875.0 269.9 L876.5 271.6 L878.0 272.0 L879.5 271.3 L881.0 271.6 L882.5 272.0 L884.0 272.0 L885.5 272.0 L887.0 272.0 L888.5 272.0 L890.0 270.2 L891.5 271.0 L893.0 270.2 L894.5 272.0 L896.0 271.9 L897.5 271.6 L899.0 271.0 L900.5 270.8 L902.0 269.2 L903.5 272.0 L905.0 271.6 L906.5 271.7 L908.0 270.4 L909.5 271.6 L911.0 272.0 L912.5 271.6 L914.0 272.0 L915.5 270.9 L917.0 272.0 L918.5 272.0 L920.0 272.0 L921.5 272.0 L923.0 271.6 L924.5 270.8 L926.0 272.0 L927.5 271.3 L929.0 270.8 L930.5 272.0 L932.0 270.2 L933.5 271.2 L935.0 272.0 L936.5 272.0 L938.0 271.4 L939.5 271.8 L941.0 272.0 L942.5 271.6 L944.0 271.0 L945.5 272.0 L947.0 271.8 L948.5 271.8 L950.0 272.0 L951.5 272.0 L953.0 271.3 L954.5 271.8 L956.0 272.0 L957.5 271.0 L959.0 271.5 L960.5 271.0 L962.0 272.0 L963.5 270.6 L965.0 272.0 L966.5 272.0 L968.0 271.0 L969.5 270.9 L971.0 270.4 L972.5 271.7 L974.0 270.7 L975.5 271.1 L977.0 271.3 L978.5 271.1 L980.0 272.0 L981.5 272.0 L983.0 269.8 L984.5 271.0 L986.0 271.9 L987.5 270.7 L989.0 271.2 L990.5 271.9 L992.0 272.0 L993.5 272.0 L995.0 271.4 L996.5 271.8 L998.0 271.4 L999.5 271.5 L1001.0 270.6 L1002.5 270.1 L1004.0 271.4 L1005.5 272.0 L1007.0 272.0 L1008.5 270.0 L1010.0 271.5 L1011.5 271.1 L1013.0 272.0 L1014.5 270.7 L1016.0 272.0 L1017.5 271.5 L1019.0 272.0 L1020.5 272.0 L1022.0 269.9 L1023.5 271.5 L1025.0 272.0 L1026.5 271.7 L1028.0 272.0 L1029.5 272.0 L1031.0 271.2 L1032.5 271.9 L1034.0 272.0 L1035.5 272.0 L1037.0 272.0 L1038.5 270.7 L1040.0 272.0 L1041.5 270.5 L1043.0 271.6 L1044.5 271.5 L1046.0 272.0 L1047.5 272.0 L1049.0 272.0 L1050.5 271.1 L1052.0 272.0 L1053.5 272.0 L1055.0 271.7 L1056.5 270.6 L1058.0 272.0 L1059.5 272.0 L1061.0 272.0 L1062.5 271.7 L1064.0 271.5 L1065.5 272.0 L1067.0 272.0 L1068.5 272.0 L1070.0 272.0 L1071.5 271.1 L1073.0 272.0 L1074.5 269.0 L1076.0 272.0 L1077.5 271.0 L1079.0 272.0 L1080.5 270.9 L1082.0 272.0 L1083.5 270.8 L1085.0 270.7 L1086.5 272.0 L1088.0 272.0 L1089.5 271.1 L1091.0 272.0 L1092.5 271.4 L1094.0 272.0 L1095.5 270.8 L1097.0 270.8 L1098.5 271.8 L1100.0 270.8 L1101.5 272.0 L1103.0 269.8 L1104.5 271.9 L1106.0 271.2 L1107.5 270.8 L1109.0 271.9 L1110.5 271.5 L1112.0 271.3 L1113.5 272.0 L1115.0 272.0 L1116.5 272.0 L1118.0 272.0 L1119.5 271.6 L1121.0 272.0 L1122.5 271.3 L1124.0 272.0 L1125.5 272.0 L1127.0 271.2 L1128.5 270.3 L1130.0 270.5 L1131.5 270.9 L1133.0 272.0 L1134.5 271.6 L1136.0 271.4 L1137.5 272.0 L1139.0 272.0 L1140.5 272.0 L1142.0 271.2 L1143.5 272.0 L1145.0 272.0 L1146.5 270.8 L1148.0 271.8 L1149.5 270.9 L1151.0 271.5 L1152.5 272.0 L1154.0 270.2 L1155.5 270.9 L1157.0 271.0 L1158.5 271.8 L1160.0 271.0 L1161.5 272.0 L1163.0 270.9 L1164.5 271.2 L1166.0 272.0 L1167.5 272.0 L1169.0 271.8 L1170.5 271.7 L1172.0 272.0 L1173.5 272.0 L1175.0 271.4 L1176.5 271.0 L1178.0 270.8 L1179.5 272.0 L1181.0 270.9 L1182.5 270.5 L1184.0 271.9 L1185.5 272.0 L1187.0 270.6 L1188.5 271.6 L1190.0 270.4 L1191.5 271.1 L1193.0 272.0 L1194.5 271.8 L1196.0 271.5 L1197.5 271.8 L1199.0 272.0 L1200.5 271.6 L1202.0 270.6 L1203.5 270.6 L1205.0 272.0 L1206.5 271.0 L1208.0 272.0 L1209.5 271.1 L1211.0 272.0 L1212.5 272.0 L1214.0 271.5 L1215.5 272.0 L1217.0 270.9 L1218.5 271.5 L1220.0 270.9 L1221.5 271.0 L1223.0 271.4 L1224.5 270.8 L1226.0 271.4 L1227.5 272.0 L1229.0 270.1 L1230.5 270.6 L1232.0 270.8 L1233.5 271.3 L1235.0 272.0 L1236.5 272.0 L1238.0 272.0 L1239.5 271.9 L1241.0 272.0 L1242.5 270.7 L1244.0 270.7 L1245.5 271.7 L1247.0 271.9 L1248.5 271.5 L1250.0 270.9 L1251.5 270.5 L1253.0 271.5 L1254.5 271.1 L1256.0 271.3 L1257.5 270.7 L1259.0 272.0 L1260.5 272.0 L1262.0 272.0 L1263.5 271.2 L1265.0 271.8 L1266.5 271.5 L1268.0 271.7 L1269.5 271.5 L1271.0 271.6 L1272.5 269.9 L1274.0 271.5 L1275.5 272.0 L1277.0 270.0" fill="none" stroke="#ff0000" stroke-width="2.6" stroke-linejoin="round"/>
<rect x="1277" y="266" width="6" height="226.2" fill="#ff0000"/>
<path d="M1277 266 L1283.5 266 L1284 280 L1284.0 280.0 L1284.4 279.5 L1284.8 278.8 L1285.4 277.9 L1286.0 277.0 L1286.7 276.0 L1287.4 275.1 L1288.2 274.2 L1289.0 273.5 L1289.8 272.9 L1290.7 272.4 L1291.6 271.9 L1292.5 271.4 L1293.5 271.0 L1294.6 270.7 L1295.7 270.3 L1297.0 270.0 L1298.3 269.7 L1299.6 269.5 L1300.9 269.3 L1302.3 269.1 L1303.9 269.0 L1305.7 268.8 L1307.7 268.7 L1310.0 268.6 L1312.9 268.5 L1316.4 268.4 L1320.2 268.4 L1324.2 268.4 L1328.1 268.3 L1331.7 268.3 L1334.6 268.3 L1336.8 268.3 L1336.8 268.3 L1336.8 276.6 L1335.2 276.7 L1333.2 276.9 L1330.7 277.1 L1327.9 277.3 L1325.0 277.5 L1322.1 277.8 L1319.4 278.1 L1317.0 278.5 L1314.7 278.9 L1312.5 279.4 L1310.3 279.9 L1308.1 280.5 L1306.1 281.0 L1304.2 281.6 L1302.5 282.2 L1301.0 282.8 L1299.8 283.3 L1298.8 283.8 L1298.1 284.2 L1297.5 284.7 L1296.9 285.2 L1296.4 285.8 L1296.0 286.6 L1295.4 287.6 L1294.8 288.7 L1294.3 289.8 L1293.7 291.0 L1293.2 292.3 L1292.7 293.9 L1292.2 295.7 L1291.8 297.9 L1291.4 300.5 L1291.0 303.5 L1290.7 306.8 L1290.4 310.5 L1290.2 314.4 L1289.9 318.6 L1289.6 323.1 L1289.3 327.8 L1289.0 332.7 L1288.6 337.9 L1288.2 343.3 L1287.8 348.9 L1287.4 354.8 L1287.0 361.0 L1286.6 367.4 L1286.2 374.1 L1285.8 381.0 L1285.4 388.4 L1285.1 396.4 L1284.7 404.8 L1284.4 413.4 L1284.0 421.9 L1283.8 430.3 L1283.5 438.2 L1283.3 445.5 L1283.2 452.5 L1283.1 459.5 L1283.0 466.3 L1283.0 472.8 L1283.0 478.8 L1283.0 484.1 L1283.0 488.5 L1283.0 492.0 L1277 492 Z" fill="#ff0000"/>
<path d="M1289.5 285.0 L1289.3 286.0 L1289.1 287.0 L1289.0 288.0 L1288.8 289.0 L1288.6 290.0 L1288.5 291.0 L1288.3 292.0 L1288.2 293.0 L1288.0 294.0 L1287.9 295.0 L1287.7 296.0 L1287.6 297.0 L1287.4 298.0 L1287.3 299.0 L1287.2 300.0 L1287.0 301.0 L1286.9 302.0 L1286.8 303.0 L1286.7 304.0 L1286.5 305.0 L1286.4 306.0 L1286.3 307.0 L1286.2 308.0 L1286.1 309.0 L1286.0 310.0 L1285.9 311.0 L1285.7 312.0 L1285.6 313.0 L1285.5 314.0 L1285.4 315.0 L1285.3 316.0 L1285.2 317.0 L1285.2 318.0 L1285.1 319.0 L1285.0 320.0 L1284.9 321.0 L1284.8 322.0 L1284.7 323.0 L1284.6 324.0 L1284.5 325.0 L1284.5 326.0 L1284.4 327.0 L1284.3 328.0 L1284.2 329.0 L1284.2 330.0 L1284.1 331.0 L1284.0 332.0 L1283.9 333.0 L1283.9 334.0 L1283.8 335.0 L1283.7 336.0 L1283.7 337.0 L1283.6 338.0 L1283.6 339.0 L1283.5 340.0 L1283.4 341.0 L1283.4 342.0 L1283.3 343.0 L1283.3 344.0 L1283.2 345.0 L1283.2 346.0 L1283.1 347.0 L1283.1 348.0 L1283.0 349.0 L1283.0 350.0 L1282.9 351.0 L1282.9 352.0 L1282.8 353.0 L1282.8 354.0 L1282.7 355.0 L1282.7 356.0 L1282.6 357.0 L1282.6 358.0 L1282.5 359.0 L1282.5 360.0 L1282.5 361.0 L1282.4 362.0 L1282.4 363.0 L1282.4 364.0 L1282.3 365.0 L1282.3 366.0 L1282.2 367.0 L1282.2 368.0 L1282.2 369.0 L1282.1 370.0 L1282.1 371.0 L1282.1 372.0 L1282.0 373.0 L1282.0 374.0 L1282.0 375.0 L1282.0 376.0 L1281.9 377.0 L1281.9 378.0 L1281.9 379.0 L1281.8 380.0 L1281.8 381.0 L1281.8 382.0 L1281.8 383.0 L1281.7 384.0 L1281.7 385.0 L1281.7 386.0 L1281.7 387.0 L1281.6 388.0 L1281.6 389.0 L1281.6 390.0 L1281.6 391.0 L1281.6 392.0 L1281.5 393.0 L1281.5 394.0 L1281.5 395.0 L1281.5 396.0 L1281.5 397.0 L1281.4 398.0 L1281.4 399.0 L1281.4 400.0 L1281.4 401.0 L1281.4 402.0 L1281.3 403.0 L1281.3 404.0 L1281.3 405.0 L1281.3 406.0 L1281.3 407.0 L1281.3 408.0 L1281.3 409.0 L1281.2 410.0 L1281.2 411.0 L1281.2 412.0 L1281.2 413.0 L1281.2 414.0 L1281.2 415.0 L1281.2 416.0 L1281.1 417.0 L1281.1 418.0 L1281.1 419.0 L1281.1 420.0 L1281.1 421.0 L1281.1 422.0 L1281.1 423.0 L1281.1 424.0 L1281.0 425.0 L1281.0 426.0 L1281.0 427.0 L1281.0 428.0 L1281.0 429.0 L1281.0 430.0 L1281.0 431.0 L1281.0 432.0 L1281.0 433.0 L1281.0 434.0" fill="none" stroke="#fff" stroke-width="0.6" stroke-linejoin="round"/>
<path d="M1291.0 285.0 L1290.8 286.0 L1290.6 287.0 L1290.3 288.0 L1290.1 289.0 L1289.9 290.0 L1289.7 291.0 L1289.6 292.0 L1289.4 293.0 L1289.2 294.0 L1289.0 295.0 L1288.8 296.0 L1288.7 297.0 L1288.5 298.0 L1288.3 299.0 L1288.2 300.0 L1288.0 301.0 L1287.9 302.0 L1287.7 303.0 L1287.6 304.0 L1287.5 305.0 L1287.3 306.0 L1287.2 307.0 L1287.1 308.0 L1286.9 309.0 L1286.8 310.0 L1286.7 311.0 L1286.6 312.0 L1286.5 313.0 L1286.4 314.0 L1286.3 315.0 L1286.1 316.0 L1286.0 317.0 L1285.9 318.0 L1285.8 319.0 L1285.8 320.0 L1285.7 321.0 L1285.6 322.0 L1285.5 323.0 L1285.4 324.0 L1285.3 325.0 L1285.2 326.0 L1285.1 327.0 L1285.1 328.0 L1285.0 329.0 L1284.9 330.0 L1284.8 331.0 L1284.8 332.0 L1284.7 333.0 L1284.6 334.0 L1284.6 335.0 L1284.5 336.0 L1284.5 337.0 L1284.4 338.0 L1284.3 339.0 L1284.3 340.0 L1284.2 341.0 L1284.2 342.0 L1284.1 343.0 L1284.1 344.0 L1284.0 345.0 L1284.0 346.0 L1283.9 347.0 L1283.9 348.0 L1283.8 349.0 L1283.8 350.0 L1283.7 351.0 L1283.7 352.0 L1283.6 353.0 L1283.6 354.0 L1283.6 355.0 L1283.5 356.0 L1283.5 357.0 L1283.5 358.0 L1283.4 359.0 L1283.4 360.0 L1283.3 361.0 L1283.3 362.0 L1283.3 363.0 L1283.2 364.0 L1283.2 365.0 L1283.2 366.0 L1283.2 367.0 L1283.1 368.0 L1283.1 369.0 L1283.1 370.0 L1283.0 371.0 L1283.0 372.0 L1283.0 373.0 L1283.0 374.0 L1282.9 375.0 L1282.9 376.0 L1282.9 377.0 L1282.9 378.0 L1282.9 379.0 L1282.8 380.0 L1282.8 381.0 L1282.8 382.0 L1282.8 383.0 L1282.8 384.0 L1282.7 385.0 L1282.7 386.0 L1282.7 387.0 L1282.7 388.0 L1282.7 389.0 L1282.7 390.0 L1282.6 391.0 L1282.6 392.0 L1282.6 393.0 L1282.6 394.0 L1282.6 395.0 L1282.6 396.0 L1282.5 397.0 L1282.5 398.0 L1282.5 399.0 L1282.5 400.0 L1282.5 401.0 L1282.5 402.0 L1282.5 403.0 L1282.5 404.0" fill="none" stroke="#fff" stroke-width="0.6" stroke-linejoin="round"/>
<path d="M1292.5 285.0 L1292.2 286.0 L1291.9 287.0 L1291.6 288.0 L1291.4 289.0 L1291.1 290.0 L1290.9 291.0 L1290.6 292.0 L1290.4 293.0 L1290.2 294.0 L1289.9 295.0 L1289.7 296.0 L1289.5 297.0 L1289.3 298.0 L1289.1 299.0 L1289.0 300.0 L1288.8 301.0 L1288.6 302.0 L1288.4 303.0 L1288.3 304.0 L1288.1 305.0 L1288.0 306.0 L1287.8 307.0 L1287.7 308.0 L1287.5 309.0 L1287.4 310.0 L1287.3 311.0 L1287.2 312.0 L1287.0 313.0 L1286.9 314.0 L1286.8 315.0 L1286.7 316.0 L1286.6 317.0 L1286.5 318.0 L1286.4 319.0 L1286.3 320.0 L1286.2 321.0 L1286.1 322.0 L1286.0 323.0 L1286.0 324.0 L1285.9 325.0 L1285.8 326.0 L1285.7 327.0 L1285.6 328.0 L1285.6 329.0 L1285.5 330.0 L1285.4 331.0 L1285.4 332.0 L1285.3 333.0 L1285.3 334.0 L1285.2 335.0 L1285.1 336.0 L1285.1 337.0 L1285.0 338.0 L1285.0 339.0 L1284.9 340.0 L1284.9 341.0 L1284.8 342.0 L1284.8 343.0 L1284.8 344.0 L1284.7 345.0 L1284.7 346.0 L1284.6 347.0 L1284.6 348.0 L1284.6 349.0 L1284.5 350.0 L1284.5 351.0 L1284.5 352.0 L1284.4 353.0 L1284.4 354.0 L1284.4 355.0 L1284.3 356.0 L1284.3 357.0 L1284.3 358.0 L1284.3 359.0 L1284.2 360.0 L1284.2 361.0 L1284.2 362.0 L1284.2 363.0 L1284.1 364.0 L1284.1 365.0 L1284.1 366.0 L1284.1 367.0 L1284.1 368.0 L1284.0 369.0 L1284.0 370.0 L1284.0 371.0 L1284.0 372.0 L1284.0 373.0 L1284.0 374.0" fill="none" stroke="#fff" stroke-width="0.6" stroke-linejoin="round"/>
<path d="M437.3 445.2 L437.3 380.4 L524.6 380.4" fill="none" stroke="#000" stroke-width="2.5"/>
<path d="M1141.5 445.2 L1141.5 380.5 L1230.4 380.5" fill="none" stroke="#000" stroke-width="2.5"/>
<text transform="matrix(0.2845,0.0000,0.0000,0.3037,443.7470,366.5034)" font-size="100" font-weight="normal" font-style="normal" fill="#000">40 ms</text>
<text transform="matrix(0.2868,0.0000,0.0000,0.3037,1146.7419,366.5034)" font-size="100" font-weight="normal" font-style="normal" fill="#000">40 ms</text>
<text transform="matrix(0.0000,-0.2856,0.2886,0.0000,417.6113,453.3879)" font-size="100" font-weight="normal" font-style="normal" fill="#000">3 pA/pF</text>
<text transform="matrix(0.0000,-0.2842,0.2875,0.0000,1122.9335,455.1823)" font-size="100" font-weight="normal" font-style="normal" fill="#000">3 pA/pF</text>
<line x1="305.00" y1="553.07" x2="305.00" y2="1088.97" stroke="#000" stroke-width="2.8" stroke-linecap="butt"/>
<line x1="293.50" y1="554.47" x2="305.00" y2="554.47" stroke="#000" stroke-width="2.8" stroke-linecap="butt"/>
<line x1="283.50" y1="607.78" x2="305.00" y2="607.78" stroke="#000" stroke-width="2.8" stroke-linecap="butt"/>
<line x1="293.50" y1="661.09" x2="305.00" y2="661.09" stroke="#000" stroke-width="2.8" stroke-linecap="butt"/>
<line x1="293.50" y1="767.71" x2="305.00" y2="767.71" stroke="#000" stroke-width="2.8" stroke-linecap="butt"/>
<line x1="283.50" y1="821.02" x2="305.00" y2="821.02" stroke="#000" stroke-width="2.8" stroke-linecap="butt"/>
<line x1="293.50" y1="874.33" x2="305.00" y2="874.33" stroke="#000" stroke-width="2.8" stroke-linecap="butt"/>
<line x1="283.50" y1="927.64" x2="305.00" y2="927.64" stroke="#000" stroke-width="2.8" stroke-linecap="butt"/>
<line x1="293.50" y1="980.95" x2="305.00" y2="980.95" stroke="#000" stroke-width="2.8" stroke-linecap="butt"/>
<line x1="283.50" y1="1034.26" x2="305.00" y2="1034.26" stroke="#000" stroke-width="2.8" stroke-linecap="butt"/>
<line x1="293.50" y1="1087.57" x2="305.00" y2="1087.57" stroke="#000" stroke-width="2.8" stroke-linecap="butt"/>
<text transform="matrix(1,0,0,1.070,273.00,620.30)" font-size="34" text-anchor="end" fill="#000">2</text>
<text transform="matrix(1,0,0,1.070,273.00,833.54)" font-size="34" text-anchor="end" fill="#000">-2</text>
<text transform="matrix(1,0,0,1.070,273.00,940.16)" font-size="34" text-anchor="end" fill="#000">-4</text>
<text transform="matrix(1,0,0,1.070,273.00,1046.78)" font-size="34" text-anchor="end" fill="#000">-6</text>
<line x1="99.00" y1="714.40" x2="635.20" y2="714.40" stroke="#000" stroke-width="2.8" stroke-linecap="butt"/>
<line x1="140.60" y1="714.40" x2="140.60" y2="735.40" stroke="#000" stroke-width="2.8" stroke-linecap="butt"/>
<line x1="222.80" y1="714.40" x2="222.80" y2="725.90" stroke="#000" stroke-width="2.8" stroke-linecap="butt"/>
<line x1="387.20" y1="714.40" x2="387.20" y2="725.90" stroke="#000" stroke-width="2.8" stroke-linecap="butt"/>
<line x1="469.40" y1="714.40" x2="469.40" y2="735.40" stroke="#000" stroke-width="2.8" stroke-linecap="butt"/>
<line x1="551.60" y1="714.40" x2="551.60" y2="725.90" stroke="#000" stroke-width="2.8" stroke-linecap="butt"/>
<line x1="633.80" y1="714.40" x2="633.80" y2="735.40" stroke="#000" stroke-width="2.8" stroke-linecap="butt"/>
<text transform="matrix(1,0,0,1.070,140.60,778.79)" font-size="34" text-anchor="middle" fill="#000">-40</text>
<text transform="matrix(1,0,0,1.070,469.40,778.79)" font-size="34" text-anchor="middle" fill="#000">40</text>
<text transform="matrix(1,0,0,1.070,633.80,778.79)" font-size="34" text-anchor="middle" fill="#000">80</text>
<circle cx="99.50" cy="714.40" r="12.70" fill="#000"/>
<circle cx="140.60" cy="717.60" r="12.70" fill="#000"/>
<circle cx="181.70" cy="736.26" r="12.70" fill="#000"/>
<path d="M222.8 792.0 L222.8 848.0 M214.3 792.0 L231.3 792.0 M214.3 848.0 L231.3 848.0" stroke="#000" stroke-width="2.6" fill="none"/>
<circle cx="222.80" cy="819.95" r="12.70" fill="#000"/>
<path d="M263.9 910.0 L263.9 990.0 M255.4 910.0 L272.4 910.0 M255.4 990.0 L272.4 990.0" stroke="#000" stroke-width="2.6" fill="none"/>
<circle cx="263.90" cy="950.03" r="12.70" fill="#000"/>
<path d="M305.0 975.7 L305.0 1057.7 M296.5 975.7 L313.5 975.7 M296.5 1057.7 L313.5 1057.7" stroke="#000" stroke-width="2.6" fill="none"/>
<circle cx="305.00" cy="1016.67" r="12.70" fill="#000"/>
<path d="M346.1 965.8 L346.1 1039.8 M337.6 965.8 L354.6 965.8 M337.6 1039.8 L354.6 1039.8" stroke="#000" stroke-width="2.6" fill="none"/>
<circle cx="346.10" cy="1002.81" r="12.70" fill="#000"/>
<path d="M387.2 915.8 L387.2 976.8 M378.7 915.8 L395.7 915.8 M378.7 976.8 L395.7 976.8" stroke="#000" stroke-width="2.6" fill="none"/>
<circle cx="387.20" cy="946.30" r="12.70" fill="#000"/>
<path d="M428.3 853.0 L428.3 901.0 M419.8 853.0 L436.8 853.0 M419.8 901.0 L436.8 901.0" stroke="#000" stroke-width="2.6" fill="none"/>
<circle cx="428.30" cy="877.00" r="12.70" fill="#000"/>
<path d="M469.4 791.7 L469.4 823.7 M460.9 791.7 L477.9 791.7 M460.9 823.7 L477.9 823.7" stroke="#000" stroke-width="2.6" fill="none"/>
<circle cx="469.40" cy="807.69" r="12.70" fill="#000"/>
<path d="M510.5 729.7 L510.5 755.7 M502.0 729.7 L519.0 729.7 M502.0 755.7 L519.0 755.7" stroke="#000" stroke-width="2.6" fill="none"/>
<circle cx="510.50" cy="742.65" r="12.70" fill="#000"/>
<path d="M551.6 655.5 L551.6 679.5 M543.1 655.5 L560.1 655.5 M543.1 679.5 L560.1 679.5" stroke="#000" stroke-width="2.6" fill="none"/>
<circle cx="551.60" cy="667.49" r="12.70" fill="#000"/>
<path d="M592.7 569.8 L592.7 596.8 M584.2 569.8 L601.2 569.8 M584.2 596.8 L601.2 596.8" stroke="#000" stroke-width="2.6" fill="none"/>
<circle cx="592.70" cy="583.26" r="12.70" fill="#000"/>
<circle cx="99.50" cy="714.40" r="12.70" fill="#ff0000"/>
<circle cx="140.60" cy="709.07" r="12.70" fill="#ff0000"/>
<circle cx="181.70" cy="716.00" r="12.70" fill="#ff0000"/>
<path d="M222.8 731.2 L222.8 739.2 M214.3 731.2 L231.3 731.2 M214.3 739.2 L231.3 739.2" stroke="#ff0000" stroke-width="2.6" fill="none"/>
<circle cx="222.80" cy="735.19" r="12.70" fill="#ff0000"/>
<path d="M263.9 783.6 L263.9 811.6 M255.4 783.6 L272.4 783.6 M255.4 811.6 L272.4 811.6" stroke="#ff0000" stroke-width="2.6" fill="none"/>
<circle cx="263.90" cy="797.56" r="12.70" fill="#ff0000"/>
<path d="M305.0 834.4 L305.0 884.4 M296.5 834.4 L313.5 834.4 M296.5 884.4 L313.5 884.4" stroke="#ff0000" stroke-width="2.6" fill="none"/>
<circle cx="305.00" cy="859.40" r="12.70" fill="#ff0000"/>
<path d="M346.1 845.4 L346.1 905.4 M337.6 845.4 L354.6 845.4 M337.6 905.4 L354.6 905.4" stroke="#ff0000" stroke-width="2.6" fill="none"/>
<circle cx="346.10" cy="875.40" r="12.70" fill="#ff0000"/>
<path d="M387.2 829.0 L387.2 877.0 M378.7 829.0 L395.7 829.0 M378.7 877.0 L395.7 877.0" stroke="#ff0000" stroke-width="2.6" fill="none"/>
<circle cx="387.20" cy="853.01" r="12.70" fill="#ff0000"/>
<path d="M428.3 794.0 L428.3 830.0 M419.8 794.0 L436.8 794.0 M419.8 830.0 L436.8 830.0" stroke="#ff0000" stroke-width="2.6" fill="none"/>
<circle cx="428.30" cy="811.96" r="12.70" fill="#ff0000"/>
<path d="M469.4 728.5 L469.4 768.5 M460.9 728.5 L477.9 728.5 M460.9 768.5 L477.9 768.5" stroke="#ff0000" stroke-width="2.6" fill="none"/>
<circle cx="469.40" cy="748.52" r="12.70" fill="#ff0000"/>
<path d="M510.5 683.7 L510.5 721.7 M502.0 683.7 L519.0 683.7 M502.0 721.7 L519.0 721.7" stroke="#ff0000" stroke-width="2.6" fill="none"/>
<circle cx="510.50" cy="702.67" r="12.70" fill="#ff0000"/>
<path d="M551.6 645.8 L551.6 683.8 M543.1 645.8 L560.1 645.8 M543.1 683.8 L560.1 683.8" stroke="#ff0000" stroke-width="2.6" fill="none"/>
<circle cx="551.60" cy="664.82" r="12.70" fill="#ff0000"/>
<path d="M592.7 599.0 L592.7 639.0 M584.2 599.0 L601.2 599.0 M584.2 639.0 L601.2 639.0" stroke="#ff0000" stroke-width="2.6" fill="none"/>
<circle cx="592.70" cy="618.98" r="12.70" fill="#ff0000"/>
<path d="M99.5 716.5 L101.6 716.7 L103.6 716.8 L105.7 717.0 L107.7 717.2 L109.8 717.4 L111.8 717.6 L113.9 717.8 L115.9 718.1 L118.0 718.3 L120.0 718.6 L122.1 718.9 L124.2 719.2 L126.2 719.6 L128.3 719.9 L130.3 720.3 L132.4 720.8 L134.4 721.2 L136.5 721.7 L138.5 722.2 L140.6 722.7 L142.7 723.3 L144.7 723.9 L146.8 724.6 L148.8 725.3 L150.9 726.1 L152.9 726.9 L155.0 727.7 L157.0 728.7 L159.1 729.6 L161.1 730.7 L163.2 731.8 L165.3 733.0 L167.3 734.3 L169.4 735.6 L171.4 737.0 L173.5 738.6 L175.5 740.2 L177.6 741.9 L179.6 743.7 L181.7 745.7 L183.8 747.7 L185.8 749.9 L187.9 752.2 L189.9 754.7 L192.0 757.3 L194.0 760.0 L196.1 762.9 L198.1 765.9 L200.2 769.2 L202.2 772.5 L204.3 776.1 L206.4 779.8 L208.4 783.7 L210.5 787.9 L212.5 792.2 L214.6 796.6 L216.6 801.3 L218.7 806.2 L220.7 811.3 L222.8 816.5 L224.9 822.0 L226.9 827.6 L229.0 833.4 L231.0 839.4 L233.1 845.5 L235.1 851.8 L237.2 858.2 L239.2 864.8 L241.3 871.4 L243.3 878.2 L245.4 885.0 L247.5 891.8 L249.5 898.7 L251.6 905.6 L253.6 912.5 L255.7 919.3 L257.7 926.1 L259.8 932.8 L261.8 939.4 L263.9 945.9 L266.0 952.2 L268.0 958.3 L270.1 964.2 L272.1 969.9 L274.2 975.4 L276.2 980.7 L278.3 985.6 L280.3 990.4 L282.4 994.8 L284.4 998.9 L286.5 1002.8 L288.6 1006.3 L290.6 1009.5 L292.7 1012.5 L294.7 1015.1 L296.8 1017.5 L298.8 1019.5 L300.9 1021.3 L302.9 1022.7 L305.0 1023.9 L307.1 1024.9 L309.1 1025.5 L311.2 1025.9 L313.2 1026.1 L315.3 1026.1 L317.3 1025.8 L319.4 1025.3 L321.4 1024.7 L323.5 1023.8 L325.6 1022.8 L327.6 1021.5 L329.7 1020.2 L331.7 1018.6 L333.8 1017.0 L335.8 1015.2 L337.9 1013.3 L339.9 1011.2 L342.0 1009.1 L344.0 1006.8 L346.1 1004.5 L348.2 1002.0 L350.2 999.5 L352.3 996.9 L354.3 994.2 L356.4 991.5 L358.4 988.7 L360.5 985.8 L362.5 982.9 L364.6 979.9 L366.6 976.9 L368.7 973.9 L370.8 970.8 L372.8 967.7 L374.9 964.5 L376.9 961.3 L379.0 958.1 L381.0 954.9 L383.1 951.6 L385.1 948.3 L387.2 945.0 L389.3 941.7 L391.3 938.3 L393.4 935.0 L395.4 931.6 L397.5 928.2 L399.5 924.8 L401.6 921.4 L403.6 918.0 L405.7 914.5 L407.8 911.1 L409.8 907.6 L411.9 904.2 L413.9 900.7 L416.0 897.2 L418.0 893.7 L420.1 890.2 L422.1 886.8 L424.2 883.3 L426.2 879.8 L428.3 876.3 L430.4 872.7 L432.4 869.2 L434.5 865.7 L436.5 862.2 L438.6 858.7 L440.6 855.2 L442.7 851.6 L444.7 848.1 L446.8 844.6 L448.9 841.1 L450.9 837.5 L453.0 834.0 L455.0 830.5 L457.1 826.9 L459.1 823.4 L461.2 819.9 L463.2 816.3 L465.3 812.8 L467.3 809.3 L469.4 805.7 L471.5 802.2 L473.5 798.6 L475.6 795.1 L477.6 791.6 L479.7 788.0 L481.7 784.5 L483.8 780.9 L485.8 777.4 L487.9 773.9 L490.0 770.3 L492.0 766.8 L494.1 763.2 L496.1 759.7 L498.2 756.1 L500.2 752.6 L502.3 749.1 L504.3 745.5 L506.4 742.0 L508.4 738.4 L510.5 734.9 L512.6 731.3 L514.6 727.8 L516.7 724.3 L518.7 720.7 L520.8 717.2 L522.8 713.6 L524.9 710.1 L526.9 706.5 L529.0 703.0 L531.0 699.4 L533.1 695.9 L535.2 692.4 L537.2 688.8 L539.3 685.3 L541.3 681.7 L543.4 678.2 L545.4 674.6 L547.5 671.1 L549.5 667.5 L551.6 664.0 L553.7 660.5 L555.7 656.9 L557.8 653.4 L559.8 649.8 L561.9 646.3 L563.9 642.7 L566.0 639.2 L568.0 635.6 L570.1 632.1 L572.2 628.6 L574.2 625.0 L576.3 621.5 L578.3 617.9 L580.4 614.4 L582.4 610.8 L584.5 607.3 L586.5 603.7 L588.6 600.2 L590.6 596.7 L592.7 593.1" fill="none" stroke="#000" stroke-width="3" stroke-linejoin="round" stroke-linecap="butt"/>
<path d="M99.5 714.8 L101.6 714.8 L103.6 714.9 L105.7 714.9 L107.7 714.9 L109.8 715.0 L111.8 715.0 L113.9 715.1 L115.9 715.1 L118.0 715.2 L120.0 715.2 L122.1 715.3 L124.2 715.3 L126.2 715.4 L128.3 715.5 L130.3 715.5 L132.4 715.6 L134.4 715.7 L136.5 715.8 L138.5 715.9 L140.6 716.0 L142.7 716.2 L144.7 716.3 L146.8 716.4 L148.8 716.6 L150.9 716.7 L152.9 716.9 L155.0 717.1 L157.0 717.3 L159.1 717.5 L161.1 717.7 L163.2 717.9 L165.3 718.2 L167.3 718.5 L169.4 718.8 L171.4 719.1 L173.5 719.4 L175.5 719.8 L177.6 720.2 L179.6 720.6 L181.7 721.0 L183.8 721.5 L185.8 722.0 L187.9 722.5 L189.9 723.1 L192.0 723.7 L194.0 724.3 L196.1 725.0 L198.1 725.8 L200.2 726.6 L202.2 727.4 L204.3 728.3 L206.4 729.3 L208.4 730.3 L210.5 731.4 L212.5 732.5 L214.6 733.8 L216.6 735.0 L218.7 736.4 L220.7 737.9 L222.8 739.4 L224.9 741.0 L226.9 742.8 L229.0 744.6 L231.0 746.5 L233.1 748.5 L235.1 750.6 L237.2 752.9 L239.2 755.2 L241.3 757.6 L243.3 760.2 L245.4 762.9 L247.5 765.7 L249.5 768.5 L251.6 771.5 L253.6 774.7 L255.7 777.9 L257.7 781.2 L259.8 784.6 L261.8 788.1 L263.9 791.7 L266.0 795.3 L268.0 799.0 L270.1 802.8 L272.1 806.6 L274.2 810.4 L276.2 814.3 L278.3 818.2 L280.3 822.0 L282.4 825.8 L284.4 829.6 L286.5 833.3 L288.6 837.0 L290.6 840.6 L292.7 844.1 L294.7 847.5 L296.8 850.7 L298.8 853.8 L300.9 856.8 L302.9 859.6 L305.0 862.3 L307.1 864.8 L309.1 867.1 L311.2 869.2 L313.2 871.2 L315.3 872.9 L317.3 874.5 L319.4 875.9 L321.4 877.1 L323.5 878.1 L325.6 878.9 L327.6 879.6 L329.7 880.1 L331.7 880.4 L333.8 880.6 L335.8 880.6 L337.9 880.4 L339.9 880.2 L342.0 879.7 L344.0 879.2 L346.1 878.5 L348.2 877.7 L350.2 876.8 L352.3 875.8 L354.3 874.7 L356.4 873.5 L358.4 872.2 L360.5 870.9 L362.5 869.4 L364.6 867.9 L366.6 866.3 L368.7 864.7 L370.8 863.0 L372.8 861.3 L374.9 859.5 L376.9 857.6 L379.0 855.8 L381.0 853.8 L383.1 851.9 L385.1 849.9 L387.2 847.9 L389.3 845.8 L391.3 843.7 L393.4 841.6 L395.4 839.5 L397.5 837.4 L399.5 835.2 L401.6 833.0 L403.6 830.9 L405.7 828.6 L407.8 826.4 L409.8 824.2 L411.9 822.0 L413.9 819.7 L416.0 817.4 L418.0 815.2 L420.1 812.9 L422.1 810.6 L424.2 808.3 L426.2 806.0 L428.3 803.7 L430.4 801.4 L432.4 799.1 L434.5 796.8 L436.5 794.4 L438.6 792.1 L440.6 789.8 L442.7 787.4 L444.7 785.1 L446.8 782.8 L448.9 780.4 L450.9 778.1 L453.0 775.8 L455.0 773.4 L457.1 771.1 L459.1 768.7 L461.2 766.4 L463.2 764.0 L465.3 761.7 L467.3 759.3 L469.4 757.0 L471.5 754.6 L473.5 752.3 L475.6 749.9 L477.6 747.5 L479.7 745.2 L481.7 742.8 L483.8 740.5 L485.8 738.1 L487.9 735.8 L490.0 733.4 L492.0 731.1 L494.1 728.7 L496.1 726.3 L498.2 724.0 L500.2 721.6 L502.3 719.3 L504.3 716.9 L506.4 714.5 L508.4 712.2 L510.5 709.8 L512.6 707.5 L514.6 705.1 L516.7 702.7 L518.7 700.4 L520.8 698.0 L522.8 695.7 L524.9 693.3 L526.9 690.9 L529.0 688.6 L531.0 686.2 L533.1 683.9 L535.2 681.5 L537.2 679.1 L539.3 676.8 L541.3 674.4 L543.4 672.1 L545.4 669.7 L547.5 667.3 L549.5 665.0 L551.6 662.6 L553.7 660.3 L555.7 657.9 L557.8 655.6 L559.8 653.2 L561.9 650.8 L563.9 648.5 L566.0 646.1 L568.0 643.8 L570.1 641.4 L572.2 639.0 L574.2 636.7 L576.3 634.3 L578.3 632.0 L580.4 629.6 L582.4 627.2 L584.5 624.9 L586.5 622.5 L588.6 620.2 L590.6 617.8 L592.7 615.4" fill="none" stroke="#a00000" stroke-width="3" stroke-linejoin="round" stroke-linecap="butt"/>
<circle cx="344.20" cy="581.30" r="10.90" fill="#000"/>
<circle cx="344.20" cy="619.80" r="10.90" fill="#ff0000"/>
<text transform="matrix(0.2705,0.0000,0.0000,0.2660,387.7736,591.0000)" font-size="100" font-weight="bold" font-style="normal" fill="#000" stroke="#000" stroke-width="5.219" stroke-linejoin="miter" stroke-miterlimit="2.5" letter-spacing="8.00">WT</text>
<text transform="matrix(0.2767,0.0000,0.0000,0.2614,390.1622,629.2447)" font-size="100" font-weight="bold" font-style="italic" fill="#000" stroke="#000" stroke-width="5.205" stroke-linejoin="miter" stroke-miterlimit="2.5" letter-spacing="6.00">Sorbs2</text>
<text transform="matrix(0.2817,0.0000,0.0000,0.2712,497.8154,629.2352)" font-size="100" font-weight="bold" font-style="normal" fill="#000" stroke="#000" stroke-width="5.065" stroke-linejoin="miter" stroke-miterlimit="2.5" letter-spacing="5.00">KO</text>
<text transform="matrix(0.0000,-0.4498,0.3937,0.0000,53.2295,969.7448)" font-size="100" font-weight="bold" font-style="normal" fill="#000" stroke="#000" stroke-width="5.228" stroke-linejoin="miter" stroke-miterlimit="2.5">Current (pA/pF)</text>
<text transform="matrix(0.4730,0.0000,0.0000,0.3972,257.4767,1144.4825)" font-size="100" font-weight="bold" font-style="normal" fill="#000" stroke="#000" stroke-width="5.076" stroke-linejoin="miter" stroke-miterlimit="2.5">Voltage (mV)</text>
<line x1="854.50" y1="560.10" x2="854.50" y2="1032.90" stroke="#000" stroke-width="2.8" stroke-linecap="butt"/>
<line x1="853.10" y1="1031.50" x2="1316.90" y2="1031.50" stroke="#000" stroke-width="2.8" stroke-linecap="butt"/>
<line x1="833.00" y1="1016.10" x2="854.50" y2="1016.10" stroke="#000" stroke-width="2.8" stroke-linecap="butt"/>
<text transform="matrix(1,0,0,1.070,822.00,1028.62)" font-size="34" text-anchor="end" fill="#000">0.0</text>
<line x1="833.00" y1="925.14" x2="854.50" y2="925.14" stroke="#000" stroke-width="2.8" stroke-linecap="butt"/>
<text transform="matrix(1,0,0,1.070,822.00,937.66)" font-size="34" text-anchor="end" fill="#000">0.2</text>
<line x1="833.00" y1="834.18" x2="854.50" y2="834.18" stroke="#000" stroke-width="2.8" stroke-linecap="butt"/>
<text transform="matrix(1,0,0,1.070,822.00,846.70)" font-size="34" text-anchor="end" fill="#000">0.4</text>
<line x1="833.00" y1="743.22" x2="854.50" y2="743.22" stroke="#000" stroke-width="2.8" stroke-linecap="butt"/>
<text transform="matrix(1,0,0,1.070,822.00,755.74)" font-size="34" text-anchor="end" fill="#000">0.6</text>
<line x1="833.00" y1="652.26" x2="854.50" y2="652.26" stroke="#000" stroke-width="2.8" stroke-linecap="butt"/>
<text transform="matrix(1,0,0,1.070,822.00,664.78)" font-size="34" text-anchor="end" fill="#000">0.8</text>
<line x1="833.00" y1="561.30" x2="854.50" y2="561.30" stroke="#000" stroke-width="2.8" stroke-linecap="butt"/>
<text transform="matrix(1,0,0,1.070,822.00,573.82)" font-size="34" text-anchor="end" fill="#000">1.0</text>
<line x1="906.58" y1="1031.50" x2="906.58" y2="1052.50" stroke="#000" stroke-width="2.8" stroke-linecap="butt"/>
<line x1="981.34" y1="1031.50" x2="981.34" y2="1042.50" stroke="#000" stroke-width="2.8" stroke-linecap="butt"/>
<line x1="1056.10" y1="1031.50" x2="1056.10" y2="1052.50" stroke="#000" stroke-width="2.8" stroke-linecap="butt"/>
<line x1="1130.86" y1="1031.50" x2="1130.86" y2="1042.50" stroke="#000" stroke-width="2.8" stroke-linecap="butt"/>
<line x1="1205.62" y1="1031.50" x2="1205.62" y2="1052.50" stroke="#000" stroke-width="2.8" stroke-linecap="butt"/>
<line x1="1280.38" y1="1031.50" x2="1280.38" y2="1042.50" stroke="#000" stroke-width="2.8" stroke-linecap="butt"/>
<text transform="matrix(1,0,0,1.070,906.58,1095.59)" font-size="34" text-anchor="middle" fill="#000">-40</text>
<text transform="matrix(1,0,0,1.070,1056.10,1095.59)" font-size="34" text-anchor="middle" fill="#000">0</text>
<text transform="matrix(1,0,0,1.070,1205.62,1095.59)" font-size="34" text-anchor="middle" fill="#000">40</text>
<circle cx="869.20" cy="1016.10" r="12.70" fill="#000"/>
<circle cx="943.96" cy="996.54" r="12.70" fill="#000"/>
<path d="M981.3 895.4 L981.3 942.2 M972.8 895.4 L989.8 895.4 M972.8 942.2 L989.8 942.2" stroke="#000" stroke-width="2.6" fill="none"/>
<circle cx="981.34" cy="918.77" r="12.70" fill="#000"/>
<path d="M1018.7 742.2 L1018.7 804.2 M1010.2 742.2 L1027.2 742.2 M1010.2 804.2 L1027.2 804.2" stroke="#000" stroke-width="2.6" fill="none"/>
<circle cx="1018.72" cy="773.24" r="12.70" fill="#000"/>
<path d="M1056.1 634.3 L1056.1 680.3 M1047.6 634.3 L1064.6 634.3 M1047.6 680.3 L1064.6 680.3" stroke="#000" stroke-width="2.6" fill="none"/>
<circle cx="1056.10" cy="657.26" r="12.70" fill="#000"/>
<path d="M1093.5 582.2 L1093.5 607.8 M1085.0 582.2 L1102.0 582.2 M1085.0 607.8 L1102.0 607.8" stroke="#000" stroke-width="2.6" fill="none"/>
<circle cx="1093.48" cy="594.96" r="12.70" fill="#000"/>
<circle cx="1130.86" cy="574.94" r="12.70" fill="#000"/>
<circle cx="1168.24" cy="566.30" r="12.70" fill="#000"/>
<circle cx="1205.62" cy="561.30" r="12.70" fill="#000"/>
<circle cx="943.96" cy="1006.09" r="12.70" fill="#ff0000"/>
<circle cx="981.34" cy="984.72" r="12.70" fill="#ff0000"/>
<path d="M1018.7 886.9 L1018.7 918.9 M1010.2 886.9 L1027.2 886.9 M1010.2 918.9 L1027.2 918.9" stroke="#ff0000" stroke-width="2.6" fill="none"/>
<circle cx="1018.72" cy="902.85" r="12.70" fill="#ff0000"/>
<path d="M1056.1 755.0 L1056.1 814.2 M1047.6 755.0 L1064.6 755.0 M1047.6 814.2 L1064.6 814.2" stroke="#ff0000" stroke-width="2.6" fill="none"/>
<circle cx="1056.10" cy="784.61" r="12.70" fill="#ff0000"/>
<path d="M1093.5 664.8 L1093.5 734.4 M1085.0 664.8 L1102.0 664.8 M1085.0 734.4 L1102.0 734.4" stroke="#ff0000" stroke-width="2.6" fill="none"/>
<circle cx="1093.48" cy="699.56" r="12.70" fill="#ff0000"/>
<path d="M1130.9 622.4 L1130.9 689.4 M1122.4 622.4 L1139.4 622.4 M1122.4 689.4 L1139.4 689.4" stroke="#ff0000" stroke-width="2.6" fill="none"/>
<circle cx="1130.86" cy="655.90" r="12.70" fill="#ff0000"/>
<path d="M1168.2 601.8 L1168.2 659.0 M1159.7 601.8 L1176.7 601.8 M1159.7 659.0 L1176.7 659.0" stroke="#ff0000" stroke-width="2.6" fill="none"/>
<circle cx="1168.24" cy="630.43" r="12.70" fill="#ff0000"/>
<path d="M1205.6 571.4 L1205.6 598.4 M1197.1 571.4 L1214.1 571.4 M1197.1 598.4 L1214.1 598.4" stroke="#ff0000" stroke-width="2.6" fill="none"/>
<circle cx="1205.62" cy="584.95" r="12.70" fill="#ff0000"/>
<circle cx="1243.00" cy="561.30" r="12.70" fill="#ff0000"/>
<circle cx="1280.38" cy="561.30" r="12.70" fill="#ff0000"/>
<circle cx="1317.76" cy="561.30" r="12.70" fill="#ff0000"/>
<circle cx="869.20" cy="1016.10" r="12.70" fill="#000"/>
<path d="M869.2 1014.1 L871.1 1013.9 L872.9 1013.8 L874.8 1013.6 L876.7 1013.4 L878.5 1013.2 L880.4 1013.0 L882.3 1012.8 L884.2 1012.6 L886.0 1012.3 L887.9 1012.1 L889.8 1011.8 L891.6 1011.5 L893.5 1011.2 L895.4 1010.8 L897.2 1010.5 L899.1 1010.1 L901.0 1009.6 L902.8 1009.2 L904.7 1008.7 L906.6 1008.2 L908.4 1007.6 L910.3 1007.0 L912.2 1006.4 L914.1 1005.7 L915.9 1005.0 L917.8 1004.3 L919.7 1003.5 L921.5 1002.6 L923.4 1001.7 L925.3 1000.7 L927.1 999.6 L929.0 998.5 L930.9 997.3 L932.7 996.0 L934.6 994.7 L936.5 993.2 L938.4 991.7 L940.2 990.1 L942.1 988.3 L944.0 986.5 L945.8 984.5 L947.7 982.5 L949.6 980.3 L951.4 977.9 L953.3 975.5 L955.2 972.9 L957.0 970.1 L958.9 967.2 L960.8 964.1 L962.6 960.9 L964.5 957.5 L966.4 953.9 L968.3 950.1 L970.1 946.2 L972.0 942.0 L973.9 937.7 L975.7 933.2 L977.6 928.4 L979.5 923.5 L981.3 918.3 L983.2 913.0 L985.1 907.4 L986.9 901.7 L988.8 895.7 L990.7 889.6 L992.6 883.3 L994.4 876.7 L996.3 870.1 L998.2 863.2 L1000.0 856.2 L1001.9 849.0 L1003.8 841.8 L1005.6 834.4 L1007.5 826.9 L1009.4 819.3 L1011.2 811.7 L1013.1 804.0 L1015.0 796.3 L1016.9 788.5 L1018.7 780.8 L1020.6 773.1 L1022.5 765.4 L1024.3 757.8 L1026.2 750.2 L1028.1 742.8 L1029.9 735.4 L1031.8 728.2 L1033.7 721.1 L1035.5 714.2 L1037.4 707.4 L1039.3 700.8 L1041.1 694.3 L1043.0 688.1 L1044.9 682.0 L1046.8 676.1 L1048.6 670.4 L1050.5 665.0 L1052.4 659.7 L1054.2 654.6 L1056.1 649.8 L1058.0 645.1 L1059.8 640.7 L1061.7 636.4 L1063.6 632.3 L1065.4 628.5 L1067.3 624.8 L1069.2 621.3 L1071.1 617.9 L1072.9 614.7 L1074.8 611.7 L1076.7 608.9 L1078.5 606.2 L1080.4 603.7 L1082.3 601.3 L1084.1 599.0 L1086.0 596.8 L1087.9 594.8 L1089.7 592.9 L1091.6 591.1 L1093.5 589.4 L1095.3 587.8 L1097.2 586.3 L1099.1 584.9 L1101.0 583.6 L1102.8 582.4 L1104.7 581.2 L1106.6 580.1 L1108.4 579.1 L1110.3 578.1 L1112.2 577.2 L1114.0 576.3 L1115.9 575.5 L1117.8 574.8 L1119.6 574.1 L1121.5 573.5 L1123.4 572.8 L1125.3 572.3 L1127.1 571.7 L1129.0 571.2 L1130.9 570.8 L1132.7 570.3 L1134.6 569.9 L1136.5 569.5 L1138.3 569.2 L1140.2 568.8 L1142.1 568.5 L1143.9 568.2 L1145.8 567.9 L1147.7 567.7 L1149.5 567.4 L1151.4 567.2 L1153.3 567.0 L1155.2 566.8 L1157.0 566.6 L1158.9 566.5 L1160.8 566.3 L1162.6 566.2 L1164.5 566.0 L1166.4 565.9 L1168.2 565.8 L1170.1 565.6 L1172.0 565.5 L1173.8 565.4 L1175.7 565.3 L1177.6 565.3 L1179.5 565.2 L1181.3 565.1 L1183.2 565.0 L1185.1 565.0 L1186.9 564.9 L1188.8 564.8 L1190.7 564.8 L1192.5 564.7 L1194.4 564.7 L1196.3 564.6 L1198.1 564.6 L1200.0 564.6 L1201.9 564.5 L1203.8 564.5 L1205.6 564.5 L1207.5 564.4 L1209.4 564.4 L1211.2 564.4 L1213.1 564.4 L1215.0 564.3 L1216.8 564.3 L1218.7 564.3 L1220.6 564.3 L1222.4 564.3 L1224.3 564.3 L1226.2 564.2 L1228.0 564.2 L1229.9 564.2 L1231.8 564.2 L1233.7 564.2 L1235.5 564.2 L1237.4 564.2 L1239.3 564.2 L1241.1 564.1 L1243.0 564.1 L1244.9 564.1 L1246.7 564.1 L1248.6 564.1 L1250.5 564.1 L1252.3 564.1 L1254.2 564.1 L1256.1 564.1 L1258.0 564.1 L1259.8 564.1 L1261.7 564.1 L1263.6 564.1 L1265.4 564.1 L1267.3 564.1 L1269.2 564.1 L1271.0 564.1 L1272.9 564.1 L1274.8 564.1 L1276.6 564.1 L1278.5 564.1 L1280.4 564.1 L1282.2 564.1 L1284.1 564.1 L1286.0 564.1 L1287.9 564.1 L1289.7 564.0 L1291.6 564.0 L1293.5 564.0 L1295.3 564.0 L1297.2 564.0 L1299.1 564.0 L1300.9 564.0 L1302.8 564.0 L1304.7 564.0 L1306.5 564.0 L1308.4 564.0 L1310.3 564.0 L1312.2 564.0 L1314.0 564.0 L1315.9 564.0 L1317.8 564.0" fill="none" stroke="#000" stroke-width="3" stroke-linejoin="round" stroke-linecap="butt"/>
<path d="M869.2 1012.2 L871.1 1012.0 L872.9 1011.8 L874.8 1011.6 L876.7 1011.4 L878.5 1011.2 L880.4 1011.0 L882.3 1010.8 L884.2 1010.5 L886.0 1010.2 L887.9 1010.0 L889.8 1009.7 L891.6 1009.4 L893.5 1009.1 L895.4 1008.7 L897.2 1008.4 L899.1 1008.0 L901.0 1007.7 L902.8 1007.3 L904.7 1006.9 L906.6 1006.4 L908.4 1006.0 L910.3 1005.5 L912.2 1005.0 L914.1 1004.5 L915.9 1004.0 L917.8 1003.4 L919.7 1002.9 L921.5 1002.2 L923.4 1001.6 L925.3 1000.9 L927.1 1000.3 L929.0 999.5 L930.9 998.8 L932.7 998.0 L934.6 997.2 L936.5 996.3 L938.4 995.4 L940.2 994.5 L942.1 993.5 L944.0 992.5 L945.8 991.4 L947.7 990.3 L949.6 989.2 L951.4 988.0 L953.3 986.7 L955.2 985.4 L957.0 984.1 L958.9 982.7 L960.8 981.2 L962.6 979.7 L964.5 978.1 L966.4 976.5 L968.3 974.8 L970.1 973.0 L972.0 971.2 L973.9 969.3 L975.7 967.3 L977.6 965.3 L979.5 963.1 L981.3 960.9 L983.2 958.7 L985.1 956.3 L986.9 953.9 L988.8 951.3 L990.7 948.7 L992.6 946.0 L994.4 943.3 L996.3 940.4 L998.2 937.4 L1000.0 934.4 L1001.9 931.2 L1003.8 928.0 L1005.6 924.7 L1007.5 921.3 L1009.4 917.8 L1011.2 914.2 L1013.1 910.5 L1015.0 906.7 L1016.9 902.8 L1018.7 898.9 L1020.6 894.8 L1022.5 890.7 L1024.3 886.4 L1026.2 882.1 L1028.1 877.7 L1029.9 873.3 L1031.8 868.7 L1033.7 864.1 L1035.5 859.4 L1037.4 854.7 L1039.3 849.9 L1041.1 845.0 L1043.0 840.1 L1044.9 835.1 L1046.8 830.1 L1048.6 825.1 L1050.5 820.0 L1052.4 814.8 L1054.2 809.7 L1056.1 804.5 L1058.0 799.4 L1059.8 794.2 L1061.7 789.0 L1063.6 783.8 L1065.4 778.6 L1067.3 773.5 L1069.2 768.4 L1071.1 763.2 L1072.9 758.2 L1074.8 753.1 L1076.7 748.1 L1078.5 743.1 L1080.4 738.2 L1082.3 733.4 L1084.1 728.6 L1086.0 723.8 L1087.9 719.2 L1089.7 714.6 L1091.6 710.0 L1093.5 705.6 L1095.3 701.2 L1097.2 696.9 L1099.1 692.7 L1101.0 688.6 L1102.8 684.6 L1104.7 680.6 L1106.6 676.8 L1108.4 673.0 L1110.3 669.3 L1112.2 665.7 L1114.0 662.3 L1115.9 658.9 L1117.8 655.6 L1119.6 652.3 L1121.5 649.2 L1123.4 646.2 L1125.3 643.3 L1127.1 640.4 L1129.0 637.6 L1130.9 635.0 L1132.7 632.4 L1134.6 629.9 L1136.5 627.4 L1138.3 625.1 L1140.2 622.8 L1142.1 620.7 L1143.9 618.5 L1145.8 616.5 L1147.7 614.6 L1149.5 612.7 L1151.4 610.8 L1153.3 609.1 L1155.2 607.4 L1157.0 605.8 L1158.9 604.2 L1160.8 602.7 L1162.6 601.2 L1164.5 599.9 L1166.4 598.5 L1168.2 597.2 L1170.1 596.0 L1172.0 594.8 L1173.8 593.7 L1175.7 592.6 L1177.6 591.5 L1179.5 590.5 L1181.3 589.6 L1183.2 588.6 L1185.1 587.7 L1186.9 586.9 L1188.8 586.1 L1190.7 585.3 L1192.5 584.5 L1194.4 583.8 L1196.3 583.1 L1198.1 582.5 L1200.0 581.9 L1201.9 581.3 L1203.8 580.7 L1205.6 580.1 L1207.5 579.6 L1209.4 579.1 L1211.2 578.6 L1213.1 578.1 L1215.0 577.7 L1216.8 577.3 L1218.7 576.9 L1220.6 576.5 L1222.4 576.1 L1224.3 575.8 L1226.2 575.4 L1228.0 575.1 L1229.9 574.8 L1231.8 574.5 L1233.7 574.2 L1235.5 573.9 L1237.4 573.7 L1239.3 573.4 L1241.1 573.2 L1243.0 573.0 L1244.9 572.7 L1246.7 572.5 L1248.6 572.3 L1250.5 572.1 L1252.3 572.0 L1254.2 571.8 L1256.1 571.6 L1258.0 571.5 L1259.8 571.3 L1261.7 571.2 L1263.6 571.0 L1265.4 570.9 L1267.3 570.8 L1269.2 570.7 L1271.0 570.5 L1272.9 570.4 L1274.8 570.3 L1276.6 570.2 L1278.5 570.1 L1280.4 570.0 L1282.2 570.0 L1284.1 569.9 L1286.0 569.8 L1287.9 569.7 L1289.7 569.7 L1291.6 569.6 L1293.5 569.5 L1295.3 569.5 L1297.2 569.4 L1299.1 569.3 L1300.9 569.3 L1302.8 569.2 L1304.7 569.2 L1306.5 569.1 L1308.4 569.1 L1310.3 569.0 L1312.2 569.0 L1314.0 569.0 L1315.9 568.9 L1317.8 568.9" fill="none" stroke="#a00000" stroke-width="3" stroke-linejoin="round" stroke-linecap="butt"/>
<circle cx="1105.80" cy="904.90" r="10.90" fill="#000"/>
<circle cx="1105.80" cy="943.60" r="10.90" fill="#ff0000"/>
<text transform="matrix(0.2693,0.0000,0.0000,0.2660,1149.7737,914.7000)" font-size="100" font-weight="bold" font-style="normal" fill="#000" stroke="#000" stroke-width="5.231" stroke-linejoin="miter" stroke-miterlimit="2.5" letter-spacing="8.00">WT</text>
<text transform="matrix(0.2803,0.0000,0.0000,0.2533,1151.8579,952.9527)" font-size="100" font-weight="bold" font-style="italic" fill="#000" stroke="#000" stroke-width="5.254" stroke-linejoin="miter" stroke-miterlimit="2.5" letter-spacing="6.00">Sorbs2</text>
<text transform="matrix(0.2866,0.0000,0.0000,0.2627,1259.3829,952.9434)" font-size="100" font-weight="bold" font-style="normal" fill="#000" stroke="#000" stroke-width="5.102" stroke-linejoin="miter" stroke-miterlimit="2.5" letter-spacing="5.00">KO</text>
<text transform="matrix(0.0000,-0.4275,0.3733,0.0000,744.8526,887.8535)" font-size="100" font-weight="bold" font-style="normal" fill="#000" stroke="#000" stroke-width="5.507" stroke-linejoin="miter" stroke-miterlimit="2.5" letter-spacing="3.00">G/Gmax</text>
<text transform="matrix(0.4733,0.0000,0.0000,0.3737,948.6764,1142.9803)" font-size="100" font-weight="bold" font-style="normal" fill="#000" stroke="#000" stroke-width="5.231" stroke-linejoin="miter" stroke-miterlimit="2.5">Voltage (mV)</text>
<line x1="168.30" y1="1203.60" x2="168.30" y2="1676.40" stroke="#000" stroke-width="2.8" stroke-linecap="butt"/>
<line x1="166.90" y1="1675.00" x2="630.60" y2="1675.00" stroke="#000" stroke-width="2.8" stroke-linecap="butt"/>
<line x1="147.10" y1="1659.60" x2="168.30" y2="1659.60" stroke="#000" stroke-width="2.8" stroke-linecap="butt"/>
<text transform="matrix(1,0,0,1.070,136.00,1672.12)" font-size="34" text-anchor="end" fill="#000">0.0</text>
<line x1="147.10" y1="1568.60" x2="168.30" y2="1568.60" stroke="#000" stroke-width="2.8" stroke-linecap="butt"/>
<text transform="matrix(1,0,0,1.070,136.00,1581.12)" font-size="34" text-anchor="end" fill="#000">0.2</text>
<line x1="147.10" y1="1477.60" x2="168.30" y2="1477.60" stroke="#000" stroke-width="2.8" stroke-linecap="butt"/>
<text transform="matrix(1,0,0,1.070,136.00,1490.12)" font-size="34" text-anchor="end" fill="#000">0.4</text>
<line x1="147.10" y1="1386.60" x2="168.30" y2="1386.60" stroke="#000" stroke-width="2.8" stroke-linecap="butt"/>
<text transform="matrix(1,0,0,1.070,136.00,1399.12)" font-size="34" text-anchor="end" fill="#000">0.6</text>
<line x1="147.10" y1="1295.60" x2="168.30" y2="1295.60" stroke="#000" stroke-width="2.8" stroke-linecap="butt"/>
<text transform="matrix(1,0,0,1.070,136.00,1308.12)" font-size="34" text-anchor="end" fill="#000">0.8</text>
<line x1="147.10" y1="1204.60" x2="168.30" y2="1204.60" stroke="#000" stroke-width="2.8" stroke-linecap="butt"/>
<text transform="matrix(1,0,0,1.070,136.00,1217.12)" font-size="34" text-anchor="end" fill="#000">1.0</text>
<line x1="183.86" y1="1675.00" x2="183.86" y2="1696.00" stroke="#000" stroke-width="2.8" stroke-linecap="butt"/>
<line x1="258.30" y1="1675.00" x2="258.30" y2="1686.00" stroke="#000" stroke-width="2.8" stroke-linecap="butt"/>
<line x1="332.73" y1="1675.00" x2="332.73" y2="1696.00" stroke="#000" stroke-width="2.8" stroke-linecap="butt"/>
<line x1="407.17" y1="1675.00" x2="407.17" y2="1686.00" stroke="#000" stroke-width="2.8" stroke-linecap="butt"/>
<line x1="481.60" y1="1675.00" x2="481.60" y2="1696.00" stroke="#000" stroke-width="2.8" stroke-linecap="butt"/>
<line x1="556.03" y1="1675.00" x2="556.03" y2="1686.00" stroke="#000" stroke-width="2.8" stroke-linecap="butt"/>
<line x1="630.47" y1="1675.00" x2="630.47" y2="1696.00" stroke="#000" stroke-width="2.8" stroke-linecap="butt"/>
<text transform="matrix(1,0,0,1.070,183.86,1739.09)" font-size="34" text-anchor="middle" fill="#000">-80</text>
<text transform="matrix(1,0,0,1.070,332.73,1739.09)" font-size="34" text-anchor="middle" fill="#000">-40</text>
<text transform="matrix(1,0,0,1.070,481.60,1739.09)" font-size="34" text-anchor="middle" fill="#000">0</text>
<text transform="matrix(1,0,0,1.070,630.47,1739.09)" font-size="34" text-anchor="middle" fill="#000">40</text>
<circle cx="183.86" cy="1213.24" r="12.70" fill="#000"/>
<circle cx="221.08" cy="1209.61" r="12.70" fill="#000"/>
<circle cx="258.30" cy="1203.69" r="12.70" fill="#000"/>
<path d="M332.7 1258.6 L332.7 1282.6 M324.2 1258.6 L341.2 1258.6 M324.2 1282.6 L341.2 1282.6" stroke="#000" stroke-width="2.6" fill="none"/>
<circle cx="332.73" cy="1270.57" r="12.70" fill="#000"/>
<path d="M369.9 1417.0 L369.9 1469.0 M361.4 1417.0 L378.4 1417.0 M361.4 1469.0 L378.4 1469.0" stroke="#000" stroke-width="2.6" fill="none"/>
<circle cx="369.95" cy="1443.02" r="12.70" fill="#000"/>
<path d="M407.2 1588.5 L407.2 1600.5 M398.7 1588.5 L415.7 1588.5 M398.7 1600.5 L415.7 1600.5" stroke="#000" stroke-width="2.6" fill="none"/>
<circle cx="407.17" cy="1594.53" r="12.70" fill="#000"/>
<circle cx="444.38" cy="1648.00" r="12.70" fill="#000"/>
<circle cx="481.60" cy="1657.51" r="12.70" fill="#000"/>
<circle cx="518.82" cy="1658.23" r="12.70" fill="#000"/>
<circle cx="556.03" cy="1658.23" r="12.70" fill="#000"/>
<circle cx="593.25" cy="1653.23" r="12.70" fill="#000"/>
<circle cx="630.47" cy="1650.95" r="12.70" fill="#000"/>
<circle cx="183.86" cy="1211.42" r="12.70" fill="#ff0000"/>
<circle cx="221.08" cy="1204.60" r="12.70" fill="#ff0000"/>
<circle cx="295.52" cy="1208.24" r="12.70" fill="#ff0000"/>
<path d="M332.7 1236.4 L332.7 1268.4 M324.2 1236.4 L341.2 1236.4 M324.2 1268.4 L341.2 1268.4" stroke="#ff0000" stroke-width="2.6" fill="none"/>
<circle cx="332.73" cy="1252.38" r="12.70" fill="#ff0000"/>
<path d="M369.9 1358.3 L369.9 1410.3 M361.4 1358.3 L378.4 1358.3 M361.4 1410.3 L378.4 1410.3" stroke="#ff0000" stroke-width="2.6" fill="none"/>
<circle cx="369.95" cy="1384.32" r="12.70" fill="#ff0000"/>
<path d="M407.2 1561.6 L407.2 1585.6 M398.7 1561.6 L415.7 1561.6 M398.7 1585.6 L415.7 1585.6" stroke="#ff0000" stroke-width="2.6" fill="none"/>
<circle cx="407.17" cy="1573.61" r="12.70" fill="#ff0000"/>
<circle cx="444.38" cy="1628.30" r="12.70" fill="#ff0000"/>
<circle cx="481.60" cy="1642.90" r="12.70" fill="#ff0000"/>
<circle cx="518.82" cy="1649.59" r="12.70" fill="#ff0000"/>
<circle cx="556.03" cy="1650.59" r="12.70" fill="#ff0000"/>
<circle cx="593.25" cy="1650.59" r="12.70" fill="#ff0000"/>
<circle cx="630.47" cy="1649.59" r="12.70" fill="#ff0000"/>
<path d="M183.9 1206.9 L185.7 1206.9 L187.6 1206.9 L189.4 1206.9 L191.3 1206.9 L193.2 1206.9 L195.0 1206.9 L196.9 1206.9 L198.8 1206.9 L200.6 1207.0 L202.5 1207.0 L204.3 1207.0 L206.2 1207.0 L208.1 1207.0 L209.9 1207.0 L211.8 1207.0 L213.6 1207.0 L215.5 1207.0 L217.4 1207.1 L219.2 1207.1 L221.1 1207.1 L222.9 1207.1 L224.8 1207.1 L226.7 1207.2 L228.5 1207.2 L230.4 1207.2 L232.2 1207.3 L234.1 1207.3 L236.0 1207.3 L237.8 1207.4 L239.7 1207.4 L241.6 1207.5 L243.4 1207.5 L245.3 1207.6 L247.1 1207.7 L249.0 1207.8 L250.9 1207.9 L252.7 1208.0 L254.6 1208.1 L256.4 1208.2 L258.3 1208.3 L260.2 1208.4 L262.0 1208.6 L263.9 1208.8 L265.7 1209.0 L267.6 1209.2 L269.5 1209.4 L271.3 1209.6 L273.2 1209.9 L275.0 1210.2 L276.9 1210.5 L278.8 1210.9 L280.6 1211.3 L282.5 1211.7 L284.3 1212.2 L286.2 1212.7 L288.1 1213.3 L289.9 1213.9 L291.8 1214.6 L293.7 1215.3 L295.5 1216.1 L297.4 1217.0 L299.2 1218.0 L301.1 1219.1 L303.0 1220.2 L304.8 1221.5 L306.7 1222.9 L308.5 1224.4 L310.4 1226.1 L312.3 1227.9 L314.1 1229.9 L316.0 1232.0 L317.8 1234.3 L319.7 1236.9 L321.6 1239.6 L323.4 1242.6 L325.3 1245.8 L327.1 1249.3 L329.0 1253.1 L330.9 1257.1 L332.7 1261.5 L334.6 1266.2 L336.5 1271.2 L338.3 1276.5 L340.2 1282.3 L342.0 1288.3 L343.9 1294.8 L345.8 1301.6 L347.6 1308.9 L349.5 1316.5 L351.3 1324.4 L353.2 1332.8 L355.1 1341.4 L356.9 1350.4 L358.8 1359.7 L360.6 1369.3 L362.5 1379.1 L364.4 1389.2 L366.2 1399.4 L368.1 1409.7 L369.9 1420.1 L371.8 1430.6 L373.7 1441.0 L375.5 1451.4 L377.4 1461.7 L379.3 1471.8 L381.1 1481.7 L383.0 1491.5 L384.8 1500.9 L386.7 1510.1 L388.6 1519.0 L390.4 1527.5 L392.3 1535.7 L394.1 1543.5 L396.0 1551.0 L397.9 1558.1 L399.7 1564.7 L401.6 1571.1 L403.4 1577.0 L405.3 1582.6 L407.2 1587.8 L409.0 1592.7 L410.9 1597.2 L412.7 1601.5 L414.6 1605.4 L416.5 1609.0 L418.3 1612.4 L420.2 1615.5 L422.1 1618.4 L423.9 1621.1 L425.8 1623.5 L427.6 1625.8 L429.5 1627.9 L431.4 1629.8 L433.2 1631.5 L435.1 1633.1 L436.9 1634.6 L438.8 1635.9 L440.7 1637.2 L442.5 1638.3 L444.4 1639.3 L446.2 1640.3 L448.1 1641.1 L450.0 1641.9 L451.8 1642.6 L453.7 1643.3 L455.5 1643.9 L457.4 1644.4 L459.3 1644.9 L461.1 1645.4 L463.0 1645.8 L464.9 1646.2 L466.7 1646.5 L468.6 1646.8 L470.4 1647.1 L472.3 1647.4 L474.2 1647.6 L476.0 1647.8 L477.9 1648.0 L479.7 1648.2 L481.6 1648.4 L483.5 1648.5 L485.3 1648.7 L487.2 1648.8 L489.0 1648.9 L490.9 1649.0 L492.8 1649.1 L494.6 1649.2 L496.5 1649.3 L498.3 1649.3 L500.2 1649.4 L502.1 1649.5 L503.9 1649.5 L505.8 1649.6 L507.7 1649.6 L509.5 1649.6 L511.4 1649.7 L513.2 1649.7 L515.1 1649.7 L517.0 1649.8 L518.8 1649.8 L520.7 1649.8 L522.5 1649.8 L524.4 1649.9 L526.3 1649.9 L528.1 1649.9 L530.0 1649.9 L531.8 1649.9 L533.7 1649.9 L535.6 1649.9 L537.4 1649.9 L539.3 1650.0 L541.1 1650.0 L543.0 1650.0 L544.9 1650.0 L546.7 1650.0 L548.6 1650.0 L550.5 1650.0 L552.3 1650.0 L554.2 1650.0 L556.0 1650.0 L557.9 1650.0 L559.8 1650.0 L561.6 1650.0 L563.5 1650.0 L565.3 1650.0 L567.2 1650.0 L569.1 1650.0 L570.9 1650.0 L572.8 1650.0 L574.6 1650.0 L576.5 1650.0 L578.4 1650.0 L580.2 1650.0 L582.1 1650.0 L583.9 1650.0 L585.8 1650.0 L587.7 1650.0 L589.5 1650.0 L591.4 1650.0 L593.3 1650.0 L595.1 1650.0 L597.0 1650.0 L598.8 1650.0 L600.7 1650.0 L602.6 1650.0 L604.4 1650.0 L606.3 1650.0 L608.1 1650.0 L610.0 1650.0 L611.9 1650.0 L613.7 1650.0 L615.6 1650.0 L617.4 1650.0 L619.3 1650.0 L621.2 1650.0 L623.0 1650.0 L624.9 1650.0 L626.7 1650.0 L628.6 1650.0 L630.5 1650.0" fill="none" stroke="#000" stroke-width="3" stroke-linejoin="round" stroke-linecap="butt"/>
<path d="M183.9 1211.9 L185.7 1211.9 L187.6 1211.9 L189.4 1211.9 L191.3 1211.9 L193.2 1211.9 L195.0 1211.9 L196.9 1211.9 L198.8 1212.0 L200.6 1212.0 L202.5 1212.0 L204.3 1212.0 L206.2 1212.0 L208.1 1212.0 L209.9 1212.0 L211.8 1212.0 L213.6 1212.0 L215.5 1212.0 L217.4 1212.1 L219.2 1212.1 L221.1 1212.1 L222.9 1212.1 L224.8 1212.1 L226.7 1212.2 L228.5 1212.2 L230.4 1212.2 L232.2 1212.3 L234.1 1212.3 L236.0 1212.3 L237.8 1212.4 L239.7 1212.4 L241.6 1212.5 L243.4 1212.5 L245.3 1212.6 L247.1 1212.7 L249.0 1212.8 L250.9 1212.8 L252.7 1212.9 L254.6 1213.0 L256.4 1213.2 L258.3 1213.3 L260.2 1213.4 L262.0 1213.6 L263.9 1213.7 L265.7 1213.9 L267.6 1214.1 L269.5 1214.3 L271.3 1214.5 L273.2 1214.8 L275.0 1215.1 L276.9 1215.4 L278.8 1215.7 L280.6 1216.1 L282.5 1216.5 L284.3 1216.9 L286.2 1217.4 L288.1 1217.9 L289.9 1218.5 L291.8 1219.2 L293.7 1219.9 L295.5 1220.6 L297.4 1221.4 L299.2 1222.3 L301.1 1223.3 L303.0 1224.4 L304.8 1225.6 L306.7 1226.9 L308.5 1228.3 L310.4 1229.8 L312.3 1231.5 L314.1 1233.3 L316.0 1235.2 L317.8 1237.4 L319.7 1239.7 L321.6 1242.2 L323.4 1244.9 L325.3 1247.8 L327.1 1251.0 L329.0 1254.4 L330.9 1258.1 L332.7 1262.1 L334.6 1266.4 L336.5 1270.9 L338.3 1275.8 L340.2 1281.0 L342.0 1286.6 L343.9 1292.5 L345.8 1298.7 L347.6 1305.4 L349.5 1312.3 L351.3 1319.7 L353.2 1327.3 L355.1 1335.4 L356.9 1343.7 L358.8 1352.4 L360.6 1361.3 L362.5 1370.5 L364.4 1380.0 L366.2 1389.6 L368.1 1399.5 L369.9 1409.4 L371.8 1419.4 L373.7 1429.5 L375.5 1439.6 L377.4 1449.6 L379.3 1459.5 L381.1 1469.3 L383.0 1479.0 L384.8 1488.4 L386.7 1497.6 L388.6 1506.6 L390.4 1515.2 L392.3 1523.6 L394.1 1531.6 L396.0 1539.3 L397.9 1546.6 L399.7 1553.6 L401.6 1560.2 L403.4 1566.5 L405.3 1572.4 L407.2 1577.9 L409.0 1583.2 L410.9 1588.0 L412.7 1592.6 L414.6 1596.9 L416.5 1600.8 L418.3 1604.5 L420.2 1608.0 L422.1 1611.1 L423.9 1614.1 L425.8 1616.8 L427.6 1619.3 L429.5 1621.6 L431.4 1623.7 L433.2 1625.7 L435.1 1627.5 L436.9 1629.2 L438.8 1630.7 L440.7 1632.1 L442.5 1633.4 L444.4 1634.6 L446.2 1635.6 L448.1 1636.6 L450.0 1637.5 L451.8 1638.4 L453.7 1639.1 L455.5 1639.8 L457.4 1640.4 L459.3 1641.0 L461.1 1641.6 L463.0 1642.0 L464.9 1642.5 L466.7 1642.9 L468.6 1643.3 L470.4 1643.6 L472.3 1643.9 L474.2 1644.2 L476.0 1644.4 L477.9 1644.7 L479.7 1644.9 L481.6 1645.1 L483.5 1645.2 L485.3 1645.4 L487.2 1645.6 L489.0 1645.7 L490.9 1645.8 L492.8 1645.9 L494.6 1646.0 L496.5 1646.1 L498.3 1646.2 L500.2 1646.3 L502.1 1646.4 L503.9 1646.4 L505.8 1646.5 L507.7 1646.5 L509.5 1646.6 L511.4 1646.6 L513.2 1646.7 L515.1 1646.7 L517.0 1646.7 L518.8 1646.8 L520.7 1646.8 L522.5 1646.8 L524.4 1646.8 L526.3 1646.9 L528.1 1646.9 L530.0 1646.9 L531.8 1646.9 L533.7 1646.9 L535.6 1646.9 L537.4 1647.0 L539.3 1647.0 L541.1 1647.0 L543.0 1647.0 L544.9 1647.0 L546.7 1647.0 L548.6 1647.0 L550.5 1647.0 L552.3 1647.0 L554.2 1647.0 L556.0 1647.0 L557.9 1647.0 L559.8 1647.0 L561.6 1647.0 L563.5 1647.1 L565.3 1647.1 L567.2 1647.1 L569.1 1647.1 L570.9 1647.1 L572.8 1647.1 L574.6 1647.1 L576.5 1647.1 L578.4 1647.1 L580.2 1647.1 L582.1 1647.1 L583.9 1647.1 L585.8 1647.1 L587.7 1647.1 L589.5 1647.1 L591.4 1647.1 L593.3 1647.1 L595.1 1647.1 L597.0 1647.1 L598.8 1647.1 L600.7 1647.1 L602.6 1647.1 L604.4 1647.1 L606.3 1647.1 L608.1 1647.1 L610.0 1647.1 L611.9 1647.1 L613.7 1647.1 L615.6 1647.1 L617.4 1647.1 L619.3 1647.1 L621.2 1647.1 L623.0 1647.1 L624.9 1647.1 L626.7 1647.1 L628.6 1647.1 L630.5 1647.1" fill="none" stroke="#a00000" stroke-width="3" stroke-linejoin="round" stroke-linecap="butt"/>
<circle cx="404.70" cy="1239.40" r="10.90" fill="#000"/>
<circle cx="404.70" cy="1278.40" r="10.90" fill="#ff0000"/>
<text transform="matrix(0.2736,0.0000,0.0000,0.2645,448.2733,1248.8000)" font-size="100" font-weight="bold" font-style="normal" fill="#000" stroke="#000" stroke-width="5.204" stroke-linejoin="miter" stroke-miterlimit="2.5" letter-spacing="8.00">WT</text>
<text transform="matrix(0.2803,0.0000,0.0000,0.2492,450.1579,1287.6566)" font-size="100" font-weight="bold" font-style="italic" fill="#000" stroke="#000" stroke-width="5.297" stroke-linejoin="miter" stroke-miterlimit="2.5" letter-spacing="6.00">Sorbs2</text>
<text transform="matrix(0.2817,0.0000,0.0000,0.2585,558.8154,1287.6476)" font-size="100" font-weight="bold" font-style="normal" fill="#000" stroke="#000" stroke-width="5.188" stroke-linejoin="miter" stroke-miterlimit="2.5" letter-spacing="5.00">KO</text>
<text transform="matrix(0.0000,-0.4364,0.3680,0.0000,53.6633,1529.6195)" font-size="100" font-weight="bold" font-style="normal" fill="#000" stroke="#000" stroke-width="5.490" stroke-linejoin="miter" stroke-miterlimit="2.5" letter-spacing="5.00">I/Imax</text>
<text transform="matrix(0.4715,0.0000,0.0000,0.3684,260.6777,1787.9934)" font-size="100" font-weight="bold" font-style="normal" fill="#000" stroke="#000" stroke-width="5.279" stroke-linejoin="miter" stroke-miterlimit="2.5">Voltage (mV)</text>
<line x1="856.50" y1="1203.00" x2="856.50" y2="1674.50" stroke="#000" stroke-width="2.8" stroke-linecap="butt"/>
<line x1="855.10" y1="1673.10" x2="1300.90" y2="1673.10" stroke="#000" stroke-width="2.8" stroke-linecap="butt"/>
<line x1="835.50" y1="1652.40" x2="856.50" y2="1652.40" stroke="#000" stroke-width="2.8" stroke-linecap="butt"/>
<text transform="matrix(1,0,0,1.070,824.50,1664.92)" font-size="34" text-anchor="end" fill="#000">0.0</text>
<line x1="835.50" y1="1562.70" x2="856.50" y2="1562.70" stroke="#000" stroke-width="2.8" stroke-linecap="butt"/>
<text transform="matrix(1,0,0,1.070,824.50,1575.22)" font-size="34" text-anchor="end" fill="#000">0.2</text>
<line x1="835.50" y1="1473.00" x2="856.50" y2="1473.00" stroke="#000" stroke-width="2.8" stroke-linecap="butt"/>
<text transform="matrix(1,0,0,1.070,824.50,1485.52)" font-size="34" text-anchor="end" fill="#000">0.4</text>
<line x1="835.50" y1="1383.30" x2="856.50" y2="1383.30" stroke="#000" stroke-width="2.8" stroke-linecap="butt"/>
<text transform="matrix(1,0,0,1.070,824.50,1395.82)" font-size="34" text-anchor="end" fill="#000">0.6</text>
<line x1="835.50" y1="1293.60" x2="856.50" y2="1293.60" stroke="#000" stroke-width="2.8" stroke-linecap="butt"/>
<text transform="matrix(1,0,0,1.070,824.50,1306.12)" font-size="34" text-anchor="end" fill="#000">0.8</text>
<line x1="835.50" y1="1203.90" x2="856.50" y2="1203.90" stroke="#000" stroke-width="2.8" stroke-linecap="butt"/>
<text transform="matrix(1,0,0,1.070,824.50,1216.42)" font-size="34" text-anchor="end" fill="#000">1.0</text>
<line x1="872.00" y1="1673.10" x2="872.00" y2="1694.10" stroke="#000" stroke-width="2.8" stroke-linecap="butt"/>
<text transform="matrix(1,0,0,1.070,872.00,1736.79)" font-size="34" text-anchor="middle" fill="#000">0</text>
<line x1="979.05" y1="1673.10" x2="979.05" y2="1694.10" stroke="#000" stroke-width="2.8" stroke-linecap="butt"/>
<text transform="matrix(1,0,0,1.070,979.05,1736.79)" font-size="34" text-anchor="middle" fill="#000">500</text>
<line x1="1086.10" y1="1673.10" x2="1086.10" y2="1694.10" stroke="#000" stroke-width="2.8" stroke-linecap="butt"/>
<text transform="matrix(1,0,0,1.070,1086.10,1736.79)" font-size="34" text-anchor="middle" fill="#000">1000</text>
<line x1="1193.15" y1="1673.10" x2="1193.15" y2="1694.10" stroke="#000" stroke-width="2.8" stroke-linecap="butt"/>
<text transform="matrix(1,0,0,1.070,1193.15,1736.79)" font-size="34" text-anchor="middle" fill="#000">1500</text>
<line x1="1300.20" y1="1673.10" x2="1300.20" y2="1694.10" stroke="#000" stroke-width="2.8" stroke-linecap="butt"/>
<text transform="matrix(1,0,0,1.070,1300.20,1736.79)" font-size="34" text-anchor="middle" fill="#000">2000</text>
<circle cx="872.00" cy="1652.40" r="12.70" fill="#000"/>
<path d="M893.4 1413.6 L893.4 1513.6 M884.9 1413.6 L901.9 1413.6 M884.9 1513.6 L901.9 1513.6" stroke="#000" stroke-width="2.6" fill="none"/>
<circle cx="893.41" cy="1463.58" r="12.70" fill="#000"/>
<path d="M914.8 1288.6 L914.8 1350.6 M906.3 1288.6 L923.3 1288.6 M906.3 1350.6 L923.3 1350.6" stroke="#000" stroke-width="2.6" fill="none"/>
<circle cx="914.82" cy="1319.61" r="12.70" fill="#000"/>
<path d="M936.2 1237.4 L936.2 1283.4 M927.7 1237.4 L944.7 1237.4 M927.7 1283.4 L944.7 1283.4" stroke="#000" stroke-width="2.6" fill="none"/>
<circle cx="936.23" cy="1260.41" r="12.70" fill="#000"/>
<path d="M957.6 1228.6 L957.6 1262.6 M949.1 1228.6 L966.1 1228.6 M949.1 1262.6 L966.1 1262.6" stroke="#000" stroke-width="2.6" fill="none"/>
<circle cx="957.64" cy="1245.61" r="12.70" fill="#000"/>
<path d="M979.0 1216.6 L979.0 1240.6 M970.5 1216.6 L987.5 1216.6 M970.5 1240.6 L987.5 1240.6" stroke="#000" stroke-width="2.6" fill="none"/>
<circle cx="979.05" cy="1228.57" r="12.70" fill="#000"/>
<path d="M1000.5 1204.8 L1000.5 1230.8 M992.0 1204.8 L1009.0 1204.8 M992.0 1230.8 L1009.0 1230.8" stroke="#000" stroke-width="2.6" fill="none"/>
<circle cx="1000.46" cy="1217.80" r="12.70" fill="#000"/>
<path d="M1021.9 1206.9 L1021.9 1218.9 M1013.4 1206.9 L1030.4 1206.9 M1013.4 1218.9 L1030.4 1218.9" stroke="#000" stroke-width="2.6" fill="none"/>
<circle cx="1021.87" cy="1212.87" r="12.70" fill="#000"/>
<path d="M1043.3 1206.5 L1043.3 1216.5 M1034.8 1206.5 L1051.8 1206.5 M1034.8 1216.5 L1051.8 1216.5" stroke="#000" stroke-width="2.6" fill="none"/>
<circle cx="1043.28" cy="1211.52" r="12.70" fill="#000"/>
<path d="M1064.7 1201.2 L1064.7 1209.2 M1056.2 1201.2 L1073.2 1201.2 M1056.2 1209.2 L1073.2 1209.2" stroke="#000" stroke-width="2.6" fill="none"/>
<circle cx="1064.69" cy="1205.25" r="12.70" fill="#000"/>
<circle cx="1086.10" cy="1206.59" r="12.70" fill="#000"/>
<circle cx="1107.51" cy="1208.39" r="12.70" fill="#000"/>
<circle cx="1128.92" cy="1205.25" r="12.70" fill="#000"/>
<circle cx="1150.33" cy="1208.39" r="12.70" fill="#000"/>
<circle cx="1171.74" cy="1208.39" r="12.70" fill="#000"/>
<circle cx="1193.15" cy="1205.25" r="12.70" fill="#000"/>
<circle cx="1214.56" cy="1206.59" r="12.70" fill="#000"/>
<circle cx="1235.97" cy="1205.25" r="12.70" fill="#000"/>
<circle cx="1257.38" cy="1205.25" r="12.70" fill="#000"/>
<circle cx="1278.79" cy="1205.25" r="12.70" fill="#000"/>
<circle cx="872.00" cy="1652.40" r="12.70" fill="#ff0000"/>
<path d="M893.4 1431.6 L893.4 1521.6 M884.9 1431.6 L901.9 1431.6 M884.9 1521.6 L901.9 1521.6" stroke="#ff0000" stroke-width="2.6" fill="none"/>
<circle cx="893.41" cy="1476.59" r="12.70" fill="#ff0000"/>
<path d="M914.8 1361.2 L914.8 1451.2 M906.3 1361.2 L923.3 1361.2 M906.3 1451.2 L923.3 1451.2" stroke="#ff0000" stroke-width="2.6" fill="none"/>
<circle cx="914.82" cy="1406.17" r="12.70" fill="#ff0000"/>
<path d="M936.2 1287.1 L936.2 1395.1 M927.7 1287.1 L944.7 1287.1 M927.7 1395.1 L944.7 1395.1" stroke="#ff0000" stroke-width="2.6" fill="none"/>
<circle cx="936.23" cy="1341.14" r="12.70" fill="#ff0000"/>
<path d="M957.6 1259.9 L957.6 1329.9 M949.1 1259.9 L966.1 1259.9 M949.1 1329.9 L966.1 1329.9" stroke="#ff0000" stroke-width="2.6" fill="none"/>
<circle cx="957.64" cy="1294.95" r="12.70" fill="#ff0000"/>
<path d="M979.0 1238.1 L979.0 1288.1 M970.5 1238.1 L987.5 1238.1 M970.5 1288.1 L987.5 1288.1" stroke="#ff0000" stroke-width="2.6" fill="none"/>
<circle cx="979.05" cy="1263.10" r="12.70" fill="#ff0000"/>
<path d="M1000.5 1230.8 L1000.5 1282.8 M992.0 1230.8 L1009.0 1230.8 M992.0 1282.8 L1009.0 1282.8" stroke="#ff0000" stroke-width="2.6" fill="none"/>
<circle cx="1000.46" cy="1256.82" r="12.70" fill="#ff0000"/>
<path d="M1021.9 1224.1 L1021.9 1284.1 M1013.4 1224.1 L1030.4 1224.1 M1013.4 1284.1 L1030.4 1284.1" stroke="#ff0000" stroke-width="2.6" fill="none"/>
<circle cx="1021.87" cy="1254.13" r="12.70" fill="#ff0000"/>
<path d="M1043.3 1218.7 L1043.3 1262.7 M1034.8 1218.7 L1051.8 1218.7 M1034.8 1262.7 L1051.8 1262.7" stroke="#ff0000" stroke-width="2.6" fill="none"/>
<circle cx="1043.28" cy="1240.68" r="12.70" fill="#ff0000"/>
<path d="M1064.7 1219.5 L1064.7 1229.5 M1056.2 1219.5 L1073.2 1219.5 M1056.2 1229.5 L1073.2 1229.5" stroke="#ff0000" stroke-width="2.6" fill="none"/>
<circle cx="1064.69" cy="1224.53" r="12.70" fill="#ff0000"/>
<path d="M1086.1 1210.7 L1086.1 1218.7 M1077.6 1210.7 L1094.6 1210.7 M1077.6 1218.7 L1094.6 1218.7" stroke="#ff0000" stroke-width="2.6" fill="none"/>
<circle cx="1086.10" cy="1214.66" r="12.70" fill="#ff0000"/>
<circle cx="1107.51" cy="1211.52" r="12.70" fill="#ff0000"/>
<circle cx="1128.92" cy="1216.01" r="12.70" fill="#ff0000"/>
<circle cx="1150.33" cy="1216.01" r="12.70" fill="#ff0000"/>
<circle cx="1171.74" cy="1204.80" r="12.70" fill="#ff0000"/>
<circle cx="1193.15" cy="1206.14" r="12.70" fill="#ff0000"/>
<circle cx="1214.56" cy="1206.14" r="12.70" fill="#ff0000"/>
<circle cx="1235.97" cy="1204.80" r="12.70" fill="#ff0000"/>
<circle cx="1257.38" cy="1204.80" r="12.70" fill="#ff0000"/>
<circle cx="1278.79" cy="1204.80" r="12.70" fill="#ff0000"/>
<path d="M872.0 1652.4 L873.1 1638.5 L874.1 1625.0 L875.2 1612.0 L876.3 1599.3 L877.4 1587.1 L878.4 1575.2 L879.5 1563.7 L880.6 1552.6 L881.6 1541.8 L882.7 1531.3 L883.8 1521.2 L884.8 1511.4 L885.9 1501.9 L887.0 1492.7 L888.1 1483.8 L889.1 1475.1 L890.2 1466.7 L891.3 1458.6 L892.3 1450.7 L893.4 1443.1 L894.5 1435.7 L895.6 1428.6 L896.6 1421.7 L897.7 1414.9 L898.8 1408.4 L899.8 1402.1 L900.9 1396.0 L902.0 1390.1 L903.0 1384.4 L904.1 1378.8 L905.2 1373.5 L906.3 1368.2 L907.3 1363.2 L908.4 1358.3 L909.5 1353.6 L910.5 1349.0 L911.6 1344.5 L912.7 1340.2 L913.7 1336.0 L914.8 1332.0 L915.9 1328.1 L917.0 1324.3 L918.0 1320.6 L919.1 1317.0 L920.2 1313.6 L921.2 1310.2 L922.3 1307.0 L923.4 1303.8 L924.5 1300.8 L925.5 1297.9 L926.6 1295.0 L927.7 1292.2 L928.7 1289.5 L929.8 1286.9 L930.9 1284.4 L931.9 1282.0 L933.0 1279.6 L934.1 1277.3 L935.2 1275.1 L936.2 1273.0 L937.3 1270.9 L938.4 1268.9 L939.4 1266.9 L940.5 1265.0 L941.6 1263.2 L942.7 1261.4 L943.7 1259.7 L944.8 1258.0 L945.9 1256.4 L946.9 1254.8 L948.0 1253.3 L949.1 1251.9 L950.1 1250.4 L951.2 1249.1 L952.3 1247.7 L953.4 1246.4 L954.4 1245.2 L955.5 1244.0 L956.6 1242.8 L957.6 1241.6 L958.7 1240.5 L959.8 1239.5 L960.9 1238.4 L961.9 1237.4 L963.0 1236.4 L964.1 1235.5 L965.1 1234.6 L966.2 1233.7 L967.3 1232.8 L968.3 1232.0 L969.4 1231.2 L970.5 1230.4 L971.6 1229.7 L972.6 1228.9 L973.7 1228.2 L974.8 1227.5 L975.8 1226.9 L976.9 1226.2 L978.0 1225.6 L979.0 1225.0 L980.1 1224.4 L981.2 1223.8 L982.3 1223.3 L983.3 1222.7 L984.4 1222.2 L985.5 1221.7 L986.5 1221.2 L987.6 1220.8 L988.7 1220.3 L989.8 1219.9 L990.8 1219.4 L991.9 1219.0 L993.0 1218.6 L994.0 1218.2 L995.1 1217.9 L996.2 1217.5 L997.2 1217.1 L998.3 1216.8 L999.4 1216.5 L1000.5 1216.2 L1001.5 1215.8 L1002.6 1215.5 L1003.7 1215.2 L1004.7 1215.0 L1005.8 1214.7 L1006.9 1214.4 L1008.0 1214.2 L1009.0 1213.9 L1010.1 1213.7 L1011.2 1213.4 L1012.2 1213.2 L1013.3 1213.0 L1014.4 1212.8 L1015.4 1212.6 L1016.5 1212.4 L1017.6 1212.2 L1018.7 1212.0 L1019.7 1211.8 L1020.8 1211.6 L1021.9 1211.5 L1022.9 1211.3 L1024.0 1211.1 L1025.1 1211.0 L1026.2 1210.8 L1027.2 1210.7 L1028.3 1210.5 L1029.4 1210.4 L1030.4 1210.3 L1031.5 1210.1 L1032.6 1210.0 L1033.6 1209.9 L1034.7 1209.8 L1035.8 1209.7 L1036.9 1209.6 L1037.9 1209.4 L1039.0 1209.3 L1040.1 1209.2 L1041.1 1209.1 L1042.2 1209.1 L1043.3 1209.0 L1044.4 1208.9 L1045.4 1208.8 L1046.5 1208.7 L1047.6 1208.6 L1048.6 1208.6 L1049.7 1208.5 L1050.8 1208.4 L1051.8 1208.3 L1052.9 1208.3 L1054.0 1208.2 L1055.1 1208.1 L1056.1 1208.1 L1057.2 1208.0 L1058.3 1208.0 L1059.3 1207.9 L1060.4 1207.8 L1061.5 1207.8 L1062.5 1207.7 L1063.6 1207.7 L1064.7 1207.6 L1065.8 1207.6 L1066.8 1207.5 L1067.9 1207.5 L1069.0 1207.5 L1070.0 1207.4 L1071.1 1207.4 L1072.2 1207.3 L1073.3 1207.3 L1074.3 1207.3 L1075.4 1207.2 L1076.5 1207.2 L1077.5 1207.2 L1078.6 1207.1 L1079.7 1207.1 L1080.7 1207.1 L1081.8 1207.0 L1082.9 1207.0 L1084.0 1207.0 L1085.0 1207.0 L1086.1 1206.9 L1087.2 1206.9 L1088.2 1206.9 L1089.3 1206.9 L1090.4 1206.8 L1091.5 1206.8 L1092.5 1206.8 L1093.6 1206.8 L1094.7 1206.8 L1095.7 1206.7 L1096.8 1206.7 L1097.9 1206.7 L1098.9 1206.7 L1100.0 1206.7 L1101.1 1206.7 L1102.2 1206.6 L1103.2 1206.6 L1104.3 1206.6 L1105.4 1206.6 L1106.4 1206.6 L1107.5 1206.6 L1108.6 1206.6 L1109.7 1206.5 L1110.7 1206.5 L1111.8 1206.5 L1112.9 1206.5 L1113.9 1206.5 L1115.0 1206.5 L1116.1 1206.5 L1117.1 1206.5 L1118.2 1206.5 L1119.3 1206.4 L1120.4 1206.4 L1121.4 1206.4 L1122.5 1206.4 L1123.6 1206.4 L1124.6 1206.4 L1125.7 1206.4 L1126.8 1206.4 L1127.8 1206.4 L1128.9 1206.4 L1130.0 1206.4 L1131.1 1206.4 L1132.1 1206.3 L1133.2 1206.3 L1134.3 1206.3 L1135.3 1206.3 L1136.4 1206.3 L1137.5 1206.3 L1138.6 1206.3 L1139.6 1206.3 L1140.7 1206.3 L1141.8 1206.3 L1142.8 1206.3 L1143.9 1206.3 L1145.0 1206.3 L1146.0 1206.3 L1147.1 1206.3 L1148.2 1206.3 L1149.3 1206.3 L1150.3 1206.3 L1151.4 1206.3 L1152.5 1206.3 L1153.5 1206.3 L1154.6 1206.2 L1155.7 1206.2 L1156.8 1206.2 L1157.8 1206.2 L1158.9 1206.2 L1160.0 1206.2 L1161.0 1206.2 L1162.1 1206.2 L1163.2 1206.2 L1164.2 1206.2 L1165.3 1206.2 L1166.4 1206.2 L1167.5 1206.2 L1168.5 1206.2 L1169.6 1206.2 L1170.7 1206.2 L1171.7 1206.2 L1172.8 1206.2 L1173.9 1206.2 L1175.0 1206.2 L1176.0 1206.2 L1177.1 1206.2 L1178.2 1206.2 L1179.2 1206.2 L1180.3 1206.2 L1181.4 1206.2 L1182.4 1206.2 L1183.5 1206.2 L1184.6 1206.2 L1185.7 1206.2 L1186.7 1206.2 L1187.8 1206.2 L1188.9 1206.2 L1189.9 1206.2 L1191.0 1206.2 L1192.1 1206.2 L1193.2 1206.2 L1194.2 1206.2 L1195.3 1206.2 L1196.4 1206.2 L1197.4 1206.2 L1198.5 1206.2 L1199.6 1206.2 L1200.6 1206.2 L1201.7 1206.2 L1202.8 1206.2 L1203.9 1206.2 L1204.9 1206.2 L1206.0 1206.2 L1207.1 1206.2 L1208.1 1206.2 L1209.2 1206.2 L1210.3 1206.2 L1211.3 1206.2 L1212.4 1206.2 L1213.5 1206.2 L1214.6 1206.2 L1215.6 1206.2 L1216.7 1206.2 L1217.8 1206.2 L1218.8 1206.2 L1219.9 1206.2 L1221.0 1206.2 L1222.1 1206.2 L1223.1 1206.2 L1224.2 1206.2 L1225.3 1206.2 L1226.3 1206.2 L1227.4 1206.2 L1228.5 1206.2 L1229.5 1206.2 L1230.6 1206.2 L1231.7 1206.2 L1232.8 1206.2 L1233.8 1206.2 L1234.9 1206.2 L1236.0 1206.2 L1237.0 1206.2 L1238.1 1206.2 L1239.2 1206.2 L1240.3 1206.2 L1241.3 1206.2 L1242.4 1206.2 L1243.5 1206.2 L1244.5 1206.1 L1245.6 1206.1 L1246.7 1206.1 L1247.7 1206.1 L1248.8 1206.1 L1249.9 1206.1 L1251.0 1206.1 L1252.0 1206.1 L1253.1 1206.1 L1254.2 1206.1 L1255.2 1206.1 L1256.3 1206.1 L1257.4 1206.1 L1258.5 1206.1 L1259.5 1206.1 L1260.6 1206.1 L1261.7 1206.1 L1262.7 1206.1 L1263.8 1206.1 L1264.9 1206.1 L1265.9 1206.1 L1267.0 1206.1 L1268.1 1206.1 L1269.2 1206.1 L1270.2 1206.1 L1271.3 1206.1 L1272.4 1206.1 L1273.4 1206.1 L1274.5 1206.1 L1275.6 1206.1 L1276.6 1206.1 L1277.7 1206.1 L1278.8 1206.1" fill="none" stroke="#000" stroke-width="3" stroke-linejoin="round" stroke-linecap="butt"/>
<path d="M872.0 1652.4 L873.1 1643.4 L874.1 1634.5 L875.2 1625.8 L876.3 1617.3 L877.4 1609.0 L878.4 1600.8 L879.5 1592.9 L880.6 1585.0 L881.6 1577.4 L882.7 1569.9 L883.8 1562.5 L884.8 1555.3 L885.9 1548.2 L887.0 1541.3 L888.1 1534.6 L889.1 1527.9 L890.2 1521.4 L891.3 1515.1 L892.3 1508.8 L893.4 1502.7 L894.5 1496.7 L895.6 1490.9 L896.6 1485.1 L897.7 1479.5 L898.8 1474.0 L899.8 1468.6 L900.9 1463.3 L902.0 1458.1 L903.0 1453.1 L904.1 1448.1 L905.2 1443.2 L906.3 1438.5 L907.3 1433.8 L908.4 1429.2 L909.5 1424.8 L910.5 1420.4 L911.6 1416.1 L912.7 1411.9 L913.7 1407.7 L914.8 1403.7 L915.9 1399.7 L917.0 1395.9 L918.0 1392.1 L919.1 1388.3 L920.2 1384.7 L921.2 1381.1 L922.3 1377.6 L923.4 1374.2 L924.5 1370.9 L925.5 1367.6 L926.6 1364.4 L927.7 1361.2 L928.7 1358.1 L929.8 1355.1 L930.9 1352.1 L931.9 1349.2 L933.0 1346.4 L934.1 1343.6 L935.2 1340.9 L936.2 1338.2 L937.3 1335.6 L938.4 1333.0 L939.4 1330.5 L940.5 1328.0 L941.6 1325.6 L942.7 1323.3 L943.7 1321.0 L944.8 1318.7 L945.9 1316.5 L946.9 1314.3 L948.0 1312.2 L949.1 1310.1 L950.1 1308.0 L951.2 1306.0 L952.3 1304.1 L953.4 1302.2 L954.4 1300.3 L955.5 1298.4 L956.6 1296.6 L957.6 1294.9 L958.7 1293.1 L959.8 1291.4 L960.9 1289.8 L961.9 1288.1 L963.0 1286.6 L964.1 1285.0 L965.1 1283.5 L966.2 1282.0 L967.3 1280.5 L968.3 1279.1 L969.4 1277.6 L970.5 1276.3 L971.6 1274.9 L972.6 1273.6 L973.7 1272.3 L974.8 1271.0 L975.8 1269.8 L976.9 1268.6 L978.0 1267.4 L979.0 1266.2 L980.1 1265.1 L981.2 1263.9 L982.3 1262.8 L983.3 1261.8 L984.4 1260.7 L985.5 1259.7 L986.5 1258.7 L987.6 1257.7 L988.7 1256.7 L989.8 1255.7 L990.8 1254.8 L991.9 1253.9 L993.0 1253.0 L994.0 1252.1 L995.1 1251.3 L996.2 1250.4 L997.2 1249.6 L998.3 1248.8 L999.4 1248.0 L1000.5 1247.2 L1001.5 1246.5 L1002.6 1245.7 L1003.7 1245.0 L1004.7 1244.3 L1005.8 1243.6 L1006.9 1242.9 L1008.0 1242.2 L1009.0 1241.6 L1010.1 1240.9 L1011.2 1240.3 L1012.2 1239.7 L1013.3 1239.1 L1014.4 1238.5 L1015.4 1237.9 L1016.5 1237.4 L1017.6 1236.8 L1018.7 1236.3 L1019.7 1235.7 L1020.8 1235.2 L1021.9 1234.7 L1022.9 1234.2 L1024.0 1233.7 L1025.1 1233.2 L1026.2 1232.7 L1027.2 1232.3 L1028.3 1231.8 L1029.4 1231.4 L1030.4 1231.0 L1031.5 1230.5 L1032.6 1230.1 L1033.6 1229.7 L1034.7 1229.3 L1035.8 1228.9 L1036.9 1228.5 L1037.9 1228.2 L1039.0 1227.8 L1040.1 1227.4 L1041.1 1227.1 L1042.2 1226.7 L1043.3 1226.4 L1044.4 1226.1 L1045.4 1225.7 L1046.5 1225.4 L1047.6 1225.1 L1048.6 1224.8 L1049.7 1224.5 L1050.8 1224.2 L1051.8 1223.9 L1052.9 1223.6 L1054.0 1223.4 L1055.1 1223.1 L1056.1 1222.8 L1057.2 1222.6 L1058.3 1222.3 L1059.3 1222.1 L1060.4 1221.8 L1061.5 1221.6 L1062.5 1221.4 L1063.6 1221.1 L1064.7 1220.9 L1065.8 1220.7 L1066.8 1220.5 L1067.9 1220.3 L1069.0 1220.1 L1070.0 1219.9 L1071.1 1219.7 L1072.2 1219.5 L1073.3 1219.3 L1074.3 1219.1 L1075.4 1218.9 L1076.5 1218.7 L1077.5 1218.6 L1078.6 1218.4 L1079.7 1218.2 L1080.7 1218.0 L1081.8 1217.9 L1082.9 1217.7 L1084.0 1217.6 L1085.0 1217.4 L1086.1 1217.3 L1087.2 1217.1 L1088.2 1217.0 L1089.3 1216.8 L1090.4 1216.7 L1091.5 1216.6 L1092.5 1216.4 L1093.6 1216.3 L1094.7 1216.2 L1095.7 1216.1 L1096.8 1216.0 L1097.9 1215.8 L1098.9 1215.7 L1100.0 1215.6 L1101.1 1215.5 L1102.2 1215.4 L1103.2 1215.3 L1104.3 1215.2 L1105.4 1215.1 L1106.4 1215.0 L1107.5 1214.9 L1108.6 1214.8 L1109.7 1214.7 L1110.7 1214.6 L1111.8 1214.5 L1112.9 1214.4 L1113.9 1214.3 L1115.0 1214.2 L1116.1 1214.2 L1117.1 1214.1 L1118.2 1214.0 L1119.3 1213.9 L1120.4 1213.8 L1121.4 1213.8 L1122.5 1213.7 L1123.6 1213.6 L1124.6 1213.6 L1125.7 1213.5 L1126.8 1213.4 L1127.8 1213.3 L1128.9 1213.3 L1130.0 1213.2 L1131.1 1213.2 L1132.1 1213.1 L1133.2 1213.0 L1134.3 1213.0 L1135.3 1212.9 L1136.4 1212.9 L1137.5 1212.8 L1138.6 1212.8 L1139.6 1212.7 L1140.7 1212.7 L1141.8 1212.6 L1142.8 1212.6 L1143.9 1212.5 L1145.0 1212.5 L1146.0 1212.4 L1147.1 1212.4 L1148.2 1212.3 L1149.3 1212.3 L1150.3 1212.2 L1151.4 1212.2 L1152.5 1212.2 L1153.5 1212.1 L1154.6 1212.1 L1155.7 1212.0 L1156.8 1212.0 L1157.8 1212.0 L1158.9 1211.9 L1160.0 1211.9 L1161.0 1211.8 L1162.1 1211.8 L1163.2 1211.8 L1164.2 1211.7 L1165.3 1211.7 L1166.4 1211.7 L1167.5 1211.7 L1168.5 1211.6 L1169.6 1211.6 L1170.7 1211.6 L1171.7 1211.5 L1172.8 1211.5 L1173.9 1211.5 L1175.0 1211.5 L1176.0 1211.4 L1177.1 1211.4 L1178.2 1211.4 L1179.2 1211.4 L1180.3 1211.3 L1181.4 1211.3 L1182.4 1211.3 L1183.5 1211.3 L1184.6 1211.2 L1185.7 1211.2 L1186.7 1211.2 L1187.8 1211.2 L1188.9 1211.2 L1189.9 1211.1 L1191.0 1211.1 L1192.1 1211.1 L1193.2 1211.1 L1194.2 1211.1 L1195.3 1211.0 L1196.4 1211.0 L1197.4 1211.0 L1198.5 1211.0 L1199.6 1211.0 L1200.6 1211.0 L1201.7 1210.9 L1202.8 1210.9 L1203.9 1210.9 L1204.9 1210.9 L1206.0 1210.9 L1207.1 1210.9 L1208.1 1210.9 L1209.2 1210.8 L1210.3 1210.8 L1211.3 1210.8 L1212.4 1210.8 L1213.5 1210.8 L1214.6 1210.8 L1215.6 1210.8 L1216.7 1210.7 L1217.8 1210.7 L1218.8 1210.7 L1219.9 1210.7 L1221.0 1210.7 L1222.1 1210.7 L1223.1 1210.7 L1224.2 1210.7 L1225.3 1210.7 L1226.3 1210.7 L1227.4 1210.6 L1228.5 1210.6 L1229.5 1210.6 L1230.6 1210.6 L1231.7 1210.6 L1232.8 1210.6 L1233.8 1210.6 L1234.9 1210.6 L1236.0 1210.6 L1237.0 1210.6 L1238.1 1210.6 L1239.2 1210.5 L1240.3 1210.5 L1241.3 1210.5 L1242.4 1210.5 L1243.5 1210.5 L1244.5 1210.5 L1245.6 1210.5 L1246.7 1210.5 L1247.7 1210.5 L1248.8 1210.5 L1249.9 1210.5 L1251.0 1210.5 L1252.0 1210.5 L1253.1 1210.5 L1254.2 1210.5 L1255.2 1210.5 L1256.3 1210.4 L1257.4 1210.4 L1258.5 1210.4 L1259.5 1210.4 L1260.6 1210.4 L1261.7 1210.4 L1262.7 1210.4 L1263.8 1210.4 L1264.9 1210.4 L1265.9 1210.4 L1267.0 1210.4 L1268.1 1210.4 L1269.2 1210.4 L1270.2 1210.4 L1271.3 1210.4 L1272.4 1210.4 L1273.4 1210.4 L1274.5 1210.4 L1275.6 1210.4 L1276.6 1210.4 L1277.7 1210.4 L1278.8 1210.4" fill="none" stroke="#a00000" stroke-width="3" stroke-linejoin="round" stroke-linecap="butt"/>
<circle cx="1106.00" cy="1550.40" r="10.90" fill="#000"/>
<circle cx="1106.00" cy="1589.40" r="10.90" fill="#ff0000"/>
<text transform="matrix(0.2693,0.0000,0.0000,0.2674,1149.8737,1560.2000)" font-size="100" font-weight="bold" font-style="normal" fill="#000" stroke="#000" stroke-width="5.217" stroke-linejoin="miter" stroke-miterlimit="2.5" letter-spacing="8.00">WT</text>
<text transform="matrix(0.2778,0.0000,0.0000,0.2574,1151.7608,1599.0487)" font-size="100" font-weight="bold" font-style="italic" fill="#000" stroke="#000" stroke-width="5.236" stroke-linejoin="miter" stroke-miterlimit="2.5" letter-spacing="6.00">Sorbs2</text>
<text transform="matrix(0.2817,0.0000,0.0000,0.2669,1260.3154,1599.0393)" font-size="100" font-weight="bold" font-style="normal" fill="#000" stroke="#000" stroke-width="5.105" stroke-linejoin="miter" stroke-miterlimit="2.5" letter-spacing="5.00">KO</text>
<text transform="matrix(0.0000,-0.3618,0.3693,0.0000,739.5607,1574.4203)" font-size="100" font-weight="bold" font-style="normal" fill="#000" stroke="#000" stroke-width="6.018" stroke-linejoin="miter" stroke-miterlimit="2.5" letter-spacing="12.00">I/I</text>
<text transform="matrix(0.0000,-0.3216,0.2585,0.0000,751.6346,1533.0514)" font-size="100" font-weight="bold" font-style="normal" fill="#000" stroke="#000" stroke-width="5.549" stroke-linejoin="miter" stroke-miterlimit="2.5">Prepulse</text>
<text transform="matrix(0.4759,0.0000,0.0000,0.3744,816.1163,1787.6302)" font-size="100" font-weight="bold" font-style="normal" fill="#000" stroke="#000" stroke-width="5.212" stroke-linejoin="miter" stroke-miterlimit="2.5">Interpulse Interval (ms)</text>
</svg>
</body></html>
